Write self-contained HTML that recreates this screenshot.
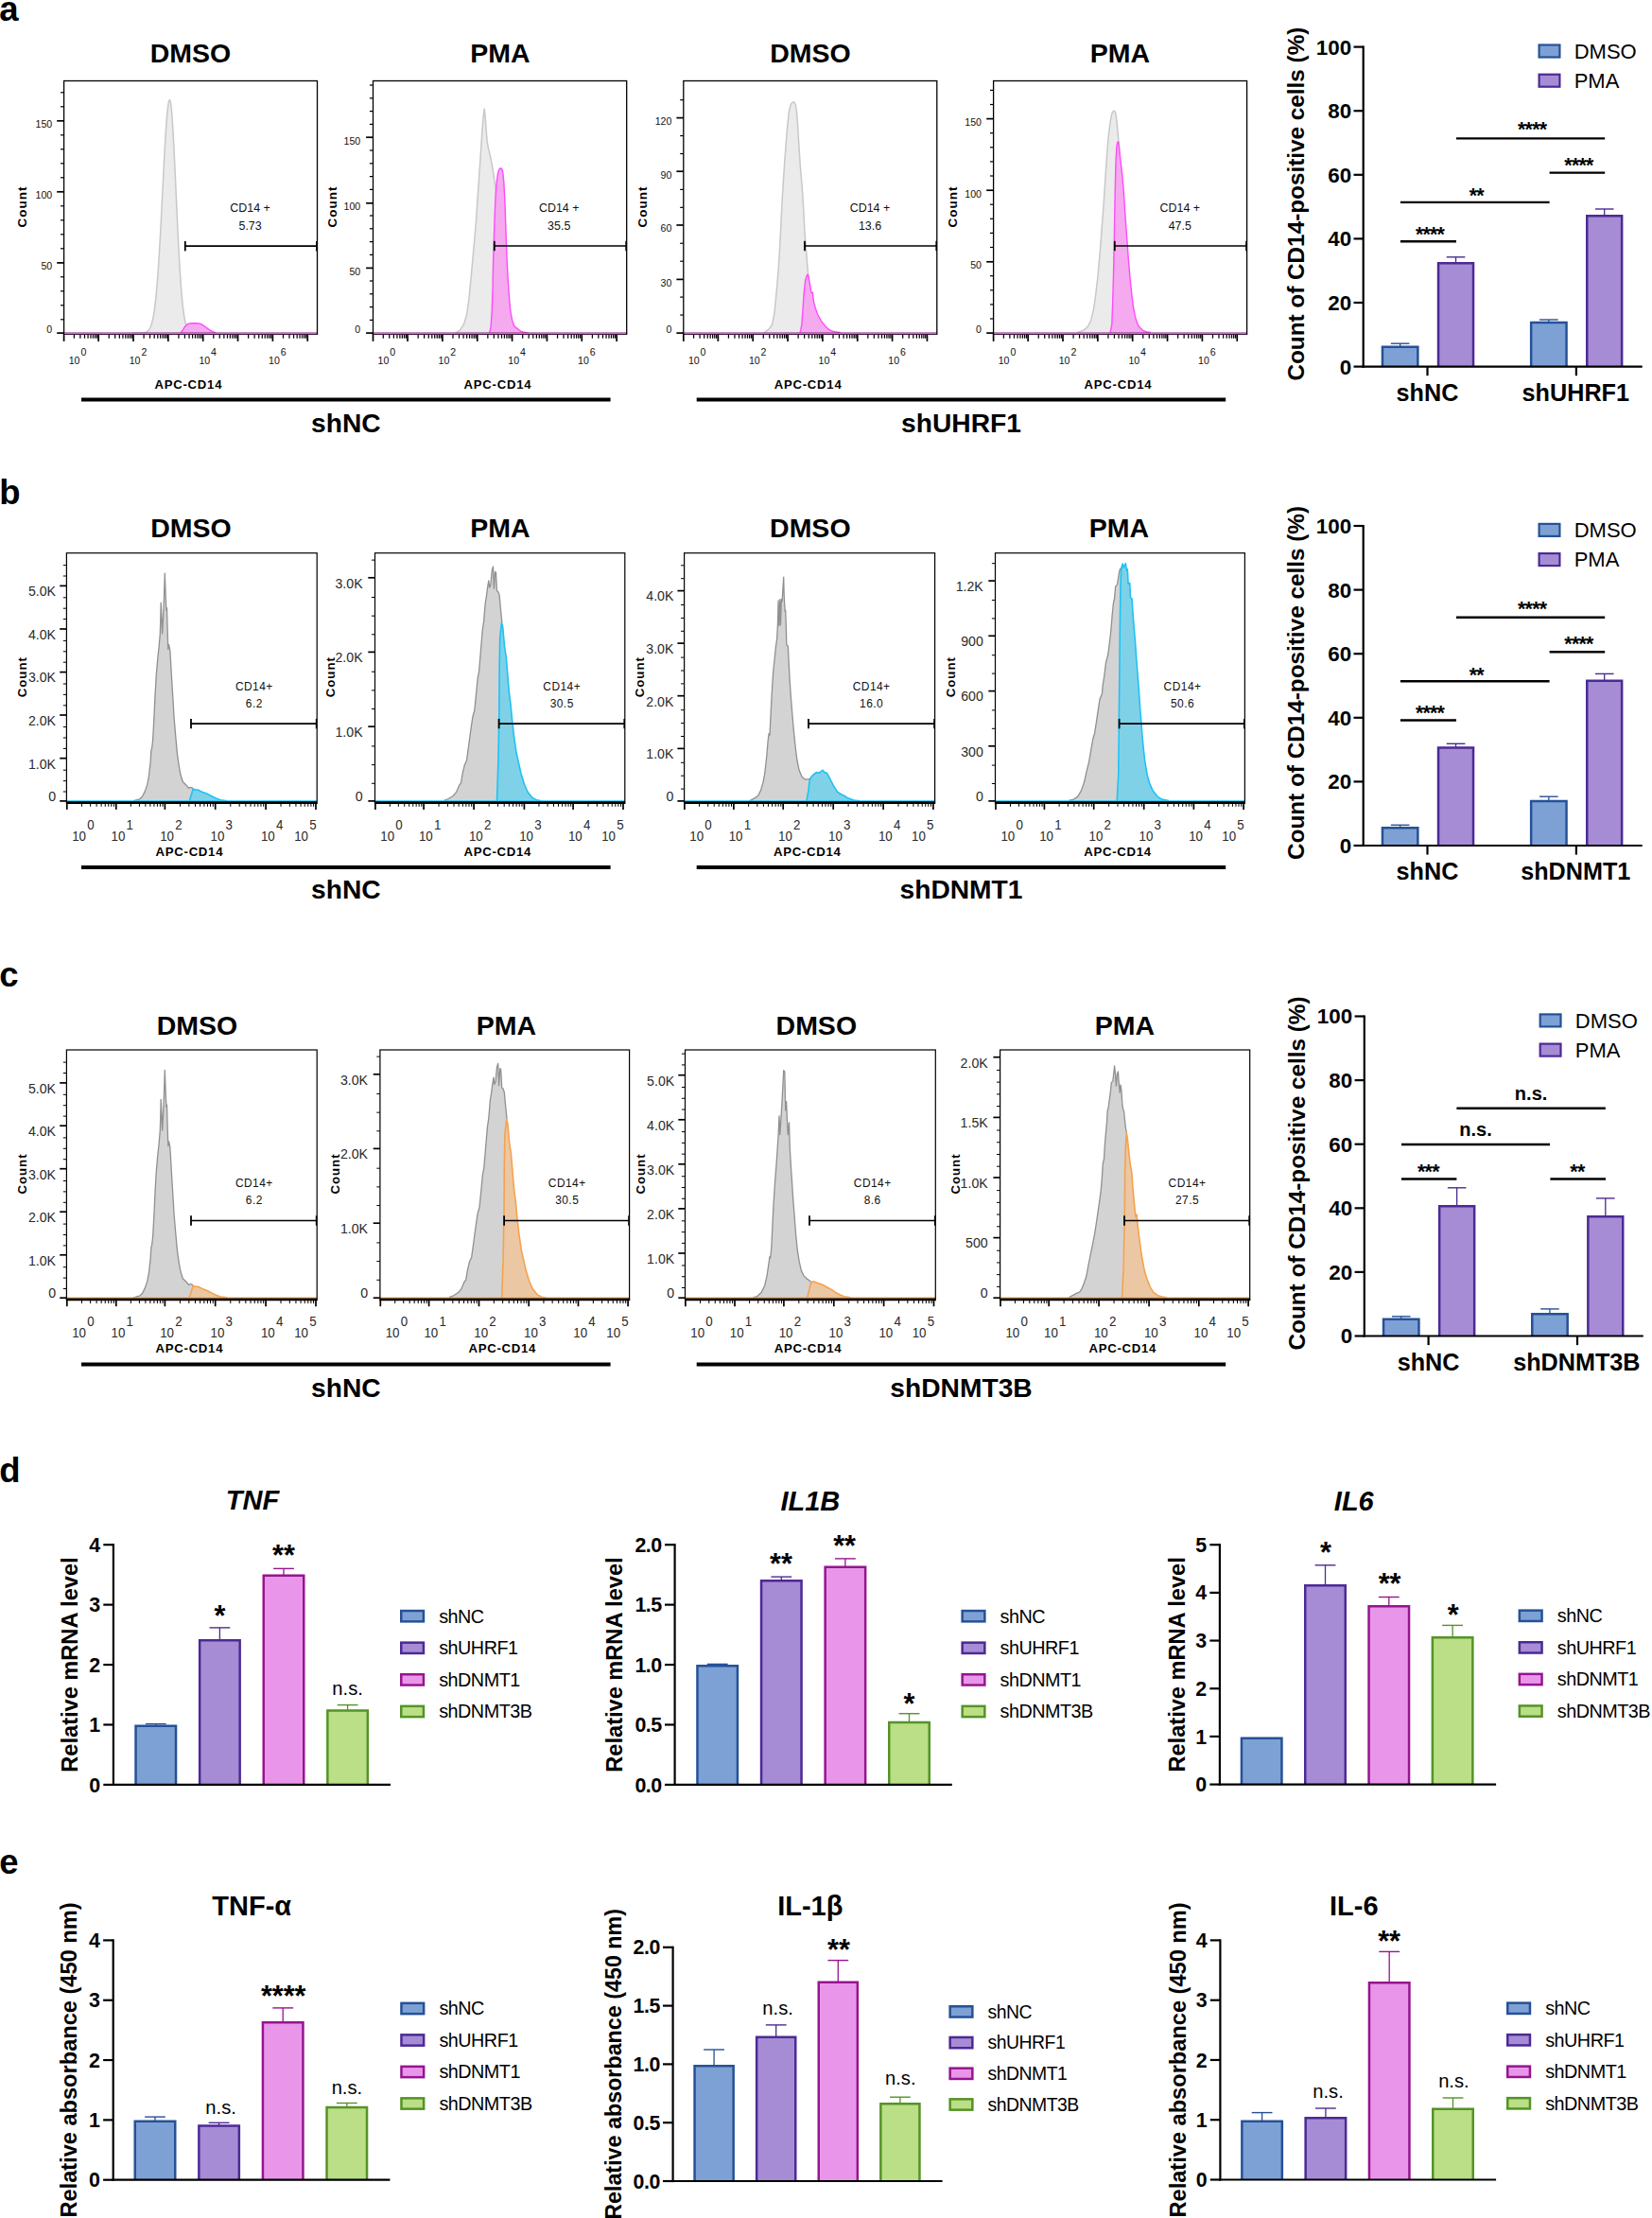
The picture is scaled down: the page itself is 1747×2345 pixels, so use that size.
<!DOCTYPE html>
<html lang="en"><head><meta charset="utf-8"><title>Figure</title>
<style>html,body{margin:0;padding:0;background:#fff}body{width:1747px;height:2345px;overflow:hidden}svg{display:block}text{white-space:pre}</style></head>
<body>
<svg width="1747" height="2345" viewBox="0 0 1747 2345" font-family='"Liberation Sans", Arial, Helvetica, sans-serif' fill="#000">
<rect x="0" y="0" width="1747" height="2345" fill="#fff"/>
<text x="-0.8" y="22.2" font-size="36.5" font-weight="bold">a</text>
<text x="-0.8" y="532.8" font-size="36.5" font-weight="bold">b</text>
<text x="-0.8" y="1043" font-size="36.5" font-weight="bold">c</text>
<text x="-0.8" y="1567.3" font-size="36.5" font-weight="bold">d</text>
<text x="-0.8" y="1981" font-size="36.5" font-weight="bold">e</text>
<path d="M140 352.1 L140 352.1 L140.5 352.1 L141 352.1 L141.5 352.1 L142 352.1 L142.5 352.1 L143 352.1 L143.5 352.1 L144 352.1 L144.5 352.1 L145 352.1 L145.5 352.1 L146 352.1 L146.5 352.1 L147 352.1 L147.5 352.1 L148 352.1 L148.5 352 L149 352 L149.5 352 L150 352 L150.5 352 L151 351.9 L151.5 351.9 L152 351.8 L152.5 351.7 L153 351.6 L153.5 351.5 L154 351.3 L154.5 351.1 L155 350.9 L155.5 350.6 L156 350.2 L156.5 349.8 L157 349.3 L157.5 348.6 L158 347.9 L158.5 347 L159 346 L159.5 344.8 L160 343.4 L160.5 341.8 L161 339.9 L161.5 337.8 L162 335.4 L162.5 332.6 L163 329.5 L163.5 326 L164 322.2 L164.5 317.8 L165 313.1 L165.5 307.8 L166 302.1 L166.5 295.9 L167 289.3 L167.5 282.1 L168 274.5 L168.5 266.4 L169 257.9 L169.5 249 L170 239.7 L170.5 230.2 L171 220.4 L171.5 210.6 L172 200.6 L172.5 190.7 L173 180.8 L173.5 171.2 L174 161.9 L174.5 153 L175 144.6 L175.5 136.8 L176 129.7 L176.5 123.4 L177 117.9 L177.5 113.4 L178 109.9 L178.5 107.4 L179 106 L179.5 105.6 L180 106.6 L180.5 108.9 L181 112.5 L181.5 117.4 L182 123.5 L182.5 130.6 L183 138.7 L183.5 147.7 L184 157.4 L184.5 167.6 L185 178.3 L185.5 189.2 L186 200.4 L186.5 211.5 L187 222.6 L187.5 233.4 L188 243.9 L188.5 254.1 L189 263.8 L189.5 273 L190 281.6 L190.5 289.6 L191 297 L191.5 303.8 L192 310 L192.5 315.7 L193 320.7 L193.5 325.2 L194 329.2 L194.5 332.7 L195 335.7 L195.5 338.4 L196 340.6 L196.5 342.6 L197 344.3 L197.5 345.7 L198 346.9 L198.5 347.9 L199 348.7 L199.5 349.4 L200 349.9 L200.5 350.4 L201 350.7 L201.5 351 L202 351.3 L202.5 351.5 L203 351.6 L203.5 351.7 L204 351.8 L204.5 351.9 L205 351.9 L205.5 352 L206 352 L206.5 352 L207 352 L207.5 352.1 L208 352.1 L208.5 352.1 L209 352.1 L209.5 352.1 L210 352.1 L210.5 352.1 L211 352.1 L211.5 352.1 L212 352.1 L212.5 352.1 L213 352.1 L213.5 352.1 L214 352.1 L214.5 352.1 L215 352.1 L215 352.1 Z" fill="#ebebeb"/>
<path d="M140 352.1 L140.5 352.1 L141 352.1 L141.5 352.1 L142 352.1 L142.5 352.1 L143 352.1 L143.5 352.1 L144 352.1 L144.5 352.1 L145 352.1 L145.5 352.1 L146 352.1 L146.5 352.1 L147 352.1 L147.5 352.1 L148 352.1 L148.5 352 L149 352 L149.5 352 L150 352 L150.5 352 L151 351.9 L151.5 351.9 L152 351.8 L152.5 351.7 L153 351.6 L153.5 351.5 L154 351.3 L154.5 351.1 L155 350.9 L155.5 350.6 L156 350.2 L156.5 349.8 L157 349.3 L157.5 348.6 L158 347.9 L158.5 347 L159 346 L159.5 344.8 L160 343.4 L160.5 341.8 L161 339.9 L161.5 337.8 L162 335.4 L162.5 332.6 L163 329.5 L163.5 326 L164 322.2 L164.5 317.8 L165 313.1 L165.5 307.8 L166 302.1 L166.5 295.9 L167 289.3 L167.5 282.1 L168 274.5 L168.5 266.4 L169 257.9 L169.5 249 L170 239.7 L170.5 230.2 L171 220.4 L171.5 210.6 L172 200.6 L172.5 190.7 L173 180.8 L173.5 171.2 L174 161.9 L174.5 153 L175 144.6 L175.5 136.8 L176 129.7 L176.5 123.4 L177 117.9 L177.5 113.4 L178 109.9 L178.5 107.4 L179 106 L179.5 105.6 L180 106.6 L180.5 108.9 L181 112.5 L181.5 117.4 L182 123.5 L182.5 130.6 L183 138.7 L183.5 147.7 L184 157.4 L184.5 167.6 L185 178.3 L185.5 189.2 L186 200.4 L186.5 211.5 L187 222.6 L187.5 233.4 L188 243.9 L188.5 254.1 L189 263.8 L189.5 273 L190 281.6 L190.5 289.6 L191 297 L191.5 303.8 L192 310 L192.5 315.7 L193 320.7 L193.5 325.2 L194 329.2 L194.5 332.7 L195 335.7 L195.5 338.4 L196 340.6 L196.5 342.6 L197 344.3 L197.5 345.7 L198 346.9 L198.5 347.9 L199 348.7 L199.5 349.4 L200 349.9 L200.5 350.4 L201 350.7 L201.5 351 L202 351.3 L202.5 351.5 L203 351.6 L203.5 351.7 L204 351.8 L204.5 351.9 L205 351.9 L205.5 352 L206 352 L206.5 352 L207 352 L207.5 352.1 L208 352.1 L208.5 352.1 L209 352.1 L209.5 352.1 L210 352.1 L210.5 352.1 L211 352.1 L211.5 352.1 L212 352.1 L212.5 352.1 L213 352.1 L213.5 352.1 L214 352.1 L214.5 352.1 L215 352.1" fill="none" stroke="#c8c8c8" stroke-width="1.5" stroke-linejoin="round"/>
<path d="M191 352.1 L191 352.1 L191.5 351.4 L192 350.7 L192.5 350 L193 349.3 L193.5 348.6 L194 347.8 L194.5 347 L195 346.2 L195.5 345.5 L196 344.8 L196.5 344.3 L197 343.8 L197.5 343.5 L198 343.1 L198.5 342.7 L199 342.4 L199.5 342.3 L200 342.2 L200.5 342.1 L201 342 L201.5 341.9 L202 341.9 L202.5 341.8 L203 341.7 L203.5 341.7 L204 341.7 L204.5 341.7 L205 341.7 L205.5 341.7 L206 341.7 L206.5 341.7 L207 341.7 L207.5 341.7 L208 341.7 L208.5 341.8 L209 341.9 L209.5 342 L210 342.1 L210.5 342.1 L211 342.2 L211.5 342.3 L212 342.4 L212.5 342.6 L213 342.8 L213.5 343.1 L214 343.4 L214.5 343.8 L215 344.1 L215.5 344.4 L216 344.7 L216.5 345.1 L217 345.5 L217.5 345.8 L218 346.2 L218.5 346.6 L219 346.9 L219.5 347.3 L220 347.7 L220.5 348 L221 348.3 L221.5 348.7 L222 349 L222.5 349.3 L223 349.6 L223.5 350 L224 350.2 L224.5 350.5 L225 350.7 L225.5 350.9 L226 351.1 L226.5 351.2 L227 351.4 L227.5 351.6 L228 351.8 L228 352.1 Z" fill="#f5a9ef"/>
<path d="M191 352.1 L191.5 351.4 L192 350.7 L192.5 350 L193 349.3 L193.5 348.6 L194 347.8 L194.5 347 L195 346.2 L195.5 345.5 L196 344.8 L196.5 344.3 L197 343.8 L197.5 343.5 L198 343.1 L198.5 342.7 L199 342.4 L199.5 342.3 L200 342.2 L200.5 342.1 L201 342 L201.5 341.9 L202 341.9 L202.5 341.8 L203 341.7 L203.5 341.7 L204 341.7 L204.5 341.7 L205 341.7 L205.5 341.7 L206 341.7 L206.5 341.7 L207 341.7 L207.5 341.7 L208 341.7 L208.5 341.8 L209 341.9 L209.5 342 L210 342.1 L210.5 342.1 L211 342.2 L211.5 342.3 L212 342.4 L212.5 342.6 L213 342.8 L213.5 343.1 L214 343.4 L214.5 343.8 L215 344.1 L215.5 344.4 L216 344.7 L216.5 345.1 L217 345.5 L217.5 345.8 L218 346.2 L218.5 346.6 L219 346.9 L219.5 347.3 L220 347.7 L220.5 348 L221 348.3 L221.5 348.7 L222 349 L222.5 349.3 L223 349.6 L223.5 350 L224 350.2 L224.5 350.5 L225 350.7 L225.5 350.9 L226 351.1 L226.5 351.2 L227 351.4 L227.5 351.6 L228 351.8" fill="none" stroke="#ff4bfb" stroke-width="1.4" stroke-linejoin="round"/>
<rect x="67.6" y="85.5" width="267.9" height="266.8" fill="none" stroke="#000" stroke-width="1.3"/>
<line x1="67.6" y1="352.8" x2="67.6" y2="360.9" stroke="#000" stroke-width="1.7"/>
<line x1="78.39" y1="352.8" x2="78.39" y2="357.7" stroke="#000" stroke-width="1.25"/>
<line x1="84.88" y1="352.8" x2="84.88" y2="357.7" stroke="#000" stroke-width="1.25"/>
<line x1="89.49" y1="352.8" x2="89.49" y2="357.7" stroke="#000" stroke-width="1.25"/>
<line x1="93.06" y1="352.8" x2="93.06" y2="357.7" stroke="#000" stroke-width="1.25"/>
<line x1="95.97" y1="352.8" x2="95.97" y2="357.7" stroke="#000" stroke-width="1.25"/>
<line x1="98.44" y1="352.8" x2="98.44" y2="357.7" stroke="#000" stroke-width="1.25"/>
<line x1="100.58" y1="352.8" x2="100.58" y2="357.7" stroke="#000" stroke-width="1.25"/>
<line x1="102.46" y1="352.8" x2="102.46" y2="357.7" stroke="#000" stroke-width="1.25"/>
<line x1="104.15" y1="352.8" x2="104.15" y2="360.9" stroke="#000" stroke-width="1.7"/>
<line x1="115.24" y1="352.8" x2="115.24" y2="357.7" stroke="#000" stroke-width="1.25"/>
<line x1="121.73" y1="352.8" x2="121.73" y2="357.7" stroke="#000" stroke-width="1.25"/>
<line x1="126.34" y1="352.8" x2="126.34" y2="357.7" stroke="#000" stroke-width="1.25"/>
<line x1="129.91" y1="352.8" x2="129.91" y2="357.7" stroke="#000" stroke-width="1.25"/>
<line x1="132.82" y1="352.8" x2="132.82" y2="357.7" stroke="#000" stroke-width="1.25"/>
<line x1="135.29" y1="352.8" x2="135.29" y2="357.7" stroke="#000" stroke-width="1.25"/>
<line x1="137.43" y1="352.8" x2="137.43" y2="357.7" stroke="#000" stroke-width="1.25"/>
<line x1="139.31" y1="352.8" x2="139.31" y2="357.7" stroke="#000" stroke-width="1.25"/>
<line x1="141" y1="352.8" x2="141" y2="360.9" stroke="#000" stroke-width="1.7"/>
<line x1="152.09" y1="352.8" x2="152.09" y2="357.7" stroke="#000" stroke-width="1.25"/>
<line x1="158.58" y1="352.8" x2="158.58" y2="357.7" stroke="#000" stroke-width="1.25"/>
<line x1="163.19" y1="352.8" x2="163.19" y2="357.7" stroke="#000" stroke-width="1.25"/>
<line x1="166.76" y1="352.8" x2="166.76" y2="357.7" stroke="#000" stroke-width="1.25"/>
<line x1="169.67" y1="352.8" x2="169.67" y2="357.7" stroke="#000" stroke-width="1.25"/>
<line x1="172.14" y1="352.8" x2="172.14" y2="357.7" stroke="#000" stroke-width="1.25"/>
<line x1="174.28" y1="352.8" x2="174.28" y2="357.7" stroke="#000" stroke-width="1.25"/>
<line x1="176.16" y1="352.8" x2="176.16" y2="357.7" stroke="#000" stroke-width="1.25"/>
<line x1="177.85" y1="352.8" x2="177.85" y2="360.9" stroke="#000" stroke-width="1.7"/>
<line x1="188.94" y1="352.8" x2="188.94" y2="357.7" stroke="#000" stroke-width="1.25"/>
<line x1="195.43" y1="352.8" x2="195.43" y2="357.7" stroke="#000" stroke-width="1.25"/>
<line x1="200.04" y1="352.8" x2="200.04" y2="357.7" stroke="#000" stroke-width="1.25"/>
<line x1="203.61" y1="352.8" x2="203.61" y2="357.7" stroke="#000" stroke-width="1.25"/>
<line x1="206.52" y1="352.8" x2="206.52" y2="357.7" stroke="#000" stroke-width="1.25"/>
<line x1="208.99" y1="352.8" x2="208.99" y2="357.7" stroke="#000" stroke-width="1.25"/>
<line x1="211.13" y1="352.8" x2="211.13" y2="357.7" stroke="#000" stroke-width="1.25"/>
<line x1="213.01" y1="352.8" x2="213.01" y2="357.7" stroke="#000" stroke-width="1.25"/>
<line x1="214.7" y1="352.8" x2="214.7" y2="360.9" stroke="#000" stroke-width="1.7"/>
<line x1="225.79" y1="352.8" x2="225.79" y2="357.7" stroke="#000" stroke-width="1.25"/>
<line x1="232.28" y1="352.8" x2="232.28" y2="357.7" stroke="#000" stroke-width="1.25"/>
<line x1="236.89" y1="352.8" x2="236.89" y2="357.7" stroke="#000" stroke-width="1.25"/>
<line x1="240.46" y1="352.8" x2="240.46" y2="357.7" stroke="#000" stroke-width="1.25"/>
<line x1="243.37" y1="352.8" x2="243.37" y2="357.7" stroke="#000" stroke-width="1.25"/>
<line x1="245.84" y1="352.8" x2="245.84" y2="357.7" stroke="#000" stroke-width="1.25"/>
<line x1="247.98" y1="352.8" x2="247.98" y2="357.7" stroke="#000" stroke-width="1.25"/>
<line x1="249.86" y1="352.8" x2="249.86" y2="357.7" stroke="#000" stroke-width="1.25"/>
<line x1="251.55" y1="352.8" x2="251.55" y2="360.9" stroke="#000" stroke-width="1.7"/>
<line x1="262.64" y1="352.8" x2="262.64" y2="357.7" stroke="#000" stroke-width="1.25"/>
<line x1="269.13" y1="352.8" x2="269.13" y2="357.7" stroke="#000" stroke-width="1.25"/>
<line x1="273.74" y1="352.8" x2="273.74" y2="357.7" stroke="#000" stroke-width="1.25"/>
<line x1="277.31" y1="352.8" x2="277.31" y2="357.7" stroke="#000" stroke-width="1.25"/>
<line x1="280.22" y1="352.8" x2="280.22" y2="357.7" stroke="#000" stroke-width="1.25"/>
<line x1="282.69" y1="352.8" x2="282.69" y2="357.7" stroke="#000" stroke-width="1.25"/>
<line x1="284.83" y1="352.8" x2="284.83" y2="357.7" stroke="#000" stroke-width="1.25"/>
<line x1="286.71" y1="352.8" x2="286.71" y2="357.7" stroke="#000" stroke-width="1.25"/>
<line x1="288.4" y1="352.8" x2="288.4" y2="360.9" stroke="#000" stroke-width="1.7"/>
<line x1="299.49" y1="352.8" x2="299.49" y2="357.7" stroke="#000" stroke-width="1.25"/>
<line x1="305.98" y1="352.8" x2="305.98" y2="357.7" stroke="#000" stroke-width="1.25"/>
<line x1="310.59" y1="352.8" x2="310.59" y2="357.7" stroke="#000" stroke-width="1.25"/>
<line x1="314.16" y1="352.8" x2="314.16" y2="357.7" stroke="#000" stroke-width="1.25"/>
<line x1="317.07" y1="352.8" x2="317.07" y2="357.7" stroke="#000" stroke-width="1.25"/>
<line x1="319.54" y1="352.8" x2="319.54" y2="357.7" stroke="#000" stroke-width="1.25"/>
<line x1="321.68" y1="352.8" x2="321.68" y2="357.7" stroke="#000" stroke-width="1.25"/>
<line x1="323.56" y1="352.8" x2="323.56" y2="357.7" stroke="#000" stroke-width="1.25"/>
<line x1="325.25" y1="352.8" x2="325.25" y2="360.9" stroke="#000" stroke-width="1.7"/>
<text transform="translate(78.6,384.6) scale(1.06,1)" font-size="10" text-anchor="middle" fill="#111">10</text>
<text transform="translate(85.4,375.5) scale(1.06,1)" font-size="10" fill="#111">0</text>
<text transform="translate(142.6,384.6) scale(1.06,1)" font-size="10" text-anchor="middle" fill="#111">10</text>
<text transform="translate(149.4,375.5) scale(1.06,1)" font-size="10" fill="#111">2</text>
<text transform="translate(216.3,384.6) scale(1.06,1)" font-size="10" text-anchor="middle" fill="#111">10</text>
<text transform="translate(223.1,375.5) scale(1.06,1)" font-size="10" fill="#111">4</text>
<text transform="translate(290,384.6) scale(1.06,1)" font-size="10" text-anchor="middle" fill="#111">10</text>
<text transform="translate(296.8,375.5) scale(1.06,1)" font-size="10" fill="#111">6</text>
<line x1="60.2" y1="127.8" x2="67.6" y2="127.8" stroke="#000" stroke-width="1.7"/>
<text transform="translate(55.2,135.1) scale(1.04,1)" font-size="10.2" text-anchor="end" fill="#111">150</text>
<line x1="60.2" y1="202.8" x2="67.6" y2="202.8" stroke="#000" stroke-width="1.7"/>
<text transform="translate(55.2,210.1) scale(1.04,1)" font-size="10.2" text-anchor="end" fill="#111">100</text>
<line x1="60.2" y1="277.9" x2="67.6" y2="277.9" stroke="#000" stroke-width="1.7"/>
<text transform="translate(55.2,285.2) scale(1.04,1)" font-size="10.2" text-anchor="end" fill="#111">50</text>
<line x1="60.2" y1="352.1" x2="67.6" y2="352.1" stroke="#000" stroke-width="1.7"/>
<text transform="translate(55.2,352.3) scale(1.04,1)" font-size="10.2" text-anchor="end" fill="#111">0</text>
<line x1="64" y1="97.8" x2="67.6" y2="97.8" stroke="#000" stroke-width="1.2"/>
<line x1="64" y1="112.8" x2="67.6" y2="112.8" stroke="#000" stroke-width="1.2"/>
<line x1="64" y1="142.8" x2="67.6" y2="142.8" stroke="#000" stroke-width="1.2"/>
<line x1="64" y1="157.8" x2="67.6" y2="157.8" stroke="#000" stroke-width="1.2"/>
<line x1="64" y1="172.8" x2="67.6" y2="172.8" stroke="#000" stroke-width="1.2"/>
<line x1="64" y1="187.8" x2="67.6" y2="187.8" stroke="#000" stroke-width="1.2"/>
<line x1="64" y1="217.8" x2="67.6" y2="217.8" stroke="#000" stroke-width="1.2"/>
<line x1="64" y1="232.8" x2="67.6" y2="232.8" stroke="#000" stroke-width="1.2"/>
<line x1="64" y1="247.8" x2="67.6" y2="247.8" stroke="#000" stroke-width="1.2"/>
<line x1="64" y1="262.8" x2="67.6" y2="262.8" stroke="#000" stroke-width="1.2"/>
<line x1="64" y1="292.8" x2="67.6" y2="292.8" stroke="#000" stroke-width="1.2"/>
<line x1="64" y1="307.8" x2="67.6" y2="307.8" stroke="#000" stroke-width="1.2"/>
<line x1="64" y1="322.8" x2="67.6" y2="322.8" stroke="#000" stroke-width="1.2"/>
<line x1="64" y1="337.8" x2="67.6" y2="337.8" stroke="#000" stroke-width="1.2"/>
<line x1="67" y1="353.3" x2="336.1" y2="353.3" stroke="#000" stroke-width="1.4"/>
<line x1="68.2" y1="352.5" x2="334.9" y2="352.5" stroke="#ff4bfb" stroke-width="1.3"/>
<text x="199.35" y="411.1" font-size="13.1" font-weight="bold" text-anchor="middle" letter-spacing="0.8">APC-CD14</text>
<text transform="translate(28.4,218.6) rotate(-90)" font-size="13.5" font-weight="bold" text-anchor="middle" letter-spacing="1">Count</text>
<line x1="195.8" y1="260.2" x2="335.5" y2="260.2" stroke="#000" stroke-width="1.7"/>
<line x1="195.8" y1="255" x2="195.8" y2="265.4" stroke="#000" stroke-width="1.8"/>
<line x1="334.9" y1="255" x2="334.9" y2="265.4" stroke="#000" stroke-width="1.6"/>
<text transform="translate(264.6,224.2) scale(1.02,1)" font-size="12.2" text-anchor="middle" fill="#111">CD14 +</text>
<text transform="translate(264.6,242.8) scale(1.02,1)" font-size="12.2" text-anchor="middle" fill="#111">5.73</text>
<path d="M481.7 352.1 L481.7 351.9 L482.2 351.7 L482.6 351.4 L483 351.2 L483.5 350.9 L483.9 350.7 L484.3 350.4 L484.8 350.2 L485.2 349.9 L485.6 349.6 L486 349.4 L486.4 349 L486.7 348.7 L487 348.3 L487.3 347.9 L487.5 347.4 L487.8 347 L488.1 346.6 L488.3 346.2 L488.6 345.8 L488.9 345.3 L489.2 344.9 L489.4 344.5 L489.7 344.1 L489.9 343.6 L490.2 343.2 L490.4 342.8 L490.6 342.3 L490.8 341.8 L491 341.4 L491.1 340.9 L491.3 340.4 L491.4 339.9 L491.6 339.5 L491.7 339 L491.8 338.5 L492 338 L492.1 337.6 L492.3 337.1 L492.4 336.6 L492.6 336.1 L492.7 335.7 L492.9 335.2 L493 334.7 L493.2 334.2 L493.3 333.7 L493.4 333.3 L493.5 332.8 L493.6 332.3 L493.7 331.8 L493.8 331.3 L493.8 330.8 L493.9 330.3 L494 329.8 L494 329.3 L494.1 328.8 L494.2 328.3 L494.2 327.8 L494.3 327.3 L494.4 326.8 L494.5 326.3 L494.5 325.8 L494.6 325.3 L494.7 324.8 L494.7 324.4 L494.8 323.9 L494.9 323.4 L495 322.9 L495 322.4 L495.1 321.9 L495.2 321.4 L495.2 320.9 L495.3 320.4 L495.4 319.9 L495.5 319.4 L495.5 318.9 L495.6 318.4 L495.7 317.9 L495.7 317.4 L495.8 316.9 L495.8 316.4 L495.9 315.9 L496 315.4 L496 314.9 L496.1 314.4 L496.1 313.9 L496.2 313.4 L496.2 312.9 L496.3 312.4 L496.3 311.9 L496.4 311.5 L496.4 311 L496.5 310.5 L496.5 310 L496.6 309.5 L496.6 309 L496.6 308.5 L496.7 308 L496.7 307.5 L496.8 307 L496.8 306.5 L496.9 306 L496.9 305.5 L497 305 L497 304.5 L497.1 304 L497.1 303.5 L497.2 303 L497.2 302.5 L497.3 302 L497.3 301.5 L497.4 301 L497.4 300.5 L497.5 300 L497.5 299.5 L497.6 299 L497.6 298.5 L497.7 298 L497.7 297.5 L497.8 297 L497.8 296.5 L497.9 296 L497.9 295.5 L498 295 L498 294.5 L498.1 294 L498.1 293.5 L498.2 293 L498.2 292.5 L498.3 292 L498.3 291.5 L498.4 291 L498.4 290.6 L498.5 290.1 L498.5 289.6 L498.5 289.1 L498.6 288.6 L498.6 288.1 L498.7 287.6 L498.7 287.1 L498.8 286.6 L498.8 286.1 L498.9 285.6 L498.9 285.1 L498.9 284.6 L499 284.1 L499 283.6 L499.1 283.1 L499.1 282.6 L499.2 282.1 L499.2 281.6 L499.3 281.1 L499.3 280.6 L499.4 280.1 L499.4 279.6 L499.4 279.1 L499.5 278.6 L499.5 278.1 L499.6 277.6 L499.6 277.1 L499.7 276.6 L499.7 276.1 L499.8 275.6 L499.8 275.1 L499.8 274.6 L499.9 274.1 L499.9 273.6 L500 273.1 L500 272.6 L500.1 272.1 L500.1 271.6 L500.2 271.1 L500.2 270.6 L500.3 270.1 L500.3 269.6 L500.3 269.1 L500.4 268.6 L500.4 268.1 L500.5 267.6 L500.5 267.1 L500.6 266.6 L500.6 266.1 L500.7 265.7 L500.7 265.2 L500.8 264.7 L500.8 264.2 L500.9 263.7 L500.9 263.2 L500.9 262.7 L501 262.2 L501 261.7 L501.1 261.2 L501.1 260.7 L501.2 260.2 L501.2 259.7 L501.3 259.2 L501.3 258.7 L501.4 258.2 L501.4 257.7 L501.5 257.2 L501.5 256.7 L501.6 256.2 L501.6 255.7 L501.6 255.2 L501.7 254.7 L501.7 254.2 L501.8 253.7 L501.8 253.2 L501.9 252.7 L501.9 252.2 L502 251.7 L502 251.2 L502 250.7 L502.1 250.2 L502.1 249.7 L502.2 249.2 L502.2 248.7 L502.3 248.2 L502.3 247.7 L502.4 247.2 L502.4 246.7 L502.4 246.2 L502.5 245.7 L502.5 245.2 L502.6 244.7 L502.6 244.2 L502.7 243.7 L502.7 243.2 L502.7 242.7 L502.8 242.2 L502.8 241.7 L502.9 241.2 L502.9 240.7 L503 240.3 L503 239.8 L503 239.3 L503.1 238.8 L503.1 238.3 L503.2 237.8 L503.2 237.3 L503.3 236.8 L503.3 236.3 L503.3 235.8 L503.4 235.3 L503.4 234.8 L503.5 234.3 L503.5 233.8 L503.5 233.3 L503.6 232.8 L503.6 232.3 L503.6 231.8 L503.7 231.3 L503.7 230.8 L503.7 230.3 L503.8 229.8 L503.8 229.3 L503.8 228.8 L503.9 228.3 L503.9 227.8 L503.9 227.3 L503.9 226.8 L504 226.3 L504 225.8 L504 225.3 L504.1 224.8 L504.1 224.3 L504.1 223.8 L504.2 223.3 L504.2 222.8 L504.2 222.3 L504.3 221.8 L504.3 221.3 L504.3 220.8 L504.4 220.3 L504.4 219.8 L504.4 219.3 L504.5 218.8 L504.5 218.3 L504.5 217.8 L504.6 217.3 L504.6 216.8 L504.6 216.3 L504.7 215.8 L504.7 215.3 L504.7 214.8 L504.8 214.3 L504.8 213.8 L504.8 213.3 L504.9 212.8 L504.9 212.3 L504.9 211.8 L505 211.3 L505 210.8 L505 210.3 L505.1 209.8 L505.1 209.3 L505.1 208.8 L505.2 208.3 L505.2 207.8 L505.2 207.3 L505.3 206.8 L505.3 206.3 L505.3 205.8 L505.4 205.3 L505.4 204.8 L505.4 204.3 L505.5 203.8 L505.5 203.3 L505.5 202.8 L505.6 202.3 L505.6 201.8 L505.7 201.3 L505.7 200.8 L505.7 200.3 L505.8 199.8 L505.8 199.3 L505.8 198.8 L505.9 198.3 L505.9 197.8 L505.9 197.4 L506 196.9 L506 196.4 L506 195.9 L506.1 195.4 L506.1 194.9 L506.1 194.4 L506.2 193.9 L506.2 193.4 L506.2 192.9 L506.3 192.4 L506.3 191.9 L506.4 191.4 L506.4 190.9 L506.4 190.4 L506.5 189.9 L506.5 189.4 L506.5 188.9 L506.6 188.4 L506.6 187.9 L506.6 187.4 L506.7 186.9 L506.7 186.4 L506.7 185.9 L506.8 185.4 L506.8 184.9 L506.8 184.4 L506.9 183.9 L506.9 183.4 L506.9 182.9 L507 182.4 L507 181.9 L507 181.4 L507.1 180.9 L507.1 180.4 L507.1 179.9 L507.2 179.4 L507.2 178.9 L507.2 178.4 L507.3 177.9 L507.3 177.4 L507.3 176.9 L507.4 176.4 L507.4 175.9 L507.4 175.4 L507.5 174.9 L507.5 174.4 L507.6 173.9 L507.6 173.4 L507.6 172.9 L507.7 172.4 L507.7 171.9 L507.7 171.4 L507.8 170.9 L507.8 170.4 L507.8 169.9 L507.9 169.4 L507.9 168.9 L507.9 168.4 L508 167.9 L508 167.4 L508 166.9 L508.1 166.4 L508.1 165.9 L508.1 165.4 L508.2 164.9 L508.2 164.4 L508.2 163.9 L508.3 163.4 L508.3 162.9 L508.3 162.4 L508.4 161.9 L508.4 161.4 L508.4 160.9 L508.5 160.4 L508.5 159.9 L508.5 159.4 L508.6 158.9 L508.6 158.4 L508.6 157.9 L508.6 157.4 L508.7 156.9 L508.7 156.4 L508.7 155.9 L508.8 155.4 L508.8 154.9 L508.8 154.4 L508.9 153.9 L508.9 153.4 L508.9 152.9 L509 152.4 L509 151.9 L509 151.5 L509.1 151 L509.1 150.5 L509.1 150 L509.2 149.5 L509.2 149 L509.2 148.5 L509.3 148 L509.3 147.5 L509.3 147 L509.4 146.5 L509.4 146 L509.4 145.5 L509.5 145 L509.5 144.5 L509.5 144 L509.6 143.5 L509.6 143 L509.6 142.5 L509.7 142 L509.7 141.5 L509.7 141 L509.8 140.5 L509.8 140 L509.8 139.5 L509.9 139 L509.9 138.5 L510 138 L510 137.5 L510 137 L510.1 136.5 L510.1 136 L510.1 135.5 L510.2 135 L510.2 134.5 L510.3 134 L510.3 133.5 L510.3 133 L510.4 132.5 L510.4 132 L510.4 131.5 L510.5 131 L510.5 130.5 L510.6 130 L510.6 129.5 L510.6 129 L510.7 128.5 L510.7 128 L510.7 127.5 L510.8 127 L510.8 126.5 L510.9 126 L510.9 125.5 L510.9 125 L511 124.5 L511 124 L511.1 123.5 L511.1 123 L511.2 122.5 L511.2 122 L511.3 121.5 L511.4 121 L511.4 120.5 L511.5 120 L511.6 119.6 L511.6 119.1 L511.7 118.6 L511.8 118.1 L511.8 117.6 L511.9 117.1 L512 116.6 L512 116.1 L512.1 115.7 L512.2 115.4 L512.2 115.3 L512.3 115.5 L512.3 115.8 L512.4 116.2 L512.4 116.7 L512.5 117.2 L512.5 117.7 L512.6 118.2 L512.6 118.7 L512.7 119.2 L512.8 119.7 L512.8 120.2 L512.9 120.7 L512.9 121.2 L513 121.7 L513 122.2 L513.1 122.7 L513.1 123.2 L513.2 123.7 L513.2 124.2 L513.2 124.7 L513.3 125.2 L513.3 125.7 L513.3 126.2 L513.4 126.7 L513.4 127.2 L513.5 127.7 L513.5 128.2 L513.5 128.7 L513.6 129.2 L513.6 129.7 L513.6 130.2 L513.7 130.7 L513.7 131.2 L513.7 131.7 L513.8 132.2 L513.8 132.7 L513.8 133.2 L513.9 133.6 L513.9 134.1 L513.9 134.6 L514 135.1 L514 135.6 L514.1 136.1 L514.1 136.6 L514.1 137.1 L514.2 137.6 L514.2 138.1 L514.3 138.6 L514.3 139.1 L514.3 139.6 L514.4 140.1 L514.4 140.6 L514.5 141.1 L514.5 141.6 L514.6 142.1 L514.6 142.6 L514.6 143.1 L514.7 143.6 L514.7 144.1 L514.8 144.6 L514.8 145.1 L514.8 145.6 L514.9 146.1 L514.9 146.6 L515 147.1 L515 147.6 L515.1 148.1 L515.1 148.6 L515.2 149.1 L515.2 149.6 L515.3 150.1 L515.4 150.6 L515.5 151.1 L515.5 151.6 L515.6 152.1 L515.7 152.6 L515.8 153 L515.9 153.5 L515.9 154 L516 154.5 L516.1 155 L516.2 155.5 L516.3 156 L516.4 156.5 L516.5 157 L516.6 157.5 L516.7 158 L516.9 158.4 L517 158.9 L517.1 159.4 L517.2 159.9 L517.3 160.4 L517.5 160.9 L517.6 161.3 L517.7 161.8 L517.8 162.3 L517.9 162.8 L518.1 163.3 L518.2 163.8 L518.3 164.3 L518.4 164.8 L518.5 165.2 L518.6 165.7 L518.7 166.2 L518.8 166.7 L518.9 167.2 L519 167.7 L519.1 168.2 L519.2 168.7 L519.3 169.2 L519.4 169.6 L519.5 170.1 L519.6 170.6 L519.7 171.1 L519.8 171.6 L519.9 172.1 L520 172.6 L520.1 173.1 L520.2 173.6 L520.3 174.1 L520.3 174.6 L520.4 175.1 L520.5 175.5 L520.6 176 L520.7 176.5 L520.8 177 L520.8 177.5 L520.9 178 L521 178.5 L521.1 179 L521.2 179.5 L521.2 180 L521.3 180.5 L521.4 181 L521.5 181.5 L521.6 182 L521.7 182.5 L521.7 182.9 L521.8 183.4 L521.9 183.9 L522 184.4 L522 184.9 L522.1 185.4 L522.2 185.9 L522.2 186.4 L522.3 186.9 L522.4 187.4 L522.5 187.9 L522.5 188.4 L522.6 188.9 L522.7 189.4 L522.8 189.9 L522.8 190.4 L522.9 190.9 L523 191.4 L523.1 191.8 L523.1 192.3 L523.2 192.8 L523.3 193.3 L523.4 193.8 L523.5 194.3 L523.5 194.8 L523.6 195.3 L523.7 195.8 L523.8 196.3 L523.9 196.8 L523.9 197.3 L524 197.8 L524.1 198.3 L524.1 198.8 L524.2 199.3 L524.2 199.8 L524.3 200.3 L524.3 200.8 L524.4 201.3 L524.5 201.7 L524.5 202.2 L524.6 202.7 L524.6 203.2 L524.7 203.7 L524.8 204.2 L524.8 204.7 L524.9 205.2 L524.9 205.7 L525 206.2 L525 206.7 L525.1 207.2 L525.2 207.7 L525.2 208.2 L525.3 208.7 L525.3 209.2 L525.4 209.7 L525.5 210.2 L525.5 210.7 L525.6 211.2 L525.6 211.7 L525.7 212.2 L525.8 212.7 L525.8 213.2 L525.9 213.7 L525.9 214.2 L526 214.7 L526 215.2 L526.1 215.7 L526.2 216.2 L526.2 216.6 L526.3 217.1 L526.3 217.6 L526.3 218.1 L526.3 218.6 L526.4 219.1 L526.4 219.6 L526.4 220.1 L526.4 220.6 L526.4 221.1 L526.5 221.6 L526.5 222.1 L526.5 222.6 L526.5 223.1 L526.5 223.6 L526.6 224.1 L526.6 224.6 L526.6 225.1 L526.6 225.6 L526.6 226.1 L526.7 226.6 L526.7 227.1 L526.7 227.6 L526.7 228.1 L526.7 228.6 L526.8 229.1 L526.8 229.6 L526.8 230.1 L526.8 230.6 L526.8 231.1 L526.9 231.6 L526.9 232.1 L526.9 232.6 L526.9 233.1 L526.9 233.6 L527 234.1 L527 234.6 L527 235.1 L527 235.6 L527 236.1 L527.1 236.6 L527.1 237.1 L527.1 237.6 L527.1 238.1 L527.1 238.6 L527.2 239.1 L527.2 239.6 L527.2 240.1 L527.2 240.6 L527.2 241.1 L527.3 241.6 L527.3 242.1 L527.3 242.6 L527.3 243.1 L527.3 243.6 L527.4 244.1 L527.4 244.6 L527.4 245.1 L527.4 245.6 L527.4 246.1 L527.5 246.6 L527.5 247.1 L527.5 247.6 L527.5 248.1 L527.5 248.6 L527.6 249.1 L527.6 249.6 L527.6 250.1 L527.6 250.6 L527.6 251.1 L527.7 251.6 L527.7 252.1 L527.7 252.6 L527.7 253.1 L527.7 253.6 L527.8 254.1 L527.8 254.6 L527.8 255.1 L527.8 255.6 L527.8 256.1 L527.9 256.6 L527.9 257.1 L527.9 257.6 L527.9 258.1 L527.9 258.6 L528 259.1 L528 259.6 L528 260.1 L528 260.6 L528 261.1 L528.1 261.6 L528.1 262.1 L528.1 262.6 L528.1 263.1 L528.1 263.6 L528.2 264.1 L528.2 264.6 L528.2 265.1 L528.2 265.6 L528.2 266.1 L528.3 266.6 L528.3 267.1 L528.3 267.6 L528.3 268.1 L528.3 268.6 L528.4 269.1 L528.4 269.6 L528.4 270.1 L528.4 270.6 L528.4 271.1 L528.5 271.6 L528.5 272.1 L528.5 272.6 L528.5 273.1 L528.5 273.6 L528.6 274.1 L528.6 274.6 L528.6 275.1 L528.6 275.6 L528.6 276.1 L528.7 276.6 L528.7 277.1 L528.7 277.6 L528.7 278.1 L528.7 278.6 L528.8 279.1 L528.8 279.6 L528.8 280.1 L528.8 280.6 L528.8 281.1 L528.9 281.6 L528.9 282.1 L528.9 282.6 L528.9 283.1 L528.9 283.6 L529 284.1 L529 284.6 L529 285.1 L529 285.6 L529 286.1 L529.1 286.6 L529.1 287.1 L529.1 287.6 L529.1 288.1 L529.1 288.6 L529.2 289.1 L529.2 289.6 L529.2 290.1 L529.2 290.6 L529.2 291.1 L529.3 291.6 L529.3 292.1 L529.3 292.6 L529.3 293.1 L529.3 293.6 L529.4 294.1 L529.4 294.6 L529.4 295.1 L529.4 295.6 L529.4 296.1 L529.5 296.6 L529.5 297.1 L529.5 297.6 L529.5 298.1 L529.5 298.6 L529.6 299.1 L529.6 299.6 L529.6 300.1 L529.6 300.6 L529.6 301.1 L529.7 301.6 L529.7 302.1 L529.7 302.6 L529.7 303.1 L529.7 303.6 L529.8 304.1 L529.8 304.6 L529.8 305.1 L529.8 305.6 L529.8 306.1 L529.9 306.6 L529.9 307.1 L529.9 307.6 L529.9 308.1 L529.9 308.6 L530 309.1 L530 309.6 L530 310.1 L530 310.6 L530 311.1 L530.1 311.6 L530.1 312.1 L530.1 312.6 L530.1 313.1 L530.1 313.6 L530.2 314.1 L530.2 314.6 L530.2 315.1 L530.2 315.6 L530.2 316.1 L530.3 316.6 L530.3 317.1 L530.3 317.6 L530.3 318.1 L530.3 318.6 L530.4 319.1 L530.4 319.6 L530.4 320.1 L530.4 320.6 L530.4 321.1 L530.5 321.6 L530.5 322.1 L530.5 322.6 L530.5 323.1 L530.5 323.6 L530.6 324.1 L530.6 324.6 L530.6 325.1 L530.6 325.6 L530.6 326.1 L530.7 326.6 L530.7 327.1 L530.7 327.6 L530.7 328.1 L530.7 328.6 L530.8 329.1 L530.8 329.6 L530.8 330.1 L530.8 330.6 L530.8 331.1 L530.9 331.6 L530.9 332.1 L530.9 332.6 L530.9 333.1 L530.9 333.6 L531 334.1 L531 334.6 L531.1 335.1 L531.1 335.6 L531.2 336 L531.3 336.5 L531.3 337 L531.4 337.5 L531.5 338 L531.5 338.5 L531.6 339 L531.7 339.5 L531.7 340 L531.8 340.5 L531.9 341 L531.9 341.5 L532 342 L532.1 342.5 L532.1 343 L532.2 343.5 L532.3 344 L532.3 344.5 L532.4 345 L532.5 345.5 L532.5 346 L532.6 346.5 L532.7 347 L532.7 347.4 L532.8 347.9 L532.9 348.4 L532.9 348.9 L533 349.4 L533.1 349.9 L533.1 350.4 L533.2 350.9 L533.3 351.4 L533.3 351.9 L533.3 352.1 Z" fill="#ebebeb"/>
<path d="M481.7 351.9 L482.2 351.7 L482.6 351.4 L483 351.2 L483.5 350.9 L483.9 350.7 L484.3 350.4 L484.8 350.2 L485.2 349.9 L485.6 349.6 L486 349.4 L486.4 349 L486.7 348.7 L487 348.3 L487.3 347.9 L487.5 347.4 L487.8 347 L488.1 346.6 L488.3 346.2 L488.6 345.8 L488.9 345.3 L489.2 344.9 L489.4 344.5 L489.7 344.1 L489.9 343.6 L490.2 343.2 L490.4 342.8 L490.6 342.3 L490.8 341.8 L491 341.4 L491.1 340.9 L491.3 340.4 L491.4 339.9 L491.6 339.5 L491.7 339 L491.8 338.5 L492 338 L492.1 337.6 L492.3 337.1 L492.4 336.6 L492.6 336.1 L492.7 335.7 L492.9 335.2 L493 334.7 L493.2 334.2 L493.3 333.7 L493.4 333.3 L493.5 332.8 L493.6 332.3 L493.7 331.8 L493.8 331.3 L493.8 330.8 L493.9 330.3 L494 329.8 L494 329.3 L494.1 328.8 L494.2 328.3 L494.2 327.8 L494.3 327.3 L494.4 326.8 L494.5 326.3 L494.5 325.8 L494.6 325.3 L494.7 324.8 L494.7 324.4 L494.8 323.9 L494.9 323.4 L495 322.9 L495 322.4 L495.1 321.9 L495.2 321.4 L495.2 320.9 L495.3 320.4 L495.4 319.9 L495.5 319.4 L495.5 318.9 L495.6 318.4 L495.7 317.9 L495.7 317.4 L495.8 316.9 L495.8 316.4 L495.9 315.9 L496 315.4 L496 314.9 L496.1 314.4 L496.1 313.9 L496.2 313.4 L496.2 312.9 L496.3 312.4 L496.3 311.9 L496.4 311.5 L496.4 311 L496.5 310.5 L496.5 310 L496.6 309.5 L496.6 309 L496.6 308.5 L496.7 308 L496.7 307.5 L496.8 307 L496.8 306.5 L496.9 306 L496.9 305.5 L497 305 L497 304.5 L497.1 304 L497.1 303.5 L497.2 303 L497.2 302.5 L497.3 302 L497.3 301.5 L497.4 301 L497.4 300.5 L497.5 300 L497.5 299.5 L497.6 299 L497.6 298.5 L497.7 298 L497.7 297.5 L497.8 297 L497.8 296.5 L497.9 296 L497.9 295.5 L498 295 L498 294.5 L498.1 294 L498.1 293.5 L498.2 293 L498.2 292.5 L498.3 292 L498.3 291.5 L498.4 291 L498.4 290.6 L498.5 290.1 L498.5 289.6 L498.5 289.1 L498.6 288.6 L498.6 288.1 L498.7 287.6 L498.7 287.1 L498.8 286.6 L498.8 286.1 L498.9 285.6 L498.9 285.1 L498.9 284.6 L499 284.1 L499 283.6 L499.1 283.1 L499.1 282.6 L499.2 282.1 L499.2 281.6 L499.3 281.1 L499.3 280.6 L499.4 280.1 L499.4 279.6 L499.4 279.1 L499.5 278.6 L499.5 278.1 L499.6 277.6 L499.6 277.1 L499.7 276.6 L499.7 276.1 L499.8 275.6 L499.8 275.1 L499.8 274.6 L499.9 274.1 L499.9 273.6 L500 273.1 L500 272.6 L500.1 272.1 L500.1 271.6 L500.2 271.1 L500.2 270.6 L500.3 270.1 L500.3 269.6 L500.3 269.1 L500.4 268.6 L500.4 268.1 L500.5 267.6 L500.5 267.1 L500.6 266.6 L500.6 266.1 L500.7 265.7 L500.7 265.2 L500.8 264.7 L500.8 264.2 L500.9 263.7 L500.9 263.2 L500.9 262.7 L501 262.2 L501 261.7 L501.1 261.2 L501.1 260.7 L501.2 260.2 L501.2 259.7 L501.3 259.2 L501.3 258.7 L501.4 258.2 L501.4 257.7 L501.5 257.2 L501.5 256.7 L501.6 256.2 L501.6 255.7 L501.6 255.2 L501.7 254.7 L501.7 254.2 L501.8 253.7 L501.8 253.2 L501.9 252.7 L501.9 252.2 L502 251.7 L502 251.2 L502 250.7 L502.1 250.2 L502.1 249.7 L502.2 249.2 L502.2 248.7 L502.3 248.2 L502.3 247.7 L502.4 247.2 L502.4 246.7 L502.4 246.2 L502.5 245.7 L502.5 245.2 L502.6 244.7 L502.6 244.2 L502.7 243.7 L502.7 243.2 L502.7 242.7 L502.8 242.2 L502.8 241.7 L502.9 241.2 L502.9 240.7 L503 240.3 L503 239.8 L503 239.3 L503.1 238.8 L503.1 238.3 L503.2 237.8 L503.2 237.3 L503.3 236.8 L503.3 236.3 L503.3 235.8 L503.4 235.3 L503.4 234.8 L503.5 234.3 L503.5 233.8 L503.5 233.3 L503.6 232.8 L503.6 232.3 L503.6 231.8 L503.7 231.3 L503.7 230.8 L503.7 230.3 L503.8 229.8 L503.8 229.3 L503.8 228.8 L503.9 228.3 L503.9 227.8 L503.9 227.3 L503.9 226.8 L504 226.3 L504 225.8 L504 225.3 L504.1 224.8 L504.1 224.3 L504.1 223.8 L504.2 223.3 L504.2 222.8 L504.2 222.3 L504.3 221.8 L504.3 221.3 L504.3 220.8 L504.4 220.3 L504.4 219.8 L504.4 219.3 L504.5 218.8 L504.5 218.3 L504.5 217.8 L504.6 217.3 L504.6 216.8 L504.6 216.3 L504.7 215.8 L504.7 215.3 L504.7 214.8 L504.8 214.3 L504.8 213.8 L504.8 213.3 L504.9 212.8 L504.9 212.3 L504.9 211.8 L505 211.3 L505 210.8 L505 210.3 L505.1 209.8 L505.1 209.3 L505.1 208.8 L505.2 208.3 L505.2 207.8 L505.2 207.3 L505.3 206.8 L505.3 206.3 L505.3 205.8 L505.4 205.3 L505.4 204.8 L505.4 204.3 L505.5 203.8 L505.5 203.3 L505.5 202.8 L505.6 202.3 L505.6 201.8 L505.7 201.3 L505.7 200.8 L505.7 200.3 L505.8 199.8 L505.8 199.3 L505.8 198.8 L505.9 198.3 L505.9 197.8 L505.9 197.4 L506 196.9 L506 196.4 L506 195.9 L506.1 195.4 L506.1 194.9 L506.1 194.4 L506.2 193.9 L506.2 193.4 L506.2 192.9 L506.3 192.4 L506.3 191.9 L506.4 191.4 L506.4 190.9 L506.4 190.4 L506.5 189.9 L506.5 189.4 L506.5 188.9 L506.6 188.4 L506.6 187.9 L506.6 187.4 L506.7 186.9 L506.7 186.4 L506.7 185.9 L506.8 185.4 L506.8 184.9 L506.8 184.4 L506.9 183.9 L506.9 183.4 L506.9 182.9 L507 182.4 L507 181.9 L507 181.4 L507.1 180.9 L507.1 180.4 L507.1 179.9 L507.2 179.4 L507.2 178.9 L507.2 178.4 L507.3 177.9 L507.3 177.4 L507.3 176.9 L507.4 176.4 L507.4 175.9 L507.4 175.4 L507.5 174.9 L507.5 174.4 L507.6 173.9 L507.6 173.4 L507.6 172.9 L507.7 172.4 L507.7 171.9 L507.7 171.4 L507.8 170.9 L507.8 170.4 L507.8 169.9 L507.9 169.4 L507.9 168.9 L507.9 168.4 L508 167.9 L508 167.4 L508 166.9 L508.1 166.4 L508.1 165.9 L508.1 165.4 L508.2 164.9 L508.2 164.4 L508.2 163.9 L508.3 163.4 L508.3 162.9 L508.3 162.4 L508.4 161.9 L508.4 161.4 L508.4 160.9 L508.5 160.4 L508.5 159.9 L508.5 159.4 L508.6 158.9 L508.6 158.4 L508.6 157.9 L508.6 157.4 L508.7 156.9 L508.7 156.4 L508.7 155.9 L508.8 155.4 L508.8 154.9 L508.8 154.4 L508.9 153.9 L508.9 153.4 L508.9 152.9 L509 152.4 L509 151.9 L509 151.5 L509.1 151 L509.1 150.5 L509.1 150 L509.2 149.5 L509.2 149 L509.2 148.5 L509.3 148 L509.3 147.5 L509.3 147 L509.4 146.5 L509.4 146 L509.4 145.5 L509.5 145 L509.5 144.5 L509.5 144 L509.6 143.5 L509.6 143 L509.6 142.5 L509.7 142 L509.7 141.5 L509.7 141 L509.8 140.5 L509.8 140 L509.8 139.5 L509.9 139 L509.9 138.5 L510 138 L510 137.5 L510 137 L510.1 136.5 L510.1 136 L510.1 135.5 L510.2 135 L510.2 134.5 L510.3 134 L510.3 133.5 L510.3 133 L510.4 132.5 L510.4 132 L510.4 131.5 L510.5 131 L510.5 130.5 L510.6 130 L510.6 129.5 L510.6 129 L510.7 128.5 L510.7 128 L510.7 127.5 L510.8 127 L510.8 126.5 L510.9 126 L510.9 125.5 L510.9 125 L511 124.5 L511 124 L511.1 123.5 L511.1 123 L511.2 122.5 L511.2 122 L511.3 121.5 L511.4 121 L511.4 120.5 L511.5 120 L511.6 119.6 L511.6 119.1 L511.7 118.6 L511.8 118.1 L511.8 117.6 L511.9 117.1 L512 116.6 L512 116.1 L512.1 115.7 L512.2 115.4 L512.2 115.3 L512.3 115.5 L512.3 115.8 L512.4 116.2 L512.4 116.7 L512.5 117.2 L512.5 117.7 L512.6 118.2 L512.6 118.7 L512.7 119.2 L512.8 119.7 L512.8 120.2 L512.9 120.7 L512.9 121.2 L513 121.7 L513 122.2 L513.1 122.7 L513.1 123.2 L513.2 123.7 L513.2 124.2 L513.2 124.7 L513.3 125.2 L513.3 125.7 L513.3 126.2 L513.4 126.7 L513.4 127.2 L513.5 127.7 L513.5 128.2 L513.5 128.7 L513.6 129.2 L513.6 129.7 L513.6 130.2 L513.7 130.7 L513.7 131.2 L513.7 131.7 L513.8 132.2 L513.8 132.7 L513.8 133.2 L513.9 133.6 L513.9 134.1 L513.9 134.6 L514 135.1 L514 135.6 L514.1 136.1 L514.1 136.6 L514.1 137.1 L514.2 137.6 L514.2 138.1 L514.3 138.6 L514.3 139.1 L514.3 139.6 L514.4 140.1 L514.4 140.6 L514.5 141.1 L514.5 141.6 L514.6 142.1 L514.6 142.6 L514.6 143.1 L514.7 143.6 L514.7 144.1 L514.8 144.6 L514.8 145.1 L514.8 145.6 L514.9 146.1 L514.9 146.6 L515 147.1 L515 147.6 L515.1 148.1 L515.1 148.6 L515.2 149.1 L515.2 149.6 L515.3 150.1 L515.4 150.6 L515.5 151.1 L515.5 151.6 L515.6 152.1 L515.7 152.6 L515.8 153 L515.9 153.5 L515.9 154 L516 154.5 L516.1 155 L516.2 155.5 L516.3 156 L516.4 156.5 L516.5 157 L516.6 157.5 L516.7 158 L516.9 158.4 L517 158.9 L517.1 159.4 L517.2 159.9 L517.3 160.4 L517.5 160.9 L517.6 161.3 L517.7 161.8 L517.8 162.3 L517.9 162.8 L518.1 163.3 L518.2 163.8 L518.3 164.3 L518.4 164.8 L518.5 165.2 L518.6 165.7 L518.7 166.2 L518.8 166.7 L518.9 167.2 L519 167.7 L519.1 168.2 L519.2 168.7 L519.3 169.2 L519.4 169.6 L519.5 170.1 L519.6 170.6 L519.7 171.1 L519.8 171.6 L519.9 172.1 L520 172.6 L520.1 173.1 L520.2 173.6 L520.3 174.1 L520.3 174.6 L520.4 175.1 L520.5 175.5 L520.6 176 L520.7 176.5 L520.8 177 L520.8 177.5 L520.9 178 L521 178.5 L521.1 179 L521.2 179.5 L521.2 180 L521.3 180.5 L521.4 181 L521.5 181.5 L521.6 182 L521.7 182.5 L521.7 182.9 L521.8 183.4 L521.9 183.9 L522 184.4 L522 184.9 L522.1 185.4 L522.2 185.9 L522.2 186.4 L522.3 186.9 L522.4 187.4 L522.5 187.9 L522.5 188.4 L522.6 188.9 L522.7 189.4 L522.8 189.9 L522.8 190.4 L522.9 190.9 L523 191.4 L523.1 191.8 L523.1 192.3 L523.2 192.8 L523.3 193.3 L523.4 193.8 L523.5 194.3 L523.5 194.8 L523.6 195.3 L523.7 195.8 L523.8 196.3 L523.9 196.8 L523.9 197.3 L524 197.8 L524.1 198.3 L524.1 198.8 L524.2 199.3 L524.2 199.8 L524.3 200.3 L524.3 200.8 L524.4 201.3 L524.5 201.7 L524.5 202.2 L524.6 202.7 L524.6 203.2 L524.7 203.7 L524.8 204.2 L524.8 204.7 L524.9 205.2 L524.9 205.7 L525 206.2 L525 206.7 L525.1 207.2 L525.2 207.7 L525.2 208.2 L525.3 208.7 L525.3 209.2 L525.4 209.7 L525.5 210.2 L525.5 210.7 L525.6 211.2 L525.6 211.7 L525.7 212.2 L525.8 212.7 L525.8 213.2 L525.9 213.7 L525.9 214.2 L526 214.7 L526 215.2 L526.1 215.7 L526.2 216.2 L526.2 216.6 L526.3 217.1 L526.3 217.6 L526.3 218.1 L526.3 218.6 L526.4 219.1 L526.4 219.6 L526.4 220.1 L526.4 220.6 L526.4 221.1 L526.5 221.6 L526.5 222.1 L526.5 222.6 L526.5 223.1 L526.5 223.6 L526.6 224.1 L526.6 224.6 L526.6 225.1 L526.6 225.6 L526.6 226.1 L526.7 226.6 L526.7 227.1 L526.7 227.6 L526.7 228.1 L526.7 228.6 L526.8 229.1 L526.8 229.6 L526.8 230.1 L526.8 230.6 L526.8 231.1 L526.9 231.6 L526.9 232.1 L526.9 232.6 L526.9 233.1 L526.9 233.6 L527 234.1 L527 234.6 L527 235.1 L527 235.6 L527 236.1 L527.1 236.6 L527.1 237.1 L527.1 237.6 L527.1 238.1 L527.1 238.6 L527.2 239.1 L527.2 239.6 L527.2 240.1 L527.2 240.6 L527.2 241.1 L527.3 241.6 L527.3 242.1 L527.3 242.6 L527.3 243.1 L527.3 243.6 L527.4 244.1 L527.4 244.6 L527.4 245.1 L527.4 245.6 L527.4 246.1 L527.5 246.6 L527.5 247.1 L527.5 247.6 L527.5 248.1 L527.5 248.6 L527.6 249.1 L527.6 249.6 L527.6 250.1 L527.6 250.6 L527.6 251.1 L527.7 251.6 L527.7 252.1 L527.7 252.6 L527.7 253.1 L527.7 253.6 L527.8 254.1 L527.8 254.6 L527.8 255.1 L527.8 255.6 L527.8 256.1 L527.9 256.6 L527.9 257.1 L527.9 257.6 L527.9 258.1 L527.9 258.6 L528 259.1 L528 259.6 L528 260.1 L528 260.6 L528 261.1 L528.1 261.6 L528.1 262.1 L528.1 262.6 L528.1 263.1 L528.1 263.6 L528.2 264.1 L528.2 264.6 L528.2 265.1 L528.2 265.6 L528.2 266.1 L528.3 266.6 L528.3 267.1 L528.3 267.6 L528.3 268.1 L528.3 268.6 L528.4 269.1 L528.4 269.6 L528.4 270.1 L528.4 270.6 L528.4 271.1 L528.5 271.6 L528.5 272.1 L528.5 272.6 L528.5 273.1 L528.5 273.6 L528.6 274.1 L528.6 274.6 L528.6 275.1 L528.6 275.6 L528.6 276.1 L528.7 276.6 L528.7 277.1 L528.7 277.6 L528.7 278.1 L528.7 278.6 L528.8 279.1 L528.8 279.6 L528.8 280.1 L528.8 280.6 L528.8 281.1 L528.9 281.6 L528.9 282.1 L528.9 282.6 L528.9 283.1 L528.9 283.6 L529 284.1 L529 284.6 L529 285.1 L529 285.6 L529 286.1 L529.1 286.6 L529.1 287.1 L529.1 287.6 L529.1 288.1 L529.1 288.6 L529.2 289.1 L529.2 289.6 L529.2 290.1 L529.2 290.6 L529.2 291.1 L529.3 291.6 L529.3 292.1 L529.3 292.6 L529.3 293.1 L529.3 293.6 L529.4 294.1 L529.4 294.6 L529.4 295.1 L529.4 295.6 L529.4 296.1 L529.5 296.6 L529.5 297.1 L529.5 297.6 L529.5 298.1 L529.5 298.6 L529.6 299.1 L529.6 299.6 L529.6 300.1 L529.6 300.6 L529.6 301.1 L529.7 301.6 L529.7 302.1 L529.7 302.6 L529.7 303.1 L529.7 303.6 L529.8 304.1 L529.8 304.6 L529.8 305.1 L529.8 305.6 L529.8 306.1 L529.9 306.6 L529.9 307.1 L529.9 307.6 L529.9 308.1 L529.9 308.6 L530 309.1 L530 309.6 L530 310.1 L530 310.6 L530 311.1 L530.1 311.6 L530.1 312.1 L530.1 312.6 L530.1 313.1 L530.1 313.6 L530.2 314.1 L530.2 314.6 L530.2 315.1 L530.2 315.6 L530.2 316.1 L530.3 316.6 L530.3 317.1 L530.3 317.6 L530.3 318.1 L530.3 318.6 L530.4 319.1 L530.4 319.6 L530.4 320.1 L530.4 320.6 L530.4 321.1 L530.5 321.6 L530.5 322.1 L530.5 322.6 L530.5 323.1 L530.5 323.6 L530.6 324.1 L530.6 324.6 L530.6 325.1 L530.6 325.6 L530.6 326.1 L530.7 326.6 L530.7 327.1 L530.7 327.6 L530.7 328.1 L530.7 328.6 L530.8 329.1 L530.8 329.6 L530.8 330.1 L530.8 330.6 L530.8 331.1 L530.9 331.6 L530.9 332.1 L530.9 332.6 L530.9 333.1 L530.9 333.6 L531 334.1 L531 334.6 L531.1 335.1 L531.1 335.6 L531.2 336 L531.3 336.5 L531.3 337 L531.4 337.5 L531.5 338 L531.5 338.5 L531.6 339 L531.7 339.5 L531.7 340 L531.8 340.5 L531.9 341 L531.9 341.5 L532 342 L532.1 342.5 L532.1 343 L532.2 343.5 L532.3 344 L532.3 344.5 L532.4 345 L532.5 345.5 L532.5 346 L532.6 346.5 L532.7 347 L532.7 347.4 L532.8 347.9 L532.9 348.4 L532.9 348.9 L533 349.4 L533.1 349.9 L533.1 350.4 L533.2 350.9 L533.3 351.4 L533.3 351.9" fill="none" stroke="#c8c8c8" stroke-width="1.5" stroke-linejoin="round"/>
<path d="M517.5 352.1 L517.5 352.1 L517.6 351.7 L517.7 351.2 L517.9 350.7 L518 350.2 L518.1 349.7 L518.3 349.2 L518.4 348.8 L518.5 348.3 L518.6 347.8 L518.8 347.3 L518.9 346.8 L519 346.3 L519 345.8 L519.1 345.3 L519.1 344.8 L519.2 344.3 L519.2 343.8 L519.2 343.3 L519.3 342.8 L519.3 342.3 L519.3 341.8 L519.3 341.3 L519.4 340.8 L519.4 340.3 L519.4 339.8 L519.5 339.3 L519.5 338.8 L519.5 338.3 L519.6 337.8 L519.6 337.3 L519.6 336.8 L519.7 336.3 L519.7 335.8 L519.7 335.3 L519.8 334.9 L519.8 334.4 L519.8 333.9 L519.9 333.4 L519.9 332.9 L519.9 332.4 L520 331.9 L520 331.4 L520 330.9 L520.1 330.4 L520.1 329.9 L520.1 329.4 L520.2 328.9 L520.2 328.4 L520.2 327.9 L520.2 327.4 L520.3 326.9 L520.3 326.4 L520.3 325.9 L520.3 325.4 L520.3 324.9 L520.3 324.4 L520.4 323.9 L520.4 323.4 L520.4 322.9 L520.4 322.4 L520.4 321.9 L520.4 321.4 L520.5 320.9 L520.5 320.4 L520.5 319.9 L520.5 319.4 L520.5 318.9 L520.6 318.4 L520.6 317.9 L520.6 317.4 L520.6 316.9 L520.6 316.4 L520.6 315.9 L520.7 315.4 L520.7 314.9 L520.7 314.4 L520.7 313.9 L520.7 313.4 L520.7 312.9 L520.8 312.4 L520.8 311.9 L520.8 311.4 L520.8 310.9 L520.8 310.4 L520.9 309.9 L520.9 309.4 L520.9 308.9 L520.9 308.4 L520.9 307.9 L520.9 307.4 L521 306.9 L521 306.4 L521 305.9 L521 305.4 L521 304.9 L521 304.4 L521 303.9 L521.1 303.4 L521.1 302.9 L521.1 302.4 L521.1 301.9 L521.1 301.4 L521.1 300.9 L521.1 300.4 L521.1 299.9 L521.1 299.4 L521.1 298.9 L521.2 298.4 L521.2 297.9 L521.2 297.4 L521.2 296.9 L521.2 296.4 L521.2 295.9 L521.2 295.4 L521.2 294.9 L521.2 294.4 L521.2 293.9 L521.3 293.4 L521.3 292.9 L521.3 292.4 L521.3 291.9 L521.3 291.4 L521.3 290.9 L521.3 290.4 L521.3 289.9 L521.3 289.4 L521.3 288.9 L521.4 288.4 L521.4 287.9 L521.4 287.4 L521.4 286.9 L521.4 286.4 L521.4 285.9 L521.4 285.4 L521.4 284.9 L521.4 284.4 L521.4 283.9 L521.5 283.4 L521.5 282.9 L521.5 282.4 L521.5 281.9 L521.5 281.4 L521.5 280.9 L521.5 280.4 L521.5 279.9 L521.5 279.4 L521.5 278.9 L521.6 278.3 L521.6 277.8 L521.6 277.3 L521.6 276.8 L521.6 276.3 L521.6 275.8 L521.6 275.3 L521.6 274.8 L521.7 274.3 L521.7 273.8 L521.7 273.3 L521.7 272.8 L521.7 272.3 L521.7 271.8 L521.7 271.3 L521.8 270.8 L521.8 270.3 L521.8 269.8 L521.8 269.3 L521.8 268.8 L521.8 268.3 L521.9 267.8 L521.9 267.3 L521.9 266.8 L521.9 266.3 L521.9 265.8 L521.9 265.3 L522 264.8 L522 264.3 L522 263.8 L522 263.3 L522 262.8 L522 262.3 L522.1 261.8 L522.1 261.3 L522.1 260.8 L522.1 260.3 L522.1 259.8 L522.1 259.3 L522.1 258.8 L522.2 258.3 L522.2 257.8 L522.2 257.3 L522.2 256.8 L522.2 256.3 L522.2 255.8 L522.3 255.3 L522.3 254.8 L522.3 254.3 L522.3 253.8 L522.3 253.3 L522.3 252.8 L522.4 252.3 L522.4 251.8 L522.4 251.3 L522.4 250.8 L522.4 250.3 L522.4 249.8 L522.5 249.3 L522.5 248.8 L522.5 248.3 L522.5 247.8 L522.5 247.3 L522.5 246.8 L522.5 246.3 L522.6 245.8 L522.6 245.3 L522.6 244.8 L522.6 244.3 L522.6 243.8 L522.7 243.3 L522.7 242.8 L522.7 242.3 L522.7 241.8 L522.7 241.3 L522.7 240.8 L522.8 240.3 L522.8 239.8 L522.8 239.3 L522.8 238.8 L522.8 238.3 L522.8 237.8 L522.9 237.3 L522.9 236.8 L522.9 236.3 L522.9 235.8 L522.9 235.3 L523 234.8 L523 234.3 L523 233.8 L523 233.3 L523 232.8 L523 232.3 L523.1 231.8 L523.1 231.3 L523.1 230.8 L523.1 230.3 L523.1 229.8 L523.1 229.3 L523.2 228.8 L523.2 228.3 L523.2 227.8 L523.2 227.3 L523.2 226.8 L523.2 226.3 L523.3 225.8 L523.3 225.3 L523.3 224.8 L523.3 224.3 L523.3 223.8 L523.4 223.3 L523.4 222.8 L523.4 222.3 L523.4 221.8 L523.4 221.3 L523.5 220.8 L523.5 220.3 L523.5 219.8 L523.5 219.3 L523.6 218.8 L523.6 218.3 L523.6 217.8 L523.6 217.3 L523.7 216.8 L523.7 216.4 L523.7 215.9 L523.7 215.4 L523.7 214.9 L523.8 214.4 L523.8 213.9 L523.8 213.4 L523.8 212.9 L523.9 212.4 L523.9 211.9 L523.9 211.4 L523.9 210.9 L524 210.4 L524 209.9 L524 209.4 L524 208.9 L524 208.4 L524.1 207.9 L524.1 207.4 L524.1 206.9 L524.1 206.4 L524.2 205.9 L524.2 205.4 L524.2 204.9 L524.3 204.4 L524.3 203.9 L524.4 203.4 L524.4 202.9 L524.4 202.4 L524.5 201.9 L524.5 201.4 L524.6 200.9 L524.6 200.4 L524.6 199.9 L524.7 199.4 L524.7 198.9 L524.8 198.4 L524.8 197.9 L524.8 197.4 L524.9 196.9 L524.9 196.4 L525 195.9 L525 195.4 L525 194.9 L525.1 194.4 L525.1 193.9 L525.2 193.4 L525.2 192.9 L525.3 192.4 L525.4 191.9 L525.4 191.4 L525.5 190.9 L525.5 190.4 L525.6 189.9 L525.7 189.4 L525.7 188.9 L525.8 188.4 L525.9 187.9 L525.9 187.4 L526 186.9 L526 186.4 L526.1 185.9 L526.2 185.4 L526.2 185 L526.3 184.5 L526.4 184 L526.5 183.5 L526.7 183 L526.8 182.5 L526.9 182 L527 181.5 L527.1 181.1 L527.3 180.6 L527.4 180.1 L527.6 179.7 L527.8 179.2 L528.1 178.8 L528.4 178.4 L528.8 178.1 L529.2 177.9 L529.6 177.9 L530 178 L530.4 178.3 L530.7 178.6 L530.9 179 L531.1 179.5 L531.2 179.9 L531.3 180.4 L531.4 180.9 L531.5 181.4 L531.6 181.9 L531.7 182.4 L531.8 182.9 L531.9 183.4 L532 183.9 L532 184.4 L532.1 184.9 L532.1 185.4 L532.2 185.9 L532.2 186.4 L532.3 186.9 L532.3 187.4 L532.4 187.9 L532.4 188.3 L532.5 188.8 L532.5 189.3 L532.6 189.8 L532.6 190.3 L532.7 190.8 L532.7 191.3 L532.8 191.8 L532.8 192.3 L532.8 192.8 L532.9 193.3 L532.9 193.8 L532.9 194.3 L532.9 194.8 L533 195.3 L533 195.8 L533 196.3 L533.1 196.8 L533.1 197.3 L533.1 197.8 L533.1 198.3 L533.2 198.8 L533.2 199.3 L533.2 199.8 L533.3 200.3 L533.3 200.8 L533.3 201.3 L533.3 201.8 L533.4 202.3 L533.4 202.8 L533.4 203.3 L533.5 203.8 L533.5 204.3 L533.5 204.8 L533.5 205.3 L533.6 205.8 L533.6 206.3 L533.6 206.8 L533.6 207.3 L533.7 207.8 L533.7 208.3 L533.7 208.8 L533.7 209.3 L533.7 209.8 L533.8 210.3 L533.8 210.8 L533.8 211.3 L533.8 211.8 L533.8 212.3 L533.9 212.8 L533.9 213.3 L533.9 213.8 L533.9 214.3 L533.9 214.8 L534 215.3 L534 215.8 L534 216.3 L534 216.8 L534 217.3 L534.1 217.8 L534.1 218.3 L534.1 218.8 L534.1 219.3 L534.1 219.8 L534.2 220.3 L534.2 220.8 L534.2 221.3 L534.2 221.8 L534.2 222.3 L534.3 222.8 L534.3 223.3 L534.3 223.8 L534.3 224.3 L534.3 224.8 L534.3 225.3 L534.4 225.8 L534.4 226.3 L534.4 226.8 L534.4 227.3 L534.4 227.8 L534.4 228.3 L534.5 228.8 L534.5 229.3 L534.5 229.8 L534.5 230.3 L534.5 230.8 L534.6 231.3 L534.6 231.8 L534.6 232.3 L534.6 232.8 L534.6 233.3 L534.6 233.8 L534.7 234.3 L534.7 234.8 L534.7 235.3 L534.7 235.8 L534.7 236.3 L534.7 236.8 L534.8 237.3 L534.8 237.8 L534.8 238.3 L534.8 238.8 L534.8 239.3 L534.9 239.8 L534.9 240.3 L534.9 240.8 L534.9 241.3 L534.9 241.8 L534.9 242.3 L535 242.8 L535 243.3 L535 243.8 L535 244.3 L535 244.8 L535 245.3 L535.1 245.8 L535.1 246.3 L535.1 246.8 L535.1 247.3 L535.1 247.8 L535.1 248.3 L535.2 248.8 L535.2 249.3 L535.2 249.8 L535.2 250.3 L535.2 250.8 L535.3 251.3 L535.3 251.8 L535.3 252.3 L535.3 252.8 L535.3 253.3 L535.3 253.8 L535.4 254.3 L535.4 254.8 L535.4 255.3 L535.4 255.8 L535.4 256.3 L535.4 256.8 L535.5 257.3 L535.5 257.8 L535.5 258.3 L535.5 258.8 L535.5 259.3 L535.6 259.8 L535.6 260.3 L535.6 260.8 L535.6 261.3 L535.6 261.8 L535.6 262.3 L535.7 262.8 L535.7 263.3 L535.7 263.8 L535.7 264.3 L535.7 264.8 L535.7 265.3 L535.8 265.8 L535.8 266.3 L535.8 266.8 L535.8 267.3 L535.8 267.8 L535.8 268.3 L535.9 268.8 L535.9 269.3 L535.9 269.8 L535.9 270.3 L535.9 270.8 L536 271.3 L536 271.8 L536 272.3 L536 272.8 L536.1 273.3 L536.1 273.8 L536.1 274.3 L536.1 274.8 L536.2 275.3 L536.2 275.8 L536.2 276.3 L536.2 276.8 L536.3 277.3 L536.3 277.8 L536.3 278.3 L536.3 278.8 L536.4 279.3 L536.4 279.8 L536.4 280.3 L536.4 280.8 L536.5 281.3 L536.5 281.8 L536.5 282.3 L536.5 282.8 L536.6 283.3 L536.6 283.8 L536.6 284.3 L536.6 284.8 L536.7 285.3 L536.7 285.8 L536.7 286.3 L536.7 286.8 L536.8 287.3 L536.8 287.8 L536.8 288.3 L536.8 288.8 L536.9 289.3 L536.9 289.8 L536.9 290.3 L536.9 290.8 L537 291.3 L537 291.8 L537 292.3 L537 292.8 L537.1 293.3 L537.1 293.8 L537.1 294.3 L537.2 294.8 L537.2 295.3 L537.2 295.8 L537.3 296.3 L537.3 296.8 L537.3 297.3 L537.4 297.8 L537.4 298.3 L537.4 298.8 L537.5 299.3 L537.5 299.8 L537.5 300.3 L537.6 300.8 L537.6 301.3 L537.6 301.8 L537.7 302.3 L537.7 302.8 L537.7 303.3 L537.8 303.8 L537.8 304.3 L537.8 304.8 L537.9 305.3 L537.9 305.8 L537.9 306.3 L538 306.8 L538 307.3 L538 307.8 L538.1 308.3 L538.1 308.8 L538.1 309.3 L538.2 309.8 L538.2 310.3 L538.2 310.8 L538.3 311.3 L538.3 311.8 L538.4 312.3 L538.4 312.8 L538.4 313.3 L538.5 313.8 L538.5 314.3 L538.6 314.8 L538.6 315.3 L538.7 315.8 L538.7 316.3 L538.7 316.8 L538.8 317.3 L538.8 317.8 L538.9 318.2 L538.9 318.7 L539 319.2 L539 319.7 L539 320.2 L539.1 320.7 L539.1 321.2 L539.2 321.7 L539.2 322.2 L539.3 322.7 L539.3 323.2 L539.3 323.7 L539.4 324.2 L539.4 324.7 L539.5 325.2 L539.5 325.7 L539.6 326.2 L539.6 326.7 L539.7 327.2 L539.7 327.7 L539.7 328.2 L539.8 328.7 L539.9 329.2 L540 329.7 L540.1 330.2 L540.2 330.7 L540.2 331.2 L540.3 331.7 L540.4 332.2 L540.5 332.6 L540.6 333.1 L540.7 333.6 L540.8 334.1 L540.9 334.6 L541 335.1 L541.1 335.6 L541.2 336.1 L541.3 336.6 L541.4 337.1 L541.5 337.6 L541.6 338 L541.7 338.5 L541.9 339 L542 339.5 L542.2 340 L542.3 340.4 L542.5 340.9 L542.6 341.4 L542.8 341.9 L543 342.3 L543.1 342.8 L543.3 343.3 L543.4 343.8 L543.6 344.2 L543.8 344.7 L544.1 345.1 L544.4 345.4 L544.8 345.7 L545.1 346.1 L545.5 346.3 L546 346.6 L546.4 346.9 L546.8 347.2 L547.2 347.5 L547.6 347.8 L548 348.1 L548.4 348.4 L548.8 348.7 L549.2 349 L549.6 349.3 L550 349.6 L550.4 349.9 L550.8 350.2 L551.2 350.4 L551.7 350.6 L552.2 350.7 L552.6 350.8 L553.1 351 L553.6 351.1 L554.1 351.2 L554.6 351.3 L555.1 351.4 L555.6 351.5 L556.1 351.6 L556.6 351.6 L557.1 351.7 L557.6 351.8 L558 351.8 L558.5 351.9 L558.5 352.1 Z" fill="#f5a9ef"/>
<path d="M517.5 352.1 L517.6 351.7 L517.7 351.2 L517.9 350.7 L518 350.2 L518.1 349.7 L518.3 349.2 L518.4 348.8 L518.5 348.3 L518.6 347.8 L518.8 347.3 L518.9 346.8 L519 346.3 L519 345.8 L519.1 345.3 L519.1 344.8 L519.2 344.3 L519.2 343.8 L519.2 343.3 L519.3 342.8 L519.3 342.3 L519.3 341.8 L519.3 341.3 L519.4 340.8 L519.4 340.3 L519.4 339.8 L519.5 339.3 L519.5 338.8 L519.5 338.3 L519.6 337.8 L519.6 337.3 L519.6 336.8 L519.7 336.3 L519.7 335.8 L519.7 335.3 L519.8 334.9 L519.8 334.4 L519.8 333.9 L519.9 333.4 L519.9 332.9 L519.9 332.4 L520 331.9 L520 331.4 L520 330.9 L520.1 330.4 L520.1 329.9 L520.1 329.4 L520.2 328.9 L520.2 328.4 L520.2 327.9 L520.2 327.4 L520.3 326.9 L520.3 326.4 L520.3 325.9 L520.3 325.4 L520.3 324.9 L520.3 324.4 L520.4 323.9 L520.4 323.4 L520.4 322.9 L520.4 322.4 L520.4 321.9 L520.4 321.4 L520.5 320.9 L520.5 320.4 L520.5 319.9 L520.5 319.4 L520.5 318.9 L520.6 318.4 L520.6 317.9 L520.6 317.4 L520.6 316.9 L520.6 316.4 L520.6 315.9 L520.7 315.4 L520.7 314.9 L520.7 314.4 L520.7 313.9 L520.7 313.4 L520.7 312.9 L520.8 312.4 L520.8 311.9 L520.8 311.4 L520.8 310.9 L520.8 310.4 L520.9 309.9 L520.9 309.4 L520.9 308.9 L520.9 308.4 L520.9 307.9 L520.9 307.4 L521 306.9 L521 306.4 L521 305.9 L521 305.4 L521 304.9 L521 304.4 L521 303.9 L521.1 303.4 L521.1 302.9 L521.1 302.4 L521.1 301.9 L521.1 301.4 L521.1 300.9 L521.1 300.4 L521.1 299.9 L521.1 299.4 L521.1 298.9 L521.2 298.4 L521.2 297.9 L521.2 297.4 L521.2 296.9 L521.2 296.4 L521.2 295.9 L521.2 295.4 L521.2 294.9 L521.2 294.4 L521.2 293.9 L521.3 293.4 L521.3 292.9 L521.3 292.4 L521.3 291.9 L521.3 291.4 L521.3 290.9 L521.3 290.4 L521.3 289.9 L521.3 289.4 L521.3 288.9 L521.4 288.4 L521.4 287.9 L521.4 287.4 L521.4 286.9 L521.4 286.4 L521.4 285.9 L521.4 285.4 L521.4 284.9 L521.4 284.4 L521.4 283.9 L521.5 283.4 L521.5 282.9 L521.5 282.4 L521.5 281.9 L521.5 281.4 L521.5 280.9 L521.5 280.4 L521.5 279.9 L521.5 279.4 L521.5 278.9 L521.6 278.3 L521.6 277.8 L521.6 277.3 L521.6 276.8 L521.6 276.3 L521.6 275.8 L521.6 275.3 L521.6 274.8 L521.7 274.3 L521.7 273.8 L521.7 273.3 L521.7 272.8 L521.7 272.3 L521.7 271.8 L521.7 271.3 L521.8 270.8 L521.8 270.3 L521.8 269.8 L521.8 269.3 L521.8 268.8 L521.8 268.3 L521.9 267.8 L521.9 267.3 L521.9 266.8 L521.9 266.3 L521.9 265.8 L521.9 265.3 L522 264.8 L522 264.3 L522 263.8 L522 263.3 L522 262.8 L522 262.3 L522.1 261.8 L522.1 261.3 L522.1 260.8 L522.1 260.3 L522.1 259.8 L522.1 259.3 L522.1 258.8 L522.2 258.3 L522.2 257.8 L522.2 257.3 L522.2 256.8 L522.2 256.3 L522.2 255.8 L522.3 255.3 L522.3 254.8 L522.3 254.3 L522.3 253.8 L522.3 253.3 L522.3 252.8 L522.4 252.3 L522.4 251.8 L522.4 251.3 L522.4 250.8 L522.4 250.3 L522.4 249.8 L522.5 249.3 L522.5 248.8 L522.5 248.3 L522.5 247.8 L522.5 247.3 L522.5 246.8 L522.5 246.3 L522.6 245.8 L522.6 245.3 L522.6 244.8 L522.6 244.3 L522.6 243.8 L522.7 243.3 L522.7 242.8 L522.7 242.3 L522.7 241.8 L522.7 241.3 L522.7 240.8 L522.8 240.3 L522.8 239.8 L522.8 239.3 L522.8 238.8 L522.8 238.3 L522.8 237.8 L522.9 237.3 L522.9 236.8 L522.9 236.3 L522.9 235.8 L522.9 235.3 L523 234.8 L523 234.3 L523 233.8 L523 233.3 L523 232.8 L523 232.3 L523.1 231.8 L523.1 231.3 L523.1 230.8 L523.1 230.3 L523.1 229.8 L523.1 229.3 L523.2 228.8 L523.2 228.3 L523.2 227.8 L523.2 227.3 L523.2 226.8 L523.2 226.3 L523.3 225.8 L523.3 225.3 L523.3 224.8 L523.3 224.3 L523.3 223.8 L523.4 223.3 L523.4 222.8 L523.4 222.3 L523.4 221.8 L523.4 221.3 L523.5 220.8 L523.5 220.3 L523.5 219.8 L523.5 219.3 L523.6 218.8 L523.6 218.3 L523.6 217.8 L523.6 217.3 L523.7 216.8 L523.7 216.4 L523.7 215.9 L523.7 215.4 L523.7 214.9 L523.8 214.4 L523.8 213.9 L523.8 213.4 L523.8 212.9 L523.9 212.4 L523.9 211.9 L523.9 211.4 L523.9 210.9 L524 210.4 L524 209.9 L524 209.4 L524 208.9 L524 208.4 L524.1 207.9 L524.1 207.4 L524.1 206.9 L524.1 206.4 L524.2 205.9 L524.2 205.4 L524.2 204.9 L524.3 204.4 L524.3 203.9 L524.4 203.4 L524.4 202.9 L524.4 202.4 L524.5 201.9 L524.5 201.4 L524.6 200.9 L524.6 200.4 L524.6 199.9 L524.7 199.4 L524.7 198.9 L524.8 198.4 L524.8 197.9 L524.8 197.4 L524.9 196.9 L524.9 196.4 L525 195.9 L525 195.4 L525 194.9 L525.1 194.4 L525.1 193.9 L525.2 193.4 L525.2 192.9 L525.3 192.4 L525.4 191.9 L525.4 191.4 L525.5 190.9 L525.5 190.4 L525.6 189.9 L525.7 189.4 L525.7 188.9 L525.8 188.4 L525.9 187.9 L525.9 187.4 L526 186.9 L526 186.4 L526.1 185.9 L526.2 185.4 L526.2 185 L526.3 184.5 L526.4 184 L526.5 183.5 L526.7 183 L526.8 182.5 L526.9 182 L527 181.5 L527.1 181.1 L527.3 180.6 L527.4 180.1 L527.6 179.7 L527.8 179.2 L528.1 178.8 L528.4 178.4 L528.8 178.1 L529.2 177.9 L529.6 177.9 L530 178 L530.4 178.3 L530.7 178.6 L530.9 179 L531.1 179.5 L531.2 179.9 L531.3 180.4 L531.4 180.9 L531.5 181.4 L531.6 181.9 L531.7 182.4 L531.8 182.9 L531.9 183.4 L532 183.9 L532 184.4 L532.1 184.9 L532.1 185.4 L532.2 185.9 L532.2 186.4 L532.3 186.9 L532.3 187.4 L532.4 187.9 L532.4 188.3 L532.5 188.8 L532.5 189.3 L532.6 189.8 L532.6 190.3 L532.7 190.8 L532.7 191.3 L532.8 191.8 L532.8 192.3 L532.8 192.8 L532.9 193.3 L532.9 193.8 L532.9 194.3 L532.9 194.8 L533 195.3 L533 195.8 L533 196.3 L533.1 196.8 L533.1 197.3 L533.1 197.8 L533.1 198.3 L533.2 198.8 L533.2 199.3 L533.2 199.8 L533.3 200.3 L533.3 200.8 L533.3 201.3 L533.3 201.8 L533.4 202.3 L533.4 202.8 L533.4 203.3 L533.5 203.8 L533.5 204.3 L533.5 204.8 L533.5 205.3 L533.6 205.8 L533.6 206.3 L533.6 206.8 L533.6 207.3 L533.7 207.8 L533.7 208.3 L533.7 208.8 L533.7 209.3 L533.7 209.8 L533.8 210.3 L533.8 210.8 L533.8 211.3 L533.8 211.8 L533.8 212.3 L533.9 212.8 L533.9 213.3 L533.9 213.8 L533.9 214.3 L533.9 214.8 L534 215.3 L534 215.8 L534 216.3 L534 216.8 L534 217.3 L534.1 217.8 L534.1 218.3 L534.1 218.8 L534.1 219.3 L534.1 219.8 L534.2 220.3 L534.2 220.8 L534.2 221.3 L534.2 221.8 L534.2 222.3 L534.3 222.8 L534.3 223.3 L534.3 223.8 L534.3 224.3 L534.3 224.8 L534.3 225.3 L534.4 225.8 L534.4 226.3 L534.4 226.8 L534.4 227.3 L534.4 227.8 L534.4 228.3 L534.5 228.8 L534.5 229.3 L534.5 229.8 L534.5 230.3 L534.5 230.8 L534.6 231.3 L534.6 231.8 L534.6 232.3 L534.6 232.8 L534.6 233.3 L534.6 233.8 L534.7 234.3 L534.7 234.8 L534.7 235.3 L534.7 235.8 L534.7 236.3 L534.7 236.8 L534.8 237.3 L534.8 237.8 L534.8 238.3 L534.8 238.8 L534.8 239.3 L534.9 239.8 L534.9 240.3 L534.9 240.8 L534.9 241.3 L534.9 241.8 L534.9 242.3 L535 242.8 L535 243.3 L535 243.8 L535 244.3 L535 244.8 L535 245.3 L535.1 245.8 L535.1 246.3 L535.1 246.8 L535.1 247.3 L535.1 247.8 L535.1 248.3 L535.2 248.8 L535.2 249.3 L535.2 249.8 L535.2 250.3 L535.2 250.8 L535.3 251.3 L535.3 251.8 L535.3 252.3 L535.3 252.8 L535.3 253.3 L535.3 253.8 L535.4 254.3 L535.4 254.8 L535.4 255.3 L535.4 255.8 L535.4 256.3 L535.4 256.8 L535.5 257.3 L535.5 257.8 L535.5 258.3 L535.5 258.8 L535.5 259.3 L535.6 259.8 L535.6 260.3 L535.6 260.8 L535.6 261.3 L535.6 261.8 L535.6 262.3 L535.7 262.8 L535.7 263.3 L535.7 263.8 L535.7 264.3 L535.7 264.8 L535.7 265.3 L535.8 265.8 L535.8 266.3 L535.8 266.8 L535.8 267.3 L535.8 267.8 L535.8 268.3 L535.9 268.8 L535.9 269.3 L535.9 269.8 L535.9 270.3 L535.9 270.8 L536 271.3 L536 271.8 L536 272.3 L536 272.8 L536.1 273.3 L536.1 273.8 L536.1 274.3 L536.1 274.8 L536.2 275.3 L536.2 275.8 L536.2 276.3 L536.2 276.8 L536.3 277.3 L536.3 277.8 L536.3 278.3 L536.3 278.8 L536.4 279.3 L536.4 279.8 L536.4 280.3 L536.4 280.8 L536.5 281.3 L536.5 281.8 L536.5 282.3 L536.5 282.8 L536.6 283.3 L536.6 283.8 L536.6 284.3 L536.6 284.8 L536.7 285.3 L536.7 285.8 L536.7 286.3 L536.7 286.8 L536.8 287.3 L536.8 287.8 L536.8 288.3 L536.8 288.8 L536.9 289.3 L536.9 289.8 L536.9 290.3 L536.9 290.8 L537 291.3 L537 291.8 L537 292.3 L537 292.8 L537.1 293.3 L537.1 293.8 L537.1 294.3 L537.2 294.8 L537.2 295.3 L537.2 295.8 L537.3 296.3 L537.3 296.8 L537.3 297.3 L537.4 297.8 L537.4 298.3 L537.4 298.8 L537.5 299.3 L537.5 299.8 L537.5 300.3 L537.6 300.8 L537.6 301.3 L537.6 301.8 L537.7 302.3 L537.7 302.8 L537.7 303.3 L537.8 303.8 L537.8 304.3 L537.8 304.8 L537.9 305.3 L537.9 305.8 L537.9 306.3 L538 306.8 L538 307.3 L538 307.8 L538.1 308.3 L538.1 308.8 L538.1 309.3 L538.2 309.8 L538.2 310.3 L538.2 310.8 L538.3 311.3 L538.3 311.8 L538.4 312.3 L538.4 312.8 L538.4 313.3 L538.5 313.8 L538.5 314.3 L538.6 314.8 L538.6 315.3 L538.7 315.8 L538.7 316.3 L538.7 316.8 L538.8 317.3 L538.8 317.8 L538.9 318.2 L538.9 318.7 L539 319.2 L539 319.7 L539 320.2 L539.1 320.7 L539.1 321.2 L539.2 321.7 L539.2 322.2 L539.3 322.7 L539.3 323.2 L539.3 323.7 L539.4 324.2 L539.4 324.7 L539.5 325.2 L539.5 325.7 L539.6 326.2 L539.6 326.7 L539.7 327.2 L539.7 327.7 L539.7 328.2 L539.8 328.7 L539.9 329.2 L540 329.7 L540.1 330.2 L540.2 330.7 L540.2 331.2 L540.3 331.7 L540.4 332.2 L540.5 332.6 L540.6 333.1 L540.7 333.6 L540.8 334.1 L540.9 334.6 L541 335.1 L541.1 335.6 L541.2 336.1 L541.3 336.6 L541.4 337.1 L541.5 337.6 L541.6 338 L541.7 338.5 L541.9 339 L542 339.5 L542.2 340 L542.3 340.4 L542.5 340.9 L542.6 341.4 L542.8 341.9 L543 342.3 L543.1 342.8 L543.3 343.3 L543.4 343.8 L543.6 344.2 L543.8 344.7 L544.1 345.1 L544.4 345.4 L544.8 345.7 L545.1 346.1 L545.5 346.3 L546 346.6 L546.4 346.9 L546.8 347.2 L547.2 347.5 L547.6 347.8 L548 348.1 L548.4 348.4 L548.8 348.7 L549.2 349 L549.6 349.3 L550 349.6 L550.4 349.9 L550.8 350.2 L551.2 350.4 L551.7 350.6 L552.2 350.7 L552.6 350.8 L553.1 351 L553.6 351.1 L554.1 351.2 L554.6 351.3 L555.1 351.4 L555.6 351.5 L556.1 351.6 L556.6 351.6 L557.1 351.7 L557.6 351.8 L558 351.8 L558.5 351.9" fill="none" stroke="#ff4bfb" stroke-width="1.4" stroke-linejoin="round"/>
<rect x="394.5" y="85.5" width="268.2" height="266.8" fill="none" stroke="#000" stroke-width="1.3"/>
<line x1="394.5" y1="352.8" x2="394.5" y2="360.9" stroke="#000" stroke-width="1.7"/>
<line x1="405.29" y1="352.8" x2="405.29" y2="357.7" stroke="#000" stroke-width="1.25"/>
<line x1="411.78" y1="352.8" x2="411.78" y2="357.7" stroke="#000" stroke-width="1.25"/>
<line x1="416.39" y1="352.8" x2="416.39" y2="357.7" stroke="#000" stroke-width="1.25"/>
<line x1="419.96" y1="352.8" x2="419.96" y2="357.7" stroke="#000" stroke-width="1.25"/>
<line x1="422.87" y1="352.8" x2="422.87" y2="357.7" stroke="#000" stroke-width="1.25"/>
<line x1="425.34" y1="352.8" x2="425.34" y2="357.7" stroke="#000" stroke-width="1.25"/>
<line x1="427.48" y1="352.8" x2="427.48" y2="357.7" stroke="#000" stroke-width="1.25"/>
<line x1="429.36" y1="352.8" x2="429.36" y2="357.7" stroke="#000" stroke-width="1.25"/>
<line x1="431.05" y1="352.8" x2="431.05" y2="360.9" stroke="#000" stroke-width="1.7"/>
<line x1="442.14" y1="352.8" x2="442.14" y2="357.7" stroke="#000" stroke-width="1.25"/>
<line x1="448.63" y1="352.8" x2="448.63" y2="357.7" stroke="#000" stroke-width="1.25"/>
<line x1="453.24" y1="352.8" x2="453.24" y2="357.7" stroke="#000" stroke-width="1.25"/>
<line x1="456.81" y1="352.8" x2="456.81" y2="357.7" stroke="#000" stroke-width="1.25"/>
<line x1="459.72" y1="352.8" x2="459.72" y2="357.7" stroke="#000" stroke-width="1.25"/>
<line x1="462.19" y1="352.8" x2="462.19" y2="357.7" stroke="#000" stroke-width="1.25"/>
<line x1="464.33" y1="352.8" x2="464.33" y2="357.7" stroke="#000" stroke-width="1.25"/>
<line x1="466.21" y1="352.8" x2="466.21" y2="357.7" stroke="#000" stroke-width="1.25"/>
<line x1="467.9" y1="352.8" x2="467.9" y2="360.9" stroke="#000" stroke-width="1.7"/>
<line x1="478.99" y1="352.8" x2="478.99" y2="357.7" stroke="#000" stroke-width="1.25"/>
<line x1="485.48" y1="352.8" x2="485.48" y2="357.7" stroke="#000" stroke-width="1.25"/>
<line x1="490.09" y1="352.8" x2="490.09" y2="357.7" stroke="#000" stroke-width="1.25"/>
<line x1="493.66" y1="352.8" x2="493.66" y2="357.7" stroke="#000" stroke-width="1.25"/>
<line x1="496.57" y1="352.8" x2="496.57" y2="357.7" stroke="#000" stroke-width="1.25"/>
<line x1="499.04" y1="352.8" x2="499.04" y2="357.7" stroke="#000" stroke-width="1.25"/>
<line x1="501.18" y1="352.8" x2="501.18" y2="357.7" stroke="#000" stroke-width="1.25"/>
<line x1="503.06" y1="352.8" x2="503.06" y2="357.7" stroke="#000" stroke-width="1.25"/>
<line x1="504.75" y1="352.8" x2="504.75" y2="360.9" stroke="#000" stroke-width="1.7"/>
<line x1="515.84" y1="352.8" x2="515.84" y2="357.7" stroke="#000" stroke-width="1.25"/>
<line x1="522.33" y1="352.8" x2="522.33" y2="357.7" stroke="#000" stroke-width="1.25"/>
<line x1="526.94" y1="352.8" x2="526.94" y2="357.7" stroke="#000" stroke-width="1.25"/>
<line x1="530.51" y1="352.8" x2="530.51" y2="357.7" stroke="#000" stroke-width="1.25"/>
<line x1="533.42" y1="352.8" x2="533.42" y2="357.7" stroke="#000" stroke-width="1.25"/>
<line x1="535.89" y1="352.8" x2="535.89" y2="357.7" stroke="#000" stroke-width="1.25"/>
<line x1="538.03" y1="352.8" x2="538.03" y2="357.7" stroke="#000" stroke-width="1.25"/>
<line x1="539.91" y1="352.8" x2="539.91" y2="357.7" stroke="#000" stroke-width="1.25"/>
<line x1="541.6" y1="352.8" x2="541.6" y2="360.9" stroke="#000" stroke-width="1.7"/>
<line x1="552.69" y1="352.8" x2="552.69" y2="357.7" stroke="#000" stroke-width="1.25"/>
<line x1="559.18" y1="352.8" x2="559.18" y2="357.7" stroke="#000" stroke-width="1.25"/>
<line x1="563.79" y1="352.8" x2="563.79" y2="357.7" stroke="#000" stroke-width="1.25"/>
<line x1="567.36" y1="352.8" x2="567.36" y2="357.7" stroke="#000" stroke-width="1.25"/>
<line x1="570.27" y1="352.8" x2="570.27" y2="357.7" stroke="#000" stroke-width="1.25"/>
<line x1="572.74" y1="352.8" x2="572.74" y2="357.7" stroke="#000" stroke-width="1.25"/>
<line x1="574.88" y1="352.8" x2="574.88" y2="357.7" stroke="#000" stroke-width="1.25"/>
<line x1="576.76" y1="352.8" x2="576.76" y2="357.7" stroke="#000" stroke-width="1.25"/>
<line x1="578.45" y1="352.8" x2="578.45" y2="360.9" stroke="#000" stroke-width="1.7"/>
<line x1="589.54" y1="352.8" x2="589.54" y2="357.7" stroke="#000" stroke-width="1.25"/>
<line x1="596.03" y1="352.8" x2="596.03" y2="357.7" stroke="#000" stroke-width="1.25"/>
<line x1="600.64" y1="352.8" x2="600.64" y2="357.7" stroke="#000" stroke-width="1.25"/>
<line x1="604.21" y1="352.8" x2="604.21" y2="357.7" stroke="#000" stroke-width="1.25"/>
<line x1="607.12" y1="352.8" x2="607.12" y2="357.7" stroke="#000" stroke-width="1.25"/>
<line x1="609.59" y1="352.8" x2="609.59" y2="357.7" stroke="#000" stroke-width="1.25"/>
<line x1="611.73" y1="352.8" x2="611.73" y2="357.7" stroke="#000" stroke-width="1.25"/>
<line x1="613.61" y1="352.8" x2="613.61" y2="357.7" stroke="#000" stroke-width="1.25"/>
<line x1="615.3" y1="352.8" x2="615.3" y2="360.9" stroke="#000" stroke-width="1.7"/>
<line x1="626.39" y1="352.8" x2="626.39" y2="357.7" stroke="#000" stroke-width="1.25"/>
<line x1="632.88" y1="352.8" x2="632.88" y2="357.7" stroke="#000" stroke-width="1.25"/>
<line x1="637.49" y1="352.8" x2="637.49" y2="357.7" stroke="#000" stroke-width="1.25"/>
<line x1="641.06" y1="352.8" x2="641.06" y2="357.7" stroke="#000" stroke-width="1.25"/>
<line x1="643.97" y1="352.8" x2="643.97" y2="357.7" stroke="#000" stroke-width="1.25"/>
<line x1="646.44" y1="352.8" x2="646.44" y2="357.7" stroke="#000" stroke-width="1.25"/>
<line x1="648.58" y1="352.8" x2="648.58" y2="357.7" stroke="#000" stroke-width="1.25"/>
<line x1="650.46" y1="352.8" x2="650.46" y2="357.7" stroke="#000" stroke-width="1.25"/>
<line x1="652.15" y1="352.8" x2="652.15" y2="360.9" stroke="#000" stroke-width="1.7"/>
<text transform="translate(405.5,384.6) scale(1.06,1)" font-size="10" text-anchor="middle" fill="#111">10</text>
<text transform="translate(412.3,375.5) scale(1.06,1)" font-size="10" fill="#111">0</text>
<text transform="translate(469.5,384.6) scale(1.06,1)" font-size="10" text-anchor="middle" fill="#111">10</text>
<text transform="translate(476.3,375.5) scale(1.06,1)" font-size="10" fill="#111">2</text>
<text transform="translate(543.2,384.6) scale(1.06,1)" font-size="10" text-anchor="middle" fill="#111">10</text>
<text transform="translate(550,375.5) scale(1.06,1)" font-size="10" fill="#111">4</text>
<text transform="translate(616.9,384.6) scale(1.06,1)" font-size="10" text-anchor="middle" fill="#111">10</text>
<text transform="translate(623.7,375.5) scale(1.06,1)" font-size="10" fill="#111">6</text>
<line x1="387.1" y1="145.2" x2="394.5" y2="145.2" stroke="#000" stroke-width="1.7"/>
<text transform="translate(381.2,152.5) scale(1.04,1)" font-size="10.2" text-anchor="end" fill="#111">150</text>
<line x1="387.1" y1="214.8" x2="394.5" y2="214.8" stroke="#000" stroke-width="1.7"/>
<text transform="translate(381.2,222.1) scale(1.04,1)" font-size="10.2" text-anchor="end" fill="#111">100</text>
<line x1="387.1" y1="283.4" x2="394.5" y2="283.4" stroke="#000" stroke-width="1.7"/>
<text transform="translate(381.2,290.7) scale(1.04,1)" font-size="10.2" text-anchor="end" fill="#111">50</text>
<line x1="387.1" y1="352.1" x2="394.5" y2="352.1" stroke="#000" stroke-width="1.7"/>
<text transform="translate(381.2,352.3) scale(1.04,1)" font-size="10.2" text-anchor="end" fill="#111">0</text>
<line x1="390.9" y1="90" x2="394.5" y2="90" stroke="#000" stroke-width="1.2"/>
<line x1="390.9" y1="103.8" x2="394.5" y2="103.8" stroke="#000" stroke-width="1.2"/>
<line x1="390.9" y1="117.6" x2="394.5" y2="117.6" stroke="#000" stroke-width="1.2"/>
<line x1="390.9" y1="131.4" x2="394.5" y2="131.4" stroke="#000" stroke-width="1.2"/>
<line x1="390.9" y1="159" x2="394.5" y2="159" stroke="#000" stroke-width="1.2"/>
<line x1="390.9" y1="172.8" x2="394.5" y2="172.8" stroke="#000" stroke-width="1.2"/>
<line x1="390.9" y1="186.6" x2="394.5" y2="186.6" stroke="#000" stroke-width="1.2"/>
<line x1="390.9" y1="200.4" x2="394.5" y2="200.4" stroke="#000" stroke-width="1.2"/>
<line x1="390.9" y1="228" x2="394.5" y2="228" stroke="#000" stroke-width="1.2"/>
<line x1="390.9" y1="241.8" x2="394.5" y2="241.8" stroke="#000" stroke-width="1.2"/>
<line x1="390.9" y1="255.6" x2="394.5" y2="255.6" stroke="#000" stroke-width="1.2"/>
<line x1="390.9" y1="269.4" x2="394.5" y2="269.4" stroke="#000" stroke-width="1.2"/>
<line x1="390.9" y1="297" x2="394.5" y2="297" stroke="#000" stroke-width="1.2"/>
<line x1="390.9" y1="310.8" x2="394.5" y2="310.8" stroke="#000" stroke-width="1.2"/>
<line x1="390.9" y1="324.6" x2="394.5" y2="324.6" stroke="#000" stroke-width="1.2"/>
<line x1="390.9" y1="338.4" x2="394.5" y2="338.4" stroke="#000" stroke-width="1.2"/>
<line x1="393.9" y1="353.3" x2="663.3" y2="353.3" stroke="#000" stroke-width="1.4"/>
<line x1="395.1" y1="352.5" x2="662.1" y2="352.5" stroke="#ff4bfb" stroke-width="1.3"/>
<text x="526.4" y="411.1" font-size="13.1" font-weight="bold" text-anchor="middle" letter-spacing="0.8">APC-CD14</text>
<text transform="translate(355.6,218.6) rotate(-90)" font-size="13.5" font-weight="bold" text-anchor="middle" letter-spacing="1">Count</text>
<line x1="522.8" y1="260" x2="662.7" y2="260" stroke="#000" stroke-width="1.7"/>
<line x1="522.8" y1="254.8" x2="522.8" y2="265.2" stroke="#000" stroke-width="1.8"/>
<line x1="662.1" y1="254.8" x2="662.1" y2="265.2" stroke="#000" stroke-width="1.6"/>
<text transform="translate(591.2,224.2) scale(1.02,1)" font-size="12.2" text-anchor="middle" fill="#111">CD14 +</text>
<text transform="translate(591.2,242.8) scale(1.02,1)" font-size="12.2" text-anchor="middle" fill="#111">35.5</text>
<path d="M808.1 352.1 L808.1 351.5 L808.5 351.3 L809 351 L809.4 350.7 L809.8 350.4 L810.2 350.1 L810.6 349.8 L811 349.5 L811.4 349.2 L811.8 349 L812.2 348.7 L812.6 348.3 L813 348 L813.3 347.6 L813.6 347.2 L813.9 346.9 L814.2 346.5 L814.5 346.1 L814.8 345.7 L815.1 345.3 L815.4 344.9 L815.7 344.5 L816 344 L816.2 343.6 L816.4 343.2 L816.6 342.7 L816.7 342.2 L816.8 341.7 L816.9 341.3 L817 340.8 L817.1 340.3 L817.2 339.8 L817.3 339.3 L817.4 338.8 L817.5 338.3 L817.6 337.8 L817.7 337.3 L817.8 336.8 L817.9 336.3 L818 335.9 L818.1 335.4 L818.2 334.9 L818.3 334.4 L818.4 333.9 L818.5 333.4 L818.6 332.9 L818.7 332.4 L818.8 331.9 L818.9 331.4 L818.9 330.9 L819 330.4 L819 329.9 L819.1 329.5 L819.1 329 L819.2 328.5 L819.2 328 L819.3 327.5 L819.3 327 L819.4 326.5 L819.4 326 L819.5 325.5 L819.5 325 L819.6 324.5 L819.6 324 L819.7 323.5 L819.7 323 L819.8 322.5 L819.8 322 L819.9 321.5 L819.9 321 L820 320.5 L820 320 L820.1 319.5 L820.1 319 L820.2 318.5 L820.2 318 L820.3 317.5 L820.3 317 L820.4 316.5 L820.4 316 L820.5 315.5 L820.5 315 L820.6 314.5 L820.6 314 L820.7 313.5 L820.7 313 L820.8 312.5 L820.8 312 L820.9 311.5 L820.9 311 L821 310.5 L821 310 L821.1 309.5 L821.1 309 L821.2 308.5 L821.2 308 L821.2 307.5 L821.3 307 L821.3 306.5 L821.4 306 L821.4 305.6 L821.5 305.1 L821.5 304.6 L821.5 304.1 L821.6 303.6 L821.6 303.1 L821.7 302.6 L821.7 302.1 L821.8 301.6 L821.8 301.1 L821.8 300.6 L821.9 300.1 L821.9 299.6 L822 299.1 L822 298.6 L822 298.1 L822.1 297.6 L822.1 297.1 L822.2 296.6 L822.2 296.1 L822.3 295.6 L822.3 295.1 L822.3 294.6 L822.4 294.1 L822.4 293.6 L822.5 293.1 L822.5 292.6 L822.6 292.1 L822.6 291.6 L822.6 291.1 L822.7 290.6 L822.7 290.1 L822.8 289.6 L822.8 289.1 L822.9 288.6 L822.9 288.1 L822.9 287.6 L823 287.1 L823 286.6 L823.1 286.1 L823.1 285.6 L823.1 285.1 L823.2 284.6 L823.2 284.1 L823.2 283.6 L823.3 283.1 L823.3 282.6 L823.3 282.1 L823.4 281.6 L823.4 281.1 L823.4 280.6 L823.5 280.1 L823.5 279.6 L823.5 279.1 L823.6 278.6 L823.6 278.1 L823.6 277.6 L823.6 277.1 L823.7 276.6 L823.7 276.1 L823.7 275.6 L823.8 275.1 L823.8 274.6 L823.8 274.1 L823.9 273.6 L823.9 273.1 L823.9 272.6 L824 272.1 L824 271.6 L824 271.1 L824.1 270.6 L824.1 270.1 L824.1 269.6 L824.2 269.1 L824.2 268.6 L824.2 268.1 L824.3 267.6 L824.3 267.1 L824.3 266.6 L824.4 266.1 L824.4 265.6 L824.4 265.1 L824.5 264.6 L824.5 264.1 L824.5 263.6 L824.6 263.1 L824.6 262.6 L824.6 262.1 L824.6 261.6 L824.7 261.1 L824.7 260.6 L824.7 260.1 L824.7 259.6 L824.8 259.1 L824.8 258.6 L824.8 258.1 L824.8 257.6 L824.9 257.1 L824.9 256.7 L824.9 256.2 L824.9 255.7 L825 255.2 L825 254.7 L825 254.2 L825 253.7 L825.1 253.2 L825.1 252.7 L825.1 252.2 L825.1 251.7 L825.2 251.2 L825.2 250.7 L825.2 250.2 L825.2 249.7 L825.3 249.2 L825.3 248.7 L825.3 248.2 L825.3 247.7 L825.4 247.2 L825.4 246.7 L825.4 246.2 L825.4 245.7 L825.5 245.2 L825.5 244.7 L825.5 244.2 L825.5 243.7 L825.6 243.2 L825.6 242.7 L825.6 242.2 L825.6 241.7 L825.7 241.2 L825.7 240.7 L825.7 240.2 L825.7 239.7 L825.8 239.2 L825.8 238.7 L825.8 238.2 L825.8 237.7 L825.9 237.2 L825.9 236.7 L825.9 236.2 L825.9 235.7 L826 235.2 L826 234.7 L826 234.2 L826 233.7 L826.1 233.2 L826.1 232.7 L826.1 232.2 L826.1 231.7 L826.2 231.2 L826.2 230.7 L826.2 230.2 L826.2 229.7 L826.3 229.2 L826.3 228.7 L826.3 228.2 L826.3 227.7 L826.4 227.2 L826.4 226.7 L826.4 226.2 L826.4 225.7 L826.5 225.2 L826.5 224.7 L826.5 224.2 L826.5 223.7 L826.6 223.2 L826.6 222.7 L826.6 222.2 L826.6 221.7 L826.7 221.2 L826.7 220.7 L826.7 220.2 L826.7 219.7 L826.8 219.2 L826.8 218.7 L826.8 218.2 L826.8 217.7 L826.9 217.2 L826.9 216.7 L826.9 216.2 L826.9 215.7 L827 215.2 L827 214.7 L827 214.2 L827.1 213.7 L827.1 213.2 L827.1 212.7 L827.1 212.2 L827.2 211.7 L827.2 211.2 L827.2 210.7 L827.3 210.2 L827.3 209.7 L827.3 209.2 L827.4 208.7 L827.4 208.2 L827.4 207.7 L827.4 207.2 L827.5 206.7 L827.5 206.2 L827.5 205.7 L827.6 205.2 L827.6 204.7 L827.6 204.2 L827.7 203.7 L827.7 203.2 L827.7 202.7 L827.7 202.2 L827.8 201.7 L827.8 201.2 L827.8 200.7 L827.9 200.2 L827.9 199.7 L827.9 199.2 L828 198.7 L828 198.2 L828 197.7 L828 197.2 L828.1 196.7 L828.1 196.2 L828.1 195.7 L828.2 195.2 L828.2 194.7 L828.2 194.2 L828.3 193.7 L828.3 193.2 L828.3 192.7 L828.3 192.2 L828.4 191.7 L828.4 191.2 L828.4 190.7 L828.5 190.2 L828.5 189.7 L828.5 189.2 L828.6 188.7 L828.6 188.2 L828.6 187.7 L828.7 187.2 L828.7 186.7 L828.7 186.2 L828.8 185.7 L828.8 185.2 L828.8 184.7 L828.9 184.2 L828.9 183.7 L828.9 183.2 L829 182.7 L829 182.2 L829 181.7 L829.1 181.2 L829.1 180.7 L829.1 180.2 L829.2 179.7 L829.2 179.2 L829.2 178.7 L829.3 178.2 L829.3 177.7 L829.3 177.2 L829.4 176.7 L829.4 176.2 L829.4 175.7 L829.5 175.2 L829.5 174.7 L829.5 174.2 L829.6 173.7 L829.6 173.2 L829.6 172.7 L829.7 172.2 L829.7 171.7 L829.7 171.2 L829.8 170.7 L829.8 170.2 L829.8 169.7 L829.9 169.2 L829.9 168.7 L829.9 168.2 L830 167.7 L830 167.2 L830 166.7 L830.1 166.2 L830.1 165.8 L830.2 165.3 L830.2 164.8 L830.2 164.3 L830.3 163.8 L830.3 163.3 L830.4 162.8 L830.4 162.3 L830.4 161.8 L830.5 161.3 L830.5 160.8 L830.5 160.3 L830.6 159.8 L830.6 159.3 L830.7 158.8 L830.7 158.3 L830.7 157.8 L830.8 157.3 L830.8 156.8 L830.9 156.3 L830.9 155.8 L830.9 155.3 L831 154.8 L831 154.3 L831 153.8 L831.1 153.3 L831.1 152.8 L831.2 152.3 L831.2 151.8 L831.2 151.3 L831.3 150.8 L831.3 150.3 L831.3 149.8 L831.4 149.3 L831.4 148.8 L831.5 148.3 L831.5 147.8 L831.6 147.3 L831.6 146.8 L831.6 146.3 L831.7 145.8 L831.7 145.3 L831.8 144.8 L831.8 144.3 L831.9 143.8 L831.9 143.3 L831.9 142.8 L832 142.3 L832 141.8 L832.1 141.3 L832.1 140.8 L832.2 140.3 L832.2 139.8 L832.2 139.3 L832.3 138.8 L832.3 138.3 L832.4 137.8 L832.4 137.3 L832.5 136.8 L832.5 136.3 L832.5 135.8 L832.6 135.3 L832.6 134.8 L832.7 134.3 L832.7 133.8 L832.8 133.3 L832.8 132.8 L832.8 132.3 L832.9 131.8 L832.9 131.3 L833 130.8 L833 130.3 L833.1 129.9 L833.1 129.4 L833.2 128.9 L833.2 128.4 L833.3 127.9 L833.4 127.4 L833.4 126.9 L833.5 126.4 L833.5 125.9 L833.6 125.4 L833.6 124.9 L833.7 124.4 L833.7 123.9 L833.8 123.4 L833.8 122.9 L833.9 122.4 L834 121.9 L834 121.4 L834.1 120.9 L834.1 120.4 L834.2 119.9 L834.2 119.4 L834.3 118.9 L834.3 118.4 L834.4 117.9 L834.5 117.4 L834.6 116.9 L834.7 116.5 L834.8 116 L835 115.5 L835.1 115 L835.2 114.5 L835.3 114 L835.4 113.5 L835.6 113.1 L835.7 112.6 L835.8 112.1 L835.9 111.6 L836.1 111.1 L836.3 110.7 L836.5 110.2 L836.8 109.8 L837.1 109.4 L837.4 109 L837.7 108.7 L838 108.4 L838.4 108.1 L838.9 107.9 L839.3 107.9 L839.6 108 L840 108.2 L840.2 108.5 L840.5 108.9 L840.7 109.3 L840.9 109.8 L841.1 110.2 L841.3 110.7 L841.4 111.2 L841.5 111.7 L841.6 112.2 L841.6 112.7 L841.7 113.2 L841.8 113.7 L841.9 114.1 L841.9 114.6 L842 115.1 L842.1 115.6 L842.1 116.1 L842.2 116.6 L842.3 117.1 L842.4 117.6 L842.4 118.1 L842.5 118.6 L842.5 119.1 L842.6 119.6 L842.6 120.1 L842.7 120.6 L842.7 121.1 L842.7 121.6 L842.8 122.1 L842.8 122.6 L842.9 123.1 L842.9 123.6 L842.9 124.1 L843 124.6 L843 125.1 L843 125.6 L843.1 126.1 L843.1 126.6 L843.2 127.1 L843.2 127.6 L843.2 128.1 L843.3 128.6 L843.3 129.1 L843.4 129.6 L843.4 130.1 L843.4 130.6 L843.5 131.1 L843.5 131.6 L843.5 132.1 L843.6 132.6 L843.6 133.1 L843.7 133.6 L843.7 134.1 L843.7 134.6 L843.8 135.1 L843.8 135.6 L843.8 136.1 L843.9 136.6 L843.9 137.1 L843.9 137.6 L843.9 138.1 L844 138.6 L844 139.1 L844 139.6 L844.1 140.1 L844.1 140.6 L844.1 141.1 L844.1 141.6 L844.2 142.1 L844.2 142.6 L844.2 143.1 L844.3 143.6 L844.3 144.1 L844.3 144.6 L844.4 145.1 L844.4 145.6 L844.4 146.1 L844.4 146.6 L844.5 147.1 L844.5 147.6 L844.5 148.1 L844.6 148.6 L844.6 149.1 L844.6 149.6 L844.6 150 L844.7 150.5 L844.7 151 L844.7 151.5 L844.8 152 L844.8 152.5 L844.8 153 L844.9 153.5 L844.9 154 L844.9 154.5 L844.9 155 L845 155.5 L845 156 L845 156.5 L845.1 157 L845.1 157.5 L845.1 158 L845.2 158.5 L845.2 159 L845.2 159.5 L845.3 160 L845.3 160.5 L845.3 161 L845.4 161.5 L845.4 162 L845.4 162.5 L845.5 163 L845.5 163.5 L845.5 164 L845.6 164.5 L845.6 165 L845.6 165.5 L845.7 166 L845.7 166.5 L845.7 167 L845.8 167.5 L845.8 168 L845.8 168.5 L845.9 169 L845.9 169.5 L845.9 170 L846 170.5 L846 171 L846 171.5 L846.1 172 L846.1 172.5 L846.1 173 L846.2 173.5 L846.2 174 L846.2 174.5 L846.3 175 L846.3 175.5 L846.3 176 L846.4 176.5 L846.4 177 L846.5 177.5 L846.5 178 L846.6 178.5 L846.6 179 L846.6 179.5 L846.7 180 L846.7 180.5 L846.8 181 L846.8 181.5 L846.9 182 L846.9 182.5 L847 183 L847 183.5 L847 184 L847.1 184.5 L847.1 185 L847.2 185.5 L847.2 186 L847.3 186.5 L847.3 187 L847.3 187.5 L847.4 188 L847.4 188.5 L847.5 189 L847.5 189.5 L847.6 190 L847.6 190.5 L847.7 191 L847.7 191.5 L847.7 192 L847.8 192.5 L847.8 193 L847.9 193.5 L847.9 194 L848 194.4 L848 194.9 L848.1 195.4 L848.1 195.9 L848.1 196.4 L848.2 196.9 L848.2 197.4 L848.2 197.9 L848.3 198.4 L848.3 198.9 L848.3 199.4 L848.4 199.9 L848.4 200.4 L848.4 200.9 L848.5 201.4 L848.5 201.9 L848.5 202.4 L848.6 202.9 L848.6 203.4 L848.6 203.9 L848.7 204.4 L848.7 204.9 L848.7 205.4 L848.8 205.9 L848.8 206.4 L848.8 206.9 L848.9 207.4 L848.9 207.9 L848.9 208.4 L849 208.9 L849 209.4 L849 209.9 L849.1 210.4 L849.1 210.9 L849.1 211.4 L849.1 211.9 L849.2 212.4 L849.2 212.9 L849.2 213.4 L849.3 213.9 L849.3 214.4 L849.3 214.9 L849.4 215.4 L849.4 215.9 L849.4 216.4 L849.5 216.9 L849.5 217.4 L849.5 217.9 L849.6 218.4 L849.6 218.9 L849.6 219.4 L849.7 219.9 L849.7 220.4 L849.7 220.9 L849.7 221.4 L849.8 221.9 L849.8 222.4 L849.8 222.9 L849.8 223.4 L849.9 223.9 L849.9 224.4 L849.9 224.9 L849.9 225.4 L850 225.9 L850 226.4 L850 226.9 L850 227.4 L850.1 227.9 L850.1 228.4 L850.1 228.9 L850.1 229.4 L850.2 229.9 L850.2 230.4 L850.2 230.9 L850.2 231.4 L850.3 231.9 L850.3 232.4 L850.3 232.9 L850.3 233.4 L850.4 233.9 L850.4 234.4 L850.4 234.9 L850.4 235.4 L850.5 235.9 L850.5 236.4 L850.5 236.9 L850.5 237.4 L850.6 237.9 L850.6 238.4 L850.6 238.9 L850.6 239.4 L850.7 239.9 L850.7 240.4 L850.7 240.9 L850.7 241.4 L850.8 241.9 L850.8 242.4 L850.8 242.9 L850.9 243.4 L850.9 243.9 L850.9 244.4 L850.9 244.9 L851 245.4 L851 245.9 L851.1 246.4 L851.1 246.9 L851.1 247.4 L851.2 247.9 L851.2 248.4 L851.3 248.9 L851.3 249.4 L851.3 249.9 L851.4 250.4 L851.4 250.9 L851.5 251.4 L851.5 251.9 L851.5 252.4 L851.6 252.9 L851.6 253.4 L851.7 253.9 L851.7 254.4 L851.7 254.9 L851.8 255.4 L851.8 255.9 L851.9 256.4 L851.9 256.9 L851.9 257.4 L852 257.9 L852 258.4 L852.1 258.9 L852.1 259.4 L852.1 259.8 L852.2 260.3 L852.2 260.8 L852.3 261.3 L852.3 261.8 L852.3 262.3 L852.4 262.8 L852.4 263.3 L852.5 263.8 L852.5 264.3 L852.5 264.8 L852.6 265.3 L852.6 265.8 L852.7 266.3 L852.7 266.8 L852.7 267.3 L852.8 267.8 L852.8 268.3 L852.9 268.8 L852.9 269.3 L852.9 269.8 L853 270.3 L853 270.8 L853.1 271.3 L853.1 271.8 L853.1 272.3 L853.2 272.8 L853.2 273.3 L853.3 273.8 L853.3 274.3 L853.3 274.8 L853.4 275.3 L853.4 275.8 L853.5 276.3 L853.5 276.8 L853.5 277.3 L853.6 277.8 L853.6 278.3 L853.7 278.8 L853.7 279.3 L853.7 279.8 L853.8 280.3 L853.8 280.8 L853.9 281.3 L853.9 281.8 L854 282.3 L854 282.8 L854 283.3 L854.1 283.8 L854.1 284.3 L854.2 284.8 L854.2 285.3 L854.3 285.8 L854.3 286.3 L854.4 286.8 L854.4 287.3 L854.4 287.8 L854.5 288.3 L854.5 288.8 L854.6 289.3 L854.6 289.8 L854.7 290.3 L854.7 290.8 L854.8 291.3 L854.8 291.8 L854.8 292.3 L854.9 292.8 L854.9 293.3 L855 293.7 L855 294.2 L855.1 294.7 L855.1 295.2 L855.2 295.7 L855.2 296.2 L855.2 296.7 L855.3 297.2 L855.3 297.7 L855.4 298.2 L855.4 298.7 L855.5 299.2 L855.5 299.7 L855.6 300.2 L855.6 300.7 L855.7 301.2 L855.7 301.7 L855.7 302.2 L855.8 302.7 L855.8 303.2 L855.9 303.7 L855.9 304.2 L856 304.7 L856 305.2 L856.1 305.7 L856.1 306.2 L856.2 306.7 L856.2 307.2 L856.3 307.7 L856.3 308.2 L856.4 308.7 L856.4 309.2 L856.5 309.7 L856.5 310.2 L856.6 310.7 L856.6 311.2 L856.7 311.7 L856.7 312.2 L856.8 312.7 L856.8 313.2 L856.9 313.7 L856.9 314.2 L857 314.7 L857 315.2 L857.1 315.7 L857.1 316.2 L857.2 316.7 L857.2 317.2 L857.3 317.7 L857.3 318.2 L857.4 318.6 L857.4 319.1 L857.5 319.6 L857.5 320.1 L857.6 320.6 L857.6 321.1 L857.7 321.6 L857.7 322.1 L857.8 322.6 L857.8 323.1 L857.9 323.6 L857.9 324.1 L858 324.6 L858 325.1 L858.1 325.6 L858.1 326.1 L858.2 326.6 L858.2 327.1 L858.3 327.6 L858.4 328.1 L858.4 328.6 L858.5 329.1 L858.6 329.6 L858.7 330.1 L858.8 330.6 L858.9 331 L859 331.5 L859.1 332 L859.2 332.5 L859.3 333 L859.4 333.5 L859.5 334 L859.6 334.5 L859.7 335 L859.8 335.5 L859.9 336 L860 336.4 L860.1 336.9 L860.2 337.4 L860.3 337.9 L860.4 338.4 L860.5 338.9 L860.6 339.4 L860.7 339.9 L860.8 340.4 L860.9 340.9 L861 341.3 L861.1 341.8 L861.2 342.3 L861.3 342.8 L861.4 343.3 L861.5 343.8 L861.6 344.3 L861.7 344.8 L861.8 345.2 L862 345.7 L862.2 346.1 L862.5 346.5 L862.8 346.9 L863.1 347.3 L863.5 347.7 L863.8 348.1 L864.1 348.5 L864.4 348.8 L864.7 349.2 L865.1 349.6 L865.4 350 L865.7 350.4 L866 350.8 L866.3 351.2 L866.7 351.5 L866.7 352.1 Z" fill="#ebebeb"/>
<path d="M808.1 351.5 L808.5 351.3 L809 351 L809.4 350.7 L809.8 350.4 L810.2 350.1 L810.6 349.8 L811 349.5 L811.4 349.2 L811.8 349 L812.2 348.7 L812.6 348.3 L813 348 L813.3 347.6 L813.6 347.2 L813.9 346.9 L814.2 346.5 L814.5 346.1 L814.8 345.7 L815.1 345.3 L815.4 344.9 L815.7 344.5 L816 344 L816.2 343.6 L816.4 343.2 L816.6 342.7 L816.7 342.2 L816.8 341.7 L816.9 341.3 L817 340.8 L817.1 340.3 L817.2 339.8 L817.3 339.3 L817.4 338.8 L817.5 338.3 L817.6 337.8 L817.7 337.3 L817.8 336.8 L817.9 336.3 L818 335.9 L818.1 335.4 L818.2 334.9 L818.3 334.4 L818.4 333.9 L818.5 333.4 L818.6 332.9 L818.7 332.4 L818.8 331.9 L818.9 331.4 L818.9 330.9 L819 330.4 L819 329.9 L819.1 329.5 L819.1 329 L819.2 328.5 L819.2 328 L819.3 327.5 L819.3 327 L819.4 326.5 L819.4 326 L819.5 325.5 L819.5 325 L819.6 324.5 L819.6 324 L819.7 323.5 L819.7 323 L819.8 322.5 L819.8 322 L819.9 321.5 L819.9 321 L820 320.5 L820 320 L820.1 319.5 L820.1 319 L820.2 318.5 L820.2 318 L820.3 317.5 L820.3 317 L820.4 316.5 L820.4 316 L820.5 315.5 L820.5 315 L820.6 314.5 L820.6 314 L820.7 313.5 L820.7 313 L820.8 312.5 L820.8 312 L820.9 311.5 L820.9 311 L821 310.5 L821 310 L821.1 309.5 L821.1 309 L821.2 308.5 L821.2 308 L821.2 307.5 L821.3 307 L821.3 306.5 L821.4 306 L821.4 305.6 L821.5 305.1 L821.5 304.6 L821.5 304.1 L821.6 303.6 L821.6 303.1 L821.7 302.6 L821.7 302.1 L821.8 301.6 L821.8 301.1 L821.8 300.6 L821.9 300.1 L821.9 299.6 L822 299.1 L822 298.6 L822 298.1 L822.1 297.6 L822.1 297.1 L822.2 296.6 L822.2 296.1 L822.3 295.6 L822.3 295.1 L822.3 294.6 L822.4 294.1 L822.4 293.6 L822.5 293.1 L822.5 292.6 L822.6 292.1 L822.6 291.6 L822.6 291.1 L822.7 290.6 L822.7 290.1 L822.8 289.6 L822.8 289.1 L822.9 288.6 L822.9 288.1 L822.9 287.6 L823 287.1 L823 286.6 L823.1 286.1 L823.1 285.6 L823.1 285.1 L823.2 284.6 L823.2 284.1 L823.2 283.6 L823.3 283.1 L823.3 282.6 L823.3 282.1 L823.4 281.6 L823.4 281.1 L823.4 280.6 L823.5 280.1 L823.5 279.6 L823.5 279.1 L823.6 278.6 L823.6 278.1 L823.6 277.6 L823.6 277.1 L823.7 276.6 L823.7 276.1 L823.7 275.6 L823.8 275.1 L823.8 274.6 L823.8 274.1 L823.9 273.6 L823.9 273.1 L823.9 272.6 L824 272.1 L824 271.6 L824 271.1 L824.1 270.6 L824.1 270.1 L824.1 269.6 L824.2 269.1 L824.2 268.6 L824.2 268.1 L824.3 267.6 L824.3 267.1 L824.3 266.6 L824.4 266.1 L824.4 265.6 L824.4 265.1 L824.5 264.6 L824.5 264.1 L824.5 263.6 L824.6 263.1 L824.6 262.6 L824.6 262.1 L824.6 261.6 L824.7 261.1 L824.7 260.6 L824.7 260.1 L824.7 259.6 L824.8 259.1 L824.8 258.6 L824.8 258.1 L824.8 257.6 L824.9 257.1 L824.9 256.7 L824.9 256.2 L824.9 255.7 L825 255.2 L825 254.7 L825 254.2 L825 253.7 L825.1 253.2 L825.1 252.7 L825.1 252.2 L825.1 251.7 L825.2 251.2 L825.2 250.7 L825.2 250.2 L825.2 249.7 L825.3 249.2 L825.3 248.7 L825.3 248.2 L825.3 247.7 L825.4 247.2 L825.4 246.7 L825.4 246.2 L825.4 245.7 L825.5 245.2 L825.5 244.7 L825.5 244.2 L825.5 243.7 L825.6 243.2 L825.6 242.7 L825.6 242.2 L825.6 241.7 L825.7 241.2 L825.7 240.7 L825.7 240.2 L825.7 239.7 L825.8 239.2 L825.8 238.7 L825.8 238.2 L825.8 237.7 L825.9 237.2 L825.9 236.7 L825.9 236.2 L825.9 235.7 L826 235.2 L826 234.7 L826 234.2 L826 233.7 L826.1 233.2 L826.1 232.7 L826.1 232.2 L826.1 231.7 L826.2 231.2 L826.2 230.7 L826.2 230.2 L826.2 229.7 L826.3 229.2 L826.3 228.7 L826.3 228.2 L826.3 227.7 L826.4 227.2 L826.4 226.7 L826.4 226.2 L826.4 225.7 L826.5 225.2 L826.5 224.7 L826.5 224.2 L826.5 223.7 L826.6 223.2 L826.6 222.7 L826.6 222.2 L826.6 221.7 L826.7 221.2 L826.7 220.7 L826.7 220.2 L826.7 219.7 L826.8 219.2 L826.8 218.7 L826.8 218.2 L826.8 217.7 L826.9 217.2 L826.9 216.7 L826.9 216.2 L826.9 215.7 L827 215.2 L827 214.7 L827 214.2 L827.1 213.7 L827.1 213.2 L827.1 212.7 L827.1 212.2 L827.2 211.7 L827.2 211.2 L827.2 210.7 L827.3 210.2 L827.3 209.7 L827.3 209.2 L827.4 208.7 L827.4 208.2 L827.4 207.7 L827.4 207.2 L827.5 206.7 L827.5 206.2 L827.5 205.7 L827.6 205.2 L827.6 204.7 L827.6 204.2 L827.7 203.7 L827.7 203.2 L827.7 202.7 L827.7 202.2 L827.8 201.7 L827.8 201.2 L827.8 200.7 L827.9 200.2 L827.9 199.7 L827.9 199.2 L828 198.7 L828 198.2 L828 197.7 L828 197.2 L828.1 196.7 L828.1 196.2 L828.1 195.7 L828.2 195.2 L828.2 194.7 L828.2 194.2 L828.3 193.7 L828.3 193.2 L828.3 192.7 L828.3 192.2 L828.4 191.7 L828.4 191.2 L828.4 190.7 L828.5 190.2 L828.5 189.7 L828.5 189.2 L828.6 188.7 L828.6 188.2 L828.6 187.7 L828.7 187.2 L828.7 186.7 L828.7 186.2 L828.8 185.7 L828.8 185.2 L828.8 184.7 L828.9 184.2 L828.9 183.7 L828.9 183.2 L829 182.7 L829 182.2 L829 181.7 L829.1 181.2 L829.1 180.7 L829.1 180.2 L829.2 179.7 L829.2 179.2 L829.2 178.7 L829.3 178.2 L829.3 177.7 L829.3 177.2 L829.4 176.7 L829.4 176.2 L829.4 175.7 L829.5 175.2 L829.5 174.7 L829.5 174.2 L829.6 173.7 L829.6 173.2 L829.6 172.7 L829.7 172.2 L829.7 171.7 L829.7 171.2 L829.8 170.7 L829.8 170.2 L829.8 169.7 L829.9 169.2 L829.9 168.7 L829.9 168.2 L830 167.7 L830 167.2 L830 166.7 L830.1 166.2 L830.1 165.8 L830.2 165.3 L830.2 164.8 L830.2 164.3 L830.3 163.8 L830.3 163.3 L830.4 162.8 L830.4 162.3 L830.4 161.8 L830.5 161.3 L830.5 160.8 L830.5 160.3 L830.6 159.8 L830.6 159.3 L830.7 158.8 L830.7 158.3 L830.7 157.8 L830.8 157.3 L830.8 156.8 L830.9 156.3 L830.9 155.8 L830.9 155.3 L831 154.8 L831 154.3 L831 153.8 L831.1 153.3 L831.1 152.8 L831.2 152.3 L831.2 151.8 L831.2 151.3 L831.3 150.8 L831.3 150.3 L831.3 149.8 L831.4 149.3 L831.4 148.8 L831.5 148.3 L831.5 147.8 L831.6 147.3 L831.6 146.8 L831.6 146.3 L831.7 145.8 L831.7 145.3 L831.8 144.8 L831.8 144.3 L831.9 143.8 L831.9 143.3 L831.9 142.8 L832 142.3 L832 141.8 L832.1 141.3 L832.1 140.8 L832.2 140.3 L832.2 139.8 L832.2 139.3 L832.3 138.8 L832.3 138.3 L832.4 137.8 L832.4 137.3 L832.5 136.8 L832.5 136.3 L832.5 135.8 L832.6 135.3 L832.6 134.8 L832.7 134.3 L832.7 133.8 L832.8 133.3 L832.8 132.8 L832.8 132.3 L832.9 131.8 L832.9 131.3 L833 130.8 L833 130.3 L833.1 129.9 L833.1 129.4 L833.2 128.9 L833.2 128.4 L833.3 127.9 L833.4 127.4 L833.4 126.9 L833.5 126.4 L833.5 125.9 L833.6 125.4 L833.6 124.9 L833.7 124.4 L833.7 123.9 L833.8 123.4 L833.8 122.9 L833.9 122.4 L834 121.9 L834 121.4 L834.1 120.9 L834.1 120.4 L834.2 119.9 L834.2 119.4 L834.3 118.9 L834.3 118.4 L834.4 117.9 L834.5 117.4 L834.6 116.9 L834.7 116.5 L834.8 116 L835 115.5 L835.1 115 L835.2 114.5 L835.3 114 L835.4 113.5 L835.6 113.1 L835.7 112.6 L835.8 112.1 L835.9 111.6 L836.1 111.1 L836.3 110.7 L836.5 110.2 L836.8 109.8 L837.1 109.4 L837.4 109 L837.7 108.7 L838 108.4 L838.4 108.1 L838.9 107.9 L839.3 107.9 L839.6 108 L840 108.2 L840.2 108.5 L840.5 108.9 L840.7 109.3 L840.9 109.8 L841.1 110.2 L841.3 110.7 L841.4 111.2 L841.5 111.7 L841.6 112.2 L841.6 112.7 L841.7 113.2 L841.8 113.7 L841.9 114.1 L841.9 114.6 L842 115.1 L842.1 115.6 L842.1 116.1 L842.2 116.6 L842.3 117.1 L842.4 117.6 L842.4 118.1 L842.5 118.6 L842.5 119.1 L842.6 119.6 L842.6 120.1 L842.7 120.6 L842.7 121.1 L842.7 121.6 L842.8 122.1 L842.8 122.6 L842.9 123.1 L842.9 123.6 L842.9 124.1 L843 124.6 L843 125.1 L843 125.6 L843.1 126.1 L843.1 126.6 L843.2 127.1 L843.2 127.6 L843.2 128.1 L843.3 128.6 L843.3 129.1 L843.4 129.6 L843.4 130.1 L843.4 130.6 L843.5 131.1 L843.5 131.6 L843.5 132.1 L843.6 132.6 L843.6 133.1 L843.7 133.6 L843.7 134.1 L843.7 134.6 L843.8 135.1 L843.8 135.6 L843.8 136.1 L843.9 136.6 L843.9 137.1 L843.9 137.6 L843.9 138.1 L844 138.6 L844 139.1 L844 139.6 L844.1 140.1 L844.1 140.6 L844.1 141.1 L844.1 141.6 L844.2 142.1 L844.2 142.6 L844.2 143.1 L844.3 143.6 L844.3 144.1 L844.3 144.6 L844.4 145.1 L844.4 145.6 L844.4 146.1 L844.4 146.6 L844.5 147.1 L844.5 147.6 L844.5 148.1 L844.6 148.6 L844.6 149.1 L844.6 149.6 L844.6 150 L844.7 150.5 L844.7 151 L844.7 151.5 L844.8 152 L844.8 152.5 L844.8 153 L844.9 153.5 L844.9 154 L844.9 154.5 L844.9 155 L845 155.5 L845 156 L845 156.5 L845.1 157 L845.1 157.5 L845.1 158 L845.2 158.5 L845.2 159 L845.2 159.5 L845.3 160 L845.3 160.5 L845.3 161 L845.4 161.5 L845.4 162 L845.4 162.5 L845.5 163 L845.5 163.5 L845.5 164 L845.6 164.5 L845.6 165 L845.6 165.5 L845.7 166 L845.7 166.5 L845.7 167 L845.8 167.5 L845.8 168 L845.8 168.5 L845.9 169 L845.9 169.5 L845.9 170 L846 170.5 L846 171 L846 171.5 L846.1 172 L846.1 172.5 L846.1 173 L846.2 173.5 L846.2 174 L846.2 174.5 L846.3 175 L846.3 175.5 L846.3 176 L846.4 176.5 L846.4 177 L846.5 177.5 L846.5 178 L846.6 178.5 L846.6 179 L846.6 179.5 L846.7 180 L846.7 180.5 L846.8 181 L846.8 181.5 L846.9 182 L846.9 182.5 L847 183 L847 183.5 L847 184 L847.1 184.5 L847.1 185 L847.2 185.5 L847.2 186 L847.3 186.5 L847.3 187 L847.3 187.5 L847.4 188 L847.4 188.5 L847.5 189 L847.5 189.5 L847.6 190 L847.6 190.5 L847.7 191 L847.7 191.5 L847.7 192 L847.8 192.5 L847.8 193 L847.9 193.5 L847.9 194 L848 194.4 L848 194.9 L848.1 195.4 L848.1 195.9 L848.1 196.4 L848.2 196.9 L848.2 197.4 L848.2 197.9 L848.3 198.4 L848.3 198.9 L848.3 199.4 L848.4 199.9 L848.4 200.4 L848.4 200.9 L848.5 201.4 L848.5 201.9 L848.5 202.4 L848.6 202.9 L848.6 203.4 L848.6 203.9 L848.7 204.4 L848.7 204.9 L848.7 205.4 L848.8 205.9 L848.8 206.4 L848.8 206.9 L848.9 207.4 L848.9 207.9 L848.9 208.4 L849 208.9 L849 209.4 L849 209.9 L849.1 210.4 L849.1 210.9 L849.1 211.4 L849.1 211.9 L849.2 212.4 L849.2 212.9 L849.2 213.4 L849.3 213.9 L849.3 214.4 L849.3 214.9 L849.4 215.4 L849.4 215.9 L849.4 216.4 L849.5 216.9 L849.5 217.4 L849.5 217.9 L849.6 218.4 L849.6 218.9 L849.6 219.4 L849.7 219.9 L849.7 220.4 L849.7 220.9 L849.7 221.4 L849.8 221.9 L849.8 222.4 L849.8 222.9 L849.8 223.4 L849.9 223.9 L849.9 224.4 L849.9 224.9 L849.9 225.4 L850 225.9 L850 226.4 L850 226.9 L850 227.4 L850.1 227.9 L850.1 228.4 L850.1 228.9 L850.1 229.4 L850.2 229.9 L850.2 230.4 L850.2 230.9 L850.2 231.4 L850.3 231.9 L850.3 232.4 L850.3 232.9 L850.3 233.4 L850.4 233.9 L850.4 234.4 L850.4 234.9 L850.4 235.4 L850.5 235.9 L850.5 236.4 L850.5 236.9 L850.5 237.4 L850.6 237.9 L850.6 238.4 L850.6 238.9 L850.6 239.4 L850.7 239.9 L850.7 240.4 L850.7 240.9 L850.7 241.4 L850.8 241.9 L850.8 242.4 L850.8 242.9 L850.9 243.4 L850.9 243.9 L850.9 244.4 L850.9 244.9 L851 245.4 L851 245.9 L851.1 246.4 L851.1 246.9 L851.1 247.4 L851.2 247.9 L851.2 248.4 L851.3 248.9 L851.3 249.4 L851.3 249.9 L851.4 250.4 L851.4 250.9 L851.5 251.4 L851.5 251.9 L851.5 252.4 L851.6 252.9 L851.6 253.4 L851.7 253.9 L851.7 254.4 L851.7 254.9 L851.8 255.4 L851.8 255.9 L851.9 256.4 L851.9 256.9 L851.9 257.4 L852 257.9 L852 258.4 L852.1 258.9 L852.1 259.4 L852.1 259.8 L852.2 260.3 L852.2 260.8 L852.3 261.3 L852.3 261.8 L852.3 262.3 L852.4 262.8 L852.4 263.3 L852.5 263.8 L852.5 264.3 L852.5 264.8 L852.6 265.3 L852.6 265.8 L852.7 266.3 L852.7 266.8 L852.7 267.3 L852.8 267.8 L852.8 268.3 L852.9 268.8 L852.9 269.3 L852.9 269.8 L853 270.3 L853 270.8 L853.1 271.3 L853.1 271.8 L853.1 272.3 L853.2 272.8 L853.2 273.3 L853.3 273.8 L853.3 274.3 L853.3 274.8 L853.4 275.3 L853.4 275.8 L853.5 276.3 L853.5 276.8 L853.5 277.3 L853.6 277.8 L853.6 278.3 L853.7 278.8 L853.7 279.3 L853.7 279.8 L853.8 280.3 L853.8 280.8 L853.9 281.3 L853.9 281.8 L854 282.3 L854 282.8 L854 283.3 L854.1 283.8 L854.1 284.3 L854.2 284.8 L854.2 285.3 L854.3 285.8 L854.3 286.3 L854.4 286.8 L854.4 287.3 L854.4 287.8 L854.5 288.3 L854.5 288.8 L854.6 289.3 L854.6 289.8 L854.7 290.3 L854.7 290.8 L854.8 291.3 L854.8 291.8 L854.8 292.3 L854.9 292.8 L854.9 293.3 L855 293.7 L855 294.2 L855.1 294.7 L855.1 295.2 L855.2 295.7 L855.2 296.2 L855.2 296.7 L855.3 297.2 L855.3 297.7 L855.4 298.2 L855.4 298.7 L855.5 299.2 L855.5 299.7 L855.6 300.2 L855.6 300.7 L855.7 301.2 L855.7 301.7 L855.7 302.2 L855.8 302.7 L855.8 303.2 L855.9 303.7 L855.9 304.2 L856 304.7 L856 305.2 L856.1 305.7 L856.1 306.2 L856.2 306.7 L856.2 307.2 L856.3 307.7 L856.3 308.2 L856.4 308.7 L856.4 309.2 L856.5 309.7 L856.5 310.2 L856.6 310.7 L856.6 311.2 L856.7 311.7 L856.7 312.2 L856.8 312.7 L856.8 313.2 L856.9 313.7 L856.9 314.2 L857 314.7 L857 315.2 L857.1 315.7 L857.1 316.2 L857.2 316.7 L857.2 317.2 L857.3 317.7 L857.3 318.2 L857.4 318.6 L857.4 319.1 L857.5 319.6 L857.5 320.1 L857.6 320.6 L857.6 321.1 L857.7 321.6 L857.7 322.1 L857.8 322.6 L857.8 323.1 L857.9 323.6 L857.9 324.1 L858 324.6 L858 325.1 L858.1 325.6 L858.1 326.1 L858.2 326.6 L858.2 327.1 L858.3 327.6 L858.4 328.1 L858.4 328.6 L858.5 329.1 L858.6 329.6 L858.7 330.1 L858.8 330.6 L858.9 331 L859 331.5 L859.1 332 L859.2 332.5 L859.3 333 L859.4 333.5 L859.5 334 L859.6 334.5 L859.7 335 L859.8 335.5 L859.9 336 L860 336.4 L860.1 336.9 L860.2 337.4 L860.3 337.9 L860.4 338.4 L860.5 338.9 L860.6 339.4 L860.7 339.9 L860.8 340.4 L860.9 340.9 L861 341.3 L861.1 341.8 L861.2 342.3 L861.3 342.8 L861.4 343.3 L861.5 343.8 L861.6 344.3 L861.7 344.8 L861.8 345.2 L862 345.7 L862.2 346.1 L862.5 346.5 L862.8 346.9 L863.1 347.3 L863.5 347.7 L863.8 348.1 L864.1 348.5 L864.4 348.8 L864.7 349.2 L865.1 349.6 L865.4 350 L865.7 350.4 L866 350.8 L866.3 351.2 L866.7 351.5" fill="none" stroke="#c8c8c8" stroke-width="1.5" stroke-linejoin="round"/>
<path d="M846.1 352.1 L846.1 351.8 L846.2 351.3 L846.3 350.8 L846.4 350.3 L846.5 349.8 L846.6 349.3 L846.7 348.8 L846.8 348.3 L846.9 347.8 L847 347.4 L847.1 346.9 L847.2 346.4 L847.3 345.9 L847.4 345.4 L847.5 344.9 L847.6 344.4 L847.7 343.9 L847.8 343.4 L847.8 342.9 L847.9 342.4 L847.9 341.9 L847.9 341.4 L848 340.9 L848 340.4 L848.1 339.9 L848.1 339.4 L848.1 338.9 L848.2 338.4 L848.2 337.9 L848.3 337.4 L848.3 336.9 L848.3 336.4 L848.4 335.9 L848.4 335.4 L848.4 334.9 L848.5 334.4 L848.5 333.9 L848.6 333.4 L848.6 332.9 L848.6 332.4 L848.7 331.9 L848.7 331.4 L848.8 330.9 L848.8 330.4 L848.8 329.9 L848.9 329.4 L848.9 328.9 L848.9 328.4 L849 327.9 L849 327.4 L849 326.9 L849.1 326.4 L849.1 325.9 L849.1 325.4 L849.2 324.9 L849.2 324.4 L849.2 323.9 L849.3 323.4 L849.3 322.9 L849.3 322.4 L849.4 321.9 L849.4 321.4 L849.4 320.9 L849.5 320.4 L849.5 319.9 L849.5 319.4 L849.6 318.9 L849.6 318.4 L849.6 317.9 L849.7 317.4 L849.7 316.9 L849.7 316.4 L849.8 315.9 L849.8 315.4 L849.8 314.9 L849.9 314.4 L849.9 313.9 L849.9 313.4 L850 312.9 L850 312.4 L850 311.9 L850.1 311.4 L850.1 310.9 L850.2 310.4 L850.2 309.9 L850.2 309.4 L850.3 308.9 L850.3 308.4 L850.4 307.9 L850.5 307.4 L850.5 306.9 L850.6 306.4 L850.6 305.9 L850.7 305.4 L850.7 304.9 L850.8 304.4 L850.8 303.9 L850.9 303.4 L850.9 302.9 L851 302.4 L851 301.9 L851.1 301.4 L851.2 300.9 L851.2 300.4 L851.3 299.9 L851.3 299.4 L851.4 298.9 L851.4 298.4 L851.5 297.9 L851.5 297.4 L851.6 296.9 L851.7 296.4 L851.7 296 L851.8 295.5 L852 295 L852.1 294.5 L852.3 294 L852.4 293.5 L852.6 293.1 L852.7 292.6 L852.9 292.1 L853.1 291.7 L853.3 291.2 L853.5 290.8 L853.8 290.5 L854.1 290.4 L854.4 290.4 L854.6 290.7 L854.7 291.1 L854.8 291.5 L854.9 292 L855 292.5 L855.1 293 L855.2 293.5 L855.3 294 L855.4 294.5 L855.5 295 L855.6 295.5 L855.7 296 L855.8 296.5 L855.9 297 L856 297.5 L856.1 297.9 L856.1 298.4 L856.2 298.9 L856.3 299.4 L856.4 299.9 L856.5 300.4 L856.5 300.9 L856.6 301.4 L856.7 301.9 L856.8 302.4 L856.9 302.9 L857 303.4 L857 303.9 L857.1 304.4 L857.2 304.9 L857.3 305.4 L857.4 305.9 L857.5 306.4 L857.5 306.9 L857.6 307.3 L857.7 307.8 L857.8 308.3 L857.9 308.8 L858 309.2 L858.2 309.5 L858.4 309.5 L858.7 309.4 L859 309.2 L859.3 309.2 L859.5 309.4 L859.5 309.8 L859.6 310.3 L859.6 310.8 L859.7 311.3 L859.7 311.8 L859.7 312.3 L859.8 312.8 L859.8 313.3 L859.8 313.8 L859.9 314.3 L859.9 314.8 L860 315.3 L860 315.8 L860 316.3 L860.1 316.8 L860.2 317.3 L860.3 317.7 L860.4 318.2 L860.5 318.7 L860.6 319.2 L860.7 319.7 L860.8 320.2 L861 320.7 L861.1 321.2 L861.2 321.6 L861.3 322.1 L861.5 322.6 L861.6 323.1 L861.7 323.6 L861.8 324.1 L862 324.6 L862.1 325 L862.3 325.5 L862.4 326 L862.6 326.5 L862.8 326.9 L862.9 327.4 L863.1 327.9 L863.2 328.4 L863.4 328.8 L863.5 329.3 L863.7 329.8 L863.9 330.3 L864 330.7 L864.2 331.2 L864.4 331.7 L864.6 332.1 L864.8 332.6 L865 333 L865.3 333.5 L865.5 333.9 L865.7 334.4 L865.9 334.8 L866.2 335.3 L866.4 335.7 L866.6 336.2 L866.9 336.6 L867.1 337 L867.4 337.4 L867.7 337.9 L867.9 338.3 L868.2 338.7 L868.5 339.1 L868.7 339.6 L869 340 L869.3 340.4 L869.6 340.8 L869.8 341.2 L870.2 341.6 L870.5 342 L870.8 342.4 L871.1 342.8 L871.4 343.2 L871.8 343.6 L872.1 343.9 L872.4 344.3 L872.7 344.7 L873.1 345.1 L873.4 345.4 L873.8 345.8 L874.1 346.1 L874.5 346.5 L874.9 346.8 L875.2 347.2 L875.6 347.5 L875.9 347.9 L876.3 348.2 L876.8 348.4 L877.2 348.7 L877.6 348.9 L878.1 349.1 L878.5 349.4 L879 349.6 L879.4 349.8 L879.9 350 L880.4 350.1 L880.9 350.3 L881.3 350.4 L881.8 350.5 L882.3 350.7 L882.8 350.8 L883.3 350.9 L883.8 351 L884.3 351 L884.8 351.1 L885.3 351.2 L885.8 351.2 L886.3 351.3 L886.8 351.3 L887.3 351.4 L887.8 351.4 L888.3 351.5 L888.8 351.5 L888.8 352.1 Z" fill="#f5a9ef"/>
<path d="M846.1 351.8 L846.2 351.3 L846.3 350.8 L846.4 350.3 L846.5 349.8 L846.6 349.3 L846.7 348.8 L846.8 348.3 L846.9 347.8 L847 347.4 L847.1 346.9 L847.2 346.4 L847.3 345.9 L847.4 345.4 L847.5 344.9 L847.6 344.4 L847.7 343.9 L847.8 343.4 L847.8 342.9 L847.9 342.4 L847.9 341.9 L847.9 341.4 L848 340.9 L848 340.4 L848.1 339.9 L848.1 339.4 L848.1 338.9 L848.2 338.4 L848.2 337.9 L848.3 337.4 L848.3 336.9 L848.3 336.4 L848.4 335.9 L848.4 335.4 L848.4 334.9 L848.5 334.4 L848.5 333.9 L848.6 333.4 L848.6 332.9 L848.6 332.4 L848.7 331.9 L848.7 331.4 L848.8 330.9 L848.8 330.4 L848.8 329.9 L848.9 329.4 L848.9 328.9 L848.9 328.4 L849 327.9 L849 327.4 L849 326.9 L849.1 326.4 L849.1 325.9 L849.1 325.4 L849.2 324.9 L849.2 324.4 L849.2 323.9 L849.3 323.4 L849.3 322.9 L849.3 322.4 L849.4 321.9 L849.4 321.4 L849.4 320.9 L849.5 320.4 L849.5 319.9 L849.5 319.4 L849.6 318.9 L849.6 318.4 L849.6 317.9 L849.7 317.4 L849.7 316.9 L849.7 316.4 L849.8 315.9 L849.8 315.4 L849.8 314.9 L849.9 314.4 L849.9 313.9 L849.9 313.4 L850 312.9 L850 312.4 L850 311.9 L850.1 311.4 L850.1 310.9 L850.2 310.4 L850.2 309.9 L850.2 309.4 L850.3 308.9 L850.3 308.4 L850.4 307.9 L850.5 307.4 L850.5 306.9 L850.6 306.4 L850.6 305.9 L850.7 305.4 L850.7 304.9 L850.8 304.4 L850.8 303.9 L850.9 303.4 L850.9 302.9 L851 302.4 L851 301.9 L851.1 301.4 L851.2 300.9 L851.2 300.4 L851.3 299.9 L851.3 299.4 L851.4 298.9 L851.4 298.4 L851.5 297.9 L851.5 297.4 L851.6 296.9 L851.7 296.4 L851.7 296 L851.8 295.5 L852 295 L852.1 294.5 L852.3 294 L852.4 293.5 L852.6 293.1 L852.7 292.6 L852.9 292.1 L853.1 291.7 L853.3 291.2 L853.5 290.8 L853.8 290.5 L854.1 290.4 L854.4 290.4 L854.6 290.7 L854.7 291.1 L854.8 291.5 L854.9 292 L855 292.5 L855.1 293 L855.2 293.5 L855.3 294 L855.4 294.5 L855.5 295 L855.6 295.5 L855.7 296 L855.8 296.5 L855.9 297 L856 297.5 L856.1 297.9 L856.1 298.4 L856.2 298.9 L856.3 299.4 L856.4 299.9 L856.5 300.4 L856.5 300.9 L856.6 301.4 L856.7 301.9 L856.8 302.4 L856.9 302.9 L857 303.4 L857 303.9 L857.1 304.4 L857.2 304.9 L857.3 305.4 L857.4 305.9 L857.5 306.4 L857.5 306.9 L857.6 307.3 L857.7 307.8 L857.8 308.3 L857.9 308.8 L858 309.2 L858.2 309.5 L858.4 309.5 L858.7 309.4 L859 309.2 L859.3 309.2 L859.5 309.4 L859.5 309.8 L859.6 310.3 L859.6 310.8 L859.7 311.3 L859.7 311.8 L859.7 312.3 L859.8 312.8 L859.8 313.3 L859.8 313.8 L859.9 314.3 L859.9 314.8 L860 315.3 L860 315.8 L860 316.3 L860.1 316.8 L860.2 317.3 L860.3 317.7 L860.4 318.2 L860.5 318.7 L860.6 319.2 L860.7 319.7 L860.8 320.2 L861 320.7 L861.1 321.2 L861.2 321.6 L861.3 322.1 L861.5 322.6 L861.6 323.1 L861.7 323.6 L861.8 324.1 L862 324.6 L862.1 325 L862.3 325.5 L862.4 326 L862.6 326.5 L862.8 326.9 L862.9 327.4 L863.1 327.9 L863.2 328.4 L863.4 328.8 L863.5 329.3 L863.7 329.8 L863.9 330.3 L864 330.7 L864.2 331.2 L864.4 331.7 L864.6 332.1 L864.8 332.6 L865 333 L865.3 333.5 L865.5 333.9 L865.7 334.4 L865.9 334.8 L866.2 335.3 L866.4 335.7 L866.6 336.2 L866.9 336.6 L867.1 337 L867.4 337.4 L867.7 337.9 L867.9 338.3 L868.2 338.7 L868.5 339.1 L868.7 339.6 L869 340 L869.3 340.4 L869.6 340.8 L869.8 341.2 L870.2 341.6 L870.5 342 L870.8 342.4 L871.1 342.8 L871.4 343.2 L871.8 343.6 L872.1 343.9 L872.4 344.3 L872.7 344.7 L873.1 345.1 L873.4 345.4 L873.8 345.8 L874.1 346.1 L874.5 346.5 L874.9 346.8 L875.2 347.2 L875.6 347.5 L875.9 347.9 L876.3 348.2 L876.8 348.4 L877.2 348.7 L877.6 348.9 L878.1 349.1 L878.5 349.4 L879 349.6 L879.4 349.8 L879.9 350 L880.4 350.1 L880.9 350.3 L881.3 350.4 L881.8 350.5 L882.3 350.7 L882.8 350.8 L883.3 350.9 L883.8 351 L884.3 351 L884.8 351.1 L885.3 351.2 L885.8 351.2 L886.3 351.3 L886.8 351.3 L887.3 351.4 L887.8 351.4 L888.3 351.5 L888.8 351.5" fill="none" stroke="#ff4bfb" stroke-width="1.4" stroke-linejoin="round"/>
<rect x="722.8" y="85.5" width="268" height="266.8" fill="none" stroke="#000" stroke-width="1.3"/>
<line x1="722.8" y1="352.8" x2="722.8" y2="360.9" stroke="#000" stroke-width="1.7"/>
<line x1="733.59" y1="352.8" x2="733.59" y2="357.7" stroke="#000" stroke-width="1.25"/>
<line x1="740.08" y1="352.8" x2="740.08" y2="357.7" stroke="#000" stroke-width="1.25"/>
<line x1="744.69" y1="352.8" x2="744.69" y2="357.7" stroke="#000" stroke-width="1.25"/>
<line x1="748.26" y1="352.8" x2="748.26" y2="357.7" stroke="#000" stroke-width="1.25"/>
<line x1="751.17" y1="352.8" x2="751.17" y2="357.7" stroke="#000" stroke-width="1.25"/>
<line x1="753.64" y1="352.8" x2="753.64" y2="357.7" stroke="#000" stroke-width="1.25"/>
<line x1="755.78" y1="352.8" x2="755.78" y2="357.7" stroke="#000" stroke-width="1.25"/>
<line x1="757.66" y1="352.8" x2="757.66" y2="357.7" stroke="#000" stroke-width="1.25"/>
<line x1="759.35" y1="352.8" x2="759.35" y2="360.9" stroke="#000" stroke-width="1.7"/>
<line x1="770.44" y1="352.8" x2="770.44" y2="357.7" stroke="#000" stroke-width="1.25"/>
<line x1="776.93" y1="352.8" x2="776.93" y2="357.7" stroke="#000" stroke-width="1.25"/>
<line x1="781.54" y1="352.8" x2="781.54" y2="357.7" stroke="#000" stroke-width="1.25"/>
<line x1="785.11" y1="352.8" x2="785.11" y2="357.7" stroke="#000" stroke-width="1.25"/>
<line x1="788.02" y1="352.8" x2="788.02" y2="357.7" stroke="#000" stroke-width="1.25"/>
<line x1="790.49" y1="352.8" x2="790.49" y2="357.7" stroke="#000" stroke-width="1.25"/>
<line x1="792.63" y1="352.8" x2="792.63" y2="357.7" stroke="#000" stroke-width="1.25"/>
<line x1="794.51" y1="352.8" x2="794.51" y2="357.7" stroke="#000" stroke-width="1.25"/>
<line x1="796.2" y1="352.8" x2="796.2" y2="360.9" stroke="#000" stroke-width="1.7"/>
<line x1="807.29" y1="352.8" x2="807.29" y2="357.7" stroke="#000" stroke-width="1.25"/>
<line x1="813.78" y1="352.8" x2="813.78" y2="357.7" stroke="#000" stroke-width="1.25"/>
<line x1="818.39" y1="352.8" x2="818.39" y2="357.7" stroke="#000" stroke-width="1.25"/>
<line x1="821.96" y1="352.8" x2="821.96" y2="357.7" stroke="#000" stroke-width="1.25"/>
<line x1="824.87" y1="352.8" x2="824.87" y2="357.7" stroke="#000" stroke-width="1.25"/>
<line x1="827.34" y1="352.8" x2="827.34" y2="357.7" stroke="#000" stroke-width="1.25"/>
<line x1="829.48" y1="352.8" x2="829.48" y2="357.7" stroke="#000" stroke-width="1.25"/>
<line x1="831.36" y1="352.8" x2="831.36" y2="357.7" stroke="#000" stroke-width="1.25"/>
<line x1="833.05" y1="352.8" x2="833.05" y2="360.9" stroke="#000" stroke-width="1.7"/>
<line x1="844.14" y1="352.8" x2="844.14" y2="357.7" stroke="#000" stroke-width="1.25"/>
<line x1="850.63" y1="352.8" x2="850.63" y2="357.7" stroke="#000" stroke-width="1.25"/>
<line x1="855.24" y1="352.8" x2="855.24" y2="357.7" stroke="#000" stroke-width="1.25"/>
<line x1="858.81" y1="352.8" x2="858.81" y2="357.7" stroke="#000" stroke-width="1.25"/>
<line x1="861.72" y1="352.8" x2="861.72" y2="357.7" stroke="#000" stroke-width="1.25"/>
<line x1="864.19" y1="352.8" x2="864.19" y2="357.7" stroke="#000" stroke-width="1.25"/>
<line x1="866.33" y1="352.8" x2="866.33" y2="357.7" stroke="#000" stroke-width="1.25"/>
<line x1="868.21" y1="352.8" x2="868.21" y2="357.7" stroke="#000" stroke-width="1.25"/>
<line x1="869.9" y1="352.8" x2="869.9" y2="360.9" stroke="#000" stroke-width="1.7"/>
<line x1="880.99" y1="352.8" x2="880.99" y2="357.7" stroke="#000" stroke-width="1.25"/>
<line x1="887.48" y1="352.8" x2="887.48" y2="357.7" stroke="#000" stroke-width="1.25"/>
<line x1="892.09" y1="352.8" x2="892.09" y2="357.7" stroke="#000" stroke-width="1.25"/>
<line x1="895.66" y1="352.8" x2="895.66" y2="357.7" stroke="#000" stroke-width="1.25"/>
<line x1="898.57" y1="352.8" x2="898.57" y2="357.7" stroke="#000" stroke-width="1.25"/>
<line x1="901.04" y1="352.8" x2="901.04" y2="357.7" stroke="#000" stroke-width="1.25"/>
<line x1="903.18" y1="352.8" x2="903.18" y2="357.7" stroke="#000" stroke-width="1.25"/>
<line x1="905.06" y1="352.8" x2="905.06" y2="357.7" stroke="#000" stroke-width="1.25"/>
<line x1="906.75" y1="352.8" x2="906.75" y2="360.9" stroke="#000" stroke-width="1.7"/>
<line x1="917.84" y1="352.8" x2="917.84" y2="357.7" stroke="#000" stroke-width="1.25"/>
<line x1="924.33" y1="352.8" x2="924.33" y2="357.7" stroke="#000" stroke-width="1.25"/>
<line x1="928.94" y1="352.8" x2="928.94" y2="357.7" stroke="#000" stroke-width="1.25"/>
<line x1="932.51" y1="352.8" x2="932.51" y2="357.7" stroke="#000" stroke-width="1.25"/>
<line x1="935.42" y1="352.8" x2="935.42" y2="357.7" stroke="#000" stroke-width="1.25"/>
<line x1="937.89" y1="352.8" x2="937.89" y2="357.7" stroke="#000" stroke-width="1.25"/>
<line x1="940.03" y1="352.8" x2="940.03" y2="357.7" stroke="#000" stroke-width="1.25"/>
<line x1="941.91" y1="352.8" x2="941.91" y2="357.7" stroke="#000" stroke-width="1.25"/>
<line x1="943.6" y1="352.8" x2="943.6" y2="360.9" stroke="#000" stroke-width="1.7"/>
<line x1="954.69" y1="352.8" x2="954.69" y2="357.7" stroke="#000" stroke-width="1.25"/>
<line x1="961.18" y1="352.8" x2="961.18" y2="357.7" stroke="#000" stroke-width="1.25"/>
<line x1="965.79" y1="352.8" x2="965.79" y2="357.7" stroke="#000" stroke-width="1.25"/>
<line x1="969.36" y1="352.8" x2="969.36" y2="357.7" stroke="#000" stroke-width="1.25"/>
<line x1="972.27" y1="352.8" x2="972.27" y2="357.7" stroke="#000" stroke-width="1.25"/>
<line x1="974.74" y1="352.8" x2="974.74" y2="357.7" stroke="#000" stroke-width="1.25"/>
<line x1="976.88" y1="352.8" x2="976.88" y2="357.7" stroke="#000" stroke-width="1.25"/>
<line x1="978.76" y1="352.8" x2="978.76" y2="357.7" stroke="#000" stroke-width="1.25"/>
<line x1="980.45" y1="352.8" x2="980.45" y2="360.9" stroke="#000" stroke-width="1.7"/>
<text transform="translate(733.8,384.6) scale(1.06,1)" font-size="10" text-anchor="middle" fill="#111">10</text>
<text transform="translate(740.6,375.5) scale(1.06,1)" font-size="10" fill="#111">0</text>
<text transform="translate(797.8,384.6) scale(1.06,1)" font-size="10" text-anchor="middle" fill="#111">10</text>
<text transform="translate(804.6,375.5) scale(1.06,1)" font-size="10" fill="#111">2</text>
<text transform="translate(871.5,384.6) scale(1.06,1)" font-size="10" text-anchor="middle" fill="#111">10</text>
<text transform="translate(878.3,375.5) scale(1.06,1)" font-size="10" fill="#111">4</text>
<text transform="translate(945.2,384.6) scale(1.06,1)" font-size="10" text-anchor="middle" fill="#111">10</text>
<text transform="translate(952,375.5) scale(1.06,1)" font-size="10" fill="#111">6</text>
<line x1="715.4" y1="124.6" x2="722.8" y2="124.6" stroke="#000" stroke-width="1.7"/>
<text transform="translate(710.4,131.9) scale(1.04,1)" font-size="10.2" text-anchor="end" fill="#111">120</text>
<line x1="715.4" y1="181.2" x2="722.8" y2="181.2" stroke="#000" stroke-width="1.7"/>
<text transform="translate(710.4,188.5) scale(1.04,1)" font-size="10.2" text-anchor="end" fill="#111">90</text>
<line x1="715.4" y1="238" x2="722.8" y2="238" stroke="#000" stroke-width="1.7"/>
<text transform="translate(710.4,245.3) scale(1.04,1)" font-size="10.2" text-anchor="end" fill="#111">60</text>
<line x1="715.4" y1="295.4" x2="722.8" y2="295.4" stroke="#000" stroke-width="1.7"/>
<text transform="translate(710.4,302.7) scale(1.04,1)" font-size="10.2" text-anchor="end" fill="#111">30</text>
<line x1="715.4" y1="352.1" x2="722.8" y2="352.1" stroke="#000" stroke-width="1.7"/>
<text transform="translate(710.4,352.3) scale(1.04,1)" font-size="10.2" text-anchor="end" fill="#111">0</text>
<line x1="719.2" y1="105.65" x2="722.8" y2="105.65" stroke="#000" stroke-width="1.2"/>
<line x1="719.2" y1="143.55" x2="722.8" y2="143.55" stroke="#000" stroke-width="1.2"/>
<line x1="719.2" y1="162.5" x2="722.8" y2="162.5" stroke="#000" stroke-width="1.2"/>
<line x1="719.2" y1="200.4" x2="722.8" y2="200.4" stroke="#000" stroke-width="1.2"/>
<line x1="719.2" y1="219.35" x2="722.8" y2="219.35" stroke="#000" stroke-width="1.2"/>
<line x1="719.2" y1="257.25" x2="722.8" y2="257.25" stroke="#000" stroke-width="1.2"/>
<line x1="719.2" y1="276.2" x2="722.8" y2="276.2" stroke="#000" stroke-width="1.2"/>
<line x1="719.2" y1="314.1" x2="722.8" y2="314.1" stroke="#000" stroke-width="1.2"/>
<line x1="719.2" y1="333.05" x2="722.8" y2="333.05" stroke="#000" stroke-width="1.2"/>
<line x1="722.2" y1="353.3" x2="991.4" y2="353.3" stroke="#000" stroke-width="1.4"/>
<line x1="723.4" y1="352.5" x2="990.2" y2="352.5" stroke="#ff4bfb" stroke-width="1.3"/>
<text x="854.6" y="411.1" font-size="13.1" font-weight="bold" text-anchor="middle" letter-spacing="0.8">APC-CD14</text>
<text transform="translate(684,218.6) rotate(-90)" font-size="13.5" font-weight="bold" text-anchor="middle" letter-spacing="1">Count</text>
<line x1="851" y1="260" x2="990.8" y2="260" stroke="#000" stroke-width="1.7"/>
<line x1="851" y1="254.8" x2="851" y2="265.2" stroke="#000" stroke-width="1.8"/>
<line x1="990.2" y1="254.8" x2="990.2" y2="265.2" stroke="#000" stroke-width="1.6"/>
<text transform="translate(920,224.2) scale(1.02,1)" font-size="12.2" text-anchor="middle" fill="#111">CD14 +</text>
<text transform="translate(920,242.8) scale(1.02,1)" font-size="12.2" text-anchor="middle" fill="#111">13.6</text>
<path d="M1139.3 352.1 L1139.3 351.5 L1139.8 351.4 L1140.3 351.2 L1140.7 351 L1141.2 350.9 L1141.7 350.7 L1142.2 350.5 L1142.6 350.4 L1143.1 350.2 L1143.6 350 L1144 349.8 L1144.5 349.7 L1145 349.5 L1145.4 349.2 L1145.8 349 L1146.2 348.7 L1146.6 348.4 L1147 348.1 L1147.4 347.8 L1147.8 347.5 L1148.2 347.2 L1148.6 346.9 L1149 346.6 L1149.4 346.3 L1149.8 345.9 L1150.1 345.6 L1150.3 345.2 L1150.6 344.7 L1150.8 344.3 L1151.1 343.8 L1151.3 343.4 L1151.5 343 L1151.7 342.5 L1152 342.1 L1152.2 341.6 L1152.4 341.2 L1152.6 340.7 L1152.8 340.3 L1153.1 339.8 L1153.3 339.4 L1153.5 338.9 L1153.6 338.4 L1153.8 338 L1153.9 337.5 L1154.1 337 L1154.2 336.5 L1154.3 336 L1154.4 335.6 L1154.5 335.1 L1154.7 334.6 L1154.8 334.1 L1154.9 333.6 L1155 333.1 L1155.1 332.6 L1155.3 332.2 L1155.4 331.7 L1155.5 331.2 L1155.6 330.7 L1155.7 330.2 L1155.8 329.7 L1156 329.2 L1156.1 328.7 L1156.2 328.3 L1156.3 327.8 L1156.4 327.3 L1156.5 326.8 L1156.5 326.3 L1156.6 325.8 L1156.7 325.3 L1156.8 324.8 L1156.8 324.3 L1156.9 323.8 L1157 323.3 L1157.1 322.8 L1157.1 322.3 L1157.2 321.8 L1157.3 321.3 L1157.3 320.8 L1157.4 320.4 L1157.5 319.9 L1157.6 319.4 L1157.6 318.9 L1157.7 318.4 L1157.8 317.9 L1157.9 317.4 L1157.9 316.9 L1158 316.4 L1158.1 315.9 L1158.2 315.4 L1158.2 314.9 L1158.3 314.4 L1158.4 313.9 L1158.4 313.4 L1158.5 312.9 L1158.6 312.4 L1158.6 311.9 L1158.7 311.4 L1158.8 310.9 L1158.8 310.4 L1158.9 310 L1158.9 309.5 L1159 309 L1159.1 308.5 L1159.1 308 L1159.2 307.5 L1159.2 307 L1159.3 306.5 L1159.4 306 L1159.4 305.5 L1159.5 305 L1159.5 304.5 L1159.6 304 L1159.6 303.5 L1159.7 303 L1159.8 302.5 L1159.8 302 L1159.9 301.5 L1159.9 301 L1160 300.5 L1160.1 300 L1160.1 299.5 L1160.2 299 L1160.2 298.5 L1160.3 298 L1160.4 297.5 L1160.4 297 L1160.5 296.5 L1160.5 296 L1160.6 295.5 L1160.6 295.1 L1160.7 294.6 L1160.7 294.1 L1160.8 293.6 L1160.8 293.1 L1160.9 292.6 L1160.9 292.1 L1161 291.6 L1161 291.1 L1161.1 290.6 L1161.1 290.1 L1161.2 289.6 L1161.2 289.1 L1161.3 288.6 L1161.3 288.1 L1161.3 287.6 L1161.4 287.1 L1161.4 286.6 L1161.5 286.1 L1161.5 285.6 L1161.6 285.1 L1161.6 284.6 L1161.7 284.1 L1161.7 283.6 L1161.8 283.1 L1161.8 282.6 L1161.9 282.1 L1161.9 281.6 L1161.9 281.1 L1162 280.6 L1162 280.1 L1162.1 279.6 L1162.1 279.1 L1162.2 278.6 L1162.2 278.1 L1162.3 277.6 L1162.3 277.1 L1162.4 276.6 L1162.4 276.1 L1162.4 275.6 L1162.5 275.1 L1162.5 274.6 L1162.6 274.1 L1162.6 273.6 L1162.7 273.1 L1162.7 272.6 L1162.7 272.1 L1162.8 271.6 L1162.8 271.1 L1162.9 270.6 L1162.9 270.1 L1163 269.6 L1163 269.1 L1163 268.6 L1163.1 268.2 L1163.1 267.7 L1163.2 267.2 L1163.2 266.7 L1163.3 266.2 L1163.3 265.7 L1163.4 265.2 L1163.4 264.7 L1163.4 264.2 L1163.5 263.7 L1163.5 263.2 L1163.6 262.7 L1163.6 262.2 L1163.7 261.7 L1163.7 261.2 L1163.7 260.7 L1163.8 260.2 L1163.8 259.7 L1163.9 259.2 L1163.9 258.7 L1163.9 258.2 L1164 257.7 L1164 257.2 L1164 256.7 L1164.1 256.2 L1164.1 255.7 L1164.1 255.2 L1164.2 254.7 L1164.2 254.2 L1164.3 253.7 L1164.3 253.2 L1164.3 252.7 L1164.4 252.2 L1164.4 251.7 L1164.4 251.2 L1164.5 250.7 L1164.5 250.2 L1164.5 249.7 L1164.6 249.2 L1164.6 248.7 L1164.7 248.2 L1164.7 247.7 L1164.7 247.2 L1164.8 246.7 L1164.8 246.2 L1164.8 245.7 L1164.9 245.2 L1164.9 244.7 L1164.9 244.2 L1165 243.7 L1165 243.2 L1165.1 242.7 L1165.1 242.2 L1165.1 241.7 L1165.2 241.2 L1165.2 240.7 L1165.2 240.2 L1165.3 239.7 L1165.3 239.2 L1165.3 238.7 L1165.4 238.2 L1165.4 237.7 L1165.5 237.2 L1165.5 236.7 L1165.5 236.2 L1165.6 235.7 L1165.6 235.2 L1165.7 234.7 L1165.7 234.2 L1165.7 233.7 L1165.8 233.2 L1165.8 232.7 L1165.9 232.2 L1165.9 231.7 L1165.9 231.2 L1166 230.7 L1166 230.2 L1166.1 229.7 L1166.1 229.3 L1166.1 228.8 L1166.2 228.3 L1166.2 227.8 L1166.3 227.3 L1166.3 226.8 L1166.3 226.3 L1166.4 225.8 L1166.4 225.3 L1166.5 224.8 L1166.5 224.3 L1166.5 223.8 L1166.6 223.3 L1166.6 222.8 L1166.7 222.3 L1166.7 221.8 L1166.7 221.3 L1166.8 220.8 L1166.8 220.3 L1166.8 219.8 L1166.9 219.3 L1166.9 218.8 L1166.9 218.3 L1167 217.8 L1167 217.3 L1167 216.8 L1167.1 216.3 L1167.1 215.8 L1167.1 215.3 L1167.2 214.8 L1167.2 214.3 L1167.2 213.8 L1167.3 213.3 L1167.3 212.8 L1167.3 212.3 L1167.4 211.8 L1167.4 211.3 L1167.4 210.8 L1167.5 210.3 L1167.5 209.8 L1167.5 209.3 L1167.6 208.8 L1167.6 208.3 L1167.6 207.8 L1167.7 207.3 L1167.7 206.8 L1167.7 206.3 L1167.8 205.8 L1167.8 205.3 L1167.8 204.8 L1167.9 204.3 L1167.9 203.8 L1167.9 203.3 L1168 202.8 L1168 202.3 L1168 201.8 L1168.1 201.3 L1168.1 200.8 L1168.1 200.3 L1168.2 199.8 L1168.2 199.3 L1168.2 198.8 L1168.3 198.3 L1168.3 197.8 L1168.3 197.3 L1168.4 196.8 L1168.4 196.3 L1168.4 195.8 L1168.5 195.3 L1168.5 194.8 L1168.5 194.3 L1168.6 193.8 L1168.6 193.3 L1168.6 192.8 L1168.7 192.3 L1168.7 191.8 L1168.7 191.3 L1168.8 190.8 L1168.8 190.3 L1168.8 189.8 L1168.9 189.3 L1168.9 188.8 L1168.9 188.3 L1169 187.8 L1169 187.3 L1169 186.8 L1169.1 186.3 L1169.1 185.8 L1169.1 185.3 L1169.2 184.8 L1169.2 184.3 L1169.2 183.8 L1169.3 183.3 L1169.3 182.8 L1169.3 182.3 L1169.4 181.8 L1169.4 181.3 L1169.4 180.8 L1169.5 180.3 L1169.5 179.8 L1169.5 179.3 L1169.6 178.8 L1169.6 178.4 L1169.6 177.9 L1169.7 177.4 L1169.7 176.9 L1169.7 176.4 L1169.8 175.9 L1169.8 175.4 L1169.8 174.9 L1169.9 174.4 L1169.9 173.9 L1169.9 173.4 L1170 172.9 L1170 172.4 L1170 171.9 L1170.1 171.4 L1170.1 170.9 L1170.1 170.4 L1170.2 169.9 L1170.2 169.4 L1170.2 168.9 L1170.3 168.4 L1170.3 167.9 L1170.3 167.4 L1170.4 166.9 L1170.4 166.4 L1170.4 165.9 L1170.5 165.4 L1170.5 164.9 L1170.6 164.4 L1170.6 163.9 L1170.6 163.4 L1170.7 162.9 L1170.7 162.4 L1170.8 161.9 L1170.8 161.4 L1170.8 160.9 L1170.9 160.4 L1170.9 159.9 L1170.9 159.4 L1171 158.9 L1171 158.4 L1171.1 157.9 L1171.1 157.4 L1171.1 156.9 L1171.2 156.4 L1171.2 155.9 L1171.3 155.4 L1171.3 154.9 L1171.3 154.4 L1171.4 153.9 L1171.4 153.4 L1171.4 152.9 L1171.5 152.4 L1171.5 151.9 L1171.6 151.4 L1171.6 150.9 L1171.7 150.4 L1171.7 149.9 L1171.7 149.4 L1171.8 148.9 L1171.8 148.4 L1171.9 147.9 L1171.9 147.4 L1172 146.9 L1172 146.4 L1172.1 145.9 L1172.1 145.4 L1172.2 144.9 L1172.2 144.4 L1172.3 143.9 L1172.3 143.4 L1172.4 142.9 L1172.4 142.5 L1172.5 142 L1172.5 141.5 L1172.6 141 L1172.6 140.5 L1172.7 140 L1172.8 139.5 L1172.8 139 L1172.9 138.5 L1172.9 138 L1173 137.5 L1173.1 137 L1173.1 136.5 L1173.2 136 L1173.3 135.5 L1173.3 135 L1173.4 134.5 L1173.5 134 L1173.5 133.5 L1173.6 133 L1173.7 132.5 L1173.7 132 L1173.8 131.5 L1173.9 131 L1173.9 130.5 L1174 130 L1174.1 129.5 L1174.1 129.1 L1174.2 128.6 L1174.3 128.1 L1174.4 127.6 L1174.5 127.1 L1174.6 126.6 L1174.6 126.1 L1174.7 125.6 L1174.8 125.1 L1174.9 124.6 L1175 124.1 L1175.1 123.6 L1175.2 123.1 L1175.3 122.7 L1175.4 122.2 L1175.5 121.7 L1175.6 121.2 L1175.7 120.7 L1175.8 120.2 L1176 119.8 L1176.2 119.3 L1176.4 118.9 L1176.6 118.4 L1176.9 118 L1177.2 117.7 L1177.5 117.4 L1177.9 117.3 L1178.2 117.3 L1178.6 117.5 L1178.9 117.8 L1179.1 118.1 L1179.3 118.6 L1179.5 119 L1179.7 119.5 L1179.8 120 L1179.9 120.5 L1180 121 L1180.1 121.4 L1180.2 121.9 L1180.2 122.4 L1180.3 122.9 L1180.4 123.4 L1180.4 123.9 L1180.5 124.4 L1180.5 124.9 L1180.6 125.4 L1180.7 125.9 L1180.7 126.4 L1180.8 126.9 L1180.9 127.4 L1180.9 127.9 L1181 128.4 L1181 128.9 L1181.1 129.4 L1181.1 129.9 L1181.2 130.4 L1181.2 130.9 L1181.3 131.4 L1181.3 131.9 L1181.4 132.4 L1181.4 132.9 L1181.5 133.4 L1181.5 133.9 L1181.6 134.4 L1181.6 134.9 L1181.7 135.4 L1181.7 135.9 L1181.7 136.4 L1181.8 136.9 L1181.8 137.4 L1181.9 137.9 L1181.9 138.4 L1182 138.9 L1182 139.3 L1182.1 139.8 L1182.1 140.3 L1182.2 140.8 L1182.2 141.3 L1182.2 141.8 L1182.3 142.3 L1182.3 142.8 L1182.4 143.3 L1182.4 143.8 L1182.5 144.3 L1182.5 144.8 L1182.6 145.3 L1182.6 145.8 L1182.7 146.3 L1182.7 146.8 L1182.8 147.3 L1182.8 147.8 L1182.9 148.3 L1182.9 148.8 L1183 149.3 L1183 149.8 L1183 150.3 L1183.1 150.8 L1183.1 151.3 L1183.1 151.8 L1183.2 152.3 L1183.2 152.8 L1183.2 153.3 L1183.3 153.8 L1183.3 154.3 L1183.3 154.8 L1183.4 155.3 L1183.4 155.8 L1183.4 156.3 L1183.5 156.8 L1183.5 157.3 L1183.5 157.8 L1183.6 158.3 L1183.6 158.8 L1183.6 159.3 L1183.7 159.8 L1183.7 160.3 L1183.7 160.8 L1183.8 161.3 L1183.8 161.8 L1183.8 162.3 L1183.9 162.8 L1183.9 163.3 L1183.9 163.8 L1184 164.3 L1184 164.8 L1184 165.3 L1184.1 165.8 L1184.1 166.3 L1184.1 166.8 L1184.1 167.3 L1184.2 167.8 L1184.2 168.3 L1184.2 168.8 L1184.2 169.3 L1184.2 169.8 L1184.3 170.3 L1184.3 170.8 L1184.3 171.3 L1184.3 171.8 L1184.4 172.3 L1184.4 172.8 L1184.4 173.3 L1184.4 173.8 L1184.4 174.3 L1184.5 174.8 L1184.5 175.3 L1184.5 175.8 L1184.5 176.3 L1184.5 176.8 L1184.6 177.3 L1184.6 177.8 L1184.6 178.3 L1184.6 178.8 L1184.6 179.3 L1184.7 179.8 L1184.7 180.3 L1184.7 180.8 L1184.7 181.3 L1184.7 181.8 L1184.8 182.3 L1184.8 182.8 L1184.8 183.3 L1184.8 183.8 L1184.9 184.3 L1184.9 184.8 L1184.9 185.3 L1184.9 185.8 L1184.9 186.3 L1185 186.8 L1185 187.3 L1185 187.8 L1185 188.3 L1185 188.8 L1185.1 189.3 L1185.1 189.8 L1185.1 190.3 L1185.1 190.8 L1185.1 191.3 L1185.2 191.8 L1185.2 192.3 L1185.2 192.8 L1185.2 193.3 L1185.2 193.8 L1185.3 194.3 L1185.3 194.8 L1185.3 195.3 L1185.3 195.8 L1185.4 196.3 L1185.4 196.8 L1185.4 197.3 L1185.4 197.8 L1185.4 198.3 L1185.5 198.8 L1185.5 199.3 L1185.5 199.8 L1185.5 200.3 L1185.5 200.8 L1185.6 201.3 L1185.6 201.8 L1185.6 202.3 L1185.6 202.8 L1185.6 203.3 L1185.7 203.8 L1185.7 204.3 L1185.7 204.8 L1185.7 205.3 L1185.7 205.8 L1185.8 206.3 L1185.8 206.8 L1185.8 207.3 L1185.8 207.8 L1185.9 208.3 L1185.9 208.8 L1185.9 209.3 L1185.9 209.8 L1185.9 210.3 L1186 210.8 L1186 211.3 L1186 211.8 L1186 212.3 L1186 212.8 L1186.1 213.3 L1186.1 213.8 L1186.1 214.3 L1186.1 214.8 L1186.1 215.3 L1186.2 215.8 L1186.2 216.3 L1186.2 216.8 L1186.2 217.3 L1186.2 217.8 L1186.3 218.3 L1186.3 218.8 L1186.3 219.3 L1186.3 219.8 L1186.4 220.3 L1186.4 220.8 L1186.4 221.3 L1186.4 221.8 L1186.4 222.3 L1186.5 222.8 L1186.5 223.3 L1186.5 223.8 L1186.5 224.3 L1186.5 224.8 L1186.6 225.3 L1186.6 225.8 L1186.6 226.2 L1186.6 226.7 L1186.6 227.2 L1186.7 227.7 L1186.7 228.2 L1186.7 228.7 L1186.7 229.2 L1186.7 229.7 L1186.8 230.2 L1186.8 230.7 L1186.8 231.2 L1186.8 231.7 L1186.9 232.2 L1186.9 232.7 L1186.9 233.2 L1186.9 233.7 L1186.9 234.2 L1187 234.7 L1187 235.2 L1187 235.7 L1187 236.2 L1187 236.7 L1187.1 237.2 L1187.1 237.7 L1187.1 238.2 L1187.1 238.7 L1187.2 239.2 L1187.2 239.7 L1187.2 240.2 L1187.2 240.7 L1187.3 241.2 L1187.3 241.7 L1187.3 242.2 L1187.3 242.7 L1187.4 243.2 L1187.4 243.7 L1187.4 244.2 L1187.4 244.7 L1187.5 245.2 L1187.5 245.7 L1187.5 246.2 L1187.5 246.7 L1187.6 247.2 L1187.6 247.7 L1187.6 248.2 L1187.6 248.7 L1187.7 249.2 L1187.7 249.7 L1187.7 250.2 L1187.7 250.7 L1187.8 251.2 L1187.8 251.7 L1187.8 252.2 L1187.8 252.7 L1187.9 253.2 L1187.9 253.7 L1187.9 254.2 L1187.9 254.7 L1188 255.2 L1188 255.7 L1188 256.2 L1188 256.7 L1188 257.2 L1188.1 257.7 L1188.1 258.2 L1188.1 258.7 L1188.1 259.2 L1188.2 259.7 L1188.2 260.2 L1188.2 260.7 L1188.2 261.2 L1188.3 261.7 L1188.3 262.2 L1188.3 262.7 L1188.3 263.2 L1188.4 263.7 L1188.4 264.2 L1188.4 264.7 L1188.4 265.2 L1188.5 265.7 L1188.5 266.2 L1188.5 266.7 L1188.5 267.2 L1188.6 267.7 L1188.6 268.2 L1188.6 268.7 L1188.6 269.2 L1188.7 269.7 L1188.7 270.2 L1188.7 270.7 L1188.7 271.2 L1188.8 271.7 L1188.8 272.2 L1188.8 272.7 L1188.8 273.2 L1188.9 273.7 L1188.9 274.2 L1188.9 274.7 L1188.9 275.2 L1189 275.7 L1189 276.2 L1189 276.7 L1189 277.2 L1189.1 277.7 L1189.1 278.2 L1189.1 278.7 L1189.1 279.2 L1189.2 279.7 L1189.2 280.2 L1189.2 280.7 L1189.2 281.2 L1189.3 281.7 L1189.3 282.2 L1189.3 282.7 L1189.3 283.2 L1189.4 283.7 L1189.4 284.2 L1189.4 284.7 L1189.4 285.2 L1189.5 285.7 L1189.5 286.2 L1189.5 286.7 L1189.5 287.2 L1189.6 287.7 L1189.6 288.2 L1189.6 288.7 L1189.6 289.2 L1189.7 289.7 L1189.7 290.2 L1189.7 290.7 L1189.7 291.2 L1189.8 291.7 L1189.8 292.2 L1189.8 292.7 L1189.8 293.2 L1189.9 293.7 L1189.9 294.2 L1189.9 294.7 L1189.9 295.2 L1190 295.7 L1190 296.2 L1190 296.7 L1190 297.2 L1190.1 297.7 L1190.1 298.2 L1190.1 298.7 L1190.1 299.2 L1190.2 299.7 L1190.2 300.2 L1190.2 300.7 L1190.2 301.2 L1190.3 301.7 L1190.3 302.2 L1190.3 302.7 L1190.3 303.2 L1190.4 303.7 L1190.4 304.2 L1190.4 304.7 L1190.4 305.2 L1190.5 305.7 L1190.5 306.2 L1190.5 306.7 L1190.5 307.2 L1190.6 307.7 L1190.6 308.2 L1190.6 308.7 L1190.6 309.2 L1190.7 309.7 L1190.7 310.2 L1190.7 310.7 L1190.7 311.2 L1190.8 311.7 L1190.8 312.2 L1190.8 312.7 L1190.8 313.2 L1190.9 313.7 L1190.9 314.2 L1190.9 314.7 L1190.9 315.2 L1191 315.7 L1191 316.2 L1191 316.7 L1191 317.2 L1191.1 317.7 L1191.1 318.2 L1191.1 318.7 L1191.1 319.2 L1191.2 319.7 L1191.2 320.2 L1191.2 320.7 L1191.2 321.2 L1191.3 321.7 L1191.3 322.2 L1191.3 322.7 L1191.3 323.2 L1191.4 323.7 L1191.4 324.2 L1191.4 324.7 L1191.4 325.2 L1191.5 325.7 L1191.5 326.2 L1191.5 326.7 L1191.5 327.2 L1191.6 327.7 L1191.6 328.2 L1191.6 328.7 L1191.6 329.2 L1191.7 329.7 L1191.7 330.2 L1191.7 330.7 L1191.7 331.2 L1191.8 331.7 L1191.8 332.2 L1191.8 332.7 L1191.9 333.2 L1191.9 333.7 L1192 334.1 L1192.1 334.6 L1192.2 335.1 L1192.4 335.6 L1192.5 336.1 L1192.6 336.6 L1192.7 337.1 L1192.9 337.5 L1193 338 L1193.1 338.5 L1193.3 339 L1193.4 339.5 L1193.5 339.9 L1193.7 340.4 L1193.8 340.9 L1193.9 341.4 L1194 341.9 L1194.2 342.4 L1194.3 342.8 L1194.4 343.3 L1194.6 343.8 L1194.7 344.3 L1194.8 344.8 L1195 345.3 L1195.1 345.7 L1195.2 346.2 L1195.4 346.7 L1195.5 347.2 L1195.6 347.7 L1195.7 348.2 L1195.9 348.6 L1196 349.1 L1196.1 349.6 L1196.3 350.1 L1196.4 350.6 L1196.5 351.1 L1196.7 351.5 L1196.7 352.1 Z" fill="#ebebeb"/>
<path d="M1139.3 351.5 L1139.8 351.4 L1140.3 351.2 L1140.7 351 L1141.2 350.9 L1141.7 350.7 L1142.2 350.5 L1142.6 350.4 L1143.1 350.2 L1143.6 350 L1144 349.8 L1144.5 349.7 L1145 349.5 L1145.4 349.2 L1145.8 349 L1146.2 348.7 L1146.6 348.4 L1147 348.1 L1147.4 347.8 L1147.8 347.5 L1148.2 347.2 L1148.6 346.9 L1149 346.6 L1149.4 346.3 L1149.8 345.9 L1150.1 345.6 L1150.3 345.2 L1150.6 344.7 L1150.8 344.3 L1151.1 343.8 L1151.3 343.4 L1151.5 343 L1151.7 342.5 L1152 342.1 L1152.2 341.6 L1152.4 341.2 L1152.6 340.7 L1152.8 340.3 L1153.1 339.8 L1153.3 339.4 L1153.5 338.9 L1153.6 338.4 L1153.8 338 L1153.9 337.5 L1154.1 337 L1154.2 336.5 L1154.3 336 L1154.4 335.6 L1154.5 335.1 L1154.7 334.6 L1154.8 334.1 L1154.9 333.6 L1155 333.1 L1155.1 332.6 L1155.3 332.2 L1155.4 331.7 L1155.5 331.2 L1155.6 330.7 L1155.7 330.2 L1155.8 329.7 L1156 329.2 L1156.1 328.7 L1156.2 328.3 L1156.3 327.8 L1156.4 327.3 L1156.5 326.8 L1156.5 326.3 L1156.6 325.8 L1156.7 325.3 L1156.8 324.8 L1156.8 324.3 L1156.9 323.8 L1157 323.3 L1157.1 322.8 L1157.1 322.3 L1157.2 321.8 L1157.3 321.3 L1157.3 320.8 L1157.4 320.4 L1157.5 319.9 L1157.6 319.4 L1157.6 318.9 L1157.7 318.4 L1157.8 317.9 L1157.9 317.4 L1157.9 316.9 L1158 316.4 L1158.1 315.9 L1158.2 315.4 L1158.2 314.9 L1158.3 314.4 L1158.4 313.9 L1158.4 313.4 L1158.5 312.9 L1158.6 312.4 L1158.6 311.9 L1158.7 311.4 L1158.8 310.9 L1158.8 310.4 L1158.9 310 L1158.9 309.5 L1159 309 L1159.1 308.5 L1159.1 308 L1159.2 307.5 L1159.2 307 L1159.3 306.5 L1159.4 306 L1159.4 305.5 L1159.5 305 L1159.5 304.5 L1159.6 304 L1159.6 303.5 L1159.7 303 L1159.8 302.5 L1159.8 302 L1159.9 301.5 L1159.9 301 L1160 300.5 L1160.1 300 L1160.1 299.5 L1160.2 299 L1160.2 298.5 L1160.3 298 L1160.4 297.5 L1160.4 297 L1160.5 296.5 L1160.5 296 L1160.6 295.5 L1160.6 295.1 L1160.7 294.6 L1160.7 294.1 L1160.8 293.6 L1160.8 293.1 L1160.9 292.6 L1160.9 292.1 L1161 291.6 L1161 291.1 L1161.1 290.6 L1161.1 290.1 L1161.2 289.6 L1161.2 289.1 L1161.3 288.6 L1161.3 288.1 L1161.3 287.6 L1161.4 287.1 L1161.4 286.6 L1161.5 286.1 L1161.5 285.6 L1161.6 285.1 L1161.6 284.6 L1161.7 284.1 L1161.7 283.6 L1161.8 283.1 L1161.8 282.6 L1161.9 282.1 L1161.9 281.6 L1161.9 281.1 L1162 280.6 L1162 280.1 L1162.1 279.6 L1162.1 279.1 L1162.2 278.6 L1162.2 278.1 L1162.3 277.6 L1162.3 277.1 L1162.4 276.6 L1162.4 276.1 L1162.4 275.6 L1162.5 275.1 L1162.5 274.6 L1162.6 274.1 L1162.6 273.6 L1162.7 273.1 L1162.7 272.6 L1162.7 272.1 L1162.8 271.6 L1162.8 271.1 L1162.9 270.6 L1162.9 270.1 L1163 269.6 L1163 269.1 L1163 268.6 L1163.1 268.2 L1163.1 267.7 L1163.2 267.2 L1163.2 266.7 L1163.3 266.2 L1163.3 265.7 L1163.4 265.2 L1163.4 264.7 L1163.4 264.2 L1163.5 263.7 L1163.5 263.2 L1163.6 262.7 L1163.6 262.2 L1163.7 261.7 L1163.7 261.2 L1163.7 260.7 L1163.8 260.2 L1163.8 259.7 L1163.9 259.2 L1163.9 258.7 L1163.9 258.2 L1164 257.7 L1164 257.2 L1164 256.7 L1164.1 256.2 L1164.1 255.7 L1164.1 255.2 L1164.2 254.7 L1164.2 254.2 L1164.3 253.7 L1164.3 253.2 L1164.3 252.7 L1164.4 252.2 L1164.4 251.7 L1164.4 251.2 L1164.5 250.7 L1164.5 250.2 L1164.5 249.7 L1164.6 249.2 L1164.6 248.7 L1164.7 248.2 L1164.7 247.7 L1164.7 247.2 L1164.8 246.7 L1164.8 246.2 L1164.8 245.7 L1164.9 245.2 L1164.9 244.7 L1164.9 244.2 L1165 243.7 L1165 243.2 L1165.1 242.7 L1165.1 242.2 L1165.1 241.7 L1165.2 241.2 L1165.2 240.7 L1165.2 240.2 L1165.3 239.7 L1165.3 239.2 L1165.3 238.7 L1165.4 238.2 L1165.4 237.7 L1165.5 237.2 L1165.5 236.7 L1165.5 236.2 L1165.6 235.7 L1165.6 235.2 L1165.7 234.7 L1165.7 234.2 L1165.7 233.7 L1165.8 233.2 L1165.8 232.7 L1165.9 232.2 L1165.9 231.7 L1165.9 231.2 L1166 230.7 L1166 230.2 L1166.1 229.7 L1166.1 229.3 L1166.1 228.8 L1166.2 228.3 L1166.2 227.8 L1166.3 227.3 L1166.3 226.8 L1166.3 226.3 L1166.4 225.8 L1166.4 225.3 L1166.5 224.8 L1166.5 224.3 L1166.5 223.8 L1166.6 223.3 L1166.6 222.8 L1166.7 222.3 L1166.7 221.8 L1166.7 221.3 L1166.8 220.8 L1166.8 220.3 L1166.8 219.8 L1166.9 219.3 L1166.9 218.8 L1166.9 218.3 L1167 217.8 L1167 217.3 L1167 216.8 L1167.1 216.3 L1167.1 215.8 L1167.1 215.3 L1167.2 214.8 L1167.2 214.3 L1167.2 213.8 L1167.3 213.3 L1167.3 212.8 L1167.3 212.3 L1167.4 211.8 L1167.4 211.3 L1167.4 210.8 L1167.5 210.3 L1167.5 209.8 L1167.5 209.3 L1167.6 208.8 L1167.6 208.3 L1167.6 207.8 L1167.7 207.3 L1167.7 206.8 L1167.7 206.3 L1167.8 205.8 L1167.8 205.3 L1167.8 204.8 L1167.9 204.3 L1167.9 203.8 L1167.9 203.3 L1168 202.8 L1168 202.3 L1168 201.8 L1168.1 201.3 L1168.1 200.8 L1168.1 200.3 L1168.2 199.8 L1168.2 199.3 L1168.2 198.8 L1168.3 198.3 L1168.3 197.8 L1168.3 197.3 L1168.4 196.8 L1168.4 196.3 L1168.4 195.8 L1168.5 195.3 L1168.5 194.8 L1168.5 194.3 L1168.6 193.8 L1168.6 193.3 L1168.6 192.8 L1168.7 192.3 L1168.7 191.8 L1168.7 191.3 L1168.8 190.8 L1168.8 190.3 L1168.8 189.8 L1168.9 189.3 L1168.9 188.8 L1168.9 188.3 L1169 187.8 L1169 187.3 L1169 186.8 L1169.1 186.3 L1169.1 185.8 L1169.1 185.3 L1169.2 184.8 L1169.2 184.3 L1169.2 183.8 L1169.3 183.3 L1169.3 182.8 L1169.3 182.3 L1169.4 181.8 L1169.4 181.3 L1169.4 180.8 L1169.5 180.3 L1169.5 179.8 L1169.5 179.3 L1169.6 178.8 L1169.6 178.4 L1169.6 177.9 L1169.7 177.4 L1169.7 176.9 L1169.7 176.4 L1169.8 175.9 L1169.8 175.4 L1169.8 174.9 L1169.9 174.4 L1169.9 173.9 L1169.9 173.4 L1170 172.9 L1170 172.4 L1170 171.9 L1170.1 171.4 L1170.1 170.9 L1170.1 170.4 L1170.2 169.9 L1170.2 169.4 L1170.2 168.9 L1170.3 168.4 L1170.3 167.9 L1170.3 167.4 L1170.4 166.9 L1170.4 166.4 L1170.4 165.9 L1170.5 165.4 L1170.5 164.9 L1170.6 164.4 L1170.6 163.9 L1170.6 163.4 L1170.7 162.9 L1170.7 162.4 L1170.8 161.9 L1170.8 161.4 L1170.8 160.9 L1170.9 160.4 L1170.9 159.9 L1170.9 159.4 L1171 158.9 L1171 158.4 L1171.1 157.9 L1171.1 157.4 L1171.1 156.9 L1171.2 156.4 L1171.2 155.9 L1171.3 155.4 L1171.3 154.9 L1171.3 154.4 L1171.4 153.9 L1171.4 153.4 L1171.4 152.9 L1171.5 152.4 L1171.5 151.9 L1171.6 151.4 L1171.6 150.9 L1171.7 150.4 L1171.7 149.9 L1171.7 149.4 L1171.8 148.9 L1171.8 148.4 L1171.9 147.9 L1171.9 147.4 L1172 146.9 L1172 146.4 L1172.1 145.9 L1172.1 145.4 L1172.2 144.9 L1172.2 144.4 L1172.3 143.9 L1172.3 143.4 L1172.4 142.9 L1172.4 142.5 L1172.5 142 L1172.5 141.5 L1172.6 141 L1172.6 140.5 L1172.7 140 L1172.8 139.5 L1172.8 139 L1172.9 138.5 L1172.9 138 L1173 137.5 L1173.1 137 L1173.1 136.5 L1173.2 136 L1173.3 135.5 L1173.3 135 L1173.4 134.5 L1173.5 134 L1173.5 133.5 L1173.6 133 L1173.7 132.5 L1173.7 132 L1173.8 131.5 L1173.9 131 L1173.9 130.5 L1174 130 L1174.1 129.5 L1174.1 129.1 L1174.2 128.6 L1174.3 128.1 L1174.4 127.6 L1174.5 127.1 L1174.6 126.6 L1174.6 126.1 L1174.7 125.6 L1174.8 125.1 L1174.9 124.6 L1175 124.1 L1175.1 123.6 L1175.2 123.1 L1175.3 122.7 L1175.4 122.2 L1175.5 121.7 L1175.6 121.2 L1175.7 120.7 L1175.8 120.2 L1176 119.8 L1176.2 119.3 L1176.4 118.9 L1176.6 118.4 L1176.9 118 L1177.2 117.7 L1177.5 117.4 L1177.9 117.3 L1178.2 117.3 L1178.6 117.5 L1178.9 117.8 L1179.1 118.1 L1179.3 118.6 L1179.5 119 L1179.7 119.5 L1179.8 120 L1179.9 120.5 L1180 121 L1180.1 121.4 L1180.2 121.9 L1180.2 122.4 L1180.3 122.9 L1180.4 123.4 L1180.4 123.9 L1180.5 124.4 L1180.5 124.9 L1180.6 125.4 L1180.7 125.9 L1180.7 126.4 L1180.8 126.9 L1180.9 127.4 L1180.9 127.9 L1181 128.4 L1181 128.9 L1181.1 129.4 L1181.1 129.9 L1181.2 130.4 L1181.2 130.9 L1181.3 131.4 L1181.3 131.9 L1181.4 132.4 L1181.4 132.9 L1181.5 133.4 L1181.5 133.9 L1181.6 134.4 L1181.6 134.9 L1181.7 135.4 L1181.7 135.9 L1181.7 136.4 L1181.8 136.9 L1181.8 137.4 L1181.9 137.9 L1181.9 138.4 L1182 138.9 L1182 139.3 L1182.1 139.8 L1182.1 140.3 L1182.2 140.8 L1182.2 141.3 L1182.2 141.8 L1182.3 142.3 L1182.3 142.8 L1182.4 143.3 L1182.4 143.8 L1182.5 144.3 L1182.5 144.8 L1182.6 145.3 L1182.6 145.8 L1182.7 146.3 L1182.7 146.8 L1182.8 147.3 L1182.8 147.8 L1182.9 148.3 L1182.9 148.8 L1183 149.3 L1183 149.8 L1183 150.3 L1183.1 150.8 L1183.1 151.3 L1183.1 151.8 L1183.2 152.3 L1183.2 152.8 L1183.2 153.3 L1183.3 153.8 L1183.3 154.3 L1183.3 154.8 L1183.4 155.3 L1183.4 155.8 L1183.4 156.3 L1183.5 156.8 L1183.5 157.3 L1183.5 157.8 L1183.6 158.3 L1183.6 158.8 L1183.6 159.3 L1183.7 159.8 L1183.7 160.3 L1183.7 160.8 L1183.8 161.3 L1183.8 161.8 L1183.8 162.3 L1183.9 162.8 L1183.9 163.3 L1183.9 163.8 L1184 164.3 L1184 164.8 L1184 165.3 L1184.1 165.8 L1184.1 166.3 L1184.1 166.8 L1184.1 167.3 L1184.2 167.8 L1184.2 168.3 L1184.2 168.8 L1184.2 169.3 L1184.2 169.8 L1184.3 170.3 L1184.3 170.8 L1184.3 171.3 L1184.3 171.8 L1184.4 172.3 L1184.4 172.8 L1184.4 173.3 L1184.4 173.8 L1184.4 174.3 L1184.5 174.8 L1184.5 175.3 L1184.5 175.8 L1184.5 176.3 L1184.5 176.8 L1184.6 177.3 L1184.6 177.8 L1184.6 178.3 L1184.6 178.8 L1184.6 179.3 L1184.7 179.8 L1184.7 180.3 L1184.7 180.8 L1184.7 181.3 L1184.7 181.8 L1184.8 182.3 L1184.8 182.8 L1184.8 183.3 L1184.8 183.8 L1184.9 184.3 L1184.9 184.8 L1184.9 185.3 L1184.9 185.8 L1184.9 186.3 L1185 186.8 L1185 187.3 L1185 187.8 L1185 188.3 L1185 188.8 L1185.1 189.3 L1185.1 189.8 L1185.1 190.3 L1185.1 190.8 L1185.1 191.3 L1185.2 191.8 L1185.2 192.3 L1185.2 192.8 L1185.2 193.3 L1185.2 193.8 L1185.3 194.3 L1185.3 194.8 L1185.3 195.3 L1185.3 195.8 L1185.4 196.3 L1185.4 196.8 L1185.4 197.3 L1185.4 197.8 L1185.4 198.3 L1185.5 198.8 L1185.5 199.3 L1185.5 199.8 L1185.5 200.3 L1185.5 200.8 L1185.6 201.3 L1185.6 201.8 L1185.6 202.3 L1185.6 202.8 L1185.6 203.3 L1185.7 203.8 L1185.7 204.3 L1185.7 204.8 L1185.7 205.3 L1185.7 205.8 L1185.8 206.3 L1185.8 206.8 L1185.8 207.3 L1185.8 207.8 L1185.9 208.3 L1185.9 208.8 L1185.9 209.3 L1185.9 209.8 L1185.9 210.3 L1186 210.8 L1186 211.3 L1186 211.8 L1186 212.3 L1186 212.8 L1186.1 213.3 L1186.1 213.8 L1186.1 214.3 L1186.1 214.8 L1186.1 215.3 L1186.2 215.8 L1186.2 216.3 L1186.2 216.8 L1186.2 217.3 L1186.2 217.8 L1186.3 218.3 L1186.3 218.8 L1186.3 219.3 L1186.3 219.8 L1186.4 220.3 L1186.4 220.8 L1186.4 221.3 L1186.4 221.8 L1186.4 222.3 L1186.5 222.8 L1186.5 223.3 L1186.5 223.8 L1186.5 224.3 L1186.5 224.8 L1186.6 225.3 L1186.6 225.8 L1186.6 226.2 L1186.6 226.7 L1186.6 227.2 L1186.7 227.7 L1186.7 228.2 L1186.7 228.7 L1186.7 229.2 L1186.7 229.7 L1186.8 230.2 L1186.8 230.7 L1186.8 231.2 L1186.8 231.7 L1186.9 232.2 L1186.9 232.7 L1186.9 233.2 L1186.9 233.7 L1186.9 234.2 L1187 234.7 L1187 235.2 L1187 235.7 L1187 236.2 L1187 236.7 L1187.1 237.2 L1187.1 237.7 L1187.1 238.2 L1187.1 238.7 L1187.2 239.2 L1187.2 239.7 L1187.2 240.2 L1187.2 240.7 L1187.3 241.2 L1187.3 241.7 L1187.3 242.2 L1187.3 242.7 L1187.4 243.2 L1187.4 243.7 L1187.4 244.2 L1187.4 244.7 L1187.5 245.2 L1187.5 245.7 L1187.5 246.2 L1187.5 246.7 L1187.6 247.2 L1187.6 247.7 L1187.6 248.2 L1187.6 248.7 L1187.7 249.2 L1187.7 249.7 L1187.7 250.2 L1187.7 250.7 L1187.8 251.2 L1187.8 251.7 L1187.8 252.2 L1187.8 252.7 L1187.9 253.2 L1187.9 253.7 L1187.9 254.2 L1187.9 254.7 L1188 255.2 L1188 255.7 L1188 256.2 L1188 256.7 L1188 257.2 L1188.1 257.7 L1188.1 258.2 L1188.1 258.7 L1188.1 259.2 L1188.2 259.7 L1188.2 260.2 L1188.2 260.7 L1188.2 261.2 L1188.3 261.7 L1188.3 262.2 L1188.3 262.7 L1188.3 263.2 L1188.4 263.7 L1188.4 264.2 L1188.4 264.7 L1188.4 265.2 L1188.5 265.7 L1188.5 266.2 L1188.5 266.7 L1188.5 267.2 L1188.6 267.7 L1188.6 268.2 L1188.6 268.7 L1188.6 269.2 L1188.7 269.7 L1188.7 270.2 L1188.7 270.7 L1188.7 271.2 L1188.8 271.7 L1188.8 272.2 L1188.8 272.7 L1188.8 273.2 L1188.9 273.7 L1188.9 274.2 L1188.9 274.7 L1188.9 275.2 L1189 275.7 L1189 276.2 L1189 276.7 L1189 277.2 L1189.1 277.7 L1189.1 278.2 L1189.1 278.7 L1189.1 279.2 L1189.2 279.7 L1189.2 280.2 L1189.2 280.7 L1189.2 281.2 L1189.3 281.7 L1189.3 282.2 L1189.3 282.7 L1189.3 283.2 L1189.4 283.7 L1189.4 284.2 L1189.4 284.7 L1189.4 285.2 L1189.5 285.7 L1189.5 286.2 L1189.5 286.7 L1189.5 287.2 L1189.6 287.7 L1189.6 288.2 L1189.6 288.7 L1189.6 289.2 L1189.7 289.7 L1189.7 290.2 L1189.7 290.7 L1189.7 291.2 L1189.8 291.7 L1189.8 292.2 L1189.8 292.7 L1189.8 293.2 L1189.9 293.7 L1189.9 294.2 L1189.9 294.7 L1189.9 295.2 L1190 295.7 L1190 296.2 L1190 296.7 L1190 297.2 L1190.1 297.7 L1190.1 298.2 L1190.1 298.7 L1190.1 299.2 L1190.2 299.7 L1190.2 300.2 L1190.2 300.7 L1190.2 301.2 L1190.3 301.7 L1190.3 302.2 L1190.3 302.7 L1190.3 303.2 L1190.4 303.7 L1190.4 304.2 L1190.4 304.7 L1190.4 305.2 L1190.5 305.7 L1190.5 306.2 L1190.5 306.7 L1190.5 307.2 L1190.6 307.7 L1190.6 308.2 L1190.6 308.7 L1190.6 309.2 L1190.7 309.7 L1190.7 310.2 L1190.7 310.7 L1190.7 311.2 L1190.8 311.7 L1190.8 312.2 L1190.8 312.7 L1190.8 313.2 L1190.9 313.7 L1190.9 314.2 L1190.9 314.7 L1190.9 315.2 L1191 315.7 L1191 316.2 L1191 316.7 L1191 317.2 L1191.1 317.7 L1191.1 318.2 L1191.1 318.7 L1191.1 319.2 L1191.2 319.7 L1191.2 320.2 L1191.2 320.7 L1191.2 321.2 L1191.3 321.7 L1191.3 322.2 L1191.3 322.7 L1191.3 323.2 L1191.4 323.7 L1191.4 324.2 L1191.4 324.7 L1191.4 325.2 L1191.5 325.7 L1191.5 326.2 L1191.5 326.7 L1191.5 327.2 L1191.6 327.7 L1191.6 328.2 L1191.6 328.7 L1191.6 329.2 L1191.7 329.7 L1191.7 330.2 L1191.7 330.7 L1191.7 331.2 L1191.8 331.7 L1191.8 332.2 L1191.8 332.7 L1191.9 333.2 L1191.9 333.7 L1192 334.1 L1192.1 334.6 L1192.2 335.1 L1192.4 335.6 L1192.5 336.1 L1192.6 336.6 L1192.7 337.1 L1192.9 337.5 L1193 338 L1193.1 338.5 L1193.3 339 L1193.4 339.5 L1193.5 339.9 L1193.7 340.4 L1193.8 340.9 L1193.9 341.4 L1194 341.9 L1194.2 342.4 L1194.3 342.8 L1194.4 343.3 L1194.6 343.8 L1194.7 344.3 L1194.8 344.8 L1195 345.3 L1195.1 345.7 L1195.2 346.2 L1195.4 346.7 L1195.5 347.2 L1195.6 347.7 L1195.7 348.2 L1195.9 348.6 L1196 349.1 L1196.1 349.6 L1196.3 350.1 L1196.4 350.6 L1196.5 351.1 L1196.7 351.5" fill="none" stroke="#c8c8c8" stroke-width="1.5" stroke-linejoin="round"/>
<path d="M1174 352.1 L1174 351.8 L1174.1 351.3 L1174.2 350.8 L1174.3 350.3 L1174.4 349.8 L1174.5 349.3 L1174.6 348.8 L1174.7 348.4 L1174.8 347.9 L1174.9 347.4 L1175 346.9 L1175.1 346.4 L1175.2 345.9 L1175.3 345.4 L1175.4 344.9 L1175.5 344.4 L1175.6 343.9 L1175.7 343.5 L1175.8 343 L1175.8 342.5 L1175.8 342 L1175.8 341.5 L1175.9 341 L1175.9 340.5 L1175.9 340 L1175.9 339.5 L1175.9 339 L1176 338.5 L1176 338 L1176 337.5 L1176 337 L1176 336.5 L1176 336 L1176.1 335.5 L1176.1 335 L1176.1 334.5 L1176.1 334 L1176.1 333.5 L1176.2 333 L1176.2 332.5 L1176.2 332 L1176.2 331.5 L1176.2 331 L1176.3 330.5 L1176.3 330 L1176.3 329.5 L1176.3 329 L1176.3 328.5 L1176.4 328 L1176.4 327.5 L1176.4 327 L1176.4 326.5 L1176.4 326 L1176.5 325.5 L1176.5 325 L1176.5 324.5 L1176.5 324 L1176.5 323.5 L1176.6 323 L1176.6 322.5 L1176.6 322 L1176.6 321.5 L1176.6 321 L1176.6 320.5 L1176.7 320 L1176.7 319.5 L1176.7 319 L1176.7 318.5 L1176.7 318 L1176.7 317.5 L1176.7 317 L1176.8 316.5 L1176.8 316 L1176.8 315.5 L1176.8 315 L1176.8 314.5 L1176.8 314 L1176.8 313.5 L1176.9 313 L1176.9 312.5 L1176.9 312 L1176.9 311.5 L1176.9 311 L1176.9 310.5 L1177 310 L1177 309.5 L1177 309 L1177 308.5 L1177 308 L1177 307.5 L1177 307 L1177.1 306.5 L1177.1 306 L1177.1 305.5 L1177.1 305 L1177.1 304.5 L1177.1 304 L1177.1 303.5 L1177.2 303 L1177.2 302.5 L1177.2 302 L1177.2 301.5 L1177.2 301 L1177.2 300.5 L1177.3 300 L1177.3 299.5 L1177.3 299 L1177.3 298.5 L1177.3 298 L1177.3 297.5 L1177.3 297 L1177.3 296.5 L1177.4 296 L1177.4 295.5 L1177.4 295 L1177.4 294.5 L1177.4 294 L1177.4 293.5 L1177.4 293 L1177.4 292.5 L1177.5 292 L1177.5 291.5 L1177.5 291 L1177.5 290.5 L1177.5 290 L1177.5 289.5 L1177.5 289 L1177.5 288.5 L1177.5 288 L1177.6 287.5 L1177.6 287 L1177.6 286.5 L1177.6 286 L1177.6 285.5 L1177.6 285 L1177.6 284.5 L1177.6 284 L1177.7 283.5 L1177.7 283 L1177.7 282.5 L1177.7 282 L1177.7 281.5 L1177.7 281 L1177.7 280.5 L1177.7 280 L1177.7 279.5 L1177.8 279 L1177.8 278.5 L1177.8 278 L1177.8 277.5 L1177.8 277 L1177.8 276.5 L1177.8 275.9 L1177.8 275.4 L1177.8 274.9 L1177.9 274.4 L1177.9 273.9 L1177.9 273.4 L1177.9 272.9 L1177.9 272.4 L1177.9 271.9 L1177.9 271.4 L1177.9 270.9 L1178 270.4 L1178 269.9 L1178 269.4 L1178 268.9 L1178 268.4 L1178 267.9 L1178 267.4 L1178 266.9 L1178 266.4 L1178.1 265.9 L1178.1 265.4 L1178.1 264.9 L1178.1 264.4 L1178.1 263.9 L1178.1 263.4 L1178.1 262.9 L1178.1 262.4 L1178.2 261.9 L1178.2 261.4 L1178.2 260.9 L1178.2 260.4 L1178.2 259.9 L1178.2 259.4 L1178.2 258.9 L1178.2 258.4 L1178.2 257.9 L1178.2 257.4 L1178.2 256.9 L1178.2 256.4 L1178.3 255.9 L1178.3 255.4 L1178.3 254.9 L1178.3 254.4 L1178.3 253.9 L1178.3 253.4 L1178.3 252.9 L1178.3 252.4 L1178.3 251.9 L1178.3 251.4 L1178.3 250.9 L1178.3 250.4 L1178.4 249.9 L1178.4 249.4 L1178.4 248.9 L1178.4 248.4 L1178.4 247.9 L1178.4 247.4 L1178.4 246.9 L1178.4 246.4 L1178.4 245.9 L1178.4 245.4 L1178.4 244.9 L1178.4 244.4 L1178.5 243.9 L1178.5 243.4 L1178.5 242.9 L1178.5 242.4 L1178.5 241.9 L1178.5 241.4 L1178.5 240.9 L1178.5 240.4 L1178.5 239.9 L1178.5 239.4 L1178.5 238.9 L1178.5 238.4 L1178.6 237.9 L1178.6 237.4 L1178.6 236.9 L1178.6 236.4 L1178.6 235.9 L1178.6 235.4 L1178.6 234.9 L1178.6 234.4 L1178.6 233.9 L1178.6 233.4 L1178.6 232.9 L1178.6 232.4 L1178.7 231.9 L1178.7 231.4 L1178.7 230.9 L1178.7 230.4 L1178.7 229.9 L1178.7 229.4 L1178.7 228.9 L1178.7 228.4 L1178.7 227.9 L1178.7 227.4 L1178.7 226.9 L1178.7 226.4 L1178.8 225.9 L1178.8 225.4 L1178.8 224.9 L1178.8 224.4 L1178.8 223.9 L1178.8 223.4 L1178.8 222.9 L1178.8 222.4 L1178.8 221.9 L1178.8 221.4 L1178.9 220.9 L1178.9 220.4 L1178.9 219.9 L1178.9 219.4 L1178.9 218.9 L1178.9 218.4 L1178.9 217.9 L1178.9 217.4 L1178.9 216.9 L1178.9 216.4 L1179 215.9 L1179 215.4 L1179 214.9 L1179 214.4 L1179 213.9 L1179 213.4 L1179 212.9 L1179 212.4 L1179 211.9 L1179 211.4 L1179.1 210.9 L1179.1 210.4 L1179.1 209.9 L1179.1 209.4 L1179.1 208.9 L1179.1 208.4 L1179.1 207.9 L1179.1 207.4 L1179.1 206.9 L1179.1 206.4 L1179.2 205.9 L1179.2 205.4 L1179.2 204.9 L1179.2 204.4 L1179.2 203.9 L1179.2 203.4 L1179.2 202.9 L1179.2 202.4 L1179.2 201.9 L1179.2 201.4 L1179.3 200.9 L1179.3 200.4 L1179.3 199.9 L1179.3 199.4 L1179.3 198.9 L1179.3 198.4 L1179.3 197.9 L1179.3 197.4 L1179.3 196.9 L1179.3 196.4 L1179.4 195.9 L1179.4 195.4 L1179.4 194.9 L1179.4 194.4 L1179.4 193.9 L1179.4 193.4 L1179.4 192.9 L1179.4 192.4 L1179.5 191.9 L1179.5 191.4 L1179.5 190.9 L1179.5 190.4 L1179.5 189.9 L1179.5 189.4 L1179.5 188.9 L1179.5 188.4 L1179.6 187.9 L1179.6 187.4 L1179.6 186.9 L1179.6 186.4 L1179.6 185.9 L1179.6 185.4 L1179.6 184.9 L1179.6 184.4 L1179.7 183.9 L1179.7 183.4 L1179.7 182.9 L1179.7 182.4 L1179.7 181.9 L1179.7 181.4 L1179.7 180.9 L1179.7 180.4 L1179.8 179.9 L1179.8 179.4 L1179.8 178.9 L1179.8 178.4 L1179.8 177.9 L1179.8 177.4 L1179.8 176.9 L1179.8 176.4 L1179.9 175.9 L1179.9 175.4 L1179.9 174.9 L1179.9 174.4 L1179.9 173.9 L1179.9 173.4 L1179.9 172.9 L1180 172.4 L1180 171.9 L1180 171.4 L1180 170.9 L1180.1 170.4 L1180.1 169.9 L1180.1 169.4 L1180.1 168.9 L1180.2 168.4 L1180.2 167.9 L1180.2 167.4 L1180.2 166.9 L1180.3 166.4 L1180.3 165.9 L1180.3 165.4 L1180.4 164.9 L1180.4 164.4 L1180.4 163.9 L1180.4 163.4 L1180.5 162.9 L1180.5 162.4 L1180.5 161.9 L1180.5 161.4 L1180.6 160.9 L1180.6 160.4 L1180.6 159.9 L1180.6 159.4 L1180.7 158.9 L1180.7 158.4 L1180.7 157.9 L1180.7 157.4 L1180.8 156.9 L1180.8 156.4 L1180.8 155.9 L1180.9 155.4 L1180.9 154.9 L1181 154.4 L1181.1 153.9 L1181.2 153.4 L1181.3 153 L1181.4 152.5 L1181.5 152 L1181.6 151.5 L1181.7 151 L1181.8 150.5 L1182 150.1 L1182.1 149.9 L1182.3 149.9 L1182.5 150.1 L1182.7 150.5 L1182.9 151 L1183 151.4 L1183.1 151.9 L1183.2 152.4 L1183.2 152.9 L1183.3 153.4 L1183.3 153.9 L1183.4 154.4 L1183.4 154.9 L1183.5 155.4 L1183.5 155.9 L1183.6 156.4 L1183.6 156.9 L1183.7 157.4 L1183.7 157.9 L1183.8 158.4 L1183.8 158.9 L1183.9 159.4 L1183.9 159.9 L1184 160.4 L1184 160.9 L1184.1 161.4 L1184.1 161.9 L1184.2 162.4 L1184.2 162.8 L1184.3 163.3 L1184.3 163.8 L1184.4 164.3 L1184.4 164.8 L1184.5 165.3 L1184.6 165.8 L1184.6 166.3 L1184.7 166.8 L1184.7 167.3 L1184.8 167.8 L1184.8 168.3 L1184.9 168.8 L1184.9 169.3 L1185 169.8 L1185.1 170.3 L1185.1 170.8 L1185.2 171.3 L1185.2 171.8 L1185.3 172.3 L1185.3 172.8 L1185.4 173.3 L1185.4 173.8 L1185.5 174.3 L1185.6 174.8 L1185.6 175.3 L1185.7 175.8 L1185.7 176.3 L1185.8 176.8 L1185.9 177.3 L1185.9 177.8 L1186 178.3 L1186 178.8 L1186.1 179.3 L1186.2 179.8 L1186.2 180.2 L1186.3 180.7 L1186.3 181.2 L1186.4 181.7 L1186.4 182.2 L1186.5 182.7 L1186.6 183.2 L1186.6 183.7 L1186.7 184.2 L1186.7 184.7 L1186.8 185.2 L1186.9 185.7 L1186.9 186.2 L1186.9 186.7 L1187 187.2 L1187 187.7 L1187.1 188.2 L1187.1 188.7 L1187.2 189.2 L1187.2 189.7 L1187.2 190.2 L1187.3 190.7 L1187.3 191.2 L1187.4 191.7 L1187.4 192.2 L1187.5 192.7 L1187.5 193.2 L1187.5 193.7 L1187.6 194.2 L1187.6 194.7 L1187.7 195.2 L1187.7 195.7 L1187.8 196.2 L1187.8 196.7 L1187.8 197.2 L1187.9 197.7 L1187.9 198.2 L1188 198.7 L1188 199.2 L1188.1 199.7 L1188.1 200.2 L1188.1 200.7 L1188.2 201.2 L1188.2 201.7 L1188.3 202.2 L1188.3 202.7 L1188.3 203.2 L1188.4 203.7 L1188.4 204.2 L1188.4 204.7 L1188.5 205.2 L1188.5 205.7 L1188.5 206.2 L1188.6 206.7 L1188.6 207.2 L1188.6 207.7 L1188.7 208.2 L1188.7 208.7 L1188.7 209.2 L1188.8 209.7 L1188.8 210.2 L1188.8 210.7 L1188.9 211.1 L1188.9 211.6 L1188.9 212.1 L1189 212.6 L1189 213.1 L1189 213.6 L1189.1 214.1 L1189.1 214.6 L1189.1 215.1 L1189.2 215.6 L1189.2 216.1 L1189.2 216.6 L1189.3 217.1 L1189.3 217.6 L1189.3 218.1 L1189.4 218.6 L1189.4 219.1 L1189.4 219.6 L1189.5 220.1 L1189.5 220.6 L1189.5 221.1 L1189.6 221.6 L1189.6 222.1 L1189.6 222.6 L1189.7 223.1 L1189.7 223.6 L1189.7 224.1 L1189.8 224.6 L1189.8 225.1 L1189.8 225.6 L1189.9 226.1 L1189.9 226.6 L1189.9 227.1 L1190 227.6 L1190 228.1 L1190 228.6 L1190.1 229.1 L1190.1 229.6 L1190.1 230.1 L1190.2 230.6 L1190.2 231.1 L1190.2 231.6 L1190.3 232.1 L1190.3 232.6 L1190.3 233.1 L1190.4 233.6 L1190.4 234.1 L1190.4 234.6 L1190.5 235.1 L1190.5 235.6 L1190.5 236.1 L1190.6 236.6 L1190.6 237.1 L1190.6 237.6 L1190.7 238.1 L1190.7 238.6 L1190.7 239.1 L1190.8 239.6 L1190.8 240.1 L1190.9 240.6 L1190.9 241.1 L1190.9 241.6 L1191 242.1 L1191 242.6 L1191.1 243.1 L1191.1 243.6 L1191.1 244.1 L1191.2 244.6 L1191.2 245.1 L1191.2 245.6 L1191.3 246.1 L1191.3 246.6 L1191.4 247.1 L1191.4 247.6 L1191.4 248.1 L1191.5 248.6 L1191.5 249.1 L1191.6 249.6 L1191.6 250.1 L1191.6 250.6 L1191.7 251.1 L1191.7 251.6 L1191.7 252.1 L1191.8 252.6 L1191.8 253.1 L1191.9 253.6 L1191.9 254.1 L1191.9 254.6 L1192 255.1 L1192 255.6 L1192 256.1 L1192.1 256.6 L1192.1 257.1 L1192.1 257.6 L1192.2 258.1 L1192.2 258.6 L1192.2 259.1 L1192.3 259.6 L1192.3 260.1 L1192.4 260.6 L1192.4 261.1 L1192.4 261.6 L1192.5 262.1 L1192.5 262.6 L1192.5 263.1 L1192.6 263.6 L1192.6 264.1 L1192.6 264.6 L1192.7 265.1 L1192.7 265.6 L1192.7 266 L1192.8 266.5 L1192.8 267 L1192.8 267.5 L1192.9 268 L1192.9 268.5 L1193 269 L1193 269.5 L1193 270 L1193.1 270.5 L1193.1 271 L1193.1 271.5 L1193.2 272 L1193.2 272.5 L1193.2 273 L1193.3 273.5 L1193.3 274 L1193.4 274.5 L1193.4 275 L1193.4 275.5 L1193.5 276 L1193.5 276.5 L1193.6 277 L1193.6 277.5 L1193.7 278 L1193.7 278.5 L1193.7 279 L1193.8 279.5 L1193.8 280 L1193.9 280.5 L1193.9 281 L1194 281.5 L1194 282 L1194 282.5 L1194.1 283 L1194.1 283.5 L1194.2 284 L1194.2 284.5 L1194.3 285 L1194.3 285.5 L1194.3 286 L1194.4 286.5 L1194.4 287 L1194.5 287.5 L1194.5 288 L1194.6 288.5 L1194.6 289 L1194.6 289.5 L1194.7 290 L1194.7 290.5 L1194.8 291 L1194.8 291.5 L1194.9 292 L1194.9 292.5 L1195 293 L1195 293.5 L1195.1 294 L1195.1 294.5 L1195.2 295 L1195.2 295.5 L1195.3 296 L1195.3 296.5 L1195.4 297 L1195.4 297.5 L1195.5 298 L1195.5 298.5 L1195.6 298.9 L1195.6 299.4 L1195.7 299.9 L1195.7 300.4 L1195.8 300.9 L1195.8 301.4 L1195.9 301.9 L1195.9 302.4 L1196 302.9 L1196 303.4 L1196.1 303.9 L1196.1 304.4 L1196.2 304.9 L1196.2 305.4 L1196.3 305.9 L1196.3 306.4 L1196.4 306.9 L1196.4 307.4 L1196.5 307.9 L1196.5 308.4 L1196.6 308.9 L1196.6 309.4 L1196.7 309.9 L1196.7 310.4 L1196.8 310.9 L1196.8 311.4 L1196.9 311.9 L1197 312.4 L1197 312.9 L1197.1 313.4 L1197.1 313.9 L1197.2 314.4 L1197.3 314.9 L1197.3 315.4 L1197.4 315.9 L1197.5 316.4 L1197.5 316.9 L1197.6 317.3 L1197.6 317.8 L1197.7 318.3 L1197.8 318.8 L1197.8 319.3 L1197.9 319.8 L1198 320.3 L1198 320.8 L1198.1 321.3 L1198.1 321.8 L1198.2 322.3 L1198.3 322.8 L1198.3 323.3 L1198.4 323.8 L1198.5 324.3 L1198.6 324.8 L1198.6 325.3 L1198.7 325.8 L1198.8 326.3 L1198.9 326.8 L1199 327.2 L1199.1 327.7 L1199.2 328.2 L1199.3 328.7 L1199.4 329.2 L1199.5 329.7 L1199.6 330.2 L1199.7 330.7 L1199.8 331.2 L1199.9 331.7 L1200 332.2 L1200.1 332.6 L1200.2 333.1 L1200.3 333.6 L1200.4 334.1 L1200.5 334.6 L1200.6 335.1 L1200.7 335.6 L1200.8 336.1 L1201 336.5 L1201.1 337 L1201.3 337.5 L1201.5 338 L1201.6 338.4 L1201.8 338.9 L1202 339.4 L1202.1 339.9 L1202.3 340.3 L1202.5 340.8 L1202.6 341.3 L1202.8 341.7 L1203 342.2 L1203.1 342.7 L1203.3 343.1 L1203.5 343.6 L1203.7 344.1 L1203.9 344.5 L1204.2 344.9 L1204.5 345.3 L1204.9 345.6 L1205.2 346 L1205.6 346.3 L1205.9 346.7 L1206.3 347.1 L1206.6 347.4 L1207 347.8 L1207.3 348.1 L1207.7 348.5 L1208 348.8 L1208.4 349.1 L1208.8 349.4 L1209.3 349.6 L1209.7 349.8 L1210.2 350 L1210.7 350.2 L1211.1 350.3 L1211.6 350.5 L1212.1 350.7 L1212.5 350.9 L1213 351 L1213.5 351.1 L1214 351.2 L1214.5 351.3 L1215 351.3 L1215.5 351.4 L1216 351.4 L1216.5 351.5 L1217 351.5 L1217 352.1 Z" fill="#f5a9ef"/>
<path d="M1174 351.8 L1174.1 351.3 L1174.2 350.8 L1174.3 350.3 L1174.4 349.8 L1174.5 349.3 L1174.6 348.8 L1174.7 348.4 L1174.8 347.9 L1174.9 347.4 L1175 346.9 L1175.1 346.4 L1175.2 345.9 L1175.3 345.4 L1175.4 344.9 L1175.5 344.4 L1175.6 343.9 L1175.7 343.5 L1175.8 343 L1175.8 342.5 L1175.8 342 L1175.8 341.5 L1175.9 341 L1175.9 340.5 L1175.9 340 L1175.9 339.5 L1175.9 339 L1176 338.5 L1176 338 L1176 337.5 L1176 337 L1176 336.5 L1176 336 L1176.1 335.5 L1176.1 335 L1176.1 334.5 L1176.1 334 L1176.1 333.5 L1176.2 333 L1176.2 332.5 L1176.2 332 L1176.2 331.5 L1176.2 331 L1176.3 330.5 L1176.3 330 L1176.3 329.5 L1176.3 329 L1176.3 328.5 L1176.4 328 L1176.4 327.5 L1176.4 327 L1176.4 326.5 L1176.4 326 L1176.5 325.5 L1176.5 325 L1176.5 324.5 L1176.5 324 L1176.5 323.5 L1176.6 323 L1176.6 322.5 L1176.6 322 L1176.6 321.5 L1176.6 321 L1176.6 320.5 L1176.7 320 L1176.7 319.5 L1176.7 319 L1176.7 318.5 L1176.7 318 L1176.7 317.5 L1176.7 317 L1176.8 316.5 L1176.8 316 L1176.8 315.5 L1176.8 315 L1176.8 314.5 L1176.8 314 L1176.8 313.5 L1176.9 313 L1176.9 312.5 L1176.9 312 L1176.9 311.5 L1176.9 311 L1176.9 310.5 L1177 310 L1177 309.5 L1177 309 L1177 308.5 L1177 308 L1177 307.5 L1177 307 L1177.1 306.5 L1177.1 306 L1177.1 305.5 L1177.1 305 L1177.1 304.5 L1177.1 304 L1177.1 303.5 L1177.2 303 L1177.2 302.5 L1177.2 302 L1177.2 301.5 L1177.2 301 L1177.2 300.5 L1177.3 300 L1177.3 299.5 L1177.3 299 L1177.3 298.5 L1177.3 298 L1177.3 297.5 L1177.3 297 L1177.3 296.5 L1177.4 296 L1177.4 295.5 L1177.4 295 L1177.4 294.5 L1177.4 294 L1177.4 293.5 L1177.4 293 L1177.4 292.5 L1177.5 292 L1177.5 291.5 L1177.5 291 L1177.5 290.5 L1177.5 290 L1177.5 289.5 L1177.5 289 L1177.5 288.5 L1177.5 288 L1177.6 287.5 L1177.6 287 L1177.6 286.5 L1177.6 286 L1177.6 285.5 L1177.6 285 L1177.6 284.5 L1177.6 284 L1177.7 283.5 L1177.7 283 L1177.7 282.5 L1177.7 282 L1177.7 281.5 L1177.7 281 L1177.7 280.5 L1177.7 280 L1177.7 279.5 L1177.8 279 L1177.8 278.5 L1177.8 278 L1177.8 277.5 L1177.8 277 L1177.8 276.5 L1177.8 275.9 L1177.8 275.4 L1177.8 274.9 L1177.9 274.4 L1177.9 273.9 L1177.9 273.4 L1177.9 272.9 L1177.9 272.4 L1177.9 271.9 L1177.9 271.4 L1177.9 270.9 L1178 270.4 L1178 269.9 L1178 269.4 L1178 268.9 L1178 268.4 L1178 267.9 L1178 267.4 L1178 266.9 L1178 266.4 L1178.1 265.9 L1178.1 265.4 L1178.1 264.9 L1178.1 264.4 L1178.1 263.9 L1178.1 263.4 L1178.1 262.9 L1178.1 262.4 L1178.2 261.9 L1178.2 261.4 L1178.2 260.9 L1178.2 260.4 L1178.2 259.9 L1178.2 259.4 L1178.2 258.9 L1178.2 258.4 L1178.2 257.9 L1178.2 257.4 L1178.2 256.9 L1178.2 256.4 L1178.3 255.9 L1178.3 255.4 L1178.3 254.9 L1178.3 254.4 L1178.3 253.9 L1178.3 253.4 L1178.3 252.9 L1178.3 252.4 L1178.3 251.9 L1178.3 251.4 L1178.3 250.9 L1178.3 250.4 L1178.4 249.9 L1178.4 249.4 L1178.4 248.9 L1178.4 248.4 L1178.4 247.9 L1178.4 247.4 L1178.4 246.9 L1178.4 246.4 L1178.4 245.9 L1178.4 245.4 L1178.4 244.9 L1178.4 244.4 L1178.5 243.9 L1178.5 243.4 L1178.5 242.9 L1178.5 242.4 L1178.5 241.9 L1178.5 241.4 L1178.5 240.9 L1178.5 240.4 L1178.5 239.9 L1178.5 239.4 L1178.5 238.9 L1178.5 238.4 L1178.6 237.9 L1178.6 237.4 L1178.6 236.9 L1178.6 236.4 L1178.6 235.9 L1178.6 235.4 L1178.6 234.9 L1178.6 234.4 L1178.6 233.9 L1178.6 233.4 L1178.6 232.9 L1178.6 232.4 L1178.7 231.9 L1178.7 231.4 L1178.7 230.9 L1178.7 230.4 L1178.7 229.9 L1178.7 229.4 L1178.7 228.9 L1178.7 228.4 L1178.7 227.9 L1178.7 227.4 L1178.7 226.9 L1178.7 226.4 L1178.8 225.9 L1178.8 225.4 L1178.8 224.9 L1178.8 224.4 L1178.8 223.9 L1178.8 223.4 L1178.8 222.9 L1178.8 222.4 L1178.8 221.9 L1178.8 221.4 L1178.9 220.9 L1178.9 220.4 L1178.9 219.9 L1178.9 219.4 L1178.9 218.9 L1178.9 218.4 L1178.9 217.9 L1178.9 217.4 L1178.9 216.9 L1178.9 216.4 L1179 215.9 L1179 215.4 L1179 214.9 L1179 214.4 L1179 213.9 L1179 213.4 L1179 212.9 L1179 212.4 L1179 211.9 L1179 211.4 L1179.1 210.9 L1179.1 210.4 L1179.1 209.9 L1179.1 209.4 L1179.1 208.9 L1179.1 208.4 L1179.1 207.9 L1179.1 207.4 L1179.1 206.9 L1179.1 206.4 L1179.2 205.9 L1179.2 205.4 L1179.2 204.9 L1179.2 204.4 L1179.2 203.9 L1179.2 203.4 L1179.2 202.9 L1179.2 202.4 L1179.2 201.9 L1179.2 201.4 L1179.3 200.9 L1179.3 200.4 L1179.3 199.9 L1179.3 199.4 L1179.3 198.9 L1179.3 198.4 L1179.3 197.9 L1179.3 197.4 L1179.3 196.9 L1179.3 196.4 L1179.4 195.9 L1179.4 195.4 L1179.4 194.9 L1179.4 194.4 L1179.4 193.9 L1179.4 193.4 L1179.4 192.9 L1179.4 192.4 L1179.5 191.9 L1179.5 191.4 L1179.5 190.9 L1179.5 190.4 L1179.5 189.9 L1179.5 189.4 L1179.5 188.9 L1179.5 188.4 L1179.6 187.9 L1179.6 187.4 L1179.6 186.9 L1179.6 186.4 L1179.6 185.9 L1179.6 185.4 L1179.6 184.9 L1179.6 184.4 L1179.7 183.9 L1179.7 183.4 L1179.7 182.9 L1179.7 182.4 L1179.7 181.9 L1179.7 181.4 L1179.7 180.9 L1179.7 180.4 L1179.8 179.9 L1179.8 179.4 L1179.8 178.9 L1179.8 178.4 L1179.8 177.9 L1179.8 177.4 L1179.8 176.9 L1179.8 176.4 L1179.9 175.9 L1179.9 175.4 L1179.9 174.9 L1179.9 174.4 L1179.9 173.9 L1179.9 173.4 L1179.9 172.9 L1180 172.4 L1180 171.9 L1180 171.4 L1180 170.9 L1180.1 170.4 L1180.1 169.9 L1180.1 169.4 L1180.1 168.9 L1180.2 168.4 L1180.2 167.9 L1180.2 167.4 L1180.2 166.9 L1180.3 166.4 L1180.3 165.9 L1180.3 165.4 L1180.4 164.9 L1180.4 164.4 L1180.4 163.9 L1180.4 163.4 L1180.5 162.9 L1180.5 162.4 L1180.5 161.9 L1180.5 161.4 L1180.6 160.9 L1180.6 160.4 L1180.6 159.9 L1180.6 159.4 L1180.7 158.9 L1180.7 158.4 L1180.7 157.9 L1180.7 157.4 L1180.8 156.9 L1180.8 156.4 L1180.8 155.9 L1180.9 155.4 L1180.9 154.9 L1181 154.4 L1181.1 153.9 L1181.2 153.4 L1181.3 153 L1181.4 152.5 L1181.5 152 L1181.6 151.5 L1181.7 151 L1181.8 150.5 L1182 150.1 L1182.1 149.9 L1182.3 149.9 L1182.5 150.1 L1182.7 150.5 L1182.9 151 L1183 151.4 L1183.1 151.9 L1183.2 152.4 L1183.2 152.9 L1183.3 153.4 L1183.3 153.9 L1183.4 154.4 L1183.4 154.9 L1183.5 155.4 L1183.5 155.9 L1183.6 156.4 L1183.6 156.9 L1183.7 157.4 L1183.7 157.9 L1183.8 158.4 L1183.8 158.9 L1183.9 159.4 L1183.9 159.9 L1184 160.4 L1184 160.9 L1184.1 161.4 L1184.1 161.9 L1184.2 162.4 L1184.2 162.8 L1184.3 163.3 L1184.3 163.8 L1184.4 164.3 L1184.4 164.8 L1184.5 165.3 L1184.6 165.8 L1184.6 166.3 L1184.7 166.8 L1184.7 167.3 L1184.8 167.8 L1184.8 168.3 L1184.9 168.8 L1184.9 169.3 L1185 169.8 L1185.1 170.3 L1185.1 170.8 L1185.2 171.3 L1185.2 171.8 L1185.3 172.3 L1185.3 172.8 L1185.4 173.3 L1185.4 173.8 L1185.5 174.3 L1185.6 174.8 L1185.6 175.3 L1185.7 175.8 L1185.7 176.3 L1185.8 176.8 L1185.9 177.3 L1185.9 177.8 L1186 178.3 L1186 178.8 L1186.1 179.3 L1186.2 179.8 L1186.2 180.2 L1186.3 180.7 L1186.3 181.2 L1186.4 181.7 L1186.4 182.2 L1186.5 182.7 L1186.6 183.2 L1186.6 183.7 L1186.7 184.2 L1186.7 184.7 L1186.8 185.2 L1186.9 185.7 L1186.9 186.2 L1186.9 186.7 L1187 187.2 L1187 187.7 L1187.1 188.2 L1187.1 188.7 L1187.2 189.2 L1187.2 189.7 L1187.2 190.2 L1187.3 190.7 L1187.3 191.2 L1187.4 191.7 L1187.4 192.2 L1187.5 192.7 L1187.5 193.2 L1187.5 193.7 L1187.6 194.2 L1187.6 194.7 L1187.7 195.2 L1187.7 195.7 L1187.8 196.2 L1187.8 196.7 L1187.8 197.2 L1187.9 197.7 L1187.9 198.2 L1188 198.7 L1188 199.2 L1188.1 199.7 L1188.1 200.2 L1188.1 200.7 L1188.2 201.2 L1188.2 201.7 L1188.3 202.2 L1188.3 202.7 L1188.3 203.2 L1188.4 203.7 L1188.4 204.2 L1188.4 204.7 L1188.5 205.2 L1188.5 205.7 L1188.5 206.2 L1188.6 206.7 L1188.6 207.2 L1188.6 207.7 L1188.7 208.2 L1188.7 208.7 L1188.7 209.2 L1188.8 209.7 L1188.8 210.2 L1188.8 210.7 L1188.9 211.1 L1188.9 211.6 L1188.9 212.1 L1189 212.6 L1189 213.1 L1189 213.6 L1189.1 214.1 L1189.1 214.6 L1189.1 215.1 L1189.2 215.6 L1189.2 216.1 L1189.2 216.6 L1189.3 217.1 L1189.3 217.6 L1189.3 218.1 L1189.4 218.6 L1189.4 219.1 L1189.4 219.6 L1189.5 220.1 L1189.5 220.6 L1189.5 221.1 L1189.6 221.6 L1189.6 222.1 L1189.6 222.6 L1189.7 223.1 L1189.7 223.6 L1189.7 224.1 L1189.8 224.6 L1189.8 225.1 L1189.8 225.6 L1189.9 226.1 L1189.9 226.6 L1189.9 227.1 L1190 227.6 L1190 228.1 L1190 228.6 L1190.1 229.1 L1190.1 229.6 L1190.1 230.1 L1190.2 230.6 L1190.2 231.1 L1190.2 231.6 L1190.3 232.1 L1190.3 232.6 L1190.3 233.1 L1190.4 233.6 L1190.4 234.1 L1190.4 234.6 L1190.5 235.1 L1190.5 235.6 L1190.5 236.1 L1190.6 236.6 L1190.6 237.1 L1190.6 237.6 L1190.7 238.1 L1190.7 238.6 L1190.7 239.1 L1190.8 239.6 L1190.8 240.1 L1190.9 240.6 L1190.9 241.1 L1190.9 241.6 L1191 242.1 L1191 242.6 L1191.1 243.1 L1191.1 243.6 L1191.1 244.1 L1191.2 244.6 L1191.2 245.1 L1191.2 245.6 L1191.3 246.1 L1191.3 246.6 L1191.4 247.1 L1191.4 247.6 L1191.4 248.1 L1191.5 248.6 L1191.5 249.1 L1191.6 249.6 L1191.6 250.1 L1191.6 250.6 L1191.7 251.1 L1191.7 251.6 L1191.7 252.1 L1191.8 252.6 L1191.8 253.1 L1191.9 253.6 L1191.9 254.1 L1191.9 254.6 L1192 255.1 L1192 255.6 L1192 256.1 L1192.1 256.6 L1192.1 257.1 L1192.1 257.6 L1192.2 258.1 L1192.2 258.6 L1192.2 259.1 L1192.3 259.6 L1192.3 260.1 L1192.4 260.6 L1192.4 261.1 L1192.4 261.6 L1192.5 262.1 L1192.5 262.6 L1192.5 263.1 L1192.6 263.6 L1192.6 264.1 L1192.6 264.6 L1192.7 265.1 L1192.7 265.6 L1192.7 266 L1192.8 266.5 L1192.8 267 L1192.8 267.5 L1192.9 268 L1192.9 268.5 L1193 269 L1193 269.5 L1193 270 L1193.1 270.5 L1193.1 271 L1193.1 271.5 L1193.2 272 L1193.2 272.5 L1193.2 273 L1193.3 273.5 L1193.3 274 L1193.4 274.5 L1193.4 275 L1193.4 275.5 L1193.5 276 L1193.5 276.5 L1193.6 277 L1193.6 277.5 L1193.7 278 L1193.7 278.5 L1193.7 279 L1193.8 279.5 L1193.8 280 L1193.9 280.5 L1193.9 281 L1194 281.5 L1194 282 L1194 282.5 L1194.1 283 L1194.1 283.5 L1194.2 284 L1194.2 284.5 L1194.3 285 L1194.3 285.5 L1194.3 286 L1194.4 286.5 L1194.4 287 L1194.5 287.5 L1194.5 288 L1194.6 288.5 L1194.6 289 L1194.6 289.5 L1194.7 290 L1194.7 290.5 L1194.8 291 L1194.8 291.5 L1194.9 292 L1194.9 292.5 L1195 293 L1195 293.5 L1195.1 294 L1195.1 294.5 L1195.2 295 L1195.2 295.5 L1195.3 296 L1195.3 296.5 L1195.4 297 L1195.4 297.5 L1195.5 298 L1195.5 298.5 L1195.6 298.9 L1195.6 299.4 L1195.7 299.9 L1195.7 300.4 L1195.8 300.9 L1195.8 301.4 L1195.9 301.9 L1195.9 302.4 L1196 302.9 L1196 303.4 L1196.1 303.9 L1196.1 304.4 L1196.2 304.9 L1196.2 305.4 L1196.3 305.9 L1196.3 306.4 L1196.4 306.9 L1196.4 307.4 L1196.5 307.9 L1196.5 308.4 L1196.6 308.9 L1196.6 309.4 L1196.7 309.9 L1196.7 310.4 L1196.8 310.9 L1196.8 311.4 L1196.9 311.9 L1197 312.4 L1197 312.9 L1197.1 313.4 L1197.1 313.9 L1197.2 314.4 L1197.3 314.9 L1197.3 315.4 L1197.4 315.9 L1197.5 316.4 L1197.5 316.9 L1197.6 317.3 L1197.6 317.8 L1197.7 318.3 L1197.8 318.8 L1197.8 319.3 L1197.9 319.8 L1198 320.3 L1198 320.8 L1198.1 321.3 L1198.1 321.8 L1198.2 322.3 L1198.3 322.8 L1198.3 323.3 L1198.4 323.8 L1198.5 324.3 L1198.6 324.8 L1198.6 325.3 L1198.7 325.8 L1198.8 326.3 L1198.9 326.8 L1199 327.2 L1199.1 327.7 L1199.2 328.2 L1199.3 328.7 L1199.4 329.2 L1199.5 329.7 L1199.6 330.2 L1199.7 330.7 L1199.8 331.2 L1199.9 331.7 L1200 332.2 L1200.1 332.6 L1200.2 333.1 L1200.3 333.6 L1200.4 334.1 L1200.5 334.6 L1200.6 335.1 L1200.7 335.6 L1200.8 336.1 L1201 336.5 L1201.1 337 L1201.3 337.5 L1201.5 338 L1201.6 338.4 L1201.8 338.9 L1202 339.4 L1202.1 339.9 L1202.3 340.3 L1202.5 340.8 L1202.6 341.3 L1202.8 341.7 L1203 342.2 L1203.1 342.7 L1203.3 343.1 L1203.5 343.6 L1203.7 344.1 L1203.9 344.5 L1204.2 344.9 L1204.5 345.3 L1204.9 345.6 L1205.2 346 L1205.6 346.3 L1205.9 346.7 L1206.3 347.1 L1206.6 347.4 L1207 347.8 L1207.3 348.1 L1207.7 348.5 L1208 348.8 L1208.4 349.1 L1208.8 349.4 L1209.3 349.6 L1209.7 349.8 L1210.2 350 L1210.7 350.2 L1211.1 350.3 L1211.6 350.5 L1212.1 350.7 L1212.5 350.9 L1213 351 L1213.5 351.1 L1214 351.2 L1214.5 351.3 L1215 351.3 L1215.5 351.4 L1216 351.4 L1216.5 351.5 L1217 351.5" fill="none" stroke="#ff4bfb" stroke-width="1.4" stroke-linejoin="round"/>
<rect x="1050.6" y="85.5" width="268" height="266.8" fill="none" stroke="#000" stroke-width="1.3"/>
<line x1="1050.6" y1="352.8" x2="1050.6" y2="360.9" stroke="#000" stroke-width="1.7"/>
<line x1="1061.39" y1="352.8" x2="1061.39" y2="357.7" stroke="#000" stroke-width="1.25"/>
<line x1="1067.88" y1="352.8" x2="1067.88" y2="357.7" stroke="#000" stroke-width="1.25"/>
<line x1="1072.49" y1="352.8" x2="1072.49" y2="357.7" stroke="#000" stroke-width="1.25"/>
<line x1="1076.06" y1="352.8" x2="1076.06" y2="357.7" stroke="#000" stroke-width="1.25"/>
<line x1="1078.97" y1="352.8" x2="1078.97" y2="357.7" stroke="#000" stroke-width="1.25"/>
<line x1="1081.44" y1="352.8" x2="1081.44" y2="357.7" stroke="#000" stroke-width="1.25"/>
<line x1="1083.58" y1="352.8" x2="1083.58" y2="357.7" stroke="#000" stroke-width="1.25"/>
<line x1="1085.46" y1="352.8" x2="1085.46" y2="357.7" stroke="#000" stroke-width="1.25"/>
<line x1="1087.15" y1="352.8" x2="1087.15" y2="360.9" stroke="#000" stroke-width="1.7"/>
<line x1="1098.24" y1="352.8" x2="1098.24" y2="357.7" stroke="#000" stroke-width="1.25"/>
<line x1="1104.73" y1="352.8" x2="1104.73" y2="357.7" stroke="#000" stroke-width="1.25"/>
<line x1="1109.34" y1="352.8" x2="1109.34" y2="357.7" stroke="#000" stroke-width="1.25"/>
<line x1="1112.91" y1="352.8" x2="1112.91" y2="357.7" stroke="#000" stroke-width="1.25"/>
<line x1="1115.82" y1="352.8" x2="1115.82" y2="357.7" stroke="#000" stroke-width="1.25"/>
<line x1="1118.29" y1="352.8" x2="1118.29" y2="357.7" stroke="#000" stroke-width="1.25"/>
<line x1="1120.43" y1="352.8" x2="1120.43" y2="357.7" stroke="#000" stroke-width="1.25"/>
<line x1="1122.31" y1="352.8" x2="1122.31" y2="357.7" stroke="#000" stroke-width="1.25"/>
<line x1="1124" y1="352.8" x2="1124" y2="360.9" stroke="#000" stroke-width="1.7"/>
<line x1="1135.09" y1="352.8" x2="1135.09" y2="357.7" stroke="#000" stroke-width="1.25"/>
<line x1="1141.58" y1="352.8" x2="1141.58" y2="357.7" stroke="#000" stroke-width="1.25"/>
<line x1="1146.19" y1="352.8" x2="1146.19" y2="357.7" stroke="#000" stroke-width="1.25"/>
<line x1="1149.76" y1="352.8" x2="1149.76" y2="357.7" stroke="#000" stroke-width="1.25"/>
<line x1="1152.67" y1="352.8" x2="1152.67" y2="357.7" stroke="#000" stroke-width="1.25"/>
<line x1="1155.14" y1="352.8" x2="1155.14" y2="357.7" stroke="#000" stroke-width="1.25"/>
<line x1="1157.28" y1="352.8" x2="1157.28" y2="357.7" stroke="#000" stroke-width="1.25"/>
<line x1="1159.16" y1="352.8" x2="1159.16" y2="357.7" stroke="#000" stroke-width="1.25"/>
<line x1="1160.85" y1="352.8" x2="1160.85" y2="360.9" stroke="#000" stroke-width="1.7"/>
<line x1="1171.94" y1="352.8" x2="1171.94" y2="357.7" stroke="#000" stroke-width="1.25"/>
<line x1="1178.43" y1="352.8" x2="1178.43" y2="357.7" stroke="#000" stroke-width="1.25"/>
<line x1="1183.04" y1="352.8" x2="1183.04" y2="357.7" stroke="#000" stroke-width="1.25"/>
<line x1="1186.61" y1="352.8" x2="1186.61" y2="357.7" stroke="#000" stroke-width="1.25"/>
<line x1="1189.52" y1="352.8" x2="1189.52" y2="357.7" stroke="#000" stroke-width="1.25"/>
<line x1="1191.99" y1="352.8" x2="1191.99" y2="357.7" stroke="#000" stroke-width="1.25"/>
<line x1="1194.13" y1="352.8" x2="1194.13" y2="357.7" stroke="#000" stroke-width="1.25"/>
<line x1="1196.01" y1="352.8" x2="1196.01" y2="357.7" stroke="#000" stroke-width="1.25"/>
<line x1="1197.7" y1="352.8" x2="1197.7" y2="360.9" stroke="#000" stroke-width="1.7"/>
<line x1="1208.79" y1="352.8" x2="1208.79" y2="357.7" stroke="#000" stroke-width="1.25"/>
<line x1="1215.28" y1="352.8" x2="1215.28" y2="357.7" stroke="#000" stroke-width="1.25"/>
<line x1="1219.89" y1="352.8" x2="1219.89" y2="357.7" stroke="#000" stroke-width="1.25"/>
<line x1="1223.46" y1="352.8" x2="1223.46" y2="357.7" stroke="#000" stroke-width="1.25"/>
<line x1="1226.37" y1="352.8" x2="1226.37" y2="357.7" stroke="#000" stroke-width="1.25"/>
<line x1="1228.84" y1="352.8" x2="1228.84" y2="357.7" stroke="#000" stroke-width="1.25"/>
<line x1="1230.98" y1="352.8" x2="1230.98" y2="357.7" stroke="#000" stroke-width="1.25"/>
<line x1="1232.86" y1="352.8" x2="1232.86" y2="357.7" stroke="#000" stroke-width="1.25"/>
<line x1="1234.55" y1="352.8" x2="1234.55" y2="360.9" stroke="#000" stroke-width="1.7"/>
<line x1="1245.64" y1="352.8" x2="1245.64" y2="357.7" stroke="#000" stroke-width="1.25"/>
<line x1="1252.13" y1="352.8" x2="1252.13" y2="357.7" stroke="#000" stroke-width="1.25"/>
<line x1="1256.74" y1="352.8" x2="1256.74" y2="357.7" stroke="#000" stroke-width="1.25"/>
<line x1="1260.31" y1="352.8" x2="1260.31" y2="357.7" stroke="#000" stroke-width="1.25"/>
<line x1="1263.22" y1="352.8" x2="1263.22" y2="357.7" stroke="#000" stroke-width="1.25"/>
<line x1="1265.69" y1="352.8" x2="1265.69" y2="357.7" stroke="#000" stroke-width="1.25"/>
<line x1="1267.83" y1="352.8" x2="1267.83" y2="357.7" stroke="#000" stroke-width="1.25"/>
<line x1="1269.71" y1="352.8" x2="1269.71" y2="357.7" stroke="#000" stroke-width="1.25"/>
<line x1="1271.4" y1="352.8" x2="1271.4" y2="360.9" stroke="#000" stroke-width="1.7"/>
<line x1="1282.49" y1="352.8" x2="1282.49" y2="357.7" stroke="#000" stroke-width="1.25"/>
<line x1="1288.98" y1="352.8" x2="1288.98" y2="357.7" stroke="#000" stroke-width="1.25"/>
<line x1="1293.59" y1="352.8" x2="1293.59" y2="357.7" stroke="#000" stroke-width="1.25"/>
<line x1="1297.16" y1="352.8" x2="1297.16" y2="357.7" stroke="#000" stroke-width="1.25"/>
<line x1="1300.07" y1="352.8" x2="1300.07" y2="357.7" stroke="#000" stroke-width="1.25"/>
<line x1="1302.54" y1="352.8" x2="1302.54" y2="357.7" stroke="#000" stroke-width="1.25"/>
<line x1="1304.68" y1="352.8" x2="1304.68" y2="357.7" stroke="#000" stroke-width="1.25"/>
<line x1="1306.56" y1="352.8" x2="1306.56" y2="357.7" stroke="#000" stroke-width="1.25"/>
<line x1="1308.25" y1="352.8" x2="1308.25" y2="360.9" stroke="#000" stroke-width="1.7"/>
<text transform="translate(1061.6,384.6) scale(1.06,1)" font-size="10" text-anchor="middle" fill="#111">10</text>
<text transform="translate(1068.4,375.5) scale(1.06,1)" font-size="10" fill="#111">0</text>
<text transform="translate(1125.6,384.6) scale(1.06,1)" font-size="10" text-anchor="middle" fill="#111">10</text>
<text transform="translate(1132.4,375.5) scale(1.06,1)" font-size="10" fill="#111">2</text>
<text transform="translate(1199.3,384.6) scale(1.06,1)" font-size="10" text-anchor="middle" fill="#111">10</text>
<text transform="translate(1206.1,375.5) scale(1.06,1)" font-size="10" fill="#111">4</text>
<text transform="translate(1273,384.6) scale(1.06,1)" font-size="10" text-anchor="middle" fill="#111">10</text>
<text transform="translate(1279.8,375.5) scale(1.06,1)" font-size="10" fill="#111">6</text>
<line x1="1043.2" y1="125.6" x2="1050.6" y2="125.6" stroke="#000" stroke-width="1.7"/>
<text transform="translate(1038,132.9) scale(1.04,1)" font-size="10.2" text-anchor="end" fill="#111">150</text>
<line x1="1043.2" y1="201.2" x2="1050.6" y2="201.2" stroke="#000" stroke-width="1.7"/>
<text transform="translate(1038,208.5) scale(1.04,1)" font-size="10.2" text-anchor="end" fill="#111">100</text>
<line x1="1043.2" y1="276.8" x2="1050.6" y2="276.8" stroke="#000" stroke-width="1.7"/>
<text transform="translate(1038,284.1) scale(1.04,1)" font-size="10.2" text-anchor="end" fill="#111">50</text>
<line x1="1043.2" y1="352.1" x2="1050.6" y2="352.1" stroke="#000" stroke-width="1.7"/>
<text transform="translate(1038,352.3) scale(1.04,1)" font-size="10.2" text-anchor="end" fill="#111">0</text>
<line x1="1047" y1="95.4" x2="1050.6" y2="95.4" stroke="#000" stroke-width="1.2"/>
<line x1="1047" y1="110.5" x2="1050.6" y2="110.5" stroke="#000" stroke-width="1.2"/>
<line x1="1047" y1="140.7" x2="1050.6" y2="140.7" stroke="#000" stroke-width="1.2"/>
<line x1="1047" y1="155.8" x2="1050.6" y2="155.8" stroke="#000" stroke-width="1.2"/>
<line x1="1047" y1="170.9" x2="1050.6" y2="170.9" stroke="#000" stroke-width="1.2"/>
<line x1="1047" y1="186" x2="1050.6" y2="186" stroke="#000" stroke-width="1.2"/>
<line x1="1047" y1="216.2" x2="1050.6" y2="216.2" stroke="#000" stroke-width="1.2"/>
<line x1="1047" y1="231.3" x2="1050.6" y2="231.3" stroke="#000" stroke-width="1.2"/>
<line x1="1047" y1="246.4" x2="1050.6" y2="246.4" stroke="#000" stroke-width="1.2"/>
<line x1="1047" y1="261.5" x2="1050.6" y2="261.5" stroke="#000" stroke-width="1.2"/>
<line x1="1047" y1="291.7" x2="1050.6" y2="291.7" stroke="#000" stroke-width="1.2"/>
<line x1="1047" y1="306.8" x2="1050.6" y2="306.8" stroke="#000" stroke-width="1.2"/>
<line x1="1047" y1="321.9" x2="1050.6" y2="321.9" stroke="#000" stroke-width="1.2"/>
<line x1="1047" y1="337" x2="1050.6" y2="337" stroke="#000" stroke-width="1.2"/>
<line x1="1050" y1="353.3" x2="1319.2" y2="353.3" stroke="#000" stroke-width="1.4"/>
<line x1="1051.2" y1="352.5" x2="1318" y2="352.5" stroke="#ff4bfb" stroke-width="1.3"/>
<text x="1182.4" y="411.1" font-size="13.1" font-weight="bold" text-anchor="middle" letter-spacing="0.8">APC-CD14</text>
<text transform="translate(1012,218.6) rotate(-90)" font-size="13.5" font-weight="bold" text-anchor="middle" letter-spacing="1">Count</text>
<line x1="1178.8" y1="260" x2="1318.6" y2="260" stroke="#000" stroke-width="1.7"/>
<line x1="1178.8" y1="254.8" x2="1178.8" y2="265.2" stroke="#000" stroke-width="1.8"/>
<line x1="1318" y1="254.8" x2="1318" y2="265.2" stroke="#000" stroke-width="1.6"/>
<text transform="translate(1247.8,224.2) scale(1.02,1)" font-size="12.2" text-anchor="middle" fill="#111">CD14 +</text>
<text transform="translate(1247.8,242.8) scale(1.02,1)" font-size="12.2" text-anchor="middle" fill="#111">47.5</text>
<text x="201.5" y="66.2" font-size="28.5" font-weight="bold" text-anchor="middle">DMSO</text>
<text x="528.8" y="66.2" font-size="28.5" font-weight="bold" text-anchor="middle">PMA</text>
<text x="857" y="66.2" font-size="28.5" font-weight="bold" text-anchor="middle">DMSO</text>
<text x="1184.4" y="66.2" font-size="28.5" font-weight="bold" text-anchor="middle">PMA</text>
<line x1="86" y1="422.4" x2="645.6" y2="422.4" stroke="#000" stroke-width="4"/>
<line x1="736.7" y1="422.4" x2="1296.2" y2="422.4" stroke="#000" stroke-width="4"/>
<text x="365.8" y="457.2" font-size="28.2" font-weight="bold" text-anchor="middle">shNC</text>
<text x="1016.5" y="457.2" font-size="28.2" font-weight="bold" text-anchor="middle">shUHRF1</text>
<path d="M141.1 847.3 L141.1 846.7 L144.1 845.8 L147.6 844.9 L150.5 842.3 L153.4 836.4 L155.8 829.4 L157.5 820 L159.1 805.9 L159.9 793.1 L160.7 790.7 L161.6 782.5 L162.8 761.4 L164 735.6 L165.2 714.5 L166.6 698.1 L168.1 684.1 L169.3 670 L169.8 653.6 L170.2 637.2 L171 653.6 L171.6 670 L172.4 655.9 L173.4 633.7 L174.3 606.1 L175.1 627.8 L175.9 645.4 L176.5 643 L177.1 665.3 L177.8 686.4 L178.6 681.7 L179.8 687.6 L180.6 700.5 L181.6 718.1 L182.7 735.6 L184.1 759.1 L185.7 777.8 L187.4 796.6 L189.2 809.5 L190.9 818.8 L193.3 826.5 L195.6 828.8 L198 831.1 L199.7 833.3 L201.5 832.3 L203.2 832.9 L204.1 834.3 L200.3 847.3 Z" fill="#d3d3d3"/>
<path d="M141.1 846.7 L144.1 845.8 L147.6 844.9 L150.5 842.3 L153.4 836.4 L155.8 829.4 L157.5 820 L159.1 805.9 L159.9 793.1 L160.7 790.7 L161.6 782.5 L162.8 761.4 L164 735.6 L165.2 714.5 L166.6 698.1 L168.1 684.1 L169.3 670 L169.8 653.6 L170.2 637.2 L171 653.6 L171.6 670 L172.4 655.9 L173.4 633.7 L174.3 606.1 L175.1 627.8 L175.9 645.4 L176.5 643 L177.1 665.3 L177.8 686.4 L178.6 681.7 L179.8 687.6 L180.6 700.5 L181.6 718.1 L182.7 735.6 L184.1 759.1 L185.7 777.8 L187.4 796.6 L189.2 809.5 L190.9 818.8 L193.3 826.5 L195.6 828.8 L198 831.1 L199.7 833.3 L201.5 832.3 L203.2 832.9 L204.1 834.3" fill="none" stroke="#909090" stroke-width="1.3" stroke-linejoin="round"/>
<path d="M200.3 847 L202.1 841.1 L204.1 834.3 L206.8 834.9 L209.7 835.2 L214.4 837.6 L219.1 839.3 L223.8 841.7 L228.4 844 L233.1 845.8 L240.2 846.7 L240.2 847.3 Z" fill="#7fd1e8"/>
<path d="M200.3 847 L202.1 841.1 L204.1 834.3 L206.8 834.9 L209.7 835.2 L214.4 837.6 L219.1 839.3 L223.8 841.7 L228.4 844 L233.1 845.8 L240.2 846.7" fill="none" stroke="#1ec2f4" stroke-width="1.6" stroke-linejoin="round"/>
<line x1="70.4" y1="846.9" x2="335.2" y2="846.9" stroke="#1ec2f4" stroke-width="1.5"/>
<rect x="70.4" y="584.7" width="264.8" height="263.2" fill="none" stroke="#000" stroke-width="1.2"/>
<line x1="69.8" y1="848.9" x2="335.8" y2="848.9" stroke="#000" stroke-width="2.2"/>
<line x1="70.8" y1="849.4" x2="70.8" y2="855.9" stroke="#000" stroke-width="1.7"/>
<line x1="86.45" y1="849.4" x2="86.45" y2="852.8" stroke="#000" stroke-width="1"/>
<line x1="95.61" y1="849.4" x2="95.61" y2="852.8" stroke="#000" stroke-width="1"/>
<line x1="102.11" y1="849.4" x2="102.11" y2="852.8" stroke="#000" stroke-width="1"/>
<line x1="107.15" y1="849.4" x2="107.15" y2="852.8" stroke="#000" stroke-width="1"/>
<line x1="111.26" y1="849.4" x2="111.26" y2="852.8" stroke="#000" stroke-width="1"/>
<line x1="114.75" y1="849.4" x2="114.75" y2="852.8" stroke="#000" stroke-width="1"/>
<line x1="117.76" y1="849.4" x2="117.76" y2="852.8" stroke="#000" stroke-width="1"/>
<line x1="120.42" y1="849.4" x2="120.42" y2="852.8" stroke="#000" stroke-width="1"/>
<line x1="122.8" y1="849.4" x2="122.8" y2="855.9" stroke="#000" stroke-width="1.7"/>
<line x1="138.33" y1="849.4" x2="138.33" y2="852.8" stroke="#000" stroke-width="1"/>
<line x1="147.42" y1="849.4" x2="147.42" y2="852.8" stroke="#000" stroke-width="1"/>
<line x1="153.87" y1="849.4" x2="153.87" y2="852.8" stroke="#000" stroke-width="1"/>
<line x1="158.87" y1="849.4" x2="158.87" y2="852.8" stroke="#000" stroke-width="1"/>
<line x1="162.95" y1="849.4" x2="162.95" y2="852.8" stroke="#000" stroke-width="1"/>
<line x1="166.41" y1="849.4" x2="166.41" y2="852.8" stroke="#000" stroke-width="1"/>
<line x1="169.4" y1="849.4" x2="169.4" y2="852.8" stroke="#000" stroke-width="1"/>
<line x1="172.04" y1="849.4" x2="172.04" y2="852.8" stroke="#000" stroke-width="1"/>
<line x1="174.4" y1="849.4" x2="174.4" y2="855.9" stroke="#000" stroke-width="1.7"/>
<line x1="190.44" y1="849.4" x2="190.44" y2="852.8" stroke="#000" stroke-width="1"/>
<line x1="199.83" y1="849.4" x2="199.83" y2="852.8" stroke="#000" stroke-width="1"/>
<line x1="206.49" y1="849.4" x2="206.49" y2="852.8" stroke="#000" stroke-width="1"/>
<line x1="211.66" y1="849.4" x2="211.66" y2="852.8" stroke="#000" stroke-width="1"/>
<line x1="215.88" y1="849.4" x2="215.88" y2="852.8" stroke="#000" stroke-width="1"/>
<line x1="219.44" y1="849.4" x2="219.44" y2="852.8" stroke="#000" stroke-width="1"/>
<line x1="222.53" y1="849.4" x2="222.53" y2="852.8" stroke="#000" stroke-width="1"/>
<line x1="225.26" y1="849.4" x2="225.26" y2="852.8" stroke="#000" stroke-width="1"/>
<line x1="227.7" y1="849.4" x2="227.7" y2="855.9" stroke="#000" stroke-width="1.7"/>
<line x1="243.78" y1="849.4" x2="243.78" y2="852.8" stroke="#000" stroke-width="1"/>
<line x1="253.18" y1="849.4" x2="253.18" y2="852.8" stroke="#000" stroke-width="1"/>
<line x1="259.85" y1="849.4" x2="259.85" y2="852.8" stroke="#000" stroke-width="1"/>
<line x1="265.02" y1="849.4" x2="265.02" y2="852.8" stroke="#000" stroke-width="1"/>
<line x1="269.25" y1="849.4" x2="269.25" y2="852.8" stroke="#000" stroke-width="1"/>
<line x1="272.83" y1="849.4" x2="272.83" y2="852.8" stroke="#000" stroke-width="1"/>
<line x1="275.93" y1="849.4" x2="275.93" y2="852.8" stroke="#000" stroke-width="1"/>
<line x1="278.66" y1="849.4" x2="278.66" y2="852.8" stroke="#000" stroke-width="1"/>
<line x1="281.1" y1="849.4" x2="281.1" y2="855.9" stroke="#000" stroke-width="1.7"/>
<line x1="297.02" y1="849.4" x2="297.02" y2="852.8" stroke="#000" stroke-width="1"/>
<line x1="306.34" y1="849.4" x2="306.34" y2="852.8" stroke="#000" stroke-width="1"/>
<line x1="312.95" y1="849.4" x2="312.95" y2="852.8" stroke="#000" stroke-width="1"/>
<line x1="318.08" y1="849.4" x2="318.08" y2="852.8" stroke="#000" stroke-width="1"/>
<line x1="322.26" y1="849.4" x2="322.26" y2="852.8" stroke="#000" stroke-width="1"/>
<line x1="325.81" y1="849.4" x2="325.81" y2="852.8" stroke="#000" stroke-width="1"/>
<line x1="328.87" y1="849.4" x2="328.87" y2="852.8" stroke="#000" stroke-width="1"/>
<line x1="331.58" y1="849.4" x2="331.58" y2="852.8" stroke="#000" stroke-width="1"/>
<line x1="334" y1="849.4" x2="334" y2="855.9" stroke="#000" stroke-width="1.7"/>
<text transform="translate(83.6,888.5) scale(0.89,1)" font-size="15" text-anchor="middle" fill="#2a2a2a">10</text>
<text transform="translate(92.2,876.8) scale(0.89,1)" font-size="15" fill="#2a2a2a">0</text>
<text transform="translate(125,888.5) scale(0.89,1)" font-size="15" text-anchor="middle" fill="#2a2a2a">10</text>
<text transform="translate(133.6,876.8) scale(0.89,1)" font-size="15" fill="#2a2a2a">1</text>
<text transform="translate(176.6,888.5) scale(0.89,1)" font-size="15" text-anchor="middle" fill="#2a2a2a">10</text>
<text transform="translate(185.2,876.8) scale(0.89,1)" font-size="15" fill="#2a2a2a">2</text>
<text transform="translate(229.9,888.5) scale(0.89,1)" font-size="15" text-anchor="middle" fill="#2a2a2a">10</text>
<text transform="translate(238.5,876.8) scale(0.89,1)" font-size="15" fill="#2a2a2a">3</text>
<text transform="translate(283.3,888.5) scale(0.89,1)" font-size="15" text-anchor="middle" fill="#2a2a2a">10</text>
<text transform="translate(291.9,876.8) scale(0.89,1)" font-size="15" fill="#2a2a2a">4</text>
<text transform="translate(318.6,888.5) scale(0.89,1)" font-size="15" text-anchor="middle" fill="#2a2a2a">10</text>
<text transform="translate(327.2,876.8) scale(0.89,1)" font-size="15" fill="#2a2a2a">5</text>
<line x1="63.2" y1="619.4" x2="70.4" y2="619.4" stroke="#000" stroke-width="1.7"/>
<text transform="translate(59,630.2) scale(0.95,1)" font-size="14.9" text-anchor="end" fill="#2a2a2a">5.0K</text>
<line x1="63.2" y1="665" x2="70.4" y2="665" stroke="#000" stroke-width="1.7"/>
<text transform="translate(59,675.8) scale(0.95,1)" font-size="14.9" text-anchor="end" fill="#2a2a2a">4.0K</text>
<line x1="63.2" y1="710.6" x2="70.4" y2="710.6" stroke="#000" stroke-width="1.7"/>
<text transform="translate(59,721.4) scale(0.95,1)" font-size="14.9" text-anchor="end" fill="#2a2a2a">3.0K</text>
<line x1="63.2" y1="756" x2="70.4" y2="756" stroke="#000" stroke-width="1.7"/>
<text transform="translate(59,766.8) scale(0.95,1)" font-size="14.9" text-anchor="end" fill="#2a2a2a">2.0K</text>
<line x1="63.2" y1="801.7" x2="70.4" y2="801.7" stroke="#000" stroke-width="1.7"/>
<text transform="translate(59,812.5) scale(0.95,1)" font-size="14.9" text-anchor="end" fill="#2a2a2a">1.0K</text>
<line x1="63.2" y1="846.9" x2="70.4" y2="846.9" stroke="#000" stroke-width="1.7"/>
<text transform="translate(59,847.1) scale(0.95,1)" font-size="14.9" text-anchor="end" fill="#2a2a2a">0</text>
<line x1="66.8" y1="597.6" x2="70.4" y2="597.6" stroke="#000" stroke-width="1"/>
<line x1="66.8" y1="609" x2="70.4" y2="609" stroke="#000" stroke-width="1"/>
<line x1="66.8" y1="631.8" x2="70.4" y2="631.8" stroke="#000" stroke-width="1"/>
<line x1="66.8" y1="643.2" x2="70.4" y2="643.2" stroke="#000" stroke-width="1"/>
<line x1="66.8" y1="654.6" x2="70.4" y2="654.6" stroke="#000" stroke-width="1"/>
<line x1="66.8" y1="677.4" x2="70.4" y2="677.4" stroke="#000" stroke-width="1"/>
<line x1="66.8" y1="688.8" x2="70.4" y2="688.8" stroke="#000" stroke-width="1"/>
<line x1="66.8" y1="700.2" x2="70.4" y2="700.2" stroke="#000" stroke-width="1"/>
<line x1="66.8" y1="723" x2="70.4" y2="723" stroke="#000" stroke-width="1"/>
<line x1="66.8" y1="734.4" x2="70.4" y2="734.4" stroke="#000" stroke-width="1"/>
<line x1="66.8" y1="745.8" x2="70.4" y2="745.8" stroke="#000" stroke-width="1"/>
<line x1="66.8" y1="768.6" x2="70.4" y2="768.6" stroke="#000" stroke-width="1"/>
<line x1="66.8" y1="780" x2="70.4" y2="780" stroke="#000" stroke-width="1"/>
<line x1="66.8" y1="791.4" x2="70.4" y2="791.4" stroke="#000" stroke-width="1"/>
<line x1="66.8" y1="814.2" x2="70.4" y2="814.2" stroke="#000" stroke-width="1"/>
<line x1="66.8" y1="825.6" x2="70.4" y2="825.6" stroke="#000" stroke-width="1"/>
<line x1="66.8" y1="837" x2="70.4" y2="837" stroke="#000" stroke-width="1"/>
<text x="200.4" y="904.8" font-size="13.2" font-weight="bold" text-anchor="middle" letter-spacing="0.7">APC-CD14</text>
<text transform="translate(28,715.7) rotate(-90)" font-size="13.2" font-weight="bold" text-anchor="middle" letter-spacing="1">Count</text>
<line x1="202" y1="765.1" x2="335.2" y2="765.1" stroke="#000" stroke-width="1.7"/>
<line x1="202" y1="759.9" x2="202" y2="770.3" stroke="#000" stroke-width="1.8"/>
<line x1="334.6" y1="759.9" x2="334.6" y2="770.3" stroke="#000" stroke-width="1.6"/>
<text transform="translate(268.8,729.9) scale(0.9,1)" font-size="13.3" text-anchor="middle" fill="#111" letter-spacing="0.5">CD14+</text>
<text transform="translate(268.8,747.8) scale(0.9,1)" font-size="13.3" text-anchor="middle" fill="#111" letter-spacing="0.5">6.2</text>
<text x="201.9" y="567.9" font-size="28.5" font-weight="bold" text-anchor="middle">DMSO</text>
<path d="M469.6 847.3 L469.6 846.3 L474.3 844.5 L479.1 841.5 L482.7 837.3 L485.7 830.2 L487.5 827.8 L489.3 817 L491.3 808.7 L493.5 803.9 L495.8 787.2 L498.2 769.2 L500 757.3 L501.8 751.3 L503.6 733.4 L505.2 716.7 L506.6 709.5 L508.4 688 L510.2 666.5 L511.6 656.9 L513.2 637.8 L514.4 630.6 L515.6 621.1 L516.8 613.9 L517.6 621.1 L518.8 618.7 L520.3 603.1 L521.5 599 L522.4 622.3 L523.6 604.3 L524.5 605.5 L525.5 624.7 L526.9 625.8 L528.1 629.4 L529.3 642.6 L530.5 654.5 L530.9 658.1 L525.5 847.3 Z" fill="#d3d3d3"/>
<path d="M469.6 846.3 L474.3 844.5 L479.1 841.5 L482.7 837.3 L485.7 830.2 L487.5 827.8 L489.3 817 L491.3 808.7 L493.5 803.9 L495.8 787.2 L498.2 769.2 L500 757.3 L501.8 751.3 L503.6 733.4 L505.2 716.7 L506.6 709.5 L508.4 688 L510.2 666.5 L511.6 656.9 L513.2 637.8 L514.4 630.6 L515.6 621.1 L516.8 613.9 L517.6 621.1 L518.8 618.7 L520.3 603.1 L521.5 599 L522.4 622.3 L523.6 604.3 L524.5 605.5 L525.5 624.7 L526.9 625.8 L528.1 629.4 L529.3 642.6 L530.5 654.5 L530.9 658.1" fill="none" stroke="#909090" stroke-width="1.3" stroke-linejoin="round"/>
<path d="M525.5 846.9 L526.9 805.1 L527.8 757.3 L528.1 709.5 L528.7 673.6 L530.5 658.3 L531.7 662.9 L533.5 683.2 L535.3 695.1 L536.5 709.5 L538.3 731 L540.1 745.3 L541.8 763.3 L543.6 778.8 L546 795.5 L548.4 806.3 L550.8 817 L554.4 829 L558 837.3 L562.8 843.3 L567.5 845.9 L572.3 846.7 L572.3 847.3 Z" fill="#7fd1e8"/>
<path d="M525.5 846.9 L526.9 805.1 L527.8 757.3 L528.1 709.5 L528.7 673.6 L530.5 658.3 L531.7 662.9 L533.5 683.2 L535.3 695.1 L536.5 709.5 L538.3 731 L540.1 745.3 L541.8 763.3 L543.6 778.8 L546 795.5 L548.4 806.3 L550.8 817 L554.4 829 L558 837.3 L562.8 843.3 L567.5 845.9 L572.3 846.7" fill="none" stroke="#1ec2f4" stroke-width="1.6" stroke-linejoin="round"/>
<line x1="396.5" y1="846.9" x2="660.8" y2="846.9" stroke="#1ec2f4" stroke-width="1.5"/>
<rect x="396.5" y="584.7" width="264.3" height="263.2" fill="none" stroke="#000" stroke-width="1.2"/>
<line x1="395.9" y1="848.9" x2="661.4" y2="848.9" stroke="#000" stroke-width="2.2"/>
<line x1="396.9" y1="849.4" x2="396.9" y2="855.9" stroke="#000" stroke-width="1.7"/>
<line x1="412.31" y1="849.4" x2="412.31" y2="852.8" stroke="#000" stroke-width="1"/>
<line x1="421.33" y1="849.4" x2="421.33" y2="852.8" stroke="#000" stroke-width="1"/>
<line x1="427.73" y1="849.4" x2="427.73" y2="852.8" stroke="#000" stroke-width="1"/>
<line x1="432.69" y1="849.4" x2="432.69" y2="852.8" stroke="#000" stroke-width="1"/>
<line x1="436.74" y1="849.4" x2="436.74" y2="852.8" stroke="#000" stroke-width="1"/>
<line x1="440.17" y1="849.4" x2="440.17" y2="852.8" stroke="#000" stroke-width="1"/>
<line x1="443.14" y1="849.4" x2="443.14" y2="852.8" stroke="#000" stroke-width="1"/>
<line x1="445.76" y1="849.4" x2="445.76" y2="852.8" stroke="#000" stroke-width="1"/>
<line x1="448.1" y1="849.4" x2="448.1" y2="855.9" stroke="#000" stroke-width="1.7"/>
<line x1="464.05" y1="849.4" x2="464.05" y2="852.8" stroke="#000" stroke-width="1"/>
<line x1="473.39" y1="849.4" x2="473.39" y2="852.8" stroke="#000" stroke-width="1"/>
<line x1="480.01" y1="849.4" x2="480.01" y2="852.8" stroke="#000" stroke-width="1"/>
<line x1="485.15" y1="849.4" x2="485.15" y2="852.8" stroke="#000" stroke-width="1"/>
<line x1="489.34" y1="849.4" x2="489.34" y2="852.8" stroke="#000" stroke-width="1"/>
<line x1="492.89" y1="849.4" x2="492.89" y2="852.8" stroke="#000" stroke-width="1"/>
<line x1="495.96" y1="849.4" x2="495.96" y2="852.8" stroke="#000" stroke-width="1"/>
<line x1="498.67" y1="849.4" x2="498.67" y2="852.8" stroke="#000" stroke-width="1"/>
<line x1="501.1" y1="849.4" x2="501.1" y2="855.9" stroke="#000" stroke-width="1.7"/>
<line x1="517.14" y1="849.4" x2="517.14" y2="852.8" stroke="#000" stroke-width="1"/>
<line x1="526.53" y1="849.4" x2="526.53" y2="852.8" stroke="#000" stroke-width="1"/>
<line x1="533.19" y1="849.4" x2="533.19" y2="852.8" stroke="#000" stroke-width="1"/>
<line x1="538.36" y1="849.4" x2="538.36" y2="852.8" stroke="#000" stroke-width="1"/>
<line x1="542.58" y1="849.4" x2="542.58" y2="852.8" stroke="#000" stroke-width="1"/>
<line x1="546.14" y1="849.4" x2="546.14" y2="852.8" stroke="#000" stroke-width="1"/>
<line x1="549.23" y1="849.4" x2="549.23" y2="852.8" stroke="#000" stroke-width="1"/>
<line x1="551.96" y1="849.4" x2="551.96" y2="852.8" stroke="#000" stroke-width="1"/>
<line x1="554.4" y1="849.4" x2="554.4" y2="855.9" stroke="#000" stroke-width="1.7"/>
<line x1="569.96" y1="849.4" x2="569.96" y2="852.8" stroke="#000" stroke-width="1"/>
<line x1="579.07" y1="849.4" x2="579.07" y2="852.8" stroke="#000" stroke-width="1"/>
<line x1="585.53" y1="849.4" x2="585.53" y2="852.8" stroke="#000" stroke-width="1"/>
<line x1="590.54" y1="849.4" x2="590.54" y2="852.8" stroke="#000" stroke-width="1"/>
<line x1="594.63" y1="849.4" x2="594.63" y2="852.8" stroke="#000" stroke-width="1"/>
<line x1="598.09" y1="849.4" x2="598.09" y2="852.8" stroke="#000" stroke-width="1"/>
<line x1="601.09" y1="849.4" x2="601.09" y2="852.8" stroke="#000" stroke-width="1"/>
<line x1="603.73" y1="849.4" x2="603.73" y2="852.8" stroke="#000" stroke-width="1"/>
<line x1="606.1" y1="849.4" x2="606.1" y2="855.9" stroke="#000" stroke-width="1.7"/>
<line x1="622.02" y1="849.4" x2="622.02" y2="852.8" stroke="#000" stroke-width="1"/>
<line x1="631.34" y1="849.4" x2="631.34" y2="852.8" stroke="#000" stroke-width="1"/>
<line x1="637.95" y1="849.4" x2="637.95" y2="852.8" stroke="#000" stroke-width="1"/>
<line x1="643.08" y1="849.4" x2="643.08" y2="852.8" stroke="#000" stroke-width="1"/>
<line x1="647.26" y1="849.4" x2="647.26" y2="852.8" stroke="#000" stroke-width="1"/>
<line x1="650.81" y1="849.4" x2="650.81" y2="852.8" stroke="#000" stroke-width="1"/>
<line x1="653.87" y1="849.4" x2="653.87" y2="852.8" stroke="#000" stroke-width="1"/>
<line x1="656.58" y1="849.4" x2="656.58" y2="852.8" stroke="#000" stroke-width="1"/>
<line x1="659" y1="849.4" x2="659" y2="855.9" stroke="#000" stroke-width="1.7"/>
<text transform="translate(409.7,888.5) scale(0.89,1)" font-size="15" text-anchor="middle" fill="#2a2a2a">10</text>
<text transform="translate(418.3,876.8) scale(0.89,1)" font-size="15" fill="#2a2a2a">0</text>
<text transform="translate(450.3,888.5) scale(0.89,1)" font-size="15" text-anchor="middle" fill="#2a2a2a">10</text>
<text transform="translate(458.9,876.8) scale(0.89,1)" font-size="15" fill="#2a2a2a">1</text>
<text transform="translate(503.3,888.5) scale(0.89,1)" font-size="15" text-anchor="middle" fill="#2a2a2a">10</text>
<text transform="translate(511.9,876.8) scale(0.89,1)" font-size="15" fill="#2a2a2a">2</text>
<text transform="translate(556.6,888.5) scale(0.89,1)" font-size="15" text-anchor="middle" fill="#2a2a2a">10</text>
<text transform="translate(565.2,876.8) scale(0.89,1)" font-size="15" fill="#2a2a2a">3</text>
<text transform="translate(608.3,888.5) scale(0.89,1)" font-size="15" text-anchor="middle" fill="#2a2a2a">10</text>
<text transform="translate(616.9,876.8) scale(0.89,1)" font-size="15" fill="#2a2a2a">4</text>
<text transform="translate(643.6,888.5) scale(0.89,1)" font-size="15" text-anchor="middle" fill="#2a2a2a">10</text>
<text transform="translate(652.2,876.8) scale(0.89,1)" font-size="15" fill="#2a2a2a">5</text>
<line x1="389.3" y1="610.8" x2="396.5" y2="610.8" stroke="#000" stroke-width="1.7"/>
<text transform="translate(383.6,621.6) scale(0.95,1)" font-size="14.9" text-anchor="end" fill="#2a2a2a">3.0K</text>
<line x1="389.3" y1="689.4" x2="396.5" y2="689.4" stroke="#000" stroke-width="1.7"/>
<text transform="translate(383.6,700.2) scale(0.95,1)" font-size="14.9" text-anchor="end" fill="#2a2a2a">2.0K</text>
<line x1="389.3" y1="768.2" x2="396.5" y2="768.2" stroke="#000" stroke-width="1.7"/>
<text transform="translate(383.6,779) scale(0.95,1)" font-size="14.9" text-anchor="end" fill="#2a2a2a">1.0K</text>
<line x1="389.3" y1="846.9" x2="396.5" y2="846.9" stroke="#000" stroke-width="1.7"/>
<text transform="translate(383.6,847.1) scale(0.95,1)" font-size="14.9" text-anchor="end" fill="#2a2a2a">0</text>
<line x1="392.9" y1="592.12" x2="396.5" y2="592.12" stroke="#000" stroke-width="1"/>
<line x1="392.9" y1="631.48" x2="396.5" y2="631.48" stroke="#000" stroke-width="1"/>
<line x1="392.9" y1="651.16" x2="396.5" y2="651.16" stroke="#000" stroke-width="1"/>
<line x1="392.9" y1="670.84" x2="396.5" y2="670.84" stroke="#000" stroke-width="1"/>
<line x1="392.9" y1="710.2" x2="396.5" y2="710.2" stroke="#000" stroke-width="1"/>
<line x1="392.9" y1="729.88" x2="396.5" y2="729.88" stroke="#000" stroke-width="1"/>
<line x1="392.9" y1="749.56" x2="396.5" y2="749.56" stroke="#000" stroke-width="1"/>
<line x1="392.9" y1="788.92" x2="396.5" y2="788.92" stroke="#000" stroke-width="1"/>
<line x1="392.9" y1="808.6" x2="396.5" y2="808.6" stroke="#000" stroke-width="1"/>
<line x1="392.9" y1="828.28" x2="396.5" y2="828.28" stroke="#000" stroke-width="1"/>
<text x="526.25" y="904.8" font-size="13.2" font-weight="bold" text-anchor="middle" letter-spacing="0.7">APC-CD14</text>
<text transform="translate(353.6,715.7) rotate(-90)" font-size="13.2" font-weight="bold" text-anchor="middle" letter-spacing="1">Count</text>
<line x1="527.6" y1="765.1" x2="660.8" y2="765.1" stroke="#000" stroke-width="1.7"/>
<line x1="527.6" y1="759.9" x2="527.6" y2="770.3" stroke="#000" stroke-width="1.8"/>
<line x1="660.2" y1="759.9" x2="660.2" y2="770.3" stroke="#000" stroke-width="1.6"/>
<text transform="translate(594.2,729.9) scale(0.9,1)" font-size="13.3" text-anchor="middle" fill="#111" letter-spacing="0.5">CD14+</text>
<text transform="translate(594.2,747.8) scale(0.9,1)" font-size="13.3" text-anchor="middle" fill="#111" letter-spacing="0.5">30.5</text>
<text x="529" y="567.9" font-size="28.5" font-weight="bold" text-anchor="middle">PMA</text>
<path d="M792.3 847.3 L792.3 846.8 L797.6 844.1 L801.7 841.2 L804.6 835.4 L807 827.1 L808.7 817.8 L810.7 800.2 L812.2 782.6 L813.1 775.6 L814 777.3 L814.9 759.1 L816.1 735.7 L817.5 712.2 L819.3 694.7 L820.5 682.9 L821.6 675.9 L822.4 660.7 L823.1 634.9 L823.9 661.8 L824.8 633.7 L825.5 660.7 L826.3 633.7 L827.1 636 L827.8 624.3 L828.7 610.2 L829.2 630.2 L830.2 646.6 L830.7 645.4 L831.4 665.3 L831.8 681.8 L833.3 682.9 L834.2 700.5 L835.1 718.1 L836.3 735.7 L837.7 753.3 L839.2 770.9 L841 788.5 L842.7 802.5 L845.1 814.3 L848 821.3 L851.5 824.2 L855 823.6 L856.8 823 L852.9 847.3 Z" fill="#d3d3d3"/>
<path d="M792.3 846.8 L797.6 844.1 L801.7 841.2 L804.6 835.4 L807 827.1 L808.7 817.8 L810.7 800.2 L812.2 782.6 L813.1 775.6 L814 777.3 L814.9 759.1 L816.1 735.7 L817.5 712.2 L819.3 694.7 L820.5 682.9 L821.6 675.9 L822.4 660.7 L823.1 634.9 L823.9 661.8 L824.8 633.7 L825.5 660.7 L826.3 633.7 L827.1 636 L827.8 624.3 L828.7 610.2 L829.2 630.2 L830.2 646.6 L830.7 645.4 L831.4 665.3 L831.8 681.8 L833.3 682.9 L834.2 700.5 L835.1 718.1 L836.3 735.7 L837.7 753.3 L839.2 770.9 L841 788.5 L842.7 802.5 L845.1 814.3 L848 821.3 L851.5 824.2 L855 823.6 L856.8 823" fill="none" stroke="#909090" stroke-width="1.3" stroke-linejoin="round"/>
<path d="M852.9 847.1 L855 835.4 L856.2 824.8 L858 821.3 L860.9 818.4 L863.2 816.6 L865.6 817.2 L867.9 816 L870 814.3 L872 816.6 L874.4 817.2 L876.7 821.3 L879.1 826 L882 831.8 L885.5 837.1 L889 839.5 L892.6 841.2 L897.2 844.1 L903.1 846.1 L909 846.8 L909 847.3 Z" fill="#7fd1e8"/>
<path d="M852.9 847.1 L855 835.4 L856.2 824.8 L858 821.3 L860.9 818.4 L863.2 816.6 L865.6 817.2 L867.9 816 L870 814.3 L872 816.6 L874.4 817.2 L876.7 821.3 L879.1 826 L882 831.8 L885.5 837.1 L889 839.5 L892.6 841.2 L897.2 844.1 L903.1 846.1 L909 846.8" fill="none" stroke="#1ec2f4" stroke-width="1.6" stroke-linejoin="round"/>
<line x1="723.6" y1="846.9" x2="988.6" y2="846.9" stroke="#1ec2f4" stroke-width="1.5"/>
<rect x="723.6" y="584.7" width="265" height="263.2" fill="none" stroke="#000" stroke-width="1.2"/>
<line x1="723" y1="848.9" x2="989.2" y2="848.9" stroke="#000" stroke-width="2.2"/>
<line x1="723.9" y1="849.4" x2="723.9" y2="855.9" stroke="#000" stroke-width="1.7"/>
<line x1="739.55" y1="849.4" x2="739.55" y2="852.8" stroke="#000" stroke-width="1"/>
<line x1="748.71" y1="849.4" x2="748.71" y2="852.8" stroke="#000" stroke-width="1"/>
<line x1="755.21" y1="849.4" x2="755.21" y2="852.8" stroke="#000" stroke-width="1"/>
<line x1="760.25" y1="849.4" x2="760.25" y2="852.8" stroke="#000" stroke-width="1"/>
<line x1="764.36" y1="849.4" x2="764.36" y2="852.8" stroke="#000" stroke-width="1"/>
<line x1="767.85" y1="849.4" x2="767.85" y2="852.8" stroke="#000" stroke-width="1"/>
<line x1="770.86" y1="849.4" x2="770.86" y2="852.8" stroke="#000" stroke-width="1"/>
<line x1="773.52" y1="849.4" x2="773.52" y2="852.8" stroke="#000" stroke-width="1"/>
<line x1="775.9" y1="849.4" x2="775.9" y2="855.9" stroke="#000" stroke-width="1.7"/>
<line x1="791.64" y1="849.4" x2="791.64" y2="852.8" stroke="#000" stroke-width="1"/>
<line x1="800.85" y1="849.4" x2="800.85" y2="852.8" stroke="#000" stroke-width="1"/>
<line x1="807.39" y1="849.4" x2="807.39" y2="852.8" stroke="#000" stroke-width="1"/>
<line x1="812.46" y1="849.4" x2="812.46" y2="852.8" stroke="#000" stroke-width="1"/>
<line x1="816.6" y1="849.4" x2="816.6" y2="852.8" stroke="#000" stroke-width="1"/>
<line x1="820.1" y1="849.4" x2="820.1" y2="852.8" stroke="#000" stroke-width="1"/>
<line x1="823.13" y1="849.4" x2="823.13" y2="852.8" stroke="#000" stroke-width="1"/>
<line x1="825.81" y1="849.4" x2="825.81" y2="852.8" stroke="#000" stroke-width="1"/>
<line x1="828.2" y1="849.4" x2="828.2" y2="855.9" stroke="#000" stroke-width="1.7"/>
<line x1="844.15" y1="849.4" x2="844.15" y2="852.8" stroke="#000" stroke-width="1"/>
<line x1="853.49" y1="849.4" x2="853.49" y2="852.8" stroke="#000" stroke-width="1"/>
<line x1="860.11" y1="849.4" x2="860.11" y2="852.8" stroke="#000" stroke-width="1"/>
<line x1="865.25" y1="849.4" x2="865.25" y2="852.8" stroke="#000" stroke-width="1"/>
<line x1="869.44" y1="849.4" x2="869.44" y2="852.8" stroke="#000" stroke-width="1"/>
<line x1="872.99" y1="849.4" x2="872.99" y2="852.8" stroke="#000" stroke-width="1"/>
<line x1="876.06" y1="849.4" x2="876.06" y2="852.8" stroke="#000" stroke-width="1"/>
<line x1="878.77" y1="849.4" x2="878.77" y2="852.8" stroke="#000" stroke-width="1"/>
<line x1="881.2" y1="849.4" x2="881.2" y2="855.9" stroke="#000" stroke-width="1.7"/>
<line x1="897.12" y1="849.4" x2="897.12" y2="852.8" stroke="#000" stroke-width="1"/>
<line x1="906.44" y1="849.4" x2="906.44" y2="852.8" stroke="#000" stroke-width="1"/>
<line x1="913.05" y1="849.4" x2="913.05" y2="852.8" stroke="#000" stroke-width="1"/>
<line x1="918.18" y1="849.4" x2="918.18" y2="852.8" stroke="#000" stroke-width="1"/>
<line x1="922.36" y1="849.4" x2="922.36" y2="852.8" stroke="#000" stroke-width="1"/>
<line x1="925.91" y1="849.4" x2="925.91" y2="852.8" stroke="#000" stroke-width="1"/>
<line x1="928.97" y1="849.4" x2="928.97" y2="852.8" stroke="#000" stroke-width="1"/>
<line x1="931.68" y1="849.4" x2="931.68" y2="852.8" stroke="#000" stroke-width="1"/>
<line x1="934.1" y1="849.4" x2="934.1" y2="855.9" stroke="#000" stroke-width="1.7"/>
<line x1="949.99" y1="849.4" x2="949.99" y2="852.8" stroke="#000" stroke-width="1"/>
<line x1="959.29" y1="849.4" x2="959.29" y2="852.8" stroke="#000" stroke-width="1"/>
<line x1="965.89" y1="849.4" x2="965.89" y2="852.8" stroke="#000" stroke-width="1"/>
<line x1="971.01" y1="849.4" x2="971.01" y2="852.8" stroke="#000" stroke-width="1"/>
<line x1="975.19" y1="849.4" x2="975.19" y2="852.8" stroke="#000" stroke-width="1"/>
<line x1="978.72" y1="849.4" x2="978.72" y2="852.8" stroke="#000" stroke-width="1"/>
<line x1="981.78" y1="849.4" x2="981.78" y2="852.8" stroke="#000" stroke-width="1"/>
<line x1="984.48" y1="849.4" x2="984.48" y2="852.8" stroke="#000" stroke-width="1"/>
<line x1="986.9" y1="849.4" x2="986.9" y2="855.9" stroke="#000" stroke-width="1.7"/>
<text transform="translate(736.7,888.5) scale(0.89,1)" font-size="15" text-anchor="middle" fill="#2a2a2a">10</text>
<text transform="translate(745.3,876.8) scale(0.89,1)" font-size="15" fill="#2a2a2a">0</text>
<text transform="translate(778.1,888.5) scale(0.89,1)" font-size="15" text-anchor="middle" fill="#2a2a2a">10</text>
<text transform="translate(786.7,876.8) scale(0.89,1)" font-size="15" fill="#2a2a2a">1</text>
<text transform="translate(830.4,888.5) scale(0.89,1)" font-size="15" text-anchor="middle" fill="#2a2a2a">10</text>
<text transform="translate(839,876.8) scale(0.89,1)" font-size="15" fill="#2a2a2a">2</text>
<text transform="translate(883.4,888.5) scale(0.89,1)" font-size="15" text-anchor="middle" fill="#2a2a2a">10</text>
<text transform="translate(892,876.8) scale(0.89,1)" font-size="15" fill="#2a2a2a">3</text>
<text transform="translate(936.3,888.5) scale(0.89,1)" font-size="15" text-anchor="middle" fill="#2a2a2a">10</text>
<text transform="translate(944.9,876.8) scale(0.89,1)" font-size="15" fill="#2a2a2a">4</text>
<text transform="translate(971.5,888.5) scale(0.89,1)" font-size="15" text-anchor="middle" fill="#2a2a2a">10</text>
<text transform="translate(980.1,876.8) scale(0.89,1)" font-size="15" fill="#2a2a2a">5</text>
<line x1="716.4" y1="624.6" x2="723.6" y2="624.6" stroke="#000" stroke-width="1.7"/>
<text transform="translate(712.4,635.4) scale(0.95,1)" font-size="14.9" text-anchor="end" fill="#2a2a2a">4.0K</text>
<line x1="716.4" y1="680.1" x2="723.6" y2="680.1" stroke="#000" stroke-width="1.7"/>
<text transform="translate(712.4,690.9) scale(0.95,1)" font-size="14.9" text-anchor="end" fill="#2a2a2a">3.0K</text>
<line x1="716.4" y1="735.7" x2="723.6" y2="735.7" stroke="#000" stroke-width="1.7"/>
<text transform="translate(712.4,746.5) scale(0.95,1)" font-size="14.9" text-anchor="end" fill="#2a2a2a">2.0K</text>
<line x1="716.4" y1="791.4" x2="723.6" y2="791.4" stroke="#000" stroke-width="1.7"/>
<text transform="translate(712.4,802.2) scale(0.95,1)" font-size="14.9" text-anchor="end" fill="#2a2a2a">1.0K</text>
<line x1="716.4" y1="846.9" x2="723.6" y2="846.9" stroke="#000" stroke-width="1.7"/>
<text transform="translate(712.4,847.1) scale(0.95,1)" font-size="14.9" text-anchor="end" fill="#2a2a2a">0</text>
<line x1="720" y1="597.8" x2="723.6" y2="597.8" stroke="#000" stroke-width="1"/>
<line x1="720" y1="611.7" x2="723.6" y2="611.7" stroke="#000" stroke-width="1"/>
<line x1="720" y1="639.5" x2="723.6" y2="639.5" stroke="#000" stroke-width="1"/>
<line x1="720" y1="653.4" x2="723.6" y2="653.4" stroke="#000" stroke-width="1"/>
<line x1="720" y1="667.3" x2="723.6" y2="667.3" stroke="#000" stroke-width="1"/>
<line x1="720" y1="695.1" x2="723.6" y2="695.1" stroke="#000" stroke-width="1"/>
<line x1="720" y1="709" x2="723.6" y2="709" stroke="#000" stroke-width="1"/>
<line x1="720" y1="722.9" x2="723.6" y2="722.9" stroke="#000" stroke-width="1"/>
<line x1="720" y1="750.7" x2="723.6" y2="750.7" stroke="#000" stroke-width="1"/>
<line x1="720" y1="764.6" x2="723.6" y2="764.6" stroke="#000" stroke-width="1"/>
<line x1="720" y1="778.5" x2="723.6" y2="778.5" stroke="#000" stroke-width="1"/>
<line x1="720" y1="806.3" x2="723.6" y2="806.3" stroke="#000" stroke-width="1"/>
<line x1="720" y1="820.2" x2="723.6" y2="820.2" stroke="#000" stroke-width="1"/>
<line x1="720" y1="834.1" x2="723.6" y2="834.1" stroke="#000" stroke-width="1"/>
<text x="853.7" y="904.8" font-size="13.2" font-weight="bold" text-anchor="middle" letter-spacing="0.7">APC-CD14</text>
<text transform="translate(681.4,715.7) rotate(-90)" font-size="13.2" font-weight="bold" text-anchor="middle" letter-spacing="1">Count</text>
<line x1="855" y1="765.1" x2="988.6" y2="765.1" stroke="#000" stroke-width="1.7"/>
<line x1="855" y1="759.9" x2="855" y2="770.3" stroke="#000" stroke-width="1.8"/>
<line x1="988" y1="759.9" x2="988" y2="770.3" stroke="#000" stroke-width="1.6"/>
<text transform="translate(921.6,729.9) scale(0.9,1)" font-size="13.3" text-anchor="middle" fill="#111" letter-spacing="0.5">CD14+</text>
<text transform="translate(921.6,747.8) scale(0.9,1)" font-size="13.3" text-anchor="middle" fill="#111" letter-spacing="0.5">16.0</text>
<text x="856.8" y="567.9" font-size="28.5" font-weight="bold" text-anchor="middle">DMSO</text>
<path d="M1130.2 847.3 L1130.2 846.4 L1135.5 845.1 L1139.7 842.1 L1143.3 836.1 L1146.3 827.8 L1149.3 814.6 L1151.7 805.1 L1153.7 793.1 L1155.8 781.2 L1157.6 775.2 L1159.4 763.3 L1161.2 751.3 L1163 739.4 L1165.4 733.4 L1166 726.2 L1167.8 714.3 L1169.6 699.9 L1171.6 692.8 L1173.2 680.8 L1174.7 667.7 L1176.2 649.7 L1177.4 637.8 L1178.5 633 L1179.7 619.9 L1181.5 618.1 L1182.7 610.3 L1183.9 603.1 L1185.1 600.8 L1185.7 601.4 L1181.2 847.3 Z" fill="#d3d3d3"/>
<path d="M1130.2 846.4 L1135.5 845.1 L1139.7 842.1 L1143.3 836.1 L1146.3 827.8 L1149.3 814.6 L1151.7 805.1 L1153.7 793.1 L1155.8 781.2 L1157.6 775.2 L1159.4 763.3 L1161.2 751.3 L1163 739.4 L1165.4 733.4 L1166 726.2 L1167.8 714.3 L1169.6 699.9 L1171.6 692.8 L1173.2 680.8 L1174.7 667.7 L1176.2 649.7 L1177.4 637.8 L1178.5 633 L1179.7 619.9 L1181.5 618.1 L1182.7 610.3 L1183.9 603.1 L1185.1 600.8 L1185.7 601.4" fill="none" stroke="#909090" stroke-width="1.3" stroke-linejoin="round"/>
<path d="M1181.2 846.9 L1182.7 817 L1183.3 763.3 L1183.9 709.5 L1184.5 649.7 L1185.1 613.9 L1185.7 601.4 L1187.2 596 L1188.1 600.2 L1189.1 598.4 L1190.3 595.7 L1191.5 603.1 L1192.3 601.9 L1193.1 617.5 L1194.7 616.3 L1195.5 631.8 L1197.1 633 L1198.3 652.1 L1199.5 666.5 L1200.7 680.8 L1201.8 697.5 L1203 711.9 L1204.2 727.4 L1205.4 745.3 L1206.6 759.7 L1207.8 776.4 L1209.4 793.1 L1210.8 805.1 L1213.2 819.4 L1215.6 827.8 L1219.2 836.1 L1224 842.1 L1228.7 845.1 L1235.9 846.5 L1235.9 847.3 Z" fill="#7fd1e8"/>
<path d="M1181.2 846.9 L1182.7 817 L1183.3 763.3 L1183.9 709.5 L1184.5 649.7 L1185.1 613.9 L1185.7 601.4 L1187.2 596 L1188.1 600.2 L1189.1 598.4 L1190.3 595.7 L1191.5 603.1 L1192.3 601.9 L1193.1 617.5 L1194.7 616.3 L1195.5 631.8 L1197.1 633 L1198.3 652.1 L1199.5 666.5 L1200.7 680.8 L1201.8 697.5 L1203 711.9 L1204.2 727.4 L1205.4 745.3 L1206.6 759.7 L1207.8 776.4 L1209.4 793.1 L1210.8 805.1 L1213.2 819.4 L1215.6 827.8 L1219.2 836.1 L1224 842.1 L1228.7 845.1 L1235.9 846.5" fill="none" stroke="#1ec2f4" stroke-width="1.6" stroke-linejoin="round"/>
<line x1="1052.5" y1="846.9" x2="1316.4" y2="846.9" stroke="#1ec2f4" stroke-width="1.5"/>
<rect x="1052.5" y="584.7" width="263.9" height="263.2" fill="none" stroke="#000" stroke-width="1.2"/>
<line x1="1051.9" y1="848.9" x2="1317" y2="848.9" stroke="#000" stroke-width="2.2"/>
<line x1="1053" y1="849.4" x2="1053" y2="855.9" stroke="#000" stroke-width="1.7"/>
<line x1="1068.47" y1="849.4" x2="1068.47" y2="852.8" stroke="#000" stroke-width="1"/>
<line x1="1077.52" y1="849.4" x2="1077.52" y2="852.8" stroke="#000" stroke-width="1"/>
<line x1="1083.95" y1="849.4" x2="1083.95" y2="852.8" stroke="#000" stroke-width="1"/>
<line x1="1088.93" y1="849.4" x2="1088.93" y2="852.8" stroke="#000" stroke-width="1"/>
<line x1="1093" y1="849.4" x2="1093" y2="852.8" stroke="#000" stroke-width="1"/>
<line x1="1096.44" y1="849.4" x2="1096.44" y2="852.8" stroke="#000" stroke-width="1"/>
<line x1="1099.42" y1="849.4" x2="1099.42" y2="852.8" stroke="#000" stroke-width="1"/>
<line x1="1102.05" y1="849.4" x2="1102.05" y2="852.8" stroke="#000" stroke-width="1"/>
<line x1="1104.4" y1="849.4" x2="1104.4" y2="855.9" stroke="#000" stroke-width="1.7"/>
<line x1="1120.14" y1="849.4" x2="1120.14" y2="852.8" stroke="#000" stroke-width="1"/>
<line x1="1129.35" y1="849.4" x2="1129.35" y2="852.8" stroke="#000" stroke-width="1"/>
<line x1="1135.89" y1="849.4" x2="1135.89" y2="852.8" stroke="#000" stroke-width="1"/>
<line x1="1140.96" y1="849.4" x2="1140.96" y2="852.8" stroke="#000" stroke-width="1"/>
<line x1="1145.1" y1="849.4" x2="1145.1" y2="852.8" stroke="#000" stroke-width="1"/>
<line x1="1148.6" y1="849.4" x2="1148.6" y2="852.8" stroke="#000" stroke-width="1"/>
<line x1="1151.63" y1="849.4" x2="1151.63" y2="852.8" stroke="#000" stroke-width="1"/>
<line x1="1154.31" y1="849.4" x2="1154.31" y2="852.8" stroke="#000" stroke-width="1"/>
<line x1="1156.7" y1="849.4" x2="1156.7" y2="855.9" stroke="#000" stroke-width="1.7"/>
<line x1="1172.65" y1="849.4" x2="1172.65" y2="852.8" stroke="#000" stroke-width="1"/>
<line x1="1181.99" y1="849.4" x2="1181.99" y2="852.8" stroke="#000" stroke-width="1"/>
<line x1="1188.61" y1="849.4" x2="1188.61" y2="852.8" stroke="#000" stroke-width="1"/>
<line x1="1193.75" y1="849.4" x2="1193.75" y2="852.8" stroke="#000" stroke-width="1"/>
<line x1="1197.94" y1="849.4" x2="1197.94" y2="852.8" stroke="#000" stroke-width="1"/>
<line x1="1201.49" y1="849.4" x2="1201.49" y2="852.8" stroke="#000" stroke-width="1"/>
<line x1="1204.56" y1="849.4" x2="1204.56" y2="852.8" stroke="#000" stroke-width="1"/>
<line x1="1207.27" y1="849.4" x2="1207.27" y2="852.8" stroke="#000" stroke-width="1"/>
<line x1="1209.7" y1="849.4" x2="1209.7" y2="855.9" stroke="#000" stroke-width="1.7"/>
<line x1="1225.56" y1="849.4" x2="1225.56" y2="852.8" stroke="#000" stroke-width="1"/>
<line x1="1234.84" y1="849.4" x2="1234.84" y2="852.8" stroke="#000" stroke-width="1"/>
<line x1="1241.43" y1="849.4" x2="1241.43" y2="852.8" stroke="#000" stroke-width="1"/>
<line x1="1246.54" y1="849.4" x2="1246.54" y2="852.8" stroke="#000" stroke-width="1"/>
<line x1="1250.71" y1="849.4" x2="1250.71" y2="852.8" stroke="#000" stroke-width="1"/>
<line x1="1254.24" y1="849.4" x2="1254.24" y2="852.8" stroke="#000" stroke-width="1"/>
<line x1="1257.29" y1="849.4" x2="1257.29" y2="852.8" stroke="#000" stroke-width="1"/>
<line x1="1259.99" y1="849.4" x2="1259.99" y2="852.8" stroke="#000" stroke-width="1"/>
<line x1="1262.4" y1="849.4" x2="1262.4" y2="855.9" stroke="#000" stroke-width="1.7"/>
<line x1="1278.26" y1="849.4" x2="1278.26" y2="852.8" stroke="#000" stroke-width="1"/>
<line x1="1287.54" y1="849.4" x2="1287.54" y2="852.8" stroke="#000" stroke-width="1"/>
<line x1="1294.13" y1="849.4" x2="1294.13" y2="852.8" stroke="#000" stroke-width="1"/>
<line x1="1299.24" y1="849.4" x2="1299.24" y2="852.8" stroke="#000" stroke-width="1"/>
<line x1="1303.41" y1="849.4" x2="1303.41" y2="852.8" stroke="#000" stroke-width="1"/>
<line x1="1306.94" y1="849.4" x2="1306.94" y2="852.8" stroke="#000" stroke-width="1"/>
<line x1="1309.99" y1="849.4" x2="1309.99" y2="852.8" stroke="#000" stroke-width="1"/>
<line x1="1312.69" y1="849.4" x2="1312.69" y2="852.8" stroke="#000" stroke-width="1"/>
<line x1="1315.1" y1="849.4" x2="1315.1" y2="855.9" stroke="#000" stroke-width="1.7"/>
<text transform="translate(1065.8,888.5) scale(0.89,1)" font-size="15" text-anchor="middle" fill="#2a2a2a">10</text>
<text transform="translate(1074.4,876.8) scale(0.89,1)" font-size="15" fill="#2a2a2a">0</text>
<text transform="translate(1106.6,888.5) scale(0.89,1)" font-size="15" text-anchor="middle" fill="#2a2a2a">10</text>
<text transform="translate(1115.2,876.8) scale(0.89,1)" font-size="15" fill="#2a2a2a">1</text>
<text transform="translate(1158.9,888.5) scale(0.89,1)" font-size="15" text-anchor="middle" fill="#2a2a2a">10</text>
<text transform="translate(1167.5,876.8) scale(0.89,1)" font-size="15" fill="#2a2a2a">2</text>
<text transform="translate(1211.9,888.5) scale(0.89,1)" font-size="15" text-anchor="middle" fill="#2a2a2a">10</text>
<text transform="translate(1220.5,876.8) scale(0.89,1)" font-size="15" fill="#2a2a2a">3</text>
<text transform="translate(1264.6,888.5) scale(0.89,1)" font-size="15" text-anchor="middle" fill="#2a2a2a">10</text>
<text transform="translate(1273.2,876.8) scale(0.89,1)" font-size="15" fill="#2a2a2a">4</text>
<text transform="translate(1299.7,888.5) scale(0.89,1)" font-size="15" text-anchor="middle" fill="#2a2a2a">10</text>
<text transform="translate(1308.3,876.8) scale(0.89,1)" font-size="15" fill="#2a2a2a">5</text>
<line x1="1045.3" y1="614.1" x2="1052.5" y2="614.1" stroke="#000" stroke-width="1.7"/>
<text transform="translate(1039.8,624.9) scale(0.95,1)" font-size="14.9" text-anchor="end" fill="#2a2a2a">1.2K</text>
<line x1="1045.3" y1="672.3" x2="1052.5" y2="672.3" stroke="#000" stroke-width="1.7"/>
<text transform="translate(1039.8,683.1) scale(0.95,1)" font-size="14.9" text-anchor="end" fill="#2a2a2a">900</text>
<line x1="1045.3" y1="730.6" x2="1052.5" y2="730.6" stroke="#000" stroke-width="1.7"/>
<text transform="translate(1039.8,741.4) scale(0.95,1)" font-size="14.9" text-anchor="end" fill="#2a2a2a">600</text>
<line x1="1045.3" y1="788.8" x2="1052.5" y2="788.8" stroke="#000" stroke-width="1.7"/>
<text transform="translate(1039.8,799.6) scale(0.95,1)" font-size="14.9" text-anchor="end" fill="#2a2a2a">300</text>
<line x1="1045.3" y1="846.9" x2="1052.5" y2="846.9" stroke="#000" stroke-width="1.7"/>
<text transform="translate(1039.8,847.1) scale(0.95,1)" font-size="14.9" text-anchor="end" fill="#2a2a2a">0</text>
<line x1="1048.9" y1="595.7" x2="1052.5" y2="595.7" stroke="#000" stroke-width="1"/>
<line x1="1048.9" y1="634.5" x2="1052.5" y2="634.5" stroke="#000" stroke-width="1"/>
<line x1="1048.9" y1="653.9" x2="1052.5" y2="653.9" stroke="#000" stroke-width="1"/>
<line x1="1048.9" y1="692.7" x2="1052.5" y2="692.7" stroke="#000" stroke-width="1"/>
<line x1="1048.9" y1="712.1" x2="1052.5" y2="712.1" stroke="#000" stroke-width="1"/>
<line x1="1048.9" y1="750.9" x2="1052.5" y2="750.9" stroke="#000" stroke-width="1"/>
<line x1="1048.9" y1="770.3" x2="1052.5" y2="770.3" stroke="#000" stroke-width="1"/>
<line x1="1048.9" y1="809.1" x2="1052.5" y2="809.1" stroke="#000" stroke-width="1"/>
<line x1="1048.9" y1="828.5" x2="1052.5" y2="828.5" stroke="#000" stroke-width="1"/>
<text x="1182.05" y="904.8" font-size="13.2" font-weight="bold" text-anchor="middle" letter-spacing="0.7">APC-CD14</text>
<text transform="translate(1009.8,715.7) rotate(-90)" font-size="13.2" font-weight="bold" text-anchor="middle" letter-spacing="1">Count</text>
<line x1="1183.6" y1="765.1" x2="1316.4" y2="765.1" stroke="#000" stroke-width="1.7"/>
<line x1="1183.6" y1="759.9" x2="1183.6" y2="770.3" stroke="#000" stroke-width="1.8"/>
<line x1="1315.8" y1="759.9" x2="1315.8" y2="770.3" stroke="#000" stroke-width="1.6"/>
<text transform="translate(1250.5,729.9) scale(0.9,1)" font-size="13.3" text-anchor="middle" fill="#111" letter-spacing="0.5">CD14+</text>
<text transform="translate(1250.5,747.8) scale(0.9,1)" font-size="13.3" text-anchor="middle" fill="#111" letter-spacing="0.5">50.6</text>
<text x="1183.5" y="567.9" font-size="28.5" font-weight="bold" text-anchor="middle">PMA</text>
<line x1="86" y1="917" x2="645.6" y2="917" stroke="#000" stroke-width="4"/>
<line x1="736.7" y1="917" x2="1296.2" y2="917" stroke="#000" stroke-width="4"/>
<text x="365.8" y="949.8" font-size="28.2" font-weight="bold" text-anchor="middle">shNC</text>
<text x="1016.5" y="949.8" font-size="28.2" font-weight="bold" text-anchor="middle">shDNMT1</text>
<path d="M141.1 1372.6 L141.1 1371.9 L144.1 1371 L147.6 1370.1 L150.5 1367.5 L153.4 1361.6 L155.8 1354.6 L157.5 1345.2 L159.1 1331.1 L159.9 1318.3 L160.7 1315.9 L161.6 1307.7 L162.8 1286.6 L164 1260.8 L165.2 1239.7 L166.6 1223.3 L168.1 1209.3 L169.3 1195.2 L169.8 1178.8 L170.2 1162.4 L171 1178.8 L171.6 1195.2 L172.4 1181.1 L173.4 1158.9 L174.3 1131.3 L175.1 1153 L175.9 1170.6 L176.5 1168.2 L177.1 1190.5 L177.8 1211.6 L178.6 1206.9 L179.8 1212.8 L180.6 1225.7 L181.6 1243.3 L182.7 1260.8 L184.1 1284.3 L185.7 1303 L187.4 1321.8 L189.2 1334.7 L190.9 1344 L193.3 1351.7 L195.6 1354 L198 1356.3 L199.7 1358.5 L201.5 1357.5 L203.2 1358.1 L204.1 1359.5 L200.3 1372.6 Z" fill="#d3d3d3"/>
<path d="M141.1 1371.9 L144.1 1371 L147.6 1370.1 L150.5 1367.5 L153.4 1361.6 L155.8 1354.6 L157.5 1345.2 L159.1 1331.1 L159.9 1318.3 L160.7 1315.9 L161.6 1307.7 L162.8 1286.6 L164 1260.8 L165.2 1239.7 L166.6 1223.3 L168.1 1209.3 L169.3 1195.2 L169.8 1178.8 L170.2 1162.4 L171 1178.8 L171.6 1195.2 L172.4 1181.1 L173.4 1158.9 L174.3 1131.3 L175.1 1153 L175.9 1170.6 L176.5 1168.2 L177.1 1190.5 L177.8 1211.6 L178.6 1206.9 L179.8 1212.8 L180.6 1225.7 L181.6 1243.3 L182.7 1260.8 L184.1 1284.3 L185.7 1303 L187.4 1321.8 L189.2 1334.7 L190.9 1344 L193.3 1351.7 L195.6 1354 L198 1356.3 L199.7 1358.5 L201.5 1357.5 L203.2 1358.1 L204.1 1359.5" fill="none" stroke="#909090" stroke-width="1.3" stroke-linejoin="round"/>
<path d="M200.3 1372.2 L202.1 1366.3 L204.1 1359.5 L206.8 1360.1 L209.7 1360.4 L214.4 1362.8 L219.1 1364.5 L223.8 1366.9 L228.4 1369.2 L233.1 1371 L240.2 1371.9 L240.2 1372.6 Z" fill="#ecc7a4"/>
<path d="M200.3 1372.2 L202.1 1366.3 L204.1 1359.5 L206.8 1360.1 L209.7 1360.4 L214.4 1362.8 L219.1 1364.5 L223.8 1366.9 L228.4 1369.2 L233.1 1371 L240.2 1371.9" fill="none" stroke="#f5a24c" stroke-width="1.6" stroke-linejoin="round"/>
<line x1="70.4" y1="1372.2" x2="335.2" y2="1372.2" stroke="#f5a24c" stroke-width="1.5"/>
<rect x="70.4" y="1110" width="264.8" height="263.2" fill="none" stroke="#000" stroke-width="1.2"/>
<line x1="69.8" y1="1374.2" x2="335.8" y2="1374.2" stroke="#000" stroke-width="2.2"/>
<line x1="70.8" y1="1374.7" x2="70.8" y2="1381.2" stroke="#000" stroke-width="1.7"/>
<line x1="86.45" y1="1374.7" x2="86.45" y2="1378.1" stroke="#000" stroke-width="1"/>
<line x1="95.61" y1="1374.7" x2="95.61" y2="1378.1" stroke="#000" stroke-width="1"/>
<line x1="102.11" y1="1374.7" x2="102.11" y2="1378.1" stroke="#000" stroke-width="1"/>
<line x1="107.15" y1="1374.7" x2="107.15" y2="1378.1" stroke="#000" stroke-width="1"/>
<line x1="111.26" y1="1374.7" x2="111.26" y2="1378.1" stroke="#000" stroke-width="1"/>
<line x1="114.75" y1="1374.7" x2="114.75" y2="1378.1" stroke="#000" stroke-width="1"/>
<line x1="117.76" y1="1374.7" x2="117.76" y2="1378.1" stroke="#000" stroke-width="1"/>
<line x1="120.42" y1="1374.7" x2="120.42" y2="1378.1" stroke="#000" stroke-width="1"/>
<line x1="122.8" y1="1374.7" x2="122.8" y2="1381.2" stroke="#000" stroke-width="1.7"/>
<line x1="138.33" y1="1374.7" x2="138.33" y2="1378.1" stroke="#000" stroke-width="1"/>
<line x1="147.42" y1="1374.7" x2="147.42" y2="1378.1" stroke="#000" stroke-width="1"/>
<line x1="153.87" y1="1374.7" x2="153.87" y2="1378.1" stroke="#000" stroke-width="1"/>
<line x1="158.87" y1="1374.7" x2="158.87" y2="1378.1" stroke="#000" stroke-width="1"/>
<line x1="162.95" y1="1374.7" x2="162.95" y2="1378.1" stroke="#000" stroke-width="1"/>
<line x1="166.41" y1="1374.7" x2="166.41" y2="1378.1" stroke="#000" stroke-width="1"/>
<line x1="169.4" y1="1374.7" x2="169.4" y2="1378.1" stroke="#000" stroke-width="1"/>
<line x1="172.04" y1="1374.7" x2="172.04" y2="1378.1" stroke="#000" stroke-width="1"/>
<line x1="174.4" y1="1374.7" x2="174.4" y2="1381.2" stroke="#000" stroke-width="1.7"/>
<line x1="190.44" y1="1374.7" x2="190.44" y2="1378.1" stroke="#000" stroke-width="1"/>
<line x1="199.83" y1="1374.7" x2="199.83" y2="1378.1" stroke="#000" stroke-width="1"/>
<line x1="206.49" y1="1374.7" x2="206.49" y2="1378.1" stroke="#000" stroke-width="1"/>
<line x1="211.66" y1="1374.7" x2="211.66" y2="1378.1" stroke="#000" stroke-width="1"/>
<line x1="215.88" y1="1374.7" x2="215.88" y2="1378.1" stroke="#000" stroke-width="1"/>
<line x1="219.44" y1="1374.7" x2="219.44" y2="1378.1" stroke="#000" stroke-width="1"/>
<line x1="222.53" y1="1374.7" x2="222.53" y2="1378.1" stroke="#000" stroke-width="1"/>
<line x1="225.26" y1="1374.7" x2="225.26" y2="1378.1" stroke="#000" stroke-width="1"/>
<line x1="227.7" y1="1374.7" x2="227.7" y2="1381.2" stroke="#000" stroke-width="1.7"/>
<line x1="243.78" y1="1374.7" x2="243.78" y2="1378.1" stroke="#000" stroke-width="1"/>
<line x1="253.18" y1="1374.7" x2="253.18" y2="1378.1" stroke="#000" stroke-width="1"/>
<line x1="259.85" y1="1374.7" x2="259.85" y2="1378.1" stroke="#000" stroke-width="1"/>
<line x1="265.02" y1="1374.7" x2="265.02" y2="1378.1" stroke="#000" stroke-width="1"/>
<line x1="269.25" y1="1374.7" x2="269.25" y2="1378.1" stroke="#000" stroke-width="1"/>
<line x1="272.83" y1="1374.7" x2="272.83" y2="1378.1" stroke="#000" stroke-width="1"/>
<line x1="275.93" y1="1374.7" x2="275.93" y2="1378.1" stroke="#000" stroke-width="1"/>
<line x1="278.66" y1="1374.7" x2="278.66" y2="1378.1" stroke="#000" stroke-width="1"/>
<line x1="281.1" y1="1374.7" x2="281.1" y2="1381.2" stroke="#000" stroke-width="1.7"/>
<line x1="297.02" y1="1374.7" x2="297.02" y2="1378.1" stroke="#000" stroke-width="1"/>
<line x1="306.34" y1="1374.7" x2="306.34" y2="1378.1" stroke="#000" stroke-width="1"/>
<line x1="312.95" y1="1374.7" x2="312.95" y2="1378.1" stroke="#000" stroke-width="1"/>
<line x1="318.08" y1="1374.7" x2="318.08" y2="1378.1" stroke="#000" stroke-width="1"/>
<line x1="322.26" y1="1374.7" x2="322.26" y2="1378.1" stroke="#000" stroke-width="1"/>
<line x1="325.81" y1="1374.7" x2="325.81" y2="1378.1" stroke="#000" stroke-width="1"/>
<line x1="328.87" y1="1374.7" x2="328.87" y2="1378.1" stroke="#000" stroke-width="1"/>
<line x1="331.58" y1="1374.7" x2="331.58" y2="1378.1" stroke="#000" stroke-width="1"/>
<line x1="334" y1="1374.7" x2="334" y2="1381.2" stroke="#000" stroke-width="1.7"/>
<text transform="translate(83.6,1413.8) scale(0.89,1)" font-size="15" text-anchor="middle" fill="#2a2a2a">10</text>
<text transform="translate(92.2,1402.1) scale(0.89,1)" font-size="15" fill="#2a2a2a">0</text>
<text transform="translate(125,1413.8) scale(0.89,1)" font-size="15" text-anchor="middle" fill="#2a2a2a">10</text>
<text transform="translate(133.6,1402.1) scale(0.89,1)" font-size="15" fill="#2a2a2a">1</text>
<text transform="translate(176.6,1413.8) scale(0.89,1)" font-size="15" text-anchor="middle" fill="#2a2a2a">10</text>
<text transform="translate(185.2,1402.1) scale(0.89,1)" font-size="15" fill="#2a2a2a">2</text>
<text transform="translate(229.9,1413.8) scale(0.89,1)" font-size="15" text-anchor="middle" fill="#2a2a2a">10</text>
<text transform="translate(238.5,1402.1) scale(0.89,1)" font-size="15" fill="#2a2a2a">3</text>
<text transform="translate(283.3,1413.8) scale(0.89,1)" font-size="15" text-anchor="middle" fill="#2a2a2a">10</text>
<text transform="translate(291.9,1402.1) scale(0.89,1)" font-size="15" fill="#2a2a2a">4</text>
<text transform="translate(318.6,1413.8) scale(0.89,1)" font-size="15" text-anchor="middle" fill="#2a2a2a">10</text>
<text transform="translate(327.2,1402.1) scale(0.89,1)" font-size="15" fill="#2a2a2a">5</text>
<line x1="63.2" y1="1144.9" x2="70.4" y2="1144.9" stroke="#000" stroke-width="1.7"/>
<text transform="translate(59,1155.7) scale(0.95,1)" font-size="14.9" text-anchor="end" fill="#2a2a2a">5.0K</text>
<line x1="63.2" y1="1190.2" x2="70.4" y2="1190.2" stroke="#000" stroke-width="1.7"/>
<text transform="translate(59,1201) scale(0.95,1)" font-size="14.9" text-anchor="end" fill="#2a2a2a">4.0K</text>
<line x1="63.2" y1="1235.7" x2="70.4" y2="1235.7" stroke="#000" stroke-width="1.7"/>
<text transform="translate(59,1246.5) scale(0.95,1)" font-size="14.9" text-anchor="end" fill="#2a2a2a">3.0K</text>
<line x1="63.2" y1="1281.2" x2="70.4" y2="1281.2" stroke="#000" stroke-width="1.7"/>
<text transform="translate(59,1292) scale(0.95,1)" font-size="14.9" text-anchor="end" fill="#2a2a2a">2.0K</text>
<line x1="63.2" y1="1326.8" x2="70.4" y2="1326.8" stroke="#000" stroke-width="1.7"/>
<text transform="translate(59,1337.6) scale(0.95,1)" font-size="14.9" text-anchor="end" fill="#2a2a2a">1.0K</text>
<line x1="63.2" y1="1372.2" x2="70.4" y2="1372.2" stroke="#000" stroke-width="1.7"/>
<text transform="translate(59,1372.4) scale(0.95,1)" font-size="14.9" text-anchor="end" fill="#2a2a2a">0</text>
<line x1="66.8" y1="1123.1" x2="70.4" y2="1123.1" stroke="#000" stroke-width="1"/>
<line x1="66.8" y1="1134.5" x2="70.4" y2="1134.5" stroke="#000" stroke-width="1"/>
<line x1="66.8" y1="1157.3" x2="70.4" y2="1157.3" stroke="#000" stroke-width="1"/>
<line x1="66.8" y1="1168.7" x2="70.4" y2="1168.7" stroke="#000" stroke-width="1"/>
<line x1="66.8" y1="1180.1" x2="70.4" y2="1180.1" stroke="#000" stroke-width="1"/>
<line x1="66.8" y1="1202.9" x2="70.4" y2="1202.9" stroke="#000" stroke-width="1"/>
<line x1="66.8" y1="1214.3" x2="70.4" y2="1214.3" stroke="#000" stroke-width="1"/>
<line x1="66.8" y1="1225.7" x2="70.4" y2="1225.7" stroke="#000" stroke-width="1"/>
<line x1="66.8" y1="1248.5" x2="70.4" y2="1248.5" stroke="#000" stroke-width="1"/>
<line x1="66.8" y1="1259.9" x2="70.4" y2="1259.9" stroke="#000" stroke-width="1"/>
<line x1="66.8" y1="1271.3" x2="70.4" y2="1271.3" stroke="#000" stroke-width="1"/>
<line x1="66.8" y1="1294.1" x2="70.4" y2="1294.1" stroke="#000" stroke-width="1"/>
<line x1="66.8" y1="1305.5" x2="70.4" y2="1305.5" stroke="#000" stroke-width="1"/>
<line x1="66.8" y1="1316.9" x2="70.4" y2="1316.9" stroke="#000" stroke-width="1"/>
<line x1="66.8" y1="1339.7" x2="70.4" y2="1339.7" stroke="#000" stroke-width="1"/>
<line x1="66.8" y1="1351.1" x2="70.4" y2="1351.1" stroke="#000" stroke-width="1"/>
<line x1="66.8" y1="1362.5" x2="70.4" y2="1362.5" stroke="#000" stroke-width="1"/>
<text x="200.4" y="1430.1" font-size="13.2" font-weight="bold" text-anchor="middle" letter-spacing="0.7">APC-CD14</text>
<text transform="translate(28,1241) rotate(-90)" font-size="13.2" font-weight="bold" text-anchor="middle" letter-spacing="1">Count</text>
<line x1="202" y1="1290.5" x2="335.2" y2="1290.5" stroke="#000" stroke-width="1.7"/>
<line x1="202" y1="1285.3" x2="202" y2="1295.7" stroke="#000" stroke-width="1.8"/>
<line x1="334.6" y1="1285.3" x2="334.6" y2="1295.7" stroke="#000" stroke-width="1.6"/>
<text transform="translate(268.8,1255.1) scale(0.9,1)" font-size="13.3" text-anchor="middle" fill="#111" letter-spacing="0.5">CD14+</text>
<text transform="translate(268.8,1272.9) scale(0.9,1)" font-size="13.3" text-anchor="middle" fill="#111" letter-spacing="0.5">6.2</text>
<text x="208.4" y="1093.7" font-size="28.5" font-weight="bold" text-anchor="middle">DMSO</text>
<path d="M474.8 1372.6 L474.8 1371.6 L479.5 1369.8 L484.3 1366.8 L487.9 1362.6 L490.9 1355.5 L492.7 1353.1 L494.5 1342.3 L496.5 1334 L498.7 1329.2 L501 1312.5 L503.4 1294.5 L505.2 1282.6 L507 1276.6 L508.8 1258.7 L510.4 1242 L511.8 1234.8 L513.6 1213.3 L515.4 1191.8 L516.8 1182.2 L518.4 1163.1 L519.6 1155.9 L520.8 1146.4 L522 1139.2 L522.8 1146.4 L524 1144 L525.5 1128.4 L526.7 1124.3 L527.6 1147.6 L528.8 1129.6 L529.7 1130.8 L530.7 1150 L532.1 1151.1 L533.3 1154.7 L534.5 1167.9 L535.7 1179.8 L536.1 1183.4 L530.7 1372.6 Z" fill="#d3d3d3"/>
<path d="M474.8 1371.6 L479.5 1369.8 L484.3 1366.8 L487.9 1362.6 L490.9 1355.5 L492.7 1353.1 L494.5 1342.3 L496.5 1334 L498.7 1329.2 L501 1312.5 L503.4 1294.5 L505.2 1282.6 L507 1276.6 L508.8 1258.7 L510.4 1242 L511.8 1234.8 L513.6 1213.3 L515.4 1191.8 L516.8 1182.2 L518.4 1163.1 L519.6 1155.9 L520.8 1146.4 L522 1139.2 L522.8 1146.4 L524 1144 L525.5 1128.4 L526.7 1124.3 L527.6 1147.6 L528.8 1129.6 L529.7 1130.8 L530.7 1150 L532.1 1151.1 L533.3 1154.7 L534.5 1167.9 L535.7 1179.8 L536.1 1183.4" fill="none" stroke="#909090" stroke-width="1.3" stroke-linejoin="round"/>
<path d="M530.7 1372.2 L532.1 1330.4 L533 1282.6 L533.3 1234.8 L533.9 1198.9 L535.7 1183.6 L536.9 1188.2 L538.7 1208.5 L540.5 1220.4 L541.7 1234.8 L543.5 1256.3 L545.3 1270.6 L547 1288.6 L548.8 1304.1 L551.2 1320.8 L553.6 1331.6 L556 1342.3 L559.6 1354.3 L563.2 1362.6 L568 1368.6 L572.7 1371.2 L577.5 1372 L577.5 1372.6 Z" fill="#ecc7a4"/>
<path d="M530.7 1372.2 L532.1 1330.4 L533 1282.6 L533.3 1234.8 L533.9 1198.9 L535.7 1183.6 L536.9 1188.2 L538.7 1208.5 L540.5 1220.4 L541.7 1234.8 L543.5 1256.3 L545.3 1270.6 L547 1288.6 L548.8 1304.1 L551.2 1320.8 L553.6 1331.6 L556 1342.3 L559.6 1354.3 L563.2 1362.6 L568 1368.6 L572.7 1371.2 L577.5 1372" fill="none" stroke="#f5a24c" stroke-width="1.6" stroke-linejoin="round"/>
<line x1="401.9" y1="1372.2" x2="665.6" y2="1372.2" stroke="#f5a24c" stroke-width="1.5"/>
<rect x="401.9" y="1110" width="263.7" height="263.2" fill="none" stroke="#000" stroke-width="1.2"/>
<line x1="401.3" y1="1374.2" x2="666.2" y2="1374.2" stroke="#000" stroke-width="2.2"/>
<line x1="402.3" y1="1374.7" x2="402.3" y2="1381.2" stroke="#000" stroke-width="1.7"/>
<line x1="417.74" y1="1374.7" x2="417.74" y2="1378.1" stroke="#000" stroke-width="1"/>
<line x1="426.78" y1="1374.7" x2="426.78" y2="1378.1" stroke="#000" stroke-width="1"/>
<line x1="433.19" y1="1374.7" x2="433.19" y2="1378.1" stroke="#000" stroke-width="1"/>
<line x1="438.16" y1="1374.7" x2="438.16" y2="1378.1" stroke="#000" stroke-width="1"/>
<line x1="442.22" y1="1374.7" x2="442.22" y2="1378.1" stroke="#000" stroke-width="1"/>
<line x1="445.65" y1="1374.7" x2="445.65" y2="1378.1" stroke="#000" stroke-width="1"/>
<line x1="448.63" y1="1374.7" x2="448.63" y2="1378.1" stroke="#000" stroke-width="1"/>
<line x1="451.25" y1="1374.7" x2="451.25" y2="1378.1" stroke="#000" stroke-width="1"/>
<line x1="453.6" y1="1374.7" x2="453.6" y2="1381.2" stroke="#000" stroke-width="1.7"/>
<line x1="469.52" y1="1374.7" x2="469.52" y2="1378.1" stroke="#000" stroke-width="1"/>
<line x1="478.84" y1="1374.7" x2="478.84" y2="1378.1" stroke="#000" stroke-width="1"/>
<line x1="485.45" y1="1374.7" x2="485.45" y2="1378.1" stroke="#000" stroke-width="1"/>
<line x1="490.58" y1="1374.7" x2="490.58" y2="1378.1" stroke="#000" stroke-width="1"/>
<line x1="494.76" y1="1374.7" x2="494.76" y2="1378.1" stroke="#000" stroke-width="1"/>
<line x1="498.31" y1="1374.7" x2="498.31" y2="1378.1" stroke="#000" stroke-width="1"/>
<line x1="501.37" y1="1374.7" x2="501.37" y2="1378.1" stroke="#000" stroke-width="1"/>
<line x1="504.08" y1="1374.7" x2="504.08" y2="1378.1" stroke="#000" stroke-width="1"/>
<line x1="506.5" y1="1374.7" x2="506.5" y2="1381.2" stroke="#000" stroke-width="1.7"/>
<line x1="522.36" y1="1374.7" x2="522.36" y2="1378.1" stroke="#000" stroke-width="1"/>
<line x1="531.64" y1="1374.7" x2="531.64" y2="1378.1" stroke="#000" stroke-width="1"/>
<line x1="538.23" y1="1374.7" x2="538.23" y2="1378.1" stroke="#000" stroke-width="1"/>
<line x1="543.34" y1="1374.7" x2="543.34" y2="1378.1" stroke="#000" stroke-width="1"/>
<line x1="547.51" y1="1374.7" x2="547.51" y2="1378.1" stroke="#000" stroke-width="1"/>
<line x1="551.04" y1="1374.7" x2="551.04" y2="1378.1" stroke="#000" stroke-width="1"/>
<line x1="554.09" y1="1374.7" x2="554.09" y2="1378.1" stroke="#000" stroke-width="1"/>
<line x1="556.79" y1="1374.7" x2="556.79" y2="1378.1" stroke="#000" stroke-width="1"/>
<line x1="559.2" y1="1374.7" x2="559.2" y2="1381.2" stroke="#000" stroke-width="1.7"/>
<line x1="574.94" y1="1374.7" x2="574.94" y2="1378.1" stroke="#000" stroke-width="1"/>
<line x1="584.15" y1="1374.7" x2="584.15" y2="1378.1" stroke="#000" stroke-width="1"/>
<line x1="590.69" y1="1374.7" x2="590.69" y2="1378.1" stroke="#000" stroke-width="1"/>
<line x1="595.76" y1="1374.7" x2="595.76" y2="1378.1" stroke="#000" stroke-width="1"/>
<line x1="599.9" y1="1374.7" x2="599.9" y2="1378.1" stroke="#000" stroke-width="1"/>
<line x1="603.4" y1="1374.7" x2="603.4" y2="1378.1" stroke="#000" stroke-width="1"/>
<line x1="606.43" y1="1374.7" x2="606.43" y2="1378.1" stroke="#000" stroke-width="1"/>
<line x1="609.11" y1="1374.7" x2="609.11" y2="1378.1" stroke="#000" stroke-width="1"/>
<line x1="611.5" y1="1374.7" x2="611.5" y2="1381.2" stroke="#000" stroke-width="1.7"/>
<line x1="627.33" y1="1374.7" x2="627.33" y2="1378.1" stroke="#000" stroke-width="1"/>
<line x1="636.6" y1="1374.7" x2="636.6" y2="1378.1" stroke="#000" stroke-width="1"/>
<line x1="643.17" y1="1374.7" x2="643.17" y2="1378.1" stroke="#000" stroke-width="1"/>
<line x1="648.27" y1="1374.7" x2="648.27" y2="1378.1" stroke="#000" stroke-width="1"/>
<line x1="652.43" y1="1374.7" x2="652.43" y2="1378.1" stroke="#000" stroke-width="1"/>
<line x1="655.95" y1="1374.7" x2="655.95" y2="1378.1" stroke="#000" stroke-width="1"/>
<line x1="659" y1="1374.7" x2="659" y2="1378.1" stroke="#000" stroke-width="1"/>
<line x1="661.69" y1="1374.7" x2="661.69" y2="1378.1" stroke="#000" stroke-width="1"/>
<line x1="664.1" y1="1374.7" x2="664.1" y2="1381.2" stroke="#000" stroke-width="1.7"/>
<text transform="translate(415.1,1413.8) scale(0.89,1)" font-size="15" text-anchor="middle" fill="#2a2a2a">10</text>
<text transform="translate(423.7,1402.1) scale(0.89,1)" font-size="15" fill="#2a2a2a">0</text>
<text transform="translate(455.8,1413.8) scale(0.89,1)" font-size="15" text-anchor="middle" fill="#2a2a2a">10</text>
<text transform="translate(464.4,1402.1) scale(0.89,1)" font-size="15" fill="#2a2a2a">1</text>
<text transform="translate(508.7,1413.8) scale(0.89,1)" font-size="15" text-anchor="middle" fill="#2a2a2a">10</text>
<text transform="translate(517.3,1402.1) scale(0.89,1)" font-size="15" fill="#2a2a2a">2</text>
<text transform="translate(561.4,1413.8) scale(0.89,1)" font-size="15" text-anchor="middle" fill="#2a2a2a">10</text>
<text transform="translate(570,1402.1) scale(0.89,1)" font-size="15" fill="#2a2a2a">3</text>
<text transform="translate(613.7,1413.8) scale(0.89,1)" font-size="15" text-anchor="middle" fill="#2a2a2a">10</text>
<text transform="translate(622.3,1402.1) scale(0.89,1)" font-size="15" fill="#2a2a2a">4</text>
<text transform="translate(648.7,1413.8) scale(0.89,1)" font-size="15" text-anchor="middle" fill="#2a2a2a">10</text>
<text transform="translate(657.3,1402.1) scale(0.89,1)" font-size="15" fill="#2a2a2a">5</text>
<line x1="394.7" y1="1135.8" x2="401.9" y2="1135.8" stroke="#000" stroke-width="1.7"/>
<text transform="translate(389,1146.6) scale(0.95,1)" font-size="14.9" text-anchor="end" fill="#2a2a2a">3.0K</text>
<line x1="394.7" y1="1214.4" x2="401.9" y2="1214.4" stroke="#000" stroke-width="1.7"/>
<text transform="translate(389,1225.2) scale(0.95,1)" font-size="14.9" text-anchor="end" fill="#2a2a2a">2.0K</text>
<line x1="394.7" y1="1293.2" x2="401.9" y2="1293.2" stroke="#000" stroke-width="1.7"/>
<text transform="translate(389,1304) scale(0.95,1)" font-size="14.9" text-anchor="end" fill="#2a2a2a">1.0K</text>
<line x1="394.7" y1="1372.2" x2="401.9" y2="1372.2" stroke="#000" stroke-width="1.7"/>
<text transform="translate(389,1372.4) scale(0.95,1)" font-size="14.9" text-anchor="end" fill="#2a2a2a">0</text>
<line x1="398.3" y1="1117.12" x2="401.9" y2="1117.12" stroke="#000" stroke-width="1"/>
<line x1="398.3" y1="1156.48" x2="401.9" y2="1156.48" stroke="#000" stroke-width="1"/>
<line x1="398.3" y1="1176.16" x2="401.9" y2="1176.16" stroke="#000" stroke-width="1"/>
<line x1="398.3" y1="1195.84" x2="401.9" y2="1195.84" stroke="#000" stroke-width="1"/>
<line x1="398.3" y1="1235.2" x2="401.9" y2="1235.2" stroke="#000" stroke-width="1"/>
<line x1="398.3" y1="1254.88" x2="401.9" y2="1254.88" stroke="#000" stroke-width="1"/>
<line x1="398.3" y1="1274.56" x2="401.9" y2="1274.56" stroke="#000" stroke-width="1"/>
<line x1="398.3" y1="1313.92" x2="401.9" y2="1313.92" stroke="#000" stroke-width="1"/>
<line x1="398.3" y1="1333.6" x2="401.9" y2="1333.6" stroke="#000" stroke-width="1"/>
<line x1="398.3" y1="1353.28" x2="401.9" y2="1353.28" stroke="#000" stroke-width="1"/>
<text x="531.35" y="1430.1" font-size="13.2" font-weight="bold" text-anchor="middle" letter-spacing="0.7">APC-CD14</text>
<text transform="translate(359,1241) rotate(-90)" font-size="13.2" font-weight="bold" text-anchor="middle" letter-spacing="1">Count</text>
<line x1="533.1" y1="1290.5" x2="665.6" y2="1290.5" stroke="#000" stroke-width="1.7"/>
<line x1="533.1" y1="1285.3" x2="533.1" y2="1295.7" stroke="#000" stroke-width="1.8"/>
<line x1="665" y1="1285.3" x2="665" y2="1295.7" stroke="#000" stroke-width="1.6"/>
<text transform="translate(599.7,1255.1) scale(0.9,1)" font-size="13.3" text-anchor="middle" fill="#111" letter-spacing="0.5">CD14+</text>
<text transform="translate(599.7,1272.9) scale(0.9,1)" font-size="13.3" text-anchor="middle" fill="#111" letter-spacing="0.5">30.5</text>
<text x="535.5" y="1093.7" font-size="28.5" font-weight="bold" text-anchor="middle">PMA</text>
<path d="M796.4 1372.6 L796.4 1371.8 L801.1 1370.3 L805.2 1366.2 L808.7 1359.2 L811.1 1348.6 L812.8 1336.9 L814 1328.7 L814.7 1329.9 L815.8 1319.3 L816.9 1295.9 L818.1 1272.4 L819.6 1249 L821 1231.4 L822.2 1213.8 L823.1 1199.7 L824 1179.8 L824.8 1199.7 L825.7 1185.7 L826.9 1166.9 L827.8 1149.3 L828.7 1131.7 L829.8 1132.9 L830.7 1173.9 L831.6 1164.6 L832.5 1185.7 L833.3 1199.7 L834.5 1186.8 L835.3 1213.8 L836.3 1231.4 L837.5 1249 L838.6 1266.6 L840 1284.1 L841.6 1305.3 L843.3 1321.7 L845.1 1333.4 L847.4 1343.4 L850.3 1349.2 L853.9 1352.4 L856.8 1354.5 L858.3 1355.4 L853.6 1372.6 Z" fill="#d3d3d3"/>
<path d="M796.4 1371.8 L801.1 1370.3 L805.2 1366.2 L808.7 1359.2 L811.1 1348.6 L812.8 1336.9 L814 1328.7 L814.7 1329.9 L815.8 1319.3 L816.9 1295.9 L818.1 1272.4 L819.6 1249 L821 1231.4 L822.2 1213.8 L823.1 1199.7 L824 1179.8 L824.8 1199.7 L825.7 1185.7 L826.9 1166.9 L827.8 1149.3 L828.7 1131.7 L829.8 1132.9 L830.7 1173.9 L831.6 1164.6 L832.5 1185.7 L833.3 1199.7 L834.5 1186.8 L835.3 1213.8 L836.3 1231.4 L837.5 1249 L838.6 1266.6 L840 1284.1 L841.6 1305.3 L843.3 1321.7 L845.1 1333.4 L847.4 1343.4 L850.3 1349.2 L853.9 1352.4 L856.8 1354.5 L858.3 1355.4" fill="none" stroke="#909090" stroke-width="1.3" stroke-linejoin="round"/>
<path d="M853.6 1372.1 L855.6 1364.5 L857.1 1357.4 L858.8 1355.4 L860.3 1354.8 L862.7 1355.7 L866.2 1357.1 L869.1 1358 L872.6 1359.8 L876.1 1361.8 L879.7 1363.6 L883.2 1366.2 L887.9 1368.8 L892.6 1370.7 L899.6 1371.7 L899.6 1372.6 Z" fill="#ecc7a4"/>
<path d="M853.6 1372.1 L855.6 1364.5 L857.1 1357.4 L858.8 1355.4 L860.3 1354.8 L862.7 1355.7 L866.2 1357.1 L869.1 1358 L872.6 1359.8 L876.1 1361.8 L879.7 1363.6 L883.2 1366.2 L887.9 1368.8 L892.6 1370.7 L899.6 1371.7" fill="none" stroke="#f5a24c" stroke-width="1.6" stroke-linejoin="round"/>
<line x1="724.5" y1="1372.2" x2="989.3" y2="1372.2" stroke="#f5a24c" stroke-width="1.5"/>
<rect x="724.5" y="1110" width="264.8" height="263.2" fill="none" stroke="#000" stroke-width="1.2"/>
<line x1="723.9" y1="1374.2" x2="989.9" y2="1374.2" stroke="#000" stroke-width="2.2"/>
<line x1="724.9" y1="1374.7" x2="724.9" y2="1381.2" stroke="#000" stroke-width="1.7"/>
<line x1="740.58" y1="1374.7" x2="740.58" y2="1378.1" stroke="#000" stroke-width="1"/>
<line x1="749.76" y1="1374.7" x2="749.76" y2="1378.1" stroke="#000" stroke-width="1"/>
<line x1="756.27" y1="1374.7" x2="756.27" y2="1378.1" stroke="#000" stroke-width="1"/>
<line x1="761.32" y1="1374.7" x2="761.32" y2="1378.1" stroke="#000" stroke-width="1"/>
<line x1="765.44" y1="1374.7" x2="765.44" y2="1378.1" stroke="#000" stroke-width="1"/>
<line x1="768.93" y1="1374.7" x2="768.93" y2="1378.1" stroke="#000" stroke-width="1"/>
<line x1="771.95" y1="1374.7" x2="771.95" y2="1378.1" stroke="#000" stroke-width="1"/>
<line x1="774.62" y1="1374.7" x2="774.62" y2="1378.1" stroke="#000" stroke-width="1"/>
<line x1="777" y1="1374.7" x2="777" y2="1381.2" stroke="#000" stroke-width="1.7"/>
<line x1="792.62" y1="1374.7" x2="792.62" y2="1378.1" stroke="#000" stroke-width="1"/>
<line x1="801.76" y1="1374.7" x2="801.76" y2="1378.1" stroke="#000" stroke-width="1"/>
<line x1="808.25" y1="1374.7" x2="808.25" y2="1378.1" stroke="#000" stroke-width="1"/>
<line x1="813.28" y1="1374.7" x2="813.28" y2="1378.1" stroke="#000" stroke-width="1"/>
<line x1="817.39" y1="1374.7" x2="817.39" y2="1378.1" stroke="#000" stroke-width="1"/>
<line x1="820.86" y1="1374.7" x2="820.86" y2="1378.1" stroke="#000" stroke-width="1"/>
<line x1="823.87" y1="1374.7" x2="823.87" y2="1378.1" stroke="#000" stroke-width="1"/>
<line x1="826.53" y1="1374.7" x2="826.53" y2="1378.1" stroke="#000" stroke-width="1"/>
<line x1="828.9" y1="1374.7" x2="828.9" y2="1381.2" stroke="#000" stroke-width="1.7"/>
<line x1="844.82" y1="1374.7" x2="844.82" y2="1378.1" stroke="#000" stroke-width="1"/>
<line x1="854.14" y1="1374.7" x2="854.14" y2="1378.1" stroke="#000" stroke-width="1"/>
<line x1="860.75" y1="1374.7" x2="860.75" y2="1378.1" stroke="#000" stroke-width="1"/>
<line x1="865.88" y1="1374.7" x2="865.88" y2="1378.1" stroke="#000" stroke-width="1"/>
<line x1="870.06" y1="1374.7" x2="870.06" y2="1378.1" stroke="#000" stroke-width="1"/>
<line x1="873.61" y1="1374.7" x2="873.61" y2="1378.1" stroke="#000" stroke-width="1"/>
<line x1="876.67" y1="1374.7" x2="876.67" y2="1378.1" stroke="#000" stroke-width="1"/>
<line x1="879.38" y1="1374.7" x2="879.38" y2="1378.1" stroke="#000" stroke-width="1"/>
<line x1="881.8" y1="1374.7" x2="881.8" y2="1381.2" stroke="#000" stroke-width="1.7"/>
<line x1="897.69" y1="1374.7" x2="897.69" y2="1378.1" stroke="#000" stroke-width="1"/>
<line x1="906.99" y1="1374.7" x2="906.99" y2="1378.1" stroke="#000" stroke-width="1"/>
<line x1="913.59" y1="1374.7" x2="913.59" y2="1378.1" stroke="#000" stroke-width="1"/>
<line x1="918.71" y1="1374.7" x2="918.71" y2="1378.1" stroke="#000" stroke-width="1"/>
<line x1="922.89" y1="1374.7" x2="922.89" y2="1378.1" stroke="#000" stroke-width="1"/>
<line x1="926.42" y1="1374.7" x2="926.42" y2="1378.1" stroke="#000" stroke-width="1"/>
<line x1="929.48" y1="1374.7" x2="929.48" y2="1378.1" stroke="#000" stroke-width="1"/>
<line x1="932.18" y1="1374.7" x2="932.18" y2="1378.1" stroke="#000" stroke-width="1"/>
<line x1="934.6" y1="1374.7" x2="934.6" y2="1381.2" stroke="#000" stroke-width="1.7"/>
<line x1="950.52" y1="1374.7" x2="950.52" y2="1378.1" stroke="#000" stroke-width="1"/>
<line x1="959.84" y1="1374.7" x2="959.84" y2="1378.1" stroke="#000" stroke-width="1"/>
<line x1="966.45" y1="1374.7" x2="966.45" y2="1378.1" stroke="#000" stroke-width="1"/>
<line x1="971.58" y1="1374.7" x2="971.58" y2="1378.1" stroke="#000" stroke-width="1"/>
<line x1="975.76" y1="1374.7" x2="975.76" y2="1378.1" stroke="#000" stroke-width="1"/>
<line x1="979.31" y1="1374.7" x2="979.31" y2="1378.1" stroke="#000" stroke-width="1"/>
<line x1="982.37" y1="1374.7" x2="982.37" y2="1378.1" stroke="#000" stroke-width="1"/>
<line x1="985.08" y1="1374.7" x2="985.08" y2="1378.1" stroke="#000" stroke-width="1"/>
<line x1="987.5" y1="1374.7" x2="987.5" y2="1381.2" stroke="#000" stroke-width="1.7"/>
<text transform="translate(737.7,1413.8) scale(0.89,1)" font-size="15" text-anchor="middle" fill="#2a2a2a">10</text>
<text transform="translate(746.3,1402.1) scale(0.89,1)" font-size="15" fill="#2a2a2a">0</text>
<text transform="translate(779.2,1413.8) scale(0.89,1)" font-size="15" text-anchor="middle" fill="#2a2a2a">10</text>
<text transform="translate(787.8,1402.1) scale(0.89,1)" font-size="15" fill="#2a2a2a">1</text>
<text transform="translate(831.1,1413.8) scale(0.89,1)" font-size="15" text-anchor="middle" fill="#2a2a2a">10</text>
<text transform="translate(839.7,1402.1) scale(0.89,1)" font-size="15" fill="#2a2a2a">2</text>
<text transform="translate(884,1413.8) scale(0.89,1)" font-size="15" text-anchor="middle" fill="#2a2a2a">10</text>
<text transform="translate(892.6,1402.1) scale(0.89,1)" font-size="15" fill="#2a2a2a">3</text>
<text transform="translate(936.8,1413.8) scale(0.89,1)" font-size="15" text-anchor="middle" fill="#2a2a2a">10</text>
<text transform="translate(945.4,1402.1) scale(0.89,1)" font-size="15" fill="#2a2a2a">4</text>
<text transform="translate(972.1,1413.8) scale(0.89,1)" font-size="15" text-anchor="middle" fill="#2a2a2a">10</text>
<text transform="translate(980.7,1402.1) scale(0.89,1)" font-size="15" fill="#2a2a2a">5</text>
<line x1="717.3" y1="1136.7" x2="724.5" y2="1136.7" stroke="#000" stroke-width="1.7"/>
<text transform="translate(713.2,1147.5) scale(0.95,1)" font-size="14.9" text-anchor="end" fill="#2a2a2a">5.0K</text>
<line x1="717.3" y1="1183.8" x2="724.5" y2="1183.8" stroke="#000" stroke-width="1.7"/>
<text transform="translate(713.2,1194.6) scale(0.95,1)" font-size="14.9" text-anchor="end" fill="#2a2a2a">4.0K</text>
<line x1="717.3" y1="1230.8" x2="724.5" y2="1230.8" stroke="#000" stroke-width="1.7"/>
<text transform="translate(713.2,1241.6) scale(0.95,1)" font-size="14.9" text-anchor="end" fill="#2a2a2a">3.0K</text>
<line x1="717.3" y1="1277.9" x2="724.5" y2="1277.9" stroke="#000" stroke-width="1.7"/>
<text transform="translate(713.2,1288.7) scale(0.95,1)" font-size="14.9" text-anchor="end" fill="#2a2a2a">2.0K</text>
<line x1="717.3" y1="1325" x2="724.5" y2="1325" stroke="#000" stroke-width="1.7"/>
<text transform="translate(713.2,1335.8) scale(0.95,1)" font-size="14.9" text-anchor="end" fill="#2a2a2a">1.0K</text>
<line x1="717.3" y1="1372.2" x2="724.5" y2="1372.2" stroke="#000" stroke-width="1.7"/>
<text transform="translate(713.2,1372.4) scale(0.95,1)" font-size="14.9" text-anchor="end" fill="#2a2a2a">0</text>
<line x1="720.9" y1="1114.14" x2="724.5" y2="1114.14" stroke="#000" stroke-width="1"/>
<line x1="720.9" y1="1125.92" x2="724.5" y2="1125.92" stroke="#000" stroke-width="1"/>
<line x1="720.9" y1="1149.48" x2="724.5" y2="1149.48" stroke="#000" stroke-width="1"/>
<line x1="720.9" y1="1161.26" x2="724.5" y2="1161.26" stroke="#000" stroke-width="1"/>
<line x1="720.9" y1="1173.04" x2="724.5" y2="1173.04" stroke="#000" stroke-width="1"/>
<line x1="720.9" y1="1196.6" x2="724.5" y2="1196.6" stroke="#000" stroke-width="1"/>
<line x1="720.9" y1="1208.38" x2="724.5" y2="1208.38" stroke="#000" stroke-width="1"/>
<line x1="720.9" y1="1220.16" x2="724.5" y2="1220.16" stroke="#000" stroke-width="1"/>
<line x1="720.9" y1="1243.72" x2="724.5" y2="1243.72" stroke="#000" stroke-width="1"/>
<line x1="720.9" y1="1255.5" x2="724.5" y2="1255.5" stroke="#000" stroke-width="1"/>
<line x1="720.9" y1="1267.28" x2="724.5" y2="1267.28" stroke="#000" stroke-width="1"/>
<line x1="720.9" y1="1290.84" x2="724.5" y2="1290.84" stroke="#000" stroke-width="1"/>
<line x1="720.9" y1="1302.62" x2="724.5" y2="1302.62" stroke="#000" stroke-width="1"/>
<line x1="720.9" y1="1314.4" x2="724.5" y2="1314.4" stroke="#000" stroke-width="1"/>
<line x1="720.9" y1="1337.96" x2="724.5" y2="1337.96" stroke="#000" stroke-width="1"/>
<line x1="720.9" y1="1349.74" x2="724.5" y2="1349.74" stroke="#000" stroke-width="1"/>
<line x1="720.9" y1="1361.52" x2="724.5" y2="1361.52" stroke="#000" stroke-width="1"/>
<text x="854.5" y="1430.1" font-size="13.2" font-weight="bold" text-anchor="middle" letter-spacing="0.7">APC-CD14</text>
<text transform="translate(682.4,1241) rotate(-90)" font-size="13.2" font-weight="bold" text-anchor="middle" letter-spacing="1">Count</text>
<line x1="856" y1="1290.5" x2="989.3" y2="1290.5" stroke="#000" stroke-width="1.7"/>
<line x1="856" y1="1285.3" x2="856" y2="1295.7" stroke="#000" stroke-width="1.8"/>
<line x1="988.7" y1="1285.3" x2="988.7" y2="1295.7" stroke="#000" stroke-width="1.6"/>
<text transform="translate(922.7,1255.1) scale(0.9,1)" font-size="13.3" text-anchor="middle" fill="#111" letter-spacing="0.5">CD14+</text>
<text transform="translate(922.7,1272.9) scale(0.9,1)" font-size="13.3" text-anchor="middle" fill="#111" letter-spacing="0.5">8.6</text>
<text x="863.3" y="1093.7" font-size="28.5" font-weight="bold" text-anchor="middle">DMSO</text>
<path d="M1130.5 1372.6 L1130.5 1371.6 L1135.2 1369.1 L1138.8 1367.1 L1141.7 1366.2 L1144 1362.6 L1146.4 1356.8 L1148.7 1349.8 L1150.7 1339.2 L1152.8 1328.7 L1155.2 1316.9 L1157.5 1305.2 L1159.3 1293.5 L1161 1281.8 L1162.4 1272.4 L1164 1260.7 L1165.1 1248.9 L1166.3 1230.2 L1167.5 1225.5 L1168.3 1211.4 L1169.5 1197.4 L1170.6 1185.6 L1171.1 1175.1 L1172.2 1170.4 L1173.3 1162.2 L1174.5 1152.8 L1175.3 1144.6 L1176.9 1142.9 L1177.7 1135.2 L1178.6 1127 L1179.5 1135.2 L1180.4 1148.1 L1181.5 1135.2 L1182.4 1132.9 L1183.3 1145.8 L1184.2 1155.2 L1185.1 1147 L1185.9 1152.8 L1186.8 1166.9 L1187.4 1171.6 L1188.6 1175.1 L1189.4 1183.3 L1190.3 1191.5 L1191.3 1197.4 L1186.6 1372.6 Z" fill="#d3d3d3"/>
<path d="M1130.5 1371.6 L1135.2 1369.1 L1138.8 1367.1 L1141.7 1366.2 L1144 1362.6 L1146.4 1356.8 L1148.7 1349.8 L1150.7 1339.2 L1152.8 1328.7 L1155.2 1316.9 L1157.5 1305.2 L1159.3 1293.5 L1161 1281.8 L1162.4 1272.4 L1164 1260.7 L1165.1 1248.9 L1166.3 1230.2 L1167.5 1225.5 L1168.3 1211.4 L1169.5 1197.4 L1170.6 1185.6 L1171.1 1175.1 L1172.2 1170.4 L1173.3 1162.2 L1174.5 1152.8 L1175.3 1144.6 L1176.9 1142.9 L1177.7 1135.2 L1178.6 1127 L1179.5 1135.2 L1180.4 1148.1 L1181.5 1135.2 L1182.4 1132.9 L1183.3 1145.8 L1184.2 1155.2 L1185.1 1147 L1185.9 1152.8 L1186.8 1166.9 L1187.4 1171.6 L1188.6 1175.1 L1189.4 1183.3 L1190.3 1191.5 L1191.3 1197.4" fill="none" stroke="#909090" stroke-width="1.3" stroke-linejoin="round"/>
<path d="M1186.6 1372 L1188 1342.7 L1189.2 1290 L1189.7 1237.2 L1190.3 1213.8 L1191.3 1197.4 L1192.4 1204.4 L1193.8 1218.5 L1195.3 1231.4 L1196.8 1239.6 L1198 1256 L1199.5 1272.4 L1200.9 1286.5 L1202.1 1284.1 L1203.2 1295.8 L1204.6 1307.6 L1206.2 1319.3 L1207.9 1331 L1209.7 1340.4 L1211.4 1347.4 L1213.8 1354.4 L1216.1 1360.3 L1219.6 1366.2 L1224.3 1369.7 L1229 1371.1 L1233.7 1371.8 L1233.7 1372.6 Z" fill="#ecc7a4"/>
<path d="M1186.6 1372 L1188 1342.7 L1189.2 1290 L1189.7 1237.2 L1190.3 1213.8 L1191.3 1197.4 L1192.4 1204.4 L1193.8 1218.5 L1195.3 1231.4 L1196.8 1239.6 L1198 1256 L1199.5 1272.4 L1200.9 1286.5 L1202.1 1284.1 L1203.2 1295.8 L1204.6 1307.6 L1206.2 1319.3 L1207.9 1331 L1209.7 1340.4 L1211.4 1347.4 L1213.8 1354.4 L1216.1 1360.3 L1219.6 1366.2 L1224.3 1369.7 L1229 1371.1 L1233.7 1371.8" fill="none" stroke="#f5a24c" stroke-width="1.6" stroke-linejoin="round"/>
<line x1="1057.6" y1="1372.2" x2="1321.7" y2="1372.2" stroke="#f5a24c" stroke-width="1.5"/>
<rect x="1057.6" y="1110" width="264.1" height="263.2" fill="none" stroke="#000" stroke-width="1.2"/>
<line x1="1057" y1="1374.2" x2="1322.3" y2="1374.2" stroke="#000" stroke-width="2.2"/>
<line x1="1058" y1="1374.7" x2="1058" y2="1381.2" stroke="#000" stroke-width="1.7"/>
<line x1="1073.41" y1="1374.7" x2="1073.41" y2="1378.1" stroke="#000" stroke-width="1"/>
<line x1="1082.43" y1="1374.7" x2="1082.43" y2="1378.1" stroke="#000" stroke-width="1"/>
<line x1="1088.83" y1="1374.7" x2="1088.83" y2="1378.1" stroke="#000" stroke-width="1"/>
<line x1="1093.79" y1="1374.7" x2="1093.79" y2="1378.1" stroke="#000" stroke-width="1"/>
<line x1="1097.84" y1="1374.7" x2="1097.84" y2="1378.1" stroke="#000" stroke-width="1"/>
<line x1="1101.27" y1="1374.7" x2="1101.27" y2="1378.1" stroke="#000" stroke-width="1"/>
<line x1="1104.24" y1="1374.7" x2="1104.24" y2="1378.1" stroke="#000" stroke-width="1"/>
<line x1="1106.86" y1="1374.7" x2="1106.86" y2="1378.1" stroke="#000" stroke-width="1"/>
<line x1="1109.2" y1="1374.7" x2="1109.2" y2="1381.2" stroke="#000" stroke-width="1.7"/>
<line x1="1125.12" y1="1374.7" x2="1125.12" y2="1378.1" stroke="#000" stroke-width="1"/>
<line x1="1134.44" y1="1374.7" x2="1134.44" y2="1378.1" stroke="#000" stroke-width="1"/>
<line x1="1141.05" y1="1374.7" x2="1141.05" y2="1378.1" stroke="#000" stroke-width="1"/>
<line x1="1146.18" y1="1374.7" x2="1146.18" y2="1378.1" stroke="#000" stroke-width="1"/>
<line x1="1150.36" y1="1374.7" x2="1150.36" y2="1378.1" stroke="#000" stroke-width="1"/>
<line x1="1153.91" y1="1374.7" x2="1153.91" y2="1378.1" stroke="#000" stroke-width="1"/>
<line x1="1156.97" y1="1374.7" x2="1156.97" y2="1378.1" stroke="#000" stroke-width="1"/>
<line x1="1159.68" y1="1374.7" x2="1159.68" y2="1378.1" stroke="#000" stroke-width="1"/>
<line x1="1162.1" y1="1374.7" x2="1162.1" y2="1381.2" stroke="#000" stroke-width="1.7"/>
<line x1="1178.05" y1="1374.7" x2="1178.05" y2="1378.1" stroke="#000" stroke-width="1"/>
<line x1="1187.39" y1="1374.7" x2="1187.39" y2="1378.1" stroke="#000" stroke-width="1"/>
<line x1="1194.01" y1="1374.7" x2="1194.01" y2="1378.1" stroke="#000" stroke-width="1"/>
<line x1="1199.15" y1="1374.7" x2="1199.15" y2="1378.1" stroke="#000" stroke-width="1"/>
<line x1="1203.34" y1="1374.7" x2="1203.34" y2="1378.1" stroke="#000" stroke-width="1"/>
<line x1="1206.89" y1="1374.7" x2="1206.89" y2="1378.1" stroke="#000" stroke-width="1"/>
<line x1="1209.96" y1="1374.7" x2="1209.96" y2="1378.1" stroke="#000" stroke-width="1"/>
<line x1="1212.67" y1="1374.7" x2="1212.67" y2="1378.1" stroke="#000" stroke-width="1"/>
<line x1="1215.1" y1="1374.7" x2="1215.1" y2="1381.2" stroke="#000" stroke-width="1.7"/>
<line x1="1230.96" y1="1374.7" x2="1230.96" y2="1378.1" stroke="#000" stroke-width="1"/>
<line x1="1240.24" y1="1374.7" x2="1240.24" y2="1378.1" stroke="#000" stroke-width="1"/>
<line x1="1246.83" y1="1374.7" x2="1246.83" y2="1378.1" stroke="#000" stroke-width="1"/>
<line x1="1251.94" y1="1374.7" x2="1251.94" y2="1378.1" stroke="#000" stroke-width="1"/>
<line x1="1256.11" y1="1374.7" x2="1256.11" y2="1378.1" stroke="#000" stroke-width="1"/>
<line x1="1259.64" y1="1374.7" x2="1259.64" y2="1378.1" stroke="#000" stroke-width="1"/>
<line x1="1262.69" y1="1374.7" x2="1262.69" y2="1378.1" stroke="#000" stroke-width="1"/>
<line x1="1265.39" y1="1374.7" x2="1265.39" y2="1378.1" stroke="#000" stroke-width="1"/>
<line x1="1267.8" y1="1374.7" x2="1267.8" y2="1381.2" stroke="#000" stroke-width="1.7"/>
<line x1="1283.54" y1="1374.7" x2="1283.54" y2="1378.1" stroke="#000" stroke-width="1"/>
<line x1="1292.75" y1="1374.7" x2="1292.75" y2="1378.1" stroke="#000" stroke-width="1"/>
<line x1="1299.29" y1="1374.7" x2="1299.29" y2="1378.1" stroke="#000" stroke-width="1"/>
<line x1="1304.36" y1="1374.7" x2="1304.36" y2="1378.1" stroke="#000" stroke-width="1"/>
<line x1="1308.5" y1="1374.7" x2="1308.5" y2="1378.1" stroke="#000" stroke-width="1"/>
<line x1="1312" y1="1374.7" x2="1312" y2="1378.1" stroke="#000" stroke-width="1"/>
<line x1="1315.03" y1="1374.7" x2="1315.03" y2="1378.1" stroke="#000" stroke-width="1"/>
<line x1="1317.71" y1="1374.7" x2="1317.71" y2="1378.1" stroke="#000" stroke-width="1"/>
<line x1="1320.1" y1="1374.7" x2="1320.1" y2="1381.2" stroke="#000" stroke-width="1.7"/>
<text transform="translate(1070.8,1413.8) scale(0.89,1)" font-size="15" text-anchor="middle" fill="#2a2a2a">10</text>
<text transform="translate(1079.4,1402.1) scale(0.89,1)" font-size="15" fill="#2a2a2a">0</text>
<text transform="translate(1111.4,1413.8) scale(0.89,1)" font-size="15" text-anchor="middle" fill="#2a2a2a">10</text>
<text transform="translate(1120,1402.1) scale(0.89,1)" font-size="15" fill="#2a2a2a">1</text>
<text transform="translate(1164.3,1413.8) scale(0.89,1)" font-size="15" text-anchor="middle" fill="#2a2a2a">10</text>
<text transform="translate(1172.9,1402.1) scale(0.89,1)" font-size="15" fill="#2a2a2a">2</text>
<text transform="translate(1217.3,1413.8) scale(0.89,1)" font-size="15" text-anchor="middle" fill="#2a2a2a">10</text>
<text transform="translate(1225.9,1402.1) scale(0.89,1)" font-size="15" fill="#2a2a2a">3</text>
<text transform="translate(1270,1413.8) scale(0.89,1)" font-size="15" text-anchor="middle" fill="#2a2a2a">10</text>
<text transform="translate(1278.6,1402.1) scale(0.89,1)" font-size="15" fill="#2a2a2a">4</text>
<text transform="translate(1304.7,1413.8) scale(0.89,1)" font-size="15" text-anchor="middle" fill="#2a2a2a">10</text>
<text transform="translate(1313.3,1402.1) scale(0.89,1)" font-size="15" fill="#2a2a2a">5</text>
<line x1="1050.4" y1="1117.7" x2="1057.6" y2="1117.7" stroke="#000" stroke-width="1.7"/>
<text transform="translate(1044.7,1128.5) scale(0.95,1)" font-size="14.9" text-anchor="end" fill="#2a2a2a">2.0K</text>
<line x1="1050.4" y1="1181.4" x2="1057.6" y2="1181.4" stroke="#000" stroke-width="1.7"/>
<text transform="translate(1044.7,1192.2) scale(0.95,1)" font-size="14.9" text-anchor="end" fill="#2a2a2a">1.5K</text>
<line x1="1050.4" y1="1245" x2="1057.6" y2="1245" stroke="#000" stroke-width="1.7"/>
<text transform="translate(1044.7,1255.8) scale(0.95,1)" font-size="14.9" text-anchor="end" fill="#2a2a2a">1.0K</text>
<line x1="1050.4" y1="1308.6" x2="1057.6" y2="1308.6" stroke="#000" stroke-width="1.7"/>
<text transform="translate(1044.7,1319.4) scale(0.95,1)" font-size="14.9" text-anchor="end" fill="#2a2a2a">500</text>
<line x1="1050.4" y1="1372.2" x2="1057.6" y2="1372.2" stroke="#000" stroke-width="1.7"/>
<text transform="translate(1044.7,1372.4) scale(0.95,1)" font-size="14.9" text-anchor="end" fill="#2a2a2a">0</text>
<line x1="1054" y1="1131.42" x2="1057.6" y2="1131.42" stroke="#000" stroke-width="1"/>
<line x1="1054" y1="1144.14" x2="1057.6" y2="1144.14" stroke="#000" stroke-width="1"/>
<line x1="1054" y1="1156.86" x2="1057.6" y2="1156.86" stroke="#000" stroke-width="1"/>
<line x1="1054" y1="1169.58" x2="1057.6" y2="1169.58" stroke="#000" stroke-width="1"/>
<line x1="1054" y1="1195.02" x2="1057.6" y2="1195.02" stroke="#000" stroke-width="1"/>
<line x1="1054" y1="1207.74" x2="1057.6" y2="1207.74" stroke="#000" stroke-width="1"/>
<line x1="1054" y1="1220.46" x2="1057.6" y2="1220.46" stroke="#000" stroke-width="1"/>
<line x1="1054" y1="1233.18" x2="1057.6" y2="1233.18" stroke="#000" stroke-width="1"/>
<line x1="1054" y1="1258.62" x2="1057.6" y2="1258.62" stroke="#000" stroke-width="1"/>
<line x1="1054" y1="1271.34" x2="1057.6" y2="1271.34" stroke="#000" stroke-width="1"/>
<line x1="1054" y1="1284.06" x2="1057.6" y2="1284.06" stroke="#000" stroke-width="1"/>
<line x1="1054" y1="1296.78" x2="1057.6" y2="1296.78" stroke="#000" stroke-width="1"/>
<line x1="1054" y1="1322.22" x2="1057.6" y2="1322.22" stroke="#000" stroke-width="1"/>
<line x1="1054" y1="1334.94" x2="1057.6" y2="1334.94" stroke="#000" stroke-width="1"/>
<line x1="1054" y1="1347.66" x2="1057.6" y2="1347.66" stroke="#000" stroke-width="1"/>
<line x1="1054" y1="1360.38" x2="1057.6" y2="1360.38" stroke="#000" stroke-width="1"/>
<text x="1187.25" y="1430.1" font-size="13.2" font-weight="bold" text-anchor="middle" letter-spacing="0.7">APC-CD14</text>
<text transform="translate(1014.6,1241) rotate(-90)" font-size="13.2" font-weight="bold" text-anchor="middle" letter-spacing="1">Count</text>
<line x1="1189" y1="1290.5" x2="1321.7" y2="1290.5" stroke="#000" stroke-width="1.7"/>
<line x1="1189" y1="1285.3" x2="1189" y2="1295.7" stroke="#000" stroke-width="1.8"/>
<line x1="1321.1" y1="1285.3" x2="1321.1" y2="1295.7" stroke="#000" stroke-width="1.6"/>
<text transform="translate(1255.5,1255.1) scale(0.9,1)" font-size="13.3" text-anchor="middle" fill="#111" letter-spacing="0.5">CD14+</text>
<text transform="translate(1255.5,1272.9) scale(0.9,1)" font-size="13.3" text-anchor="middle" fill="#111" letter-spacing="0.5">27.5</text>
<text x="1189.4" y="1093.7" font-size="28.5" font-weight="bold" text-anchor="middle">PMA</text>
<line x1="86" y1="1442.6" x2="645.6" y2="1442.6" stroke="#000" stroke-width="4"/>
<line x1="736.7" y1="1442.6" x2="1296.2" y2="1442.6" stroke="#000" stroke-width="4"/>
<text x="365.8" y="1477.3" font-size="28.2" font-weight="bold" text-anchor="middle">shNC</text>
<text x="1016.5" y="1477.3" font-size="28.2" font-weight="bold" text-anchor="middle">shDNMT3B</text>
<line x1="1480.65" y1="363.2" x2="1480.65" y2="366.4" stroke="#265197" stroke-width="1.3"/>
<line x1="1470.85" y1="363.2" x2="1490.45" y2="363.2" stroke="#265197" stroke-width="1.4"/>
<path d="M1461.95 387.6 V366.65 H1499.35 V387.6" fill="#7ea1d5" stroke="#265197" stroke-width="2.5"/>
<line x1="1539.55" y1="271.8" x2="1539.55" y2="278" stroke="#4c2a94" stroke-width="1.3"/>
<line x1="1529.75" y1="271.8" x2="1549.35" y2="271.8" stroke="#4c2a94" stroke-width="1.4"/>
<path d="M1521.05 387.6 V278.25 H1558.05 V387.6" fill="#a68cd5" stroke="#4c2a94" stroke-width="2.5"/>
<line x1="1637.85" y1="338" x2="1637.85" y2="340.8" stroke="#265197" stroke-width="1.3"/>
<line x1="1628.05" y1="338" x2="1647.65" y2="338" stroke="#265197" stroke-width="1.4"/>
<path d="M1619.15 387.6 V341.05 H1656.55 V387.6" fill="#7ea1d5" stroke="#265197" stroke-width="2.5"/>
<line x1="1696.7" y1="221" x2="1696.7" y2="228" stroke="#4c2a94" stroke-width="1.3"/>
<line x1="1686.9" y1="221" x2="1706.5" y2="221" stroke="#4c2a94" stroke-width="1.4"/>
<path d="M1678.25 387.6 V228.25 H1715.15 V387.6" fill="#a68cd5" stroke="#4c2a94" stroke-width="2.5"/>
<line x1="1441.7" y1="48.5" x2="1441.7" y2="388.7" stroke="#000" stroke-width="2.2"/>
<line x1="1440.6" y1="387.6" x2="1736.7" y2="387.6" stroke="#000" stroke-width="2.2"/>
<line x1="1431.5" y1="387.6" x2="1441.7" y2="387.6" stroke="#000" stroke-width="2.2"/>
<text x="1429.1" y="395.5" font-size="22.4" font-weight="bold" text-anchor="end">0</text>
<line x1="1431.5" y1="320" x2="1441.7" y2="320" stroke="#000" stroke-width="2.2"/>
<text x="1429.1" y="327.9" font-size="22.4" font-weight="bold" text-anchor="end">20</text>
<line x1="1431.5" y1="252.4" x2="1441.7" y2="252.4" stroke="#000" stroke-width="2.2"/>
<text x="1429.1" y="260.3" font-size="22.4" font-weight="bold" text-anchor="end">40</text>
<line x1="1431.5" y1="184.8" x2="1441.7" y2="184.8" stroke="#000" stroke-width="2.2"/>
<text x="1429.1" y="192.7" font-size="22.4" font-weight="bold" text-anchor="end">60</text>
<line x1="1431.5" y1="117.2" x2="1441.7" y2="117.2" stroke="#000" stroke-width="2.2"/>
<text x="1429.1" y="125.1" font-size="22.4" font-weight="bold" text-anchor="end">80</text>
<line x1="1431.5" y1="49.6" x2="1441.7" y2="49.6" stroke="#000" stroke-width="2.2"/>
<text x="1429.1" y="57.5" font-size="22.4" font-weight="bold" text-anchor="end">100</text>
<line x1="1509.5" y1="387.6" x2="1509.5" y2="397.2" stroke="#000" stroke-width="2.2"/>
<line x1="1666.9" y1="387.6" x2="1666.9" y2="397.2" stroke="#000" stroke-width="2.2"/>
<text x="1509.5" y="423.6" font-size="25.2" font-weight="bold" text-anchor="middle">shNC</text>
<text x="1666.3" y="423.6" font-size="25.2" font-weight="bold" text-anchor="middle">shUHRF1</text>
<text transform="translate(1379.3,215.6) rotate(-90)" font-size="24.3" font-weight="bold" text-anchor="middle">Count of CD14-positive cells (%)</text>
<rect x="1627.6" y="47.5" width="21.8" height="13" fill="#7ea1d5" stroke="#265197" stroke-width="2.2"/>
<rect x="1627.6" y="78.7" width="21.8" height="13" fill="#a68cd5" stroke="#4c2a94" stroke-width="2.2"/>
<text x="1664.7" y="61.6" font-size="22">DMSO</text>
<text x="1664.7" y="92.8" font-size="22">PMA</text>
<line x1="1480.9" y1="255.3" x2="1540" y2="255.3" stroke="#000" stroke-width="2.4"/>
<text x="1512.05" y="254.85" font-size="21.4" font-weight="bold" text-anchor="middle" letter-spacing="-0.75">****</text>
<line x1="1480.9" y1="213.9" x2="1638.6" y2="213.9" stroke="#000" stroke-width="2.4"/>
<text x="1561.35" y="214.35" font-size="21.4" font-weight="bold" text-anchor="middle" letter-spacing="-0.75">**</text>
<line x1="1638.6" y1="182.6" x2="1697.2" y2="182.6" stroke="#000" stroke-width="2.4"/>
<text x="1669.5" y="181.85" font-size="21.4" font-weight="bold" text-anchor="middle" letter-spacing="-0.75">****</text>
<line x1="1540" y1="146.4" x2="1697.2" y2="146.4" stroke="#000" stroke-width="2.4"/>
<text x="1620.2" y="144.25" font-size="21.4" font-weight="bold" text-anchor="middle" letter-spacing="-0.75">****</text>
<line x1="1480.65" y1="872.3" x2="1480.65" y2="875" stroke="#265197" stroke-width="1.3"/>
<line x1="1470.85" y1="872.3" x2="1490.45" y2="872.3" stroke="#265197" stroke-width="1.4"/>
<path d="M1461.95 894 V875.25 H1499.35 V894" fill="#7ea1d5" stroke="#265197" stroke-width="2.5"/>
<line x1="1539.55" y1="786.3" x2="1539.55" y2="790.3" stroke="#4c2a94" stroke-width="1.3"/>
<line x1="1529.75" y1="786.3" x2="1549.35" y2="786.3" stroke="#4c2a94" stroke-width="1.4"/>
<path d="M1521.05 894 V790.55 H1558.05 V894" fill="#a68cd5" stroke="#4c2a94" stroke-width="2.5"/>
<line x1="1637.85" y1="842.2" x2="1637.85" y2="846.7" stroke="#265197" stroke-width="1.3"/>
<line x1="1628.05" y1="842.2" x2="1647.65" y2="842.2" stroke="#265197" stroke-width="1.4"/>
<path d="M1619.15 894 V846.95 H1656.55 V894" fill="#7ea1d5" stroke="#265197" stroke-width="2.5"/>
<line x1="1696.7" y1="712.4" x2="1696.7" y2="719.6" stroke="#4c2a94" stroke-width="1.3"/>
<line x1="1686.9" y1="712.4" x2="1706.5" y2="712.4" stroke="#4c2a94" stroke-width="1.4"/>
<path d="M1678.25 894 V719.85 H1715.15 V894" fill="#a68cd5" stroke="#4c2a94" stroke-width="2.5"/>
<line x1="1441.7" y1="554.9" x2="1441.7" y2="895.1" stroke="#000" stroke-width="2.2"/>
<line x1="1440.6" y1="894" x2="1736.7" y2="894" stroke="#000" stroke-width="2.2"/>
<line x1="1431.5" y1="894" x2="1441.7" y2="894" stroke="#000" stroke-width="2.2"/>
<text x="1429.1" y="901.9" font-size="22.4" font-weight="bold" text-anchor="end">0</text>
<line x1="1431.5" y1="826.4" x2="1441.7" y2="826.4" stroke="#000" stroke-width="2.2"/>
<text x="1429.1" y="834.3" font-size="22.4" font-weight="bold" text-anchor="end">20</text>
<line x1="1431.5" y1="758.8" x2="1441.7" y2="758.8" stroke="#000" stroke-width="2.2"/>
<text x="1429.1" y="766.7" font-size="22.4" font-weight="bold" text-anchor="end">40</text>
<line x1="1431.5" y1="691.2" x2="1441.7" y2="691.2" stroke="#000" stroke-width="2.2"/>
<text x="1429.1" y="699.1" font-size="22.4" font-weight="bold" text-anchor="end">60</text>
<line x1="1431.5" y1="623.6" x2="1441.7" y2="623.6" stroke="#000" stroke-width="2.2"/>
<text x="1429.1" y="631.5" font-size="22.4" font-weight="bold" text-anchor="end">80</text>
<line x1="1431.5" y1="556" x2="1441.7" y2="556" stroke="#000" stroke-width="2.2"/>
<text x="1429.1" y="563.9" font-size="22.4" font-weight="bold" text-anchor="end">100</text>
<line x1="1509.5" y1="894" x2="1509.5" y2="903.6" stroke="#000" stroke-width="2.2"/>
<line x1="1666.9" y1="894" x2="1666.9" y2="903.6" stroke="#000" stroke-width="2.2"/>
<text x="1509.5" y="930" font-size="25.2" font-weight="bold" text-anchor="middle">shNC</text>
<text x="1666.3" y="930" font-size="25.2" font-weight="bold" text-anchor="middle">shDNMT1</text>
<text transform="translate(1379.3,722) rotate(-90)" font-size="24.3" font-weight="bold" text-anchor="middle">Count of CD14-positive cells (%)</text>
<rect x="1627.6" y="553.9" width="21.8" height="13" fill="#7ea1d5" stroke="#265197" stroke-width="2.2"/>
<rect x="1627.6" y="585.1" width="21.8" height="13" fill="#a68cd5" stroke="#4c2a94" stroke-width="2.2"/>
<text x="1664.7" y="568" font-size="22">DMSO</text>
<text x="1664.7" y="599.2" font-size="22">PMA</text>
<line x1="1480.9" y1="761.5" x2="1540" y2="761.5" stroke="#000" stroke-width="2.4"/>
<text x="1512.05" y="761.05" font-size="21.4" font-weight="bold" text-anchor="middle" letter-spacing="-0.75">****</text>
<line x1="1480.9" y1="720.3" x2="1638.6" y2="720.3" stroke="#000" stroke-width="2.4"/>
<text x="1561.35" y="720.75" font-size="21.4" font-weight="bold" text-anchor="middle" letter-spacing="-0.75">**</text>
<line x1="1638.6" y1="689.2" x2="1697.2" y2="689.2" stroke="#000" stroke-width="2.4"/>
<text x="1669.5" y="688.45" font-size="21.4" font-weight="bold" text-anchor="middle" letter-spacing="-0.75">****</text>
<line x1="1540" y1="652.8" x2="1697.2" y2="652.8" stroke="#000" stroke-width="2.4"/>
<text x="1620.2" y="650.65" font-size="21.4" font-weight="bold" text-anchor="middle" letter-spacing="-0.75">****</text>
<line x1="1481.75" y1="1391.8" x2="1481.75" y2="1394.5" stroke="#265197" stroke-width="1.3"/>
<line x1="1471.95" y1="1391.8" x2="1491.55" y2="1391.8" stroke="#265197" stroke-width="1.4"/>
<path d="M1463.05 1412.5 V1394.75 H1500.45 V1412.5" fill="#7ea1d5" stroke="#265197" stroke-width="2.5"/>
<line x1="1540.65" y1="1255.8" x2="1540.65" y2="1275" stroke="#4c2a94" stroke-width="1.3"/>
<line x1="1530.85" y1="1255.8" x2="1550.45" y2="1255.8" stroke="#4c2a94" stroke-width="1.4"/>
<path d="M1522.15 1412.5 V1275.25 H1559.15 V1412.5" fill="#a68cd5" stroke="#4c2a94" stroke-width="2.5"/>
<line x1="1638.95" y1="1383.9" x2="1638.95" y2="1388.9" stroke="#265197" stroke-width="1.3"/>
<line x1="1629.15" y1="1383.9" x2="1648.75" y2="1383.9" stroke="#265197" stroke-width="1.4"/>
<path d="M1620.25 1412.5 V1389.15 H1657.65 V1412.5" fill="#7ea1d5" stroke="#265197" stroke-width="2.5"/>
<line x1="1697.8" y1="1266.9" x2="1697.8" y2="1286.1" stroke="#4c2a94" stroke-width="1.3"/>
<line x1="1688" y1="1266.9" x2="1707.6" y2="1266.9" stroke="#4c2a94" stroke-width="1.4"/>
<path d="M1679.35 1412.5 V1286.35 H1716.25 V1412.5" fill="#a68cd5" stroke="#4c2a94" stroke-width="2.5"/>
<line x1="1442.8" y1="1073.4" x2="1442.8" y2="1413.6" stroke="#000" stroke-width="2.2"/>
<line x1="1441.7" y1="1412.5" x2="1737.8" y2="1412.5" stroke="#000" stroke-width="2.2"/>
<line x1="1432.6" y1="1412.5" x2="1442.8" y2="1412.5" stroke="#000" stroke-width="2.2"/>
<text x="1430.2" y="1420.4" font-size="22.4" font-weight="bold" text-anchor="end">0</text>
<line x1="1432.6" y1="1344.9" x2="1442.8" y2="1344.9" stroke="#000" stroke-width="2.2"/>
<text x="1430.2" y="1352.8" font-size="22.4" font-weight="bold" text-anchor="end">20</text>
<line x1="1432.6" y1="1277.3" x2="1442.8" y2="1277.3" stroke="#000" stroke-width="2.2"/>
<text x="1430.2" y="1285.2" font-size="22.4" font-weight="bold" text-anchor="end">40</text>
<line x1="1432.6" y1="1209.7" x2="1442.8" y2="1209.7" stroke="#000" stroke-width="2.2"/>
<text x="1430.2" y="1217.6" font-size="22.4" font-weight="bold" text-anchor="end">60</text>
<line x1="1432.6" y1="1142.1" x2="1442.8" y2="1142.1" stroke="#000" stroke-width="2.2"/>
<text x="1430.2" y="1150" font-size="22.4" font-weight="bold" text-anchor="end">80</text>
<line x1="1432.6" y1="1074.5" x2="1442.8" y2="1074.5" stroke="#000" stroke-width="2.2"/>
<text x="1430.2" y="1082.4" font-size="22.4" font-weight="bold" text-anchor="end">100</text>
<line x1="1510.6" y1="1412.5" x2="1510.6" y2="1422.1" stroke="#000" stroke-width="2.2"/>
<line x1="1668" y1="1412.5" x2="1668" y2="1422.1" stroke="#000" stroke-width="2.2"/>
<text x="1510.6" y="1448.5" font-size="25.2" font-weight="bold" text-anchor="middle">shNC</text>
<text x="1667.4" y="1448.5" font-size="25.2" font-weight="bold" text-anchor="middle">shDNMT3B</text>
<text transform="translate(1380.4,1240.5) rotate(-90)" font-size="24.3" font-weight="bold" text-anchor="middle">Count of CD14-positive cells (%)</text>
<rect x="1628.7" y="1072.4" width="21.8" height="13" fill="#7ea1d5" stroke="#265197" stroke-width="2.2"/>
<rect x="1628.7" y="1103.6" width="21.8" height="13" fill="#a68cd5" stroke="#4c2a94" stroke-width="2.2"/>
<text x="1665.8" y="1086.5" font-size="22">DMSO</text>
<text x="1665.8" y="1117.7" font-size="22">PMA</text>
<line x1="1482" y1="1246.5" x2="1540.4" y2="1246.5" stroke="#000" stroke-width="2.4"/>
<text x="1510.4" y="1245.85" font-size="21.4" font-weight="bold" text-anchor="middle" letter-spacing="-0.75">***</text>
<line x1="1639.4" y1="1246.5" x2="1698" y2="1246.5" stroke="#000" stroke-width="2.4"/>
<text x="1667.9" y="1245.85" font-size="21.4" font-weight="bold" text-anchor="middle" letter-spacing="-0.75">**</text>
<line x1="1482" y1="1210" x2="1639" y2="1210" stroke="#000" stroke-width="2.4"/>
<text x="1560.5" y="1201.4" font-size="20" font-weight="bold" text-anchor="middle">n.s.</text>
<line x1="1540.4" y1="1171.8" x2="1697.8" y2="1171.8" stroke="#000" stroke-width="2.4"/>
<text x="1619.1" y="1163.4" font-size="20" font-weight="bold" text-anchor="middle">n.s.</text>
<line x1="164.8" y1="1822.6" x2="164.8" y2="1824.4" stroke="#265197" stroke-width="1.3"/>
<line x1="153.9" y1="1822.6" x2="175.7" y2="1822.6" stroke="#265197" stroke-width="1.4"/>
<path d="M143.55 1886.9 V1824.65 H186.05 V1886.9" fill="#7ea1d5" stroke="#265197" stroke-width="2.5"/>
<line x1="232.4" y1="1720.9" x2="232.4" y2="1734" stroke="#4c2a94" stroke-width="1.3"/>
<line x1="221.5" y1="1720.9" x2="243.3" y2="1720.9" stroke="#4c2a94" stroke-width="1.4"/>
<path d="M211.15 1886.9 V1734.25 H253.65 V1886.9" fill="#a68cd5" stroke="#4c2a94" stroke-width="2.5"/>
<line x1="300" y1="1658.4" x2="300" y2="1665.6" stroke="#97148f" stroke-width="1.3"/>
<line x1="289.1" y1="1658.4" x2="310.9" y2="1658.4" stroke="#97148f" stroke-width="1.4"/>
<path d="M278.75 1886.9 V1665.85 H321.25 V1886.9" fill="#e996ea" stroke="#97148f" stroke-width="2.5"/>
<line x1="367.6" y1="1802.6" x2="367.6" y2="1808.3" stroke="#559326" stroke-width="1.3"/>
<line x1="356.7" y1="1802.6" x2="378.5" y2="1802.6" stroke="#559326" stroke-width="1.4"/>
<path d="M346.35 1886.9 V1808.55 H388.85 V1886.9" fill="#badf86" stroke="#559326" stroke-width="2.5"/>
<line x1="119.9" y1="1632.1" x2="119.9" y2="1888" stroke="#000" stroke-width="2.2"/>
<line x1="118.8" y1="1886.9" x2="413" y2="1886.9" stroke="#000" stroke-width="2.2"/>
<line x1="109.3" y1="1886.9" x2="119.9" y2="1886.9" stroke="#000" stroke-width="2.2"/>
<text x="106.1" y="1894.5" font-size="21.4" font-weight="bold" text-anchor="end">0</text>
<line x1="109.3" y1="1823.48" x2="119.9" y2="1823.48" stroke="#000" stroke-width="2.2"/>
<text x="106.1" y="1831.08" font-size="21.4" font-weight="bold" text-anchor="end">1</text>
<line x1="109.3" y1="1760.05" x2="119.9" y2="1760.05" stroke="#000" stroke-width="2.2"/>
<text x="106.1" y="1767.65" font-size="21.4" font-weight="bold" text-anchor="end">2</text>
<line x1="109.3" y1="1696.62" x2="119.9" y2="1696.62" stroke="#000" stroke-width="2.2"/>
<text x="106.1" y="1704.22" font-size="21.4" font-weight="bold" text-anchor="end">3</text>
<line x1="109.3" y1="1633.2" x2="119.9" y2="1633.2" stroke="#000" stroke-width="2.2"/>
<text x="106.1" y="1640.8" font-size="21.4" font-weight="bold" text-anchor="end">4</text>
<text x="267" y="1596.4" font-size="29" font-weight="bold" text-anchor="middle" font-style="italic">TNF</text>
<text transform="translate(81.6,1760.05) rotate(-90)" font-size="23.6" font-weight="bold" text-anchor="middle">Relative mRNA level</text>
<rect x="424.25" y="1703.05" width="23.7" height="11.3" fill="#7ea1d5" stroke="#265197" stroke-width="2.5"/>
<text x="464.2" y="1715.5" font-size="19.8" letter-spacing="-0.5">shNC</text>
<rect x="424.25" y="1736.65" width="23.7" height="11.3" fill="#a68cd5" stroke="#4c2a94" stroke-width="2.5"/>
<text x="464.2" y="1749.1" font-size="19.8" letter-spacing="-0.5">shUHRF1</text>
<rect x="424.25" y="1770.25" width="23.7" height="11.3" fill="#e996ea" stroke="#97148f" stroke-width="2.5"/>
<text x="464.2" y="1782.7" font-size="19.8" letter-spacing="-0.5">shDNMT1</text>
<rect x="424.25" y="1803.85" width="23.7" height="11.3" fill="#badf86" stroke="#559326" stroke-width="2.5"/>
<text x="464.2" y="1816.3" font-size="19.8" letter-spacing="-0.5">shDNMT3B</text>
<text x="232.5" y="1718.98" font-size="30.6" font-weight="bold" text-anchor="middle" letter-spacing="0">*</text>
<text x="300" y="1655.38" font-size="30.6" font-weight="bold" text-anchor="middle" letter-spacing="0">**</text>
<text x="367.6" y="1791.8" font-size="20.2" text-anchor="middle">n.s.</text>
<line x1="758.7" y1="1759.4" x2="758.7" y2="1761" stroke="#265197" stroke-width="1.3"/>
<line x1="747.8" y1="1759.4" x2="769.6" y2="1759.4" stroke="#265197" stroke-width="1.4"/>
<path d="M737.45 1886.9 V1761.25 H779.95 V1886.9" fill="#7ea1d5" stroke="#265197" stroke-width="2.5"/>
<line x1="826.3" y1="1667.1" x2="826.3" y2="1671" stroke="#4c2a94" stroke-width="1.3"/>
<line x1="815.4" y1="1667.1" x2="837.2" y2="1667.1" stroke="#4c2a94" stroke-width="1.4"/>
<path d="M805.05 1886.9 V1671.25 H847.55 V1886.9" fill="#a68cd5" stroke="#4c2a94" stroke-width="2.5"/>
<line x1="893.9" y1="1647.9" x2="893.9" y2="1656.5" stroke="#97148f" stroke-width="1.3"/>
<line x1="883" y1="1647.9" x2="904.8" y2="1647.9" stroke="#97148f" stroke-width="1.4"/>
<path d="M872.65 1886.9 V1656.75 H915.15 V1886.9" fill="#e996ea" stroke="#97148f" stroke-width="2.5"/>
<line x1="961.5" y1="1811.7" x2="961.5" y2="1820.7" stroke="#559326" stroke-width="1.3"/>
<line x1="950.6" y1="1811.7" x2="972.4" y2="1811.7" stroke="#559326" stroke-width="1.4"/>
<path d="M940.25 1886.9 V1820.95 H982.75 V1886.9" fill="#badf86" stroke="#559326" stroke-width="2.5"/>
<line x1="713.6" y1="1632.1" x2="713.6" y2="1888" stroke="#000" stroke-width="2.2"/>
<line x1="712.5" y1="1886.9" x2="1006.8" y2="1886.9" stroke="#000" stroke-width="2.2"/>
<line x1="703" y1="1886.9" x2="713.6" y2="1886.9" stroke="#000" stroke-width="2.2"/>
<text x="699.8" y="1894.5" font-size="21.4" font-weight="bold" text-anchor="end" letter-spacing="-0.45">0.0</text>
<line x1="703" y1="1823.48" x2="713.6" y2="1823.48" stroke="#000" stroke-width="2.2"/>
<text x="699.8" y="1831.08" font-size="21.4" font-weight="bold" text-anchor="end" letter-spacing="-0.45">0.5</text>
<line x1="703" y1="1760.05" x2="713.6" y2="1760.05" stroke="#000" stroke-width="2.2"/>
<text x="699.8" y="1767.65" font-size="21.4" font-weight="bold" text-anchor="end" letter-spacing="-0.45">1.0</text>
<line x1="703" y1="1696.62" x2="713.6" y2="1696.62" stroke="#000" stroke-width="2.2"/>
<text x="699.8" y="1704.22" font-size="21.4" font-weight="bold" text-anchor="end" letter-spacing="-0.45">1.5</text>
<line x1="703" y1="1633.2" x2="713.6" y2="1633.2" stroke="#000" stroke-width="2.2"/>
<text x="699.8" y="1640.8" font-size="21.4" font-weight="bold" text-anchor="end" letter-spacing="-0.45">2.0</text>
<text x="856.8" y="1596.8" font-size="29" font-weight="bold" text-anchor="middle" font-style="italic">IL1B</text>
<text transform="translate(658.2,1760.05) rotate(-90)" font-size="23.6" font-weight="bold" text-anchor="middle">Relative mRNA level</text>
<rect x="1017.65" y="1703.05" width="23.7" height="11.3" fill="#7ea1d5" stroke="#265197" stroke-width="2.5"/>
<text x="1057.6" y="1715.5" font-size="19.8" letter-spacing="-0.5">shNC</text>
<rect x="1017.65" y="1736.65" width="23.7" height="11.3" fill="#a68cd5" stroke="#4c2a94" stroke-width="2.5"/>
<text x="1057.6" y="1749.1" font-size="19.8" letter-spacing="-0.5">shUHRF1</text>
<rect x="1017.65" y="1770.25" width="23.7" height="11.3" fill="#e996ea" stroke="#97148f" stroke-width="2.5"/>
<text x="1057.6" y="1782.7" font-size="19.8" letter-spacing="-0.5">shDNMT1</text>
<rect x="1017.65" y="1803.85" width="23.7" height="11.3" fill="#badf86" stroke="#559326" stroke-width="2.5"/>
<text x="1057.6" y="1816.3" font-size="19.8" letter-spacing="-0.5">shDNMT3B</text>
<text x="825.9" y="1663.78" font-size="30.6" font-weight="bold" text-anchor="middle" letter-spacing="0">**</text>
<text x="893.1" y="1645.28" font-size="30.6" font-weight="bold" text-anchor="middle" letter-spacing="0">**</text>
<text x="961.4" y="1811.58" font-size="30.6" font-weight="bold" text-anchor="middle" letter-spacing="0">*</text>
<path d="M1312.95 1886.6 V1837.65 H1355.45 V1886.6" fill="#7ea1d5" stroke="#265197" stroke-width="2.5"/>
<line x1="1401.5" y1="1654.8" x2="1401.5" y2="1676" stroke="#4c2a94" stroke-width="1.3"/>
<line x1="1390.6" y1="1654.8" x2="1412.4" y2="1654.8" stroke="#4c2a94" stroke-width="1.4"/>
<path d="M1380.25 1886.6 V1676.25 H1422.75 V1886.6" fill="#a68cd5" stroke="#4c2a94" stroke-width="2.5"/>
<line x1="1468.8" y1="1688.5" x2="1468.8" y2="1698.1" stroke="#97148f" stroke-width="1.3"/>
<line x1="1457.9" y1="1688.5" x2="1479.7" y2="1688.5" stroke="#97148f" stroke-width="1.4"/>
<path d="M1447.55 1886.6 V1698.35 H1490.05 V1886.6" fill="#e996ea" stroke="#97148f" stroke-width="2.5"/>
<line x1="1536.1" y1="1718.4" x2="1536.1" y2="1731.1" stroke="#559326" stroke-width="1.3"/>
<line x1="1525.2" y1="1718.4" x2="1547" y2="1718.4" stroke="#559326" stroke-width="1.4"/>
<path d="M1514.85 1886.6 V1731.35 H1557.35 V1886.6" fill="#badf86" stroke="#559326" stroke-width="2.5"/>
<line x1="1289.9" y1="1632.1" x2="1289.9" y2="1887.7" stroke="#000" stroke-width="2.2"/>
<line x1="1288.8" y1="1886.6" x2="1582.1" y2="1886.6" stroke="#000" stroke-width="2.2"/>
<line x1="1279.3" y1="1886.6" x2="1289.9" y2="1886.6" stroke="#000" stroke-width="2.2"/>
<text x="1276.1" y="1894.2" font-size="21.4" font-weight="bold" text-anchor="end">0</text>
<line x1="1279.3" y1="1835.92" x2="1289.9" y2="1835.92" stroke="#000" stroke-width="2.2"/>
<text x="1276.1" y="1843.52" font-size="21.4" font-weight="bold" text-anchor="end">1</text>
<line x1="1279.3" y1="1785.24" x2="1289.9" y2="1785.24" stroke="#000" stroke-width="2.2"/>
<text x="1276.1" y="1792.84" font-size="21.4" font-weight="bold" text-anchor="end">2</text>
<line x1="1279.3" y1="1734.56" x2="1289.9" y2="1734.56" stroke="#000" stroke-width="2.2"/>
<text x="1276.1" y="1742.16" font-size="21.4" font-weight="bold" text-anchor="end">3</text>
<line x1="1279.3" y1="1683.88" x2="1289.9" y2="1683.88" stroke="#000" stroke-width="2.2"/>
<text x="1276.1" y="1691.48" font-size="21.4" font-weight="bold" text-anchor="end">4</text>
<line x1="1279.3" y1="1633.2" x2="1289.9" y2="1633.2" stroke="#000" stroke-width="2.2"/>
<text x="1276.1" y="1640.8" font-size="21.4" font-weight="bold" text-anchor="end">5</text>
<text x="1431.8" y="1596.8" font-size="29" font-weight="bold" text-anchor="middle" font-style="italic">IL6</text>
<text transform="translate(1253.2,1759.9) rotate(-90)" font-size="23.6" font-weight="bold" text-anchor="middle">Relative mRNA level</text>
<rect x="1606.85" y="1702.65" width="23.7" height="11.3" fill="#7ea1d5" stroke="#265197" stroke-width="2.5"/>
<text x="1646.8" y="1715.1" font-size="19.8" letter-spacing="-0.5">shNC</text>
<rect x="1606.85" y="1736.25" width="23.7" height="11.3" fill="#a68cd5" stroke="#4c2a94" stroke-width="2.5"/>
<text x="1646.8" y="1748.7" font-size="19.8" letter-spacing="-0.5">shUHRF1</text>
<rect x="1606.85" y="1769.85" width="23.7" height="11.3" fill="#e996ea" stroke="#97148f" stroke-width="2.5"/>
<text x="1646.8" y="1782.3" font-size="19.8" letter-spacing="-0.5">shDNMT1</text>
<rect x="1606.85" y="1803.45" width="23.7" height="11.3" fill="#badf86" stroke="#559326" stroke-width="2.5"/>
<text x="1646.8" y="1815.9" font-size="19.8" letter-spacing="-0.5">shDNMT3B</text>
<text x="1402" y="1652.18" font-size="30.6" font-weight="bold" text-anchor="middle" letter-spacing="0">*</text>
<text x="1469.6" y="1684.58" font-size="30.6" font-weight="bold" text-anchor="middle" letter-spacing="0">**</text>
<text x="1536.6" y="1718.28" font-size="30.6" font-weight="bold" text-anchor="middle" letter-spacing="0">*</text>
<line x1="164" y1="2238.1" x2="164" y2="2242.4" stroke="#265197" stroke-width="1.3"/>
<line x1="153.1" y1="2238.1" x2="174.9" y2="2238.1" stroke="#265197" stroke-width="1.4"/>
<path d="M142.75 2304.7 V2242.65 H185.25 V2304.7" fill="#7ea1d5" stroke="#265197" stroke-width="2.5"/>
<line x1="231.6" y1="2244.3" x2="231.6" y2="2247.2" stroke="#4c2a94" stroke-width="1.3"/>
<line x1="220.7" y1="2244.3" x2="242.5" y2="2244.3" stroke="#4c2a94" stroke-width="1.4"/>
<path d="M210.35 2304.7 V2247.45 H252.85 V2304.7" fill="#a68cd5" stroke="#4c2a94" stroke-width="2.5"/>
<line x1="299.2" y1="2122.9" x2="299.2" y2="2138" stroke="#97148f" stroke-width="1.3"/>
<line x1="288.3" y1="2122.9" x2="310.1" y2="2122.9" stroke="#97148f" stroke-width="1.4"/>
<path d="M277.95 2304.7 V2138.25 H320.45 V2304.7" fill="#e996ea" stroke="#97148f" stroke-width="2.5"/>
<line x1="366.8" y1="2223.5" x2="366.8" y2="2227.8" stroke="#559326" stroke-width="1.3"/>
<line x1="355.9" y1="2223.5" x2="377.7" y2="2223.5" stroke="#559326" stroke-width="1.4"/>
<path d="M345.55 2304.7 V2228.05 H388.05 V2304.7" fill="#badf86" stroke="#559326" stroke-width="2.5"/>
<line x1="119.7" y1="2050.3" x2="119.7" y2="2305.8" stroke="#000" stroke-width="2.2"/>
<line x1="118.6" y1="2304.7" x2="412.4" y2="2304.7" stroke="#000" stroke-width="2.2"/>
<line x1="109.1" y1="2304.7" x2="119.7" y2="2304.7" stroke="#000" stroke-width="2.2"/>
<text x="105.9" y="2312.3" font-size="21.4" font-weight="bold" text-anchor="end">0</text>
<line x1="109.1" y1="2241.38" x2="119.7" y2="2241.38" stroke="#000" stroke-width="2.2"/>
<text x="105.9" y="2248.97" font-size="21.4" font-weight="bold" text-anchor="end">1</text>
<line x1="109.1" y1="2178.05" x2="119.7" y2="2178.05" stroke="#000" stroke-width="2.2"/>
<text x="105.9" y="2185.65" font-size="21.4" font-weight="bold" text-anchor="end">2</text>
<line x1="109.1" y1="2114.72" x2="119.7" y2="2114.72" stroke="#000" stroke-width="2.2"/>
<text x="105.9" y="2122.32" font-size="21.4" font-weight="bold" text-anchor="end">3</text>
<line x1="109.1" y1="2051.4" x2="119.7" y2="2051.4" stroke="#000" stroke-width="2.2"/>
<text x="105.9" y="2059" font-size="21.4" font-weight="bold" text-anchor="end">4</text>
<text x="266.2" y="2024.5" font-size="29" font-weight="bold" text-anchor="middle">TNF-α</text>
<text transform="translate(81.4,2178.05) rotate(-90)" font-size="23.6" font-weight="bold" text-anchor="middle">Relative absorbance (450 nm)</text>
<rect x="424.45" y="2117.85" width="23.7" height="11.3" fill="#7ea1d5" stroke="#265197" stroke-width="2.5"/>
<text x="464.4" y="2130.3" font-size="19.8" letter-spacing="-0.5">shNC</text>
<rect x="424.45" y="2151.35" width="23.7" height="11.3" fill="#a68cd5" stroke="#4c2a94" stroke-width="2.5"/>
<text x="464.4" y="2163.8" font-size="19.8" letter-spacing="-0.5">shUHRF1</text>
<rect x="424.45" y="2184.85" width="23.7" height="11.3" fill="#e996ea" stroke="#97148f" stroke-width="2.5"/>
<text x="464.4" y="2197.3" font-size="19.8" letter-spacing="-0.5">shDNMT1</text>
<rect x="424.45" y="2218.35" width="23.7" height="11.3" fill="#badf86" stroke="#559326" stroke-width="2.5"/>
<text x="464.4" y="2230.8" font-size="19.8" letter-spacing="-0.5">shDNMT3B</text>
<text x="233.6" y="2234.6" font-size="20.2" text-anchor="middle">n.s.</text>
<text x="299.7" y="2120.98" font-size="30.6" font-weight="bold" text-anchor="middle" letter-spacing="0">****</text>
<text x="366.9" y="2214.2" font-size="20.2" text-anchor="middle">n.s.</text>
<line x1="755.1" y1="2167" x2="755.1" y2="2184" stroke="#265197" stroke-width="1.3"/>
<line x1="744.2" y1="2167" x2="766" y2="2167" stroke="#265197" stroke-width="1.4"/>
<path d="M734.55 2306 V2184.25 H775.65 V2306" fill="#7ea1d5" stroke="#265197" stroke-width="2.5"/>
<line x1="820.7" y1="2140.9" x2="820.7" y2="2153.5" stroke="#4c2a94" stroke-width="1.3"/>
<line x1="809.8" y1="2140.9" x2="831.6" y2="2140.9" stroke="#4c2a94" stroke-width="1.4"/>
<path d="M800.15 2306 V2153.75 H841.25 V2306" fill="#a68cd5" stroke="#4c2a94" stroke-width="2.5"/>
<line x1="886.3" y1="2072.6" x2="886.3" y2="2095.4" stroke="#97148f" stroke-width="1.3"/>
<line x1="875.4" y1="2072.6" x2="897.2" y2="2072.6" stroke="#97148f" stroke-width="1.4"/>
<path d="M865.75 2306 V2095.65 H906.85 V2306" fill="#e996ea" stroke="#97148f" stroke-width="2.5"/>
<line x1="951.9" y1="2217.2" x2="951.9" y2="2224" stroke="#559326" stroke-width="1.3"/>
<line x1="941" y1="2217.2" x2="962.8" y2="2217.2" stroke="#559326" stroke-width="1.4"/>
<path d="M931.35 2306 V2224.25 H972.45 V2306" fill="#badf86" stroke="#559326" stroke-width="2.5"/>
<line x1="711.6" y1="2057.7" x2="711.6" y2="2307.1" stroke="#000" stroke-width="2.2"/>
<line x1="710.5" y1="2306" x2="996.6" y2="2306" stroke="#000" stroke-width="2.2"/>
<line x1="701" y1="2306" x2="711.6" y2="2306" stroke="#000" stroke-width="2.2"/>
<text x="697.8" y="2313.6" font-size="21.3" font-weight="bold" text-anchor="end" letter-spacing="-0.45">0.0</text>
<line x1="701" y1="2244.2" x2="711.6" y2="2244.2" stroke="#000" stroke-width="2.2"/>
<text x="697.8" y="2251.8" font-size="21.3" font-weight="bold" text-anchor="end" letter-spacing="-0.45">0.5</text>
<line x1="701" y1="2182.4" x2="711.6" y2="2182.4" stroke="#000" stroke-width="2.2"/>
<text x="697.8" y="2190" font-size="21.3" font-weight="bold" text-anchor="end" letter-spacing="-0.45">1.0</text>
<line x1="701" y1="2120.6" x2="711.6" y2="2120.6" stroke="#000" stroke-width="2.2"/>
<text x="697.8" y="2128.2" font-size="21.3" font-weight="bold" text-anchor="end" letter-spacing="-0.45">1.5</text>
<line x1="701" y1="2058.8" x2="711.6" y2="2058.8" stroke="#000" stroke-width="2.2"/>
<text x="697.8" y="2066.4" font-size="21.3" font-weight="bold" text-anchor="end" letter-spacing="-0.45">2.0</text>
<text x="856.8" y="2024.8" font-size="29" font-weight="bold" text-anchor="middle">IL-1β</text>
<text transform="translate(657,2182.4) rotate(-90)" font-size="23.3" font-weight="bold" text-anchor="middle">Relative absorbance (450 nm)</text>
<rect x="1004.65" y="2121.25" width="23.7" height="11.3" fill="#7ea1d5" stroke="#265197" stroke-width="2.5"/>
<text x="1044.6" y="2133.7" font-size="19.4" letter-spacing="-0.5">shNC</text>
<rect x="1004.65" y="2153.95" width="23.7" height="11.3" fill="#a68cd5" stroke="#4c2a94" stroke-width="2.5"/>
<text x="1044.6" y="2166.4" font-size="19.4" letter-spacing="-0.5">shUHRF1</text>
<rect x="1004.65" y="2186.65" width="23.7" height="11.3" fill="#e996ea" stroke="#97148f" stroke-width="2.5"/>
<text x="1044.6" y="2199.1" font-size="19.4" letter-spacing="-0.5">shDNMT1</text>
<rect x="1004.65" y="2219.35" width="23.7" height="11.3" fill="#badf86" stroke="#559326" stroke-width="2.5"/>
<text x="1044.6" y="2231.8" font-size="19.4" letter-spacing="-0.5">shDNMT3B</text>
<text x="822.6" y="2130.2" font-size="20.2" text-anchor="middle">n.s.</text>
<text x="886.9" y="2071.88" font-size="30.6" font-weight="bold" text-anchor="middle" letter-spacing="0">**</text>
<text x="952.3" y="2204.3" font-size="20.2" text-anchor="middle">n.s.</text>
<line x1="1334.6" y1="2233.6" x2="1334.6" y2="2242.4" stroke="#265197" stroke-width="1.3"/>
<line x1="1323.7" y1="2233.6" x2="1345.5" y2="2233.6" stroke="#265197" stroke-width="1.4"/>
<path d="M1313.35 2304.5 V2242.65 H1355.85 V2304.5" fill="#7ea1d5" stroke="#265197" stroke-width="2.5"/>
<line x1="1401.9" y1="2229" x2="1401.9" y2="2238.9" stroke="#4c2a94" stroke-width="1.3"/>
<line x1="1391" y1="2229" x2="1412.8" y2="2229" stroke="#4c2a94" stroke-width="1.4"/>
<path d="M1380.65 2304.5 V2239.15 H1423.15 V2304.5" fill="#a68cd5" stroke="#4c2a94" stroke-width="2.5"/>
<line x1="1469.2" y1="2063.4" x2="1469.2" y2="2096" stroke="#97148f" stroke-width="1.3"/>
<line x1="1458.3" y1="2063.4" x2="1480.1" y2="2063.4" stroke="#97148f" stroke-width="1.4"/>
<path d="M1447.95 2304.5 V2096.25 H1490.45 V2304.5" fill="#e996ea" stroke="#97148f" stroke-width="2.5"/>
<line x1="1536.5" y1="2218" x2="1536.5" y2="2229.6" stroke="#559326" stroke-width="1.3"/>
<line x1="1525.6" y1="2218" x2="1547.4" y2="2218" stroke="#559326" stroke-width="1.4"/>
<path d="M1515.25 2304.5 V2229.85 H1557.75 V2304.5" fill="#badf86" stroke="#559326" stroke-width="2.5"/>
<line x1="1290.4" y1="2050.3" x2="1290.4" y2="2305.6" stroke="#000" stroke-width="2.2"/>
<line x1="1289.3" y1="2304.5" x2="1582.1" y2="2304.5" stroke="#000" stroke-width="2.2"/>
<line x1="1279.8" y1="2304.5" x2="1290.4" y2="2304.5" stroke="#000" stroke-width="2.2"/>
<text x="1276.6" y="2312.1" font-size="21.4" font-weight="bold" text-anchor="end">0</text>
<line x1="1279.8" y1="2241.22" x2="1290.4" y2="2241.22" stroke="#000" stroke-width="2.2"/>
<text x="1276.6" y="2248.82" font-size="21.4" font-weight="bold" text-anchor="end">1</text>
<line x1="1279.8" y1="2177.95" x2="1290.4" y2="2177.95" stroke="#000" stroke-width="2.2"/>
<text x="1276.6" y="2185.55" font-size="21.4" font-weight="bold" text-anchor="end">2</text>
<line x1="1279.8" y1="2114.68" x2="1290.4" y2="2114.68" stroke="#000" stroke-width="2.2"/>
<text x="1276.6" y="2122.28" font-size="21.4" font-weight="bold" text-anchor="end">3</text>
<line x1="1279.8" y1="2051.4" x2="1290.4" y2="2051.4" stroke="#000" stroke-width="2.2"/>
<text x="1276.6" y="2059" font-size="21.4" font-weight="bold" text-anchor="end">4</text>
<text x="1431.8" y="2024.8" font-size="29" font-weight="bold" text-anchor="middle">IL-6</text>
<text transform="translate(1253.6,2177.95) rotate(-90)" font-size="23.6" font-weight="bold" text-anchor="middle">Relative absorbance (450 nm)</text>
<rect x="1594.25" y="2117.65" width="23.7" height="11.3" fill="#7ea1d5" stroke="#265197" stroke-width="2.5"/>
<text x="1634.2" y="2130.1" font-size="19.8" letter-spacing="-0.5">shNC</text>
<rect x="1594.25" y="2151.15" width="23.7" height="11.3" fill="#a68cd5" stroke="#4c2a94" stroke-width="2.5"/>
<text x="1634.2" y="2163.6" font-size="19.8" letter-spacing="-0.5">shUHRF1</text>
<rect x="1594.25" y="2184.65" width="23.7" height="11.3" fill="#e996ea" stroke="#97148f" stroke-width="2.5"/>
<text x="1634.2" y="2197.1" font-size="19.8" letter-spacing="-0.5">shDNMT1</text>
<rect x="1594.25" y="2218.15" width="23.7" height="11.3" fill="#badf86" stroke="#559326" stroke-width="2.5"/>
<text x="1634.2" y="2230.6" font-size="19.8" letter-spacing="-0.5">shDNMT3B</text>
<text x="1404.5" y="2217.8" font-size="20.2" text-anchor="middle">n.s.</text>
<text x="1469.1" y="2063.38" font-size="30.6" font-weight="bold" text-anchor="middle" letter-spacing="0">**</text>
<text x="1537.4" y="2207.2" font-size="20.2" text-anchor="middle">n.s.</text>
</svg>
</body></html>
